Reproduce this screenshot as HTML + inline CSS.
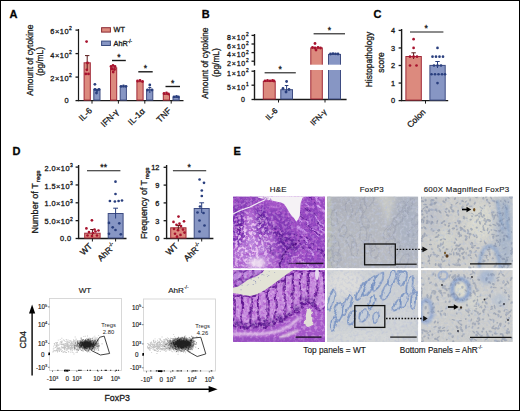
<!DOCTYPE html>
<html><head><meta charset="utf-8"><style>
html,body{margin:0;padding:0;background:#fff;overflow:hidden}
svg{display:block;font-family:"Liberation Sans", sans-serif;}
text{stroke:#1a1a1a;stroke-width:0.3px;}
text.ns{stroke:none;}
text.lt{stroke-width:0.15px;}
</style></head><body>
<svg width="520" height="411" viewBox="0 0 520 411">
<defs><filter id="b03" x="-5%" y="-5%" width="110%" height="110%"><feGaussianBlur stdDeviation="0.35"/></filter>
<filter id="b05" x="-20%" y="-20%" width="140%" height="140%"><feGaussianBlur stdDeviation="0.5"/></filter>
<filter id="b07" x="-5%" y="-5%" width="110%" height="110%"><feGaussianBlur stdDeviation="0.7"/></filter>
<filter id="b1" x="-30%" y="-30%" width="160%" height="160%"><feGaussianBlur stdDeviation="1"/></filter>
<filter id="b2" x="-50%" y="-50%" width="200%" height="200%"><feGaussianBlur stdDeviation="2"/></filter>
<filter id="b4" x="-50%" y="-50%" width="200%" height="200%"><feGaussianBlur stdDeviation="4"/></filter>
<filter id="b7" x="-50%" y="-50%" width="200%" height="200%"><feGaussianBlur stdDeviation="7"/></filter>
<filter id="warp" x="-10%" y="-10%" width="120%" height="120%"><feTurbulence type="fractalNoise" baseFrequency="0.09" numOctaves="2" seed="4" result="t"/><feDisplacementMap in="SourceGraphic" in2="t" scale="6" xChannelSelector="R" yChannelSelector="G"/><feGaussianBlur stdDeviation="0.6"/></filter>
<filter id="warp2" x="-10%" y="-10%" width="120%" height="120%"><feTurbulence type="fractalNoise" baseFrequency="0.12" numOctaves="2" seed="9" result="t"/><feDisplacementMap in="SourceGraphic" in2="t" scale="6" xChannelSelector="R" yChannelSelector="G"/><feGaussianBlur stdDeviation="0.45"/></filter>
<filter id="nHEd" x="0" y="0" width="100%" height="100%"><feTurbulence type="fractalNoise" baseFrequency="0.34" numOctaves="2" seed="3"/><feGaussianBlur stdDeviation="0.4"/><feColorMatrix type="matrix" values="0 0 0 0 0.42  0 0 0 0 0.10  0 0 0 0 0.60  4.2 0 0 0 -1.95"/></filter>
<filter id="nHEl" x="0" y="0" width="100%" height="100%"><feTurbulence type="fractalNoise" baseFrequency="0.34" numOctaves="2" seed="8"/><feGaussianBlur stdDeviation="0.4"/><feColorMatrix type="matrix" values="0 0 0 0 0.88  0 0 0 0 0.62  0 0 0 0 0.92  4.2 0 0 0 -1.95"/></filter>
<filter id="nFd" x="0" y="0" width="100%" height="100%"><feTurbulence type="fractalNoise" baseFrequency="0.32" numOctaves="2" seed="5"/><feGaussianBlur stdDeviation="0.45"/><feColorMatrix type="matrix" values="0 0 0 0 0.50  0 0 0 0 0.54  0 0 0 0 0.68  2.6 0 0 0 -1.25"/></filter>
<filter id="nFl" x="0" y="0" width="100%" height="100%"><feTurbulence type="fractalNoise" baseFrequency="0.32" numOctaves="2" seed="13"/><feGaussianBlur stdDeviation="0.45"/><feColorMatrix type="matrix" values="0 0 0 0 0.86  0 0 0 0 0.87  0 0 0 0 0.86  2.4 0 0 0 -1.15"/></filter>
<filter id="nMd" x="0" y="0" width="100%" height="100%"><feTurbulence type="fractalNoise" baseFrequency="0.35" numOctaves="2" seed="21"/><feGaussianBlur stdDeviation="0.4"/><feColorMatrix type="matrix" values="0 0 0 0 0.45  0 0 0 0 0.52  0 0 0 0 0.68  3.0 0 0 0 -1.5"/></filter>

<clipPath id="c00"><rect x="233" y="196.5" width="92.0" height="71.8"/></clipPath>
<clipPath id="c01"><rect x="327" y="196.5" width="91.2" height="71.8"/></clipPath>
<clipPath id="c02"><rect x="421" y="196.5" width="91.8" height="71.8"/></clipPath>
<clipPath id="c10"><rect x="233" y="270.1" width="92.0" height="71.9"/></clipPath>
<clipPath id="c11"><rect x="327" y="270.1" width="91.2" height="71.9"/></clipPath>
<clipPath id="c12"><rect x="421" y="270.1" width="91.8" height="71.9"/></clipPath>
<mask id="mL0" maskUnits="userSpaceOnUse" x="233" y="196" width="92" height="72"><ellipse cx="250" cy="244" rx="20" ry="30" fill="#fff" filter="url(#b7)"/><ellipse cx="300" cy="258" rx="10" ry="8" fill="#888" filter="url(#b4)"/></mask></defs>
<rect x="0.50" y="0.50" width="519.00" height="410.00" fill="#fff" stroke="#000" stroke-width="1"/>
<text x="9.50" y="17.80" font-size="11" text-anchor="start" font-weight="bold" fill="#000">A</text>
<text x="201.70" y="17.60" font-size="11" text-anchor="start" font-weight="bold" fill="#000">B</text>
<text x="373.40" y="17.80" font-size="11" text-anchor="start" font-weight="bold" fill="#000">C</text>
<text x="12.40" y="154.80" font-size="11" text-anchor="start" font-weight="bold" fill="#000">D</text>
<text x="233.60" y="154.60" font-size="11" text-anchor="start" font-weight="bold" fill="#000">E</text>
<line x1="78.50" y1="29.00" x2="78.50" y2="101.10" stroke="#1a1a1a" stroke-width="1.2"/>
<line x1="78.00" y1="100.60" x2="183.50" y2="100.60" stroke="#1a1a1a" stroke-width="1.2"/>
<line x1="75.50" y1="30.10" x2="78.50" y2="30.10" stroke="#1a1a1a" stroke-width="1.3"/>
<text x="71.90" y="34.10" font-size="7.4" text-anchor="end" fill="#1a1a1a" letter-spacing="0.55">6×10<tspan dy="-3.70" font-size="5.03" letter-spacing="0">2</tspan></text>
<line x1="75.50" y1="53.60" x2="78.50" y2="53.60" stroke="#1a1a1a" stroke-width="1.3"/>
<text x="71.90" y="57.60" font-size="7.4" text-anchor="end" fill="#1a1a1a" letter-spacing="0.55">4×10<tspan dy="-3.70" font-size="5.03" letter-spacing="0">2</tspan></text>
<line x1="75.50" y1="77.10" x2="78.50" y2="77.10" stroke="#1a1a1a" stroke-width="1.3"/>
<text x="71.90" y="81.10" font-size="7.4" text-anchor="end" fill="#1a1a1a" letter-spacing="0.55">2×10<tspan dy="-3.70" font-size="5.03" letter-spacing="0">2</tspan></text>
<line x1="75.50" y1="100.60" x2="78.50" y2="100.60" stroke="#1a1a1a" stroke-width="1.3"/>
<text x="68.50" y="103.30" font-size="7.4" text-anchor="end" fill="#1a1a1a">0</text>
<text x="32.60" y="60.20" font-size="8.4" text-anchor="middle" fill="#1a1a1a" transform="rotate(-90 32.6 60.2)">Amount of cytokine</text>
<text x="43.00" y="61.40" font-size="8.4" text-anchor="middle" fill="#1a1a1a" transform="rotate(-90 43.0 61.4)">(pg/mL)</text>
<rect x="101.60" y="27.70" width="8.80" height="4.40" fill="#dc8a7e" stroke="#8c2a32" stroke-width="1"/>
<text x="113.60" y="32.30" font-size="7.3" text-anchor="start" fill="#1a1a1a">WT</text>
<rect x="101.60" y="41.10" width="8.80" height="4.40" fill="#8796c4" stroke="#3a4c80" stroke-width="1"/>
<text x="113.60" y="46.20" font-size="7.3" text-anchor="start" fill="#1a1a1a">AhR<tspan dy="-3.07" font-size="4.53">-/-</tspan></text>
<rect x="84.10" y="62.80" width="6.20" height="37.30" fill="#dc8a7e" stroke="#a02838" stroke-width="1"/>
<rect x="93.80" y="89.30" width="6.20" height="10.80" fill="#8796c4" stroke="#3e4c82" stroke-width="1"/>
<line x1="92.00" y1="100.60" x2="92.00" y2="103.60" stroke="#1a1a1a" stroke-width="1"/>
<rect x="110.50" y="67.80" width="6.20" height="32.30" fill="#dc8a7e" stroke="#a02838" stroke-width="1"/>
<rect x="120.20" y="86.80" width="6.20" height="13.30" fill="#8796c4" stroke="#3e4c82" stroke-width="1"/>
<line x1="118.40" y1="100.60" x2="118.40" y2="103.60" stroke="#1a1a1a" stroke-width="1"/>
<rect x="136.90" y="81.70" width="6.20" height="18.40" fill="#dc8a7e" stroke="#a02838" stroke-width="1"/>
<rect x="146.60" y="89.80" width="6.20" height="10.30" fill="#8796c4" stroke="#3e4c82" stroke-width="1"/>
<line x1="144.80" y1="100.60" x2="144.80" y2="103.60" stroke="#1a1a1a" stroke-width="1"/>
<rect x="163.30" y="94.40" width="6.20" height="5.70" fill="#dc8a7e" stroke="#a02838" stroke-width="1"/>
<rect x="173.00" y="97.40" width="6.20" height="2.70" fill="#8796c4" stroke="#3e4c82" stroke-width="1"/>
<line x1="171.20" y1="100.60" x2="171.20" y2="103.60" stroke="#1a1a1a" stroke-width="1"/>
<line x1="87.20" y1="55.60" x2="87.20" y2="70.50" stroke="#5a1a1a" stroke-width="1"/>
<line x1="85.00" y1="55.60" x2="89.40" y2="55.60" stroke="#5a1a1a" stroke-width="1"/>
<circle cx="86.60" cy="41.60" r="1.4" fill="#a8132e"/>
<circle cx="85.80" cy="73.90" r="1.4" fill="#a8132e"/>
<circle cx="88.50" cy="73.90" r="1.4" fill="#a8132e"/>
<circle cx="86.80" cy="69.80" r="1.4" fill="#a8132e"/>
<circle cx="87.50" cy="63.00" r="1.4" fill="#a8132e"/>
<circle cx="94.90" cy="84.30" r="1.4" fill="#2a3f7e"/>
<circle cx="95.00" cy="89.50" r="1.4" fill="#2a3f7e"/>
<circle cx="97.00" cy="90.50" r="1.4" fill="#2a3f7e"/>
<circle cx="99.00" cy="89.50" r="1.4" fill="#2a3f7e"/>
<circle cx="96.50" cy="93.00" r="1.4" fill="#2a3f7e"/>
<circle cx="111.00" cy="66.50" r="1.4" fill="#a8132e"/>
<circle cx="113.00" cy="65.50" r="1.4" fill="#a8132e"/>
<circle cx="115.00" cy="66.50" r="1.4" fill="#a8132e"/>
<circle cx="112.00" cy="69.00" r="1.4" fill="#a8132e"/>
<circle cx="114.50" cy="69.50" r="1.4" fill="#a8132e"/>
<circle cx="113.20" cy="72.00" r="1.4" fill="#a8132e"/>
<circle cx="121.00" cy="86.30" r="1.4" fill="#2a3f7e"/>
<circle cx="123.50" cy="86.00" r="1.4" fill="#2a3f7e"/>
<circle cx="126.00" cy="86.30" r="1.4" fill="#2a3f7e"/>
<circle cx="137.50" cy="81.00" r="1.4" fill="#a8132e"/>
<circle cx="140.00" cy="80.50" r="1.4" fill="#a8132e"/>
<circle cx="142.50" cy="81.50" r="1.4" fill="#a8132e"/>
<circle cx="149.80" cy="85.00" r="1.4" fill="#2a3f7e"/>
<circle cx="147.50" cy="90.00" r="1.4" fill="#2a3f7e"/>
<circle cx="152.00" cy="90.00" r="1.4" fill="#2a3f7e"/>
<line x1="149.80" y1="87.50" x2="149.80" y2="93.00" stroke="#2a3f7e" stroke-width="1"/>
<line x1="148.30" y1="87.50" x2="151.30" y2="87.50" stroke="#2a3f7e" stroke-width="1"/>
<circle cx="164.00" cy="93.50" r="1.4" fill="#a8132e"/>
<circle cx="166.50" cy="93.00" r="1.4" fill="#a8132e"/>
<circle cx="168.50" cy="94.00" r="1.4" fill="#a8132e"/>
<circle cx="174.00" cy="96.80" r="1.4" fill="#2a3f7e"/>
<circle cx="176.50" cy="96.50" r="1.4" fill="#2a3f7e"/>
<circle cx="178.50" cy="97.00" r="1.4" fill="#2a3f7e"/>
<line x1="112.00" y1="60.50" x2="125.80" y2="60.50" stroke="#1a1a1a" stroke-width="1.4"/>
<text x="118.90" y="59.60" font-size="8.6" text-anchor="middle" fill="#1a1a1a">*</text>
<line x1="138.30" y1="71.80" x2="152.70" y2="71.80" stroke="#1a1a1a" stroke-width="1.4"/>
<text x="145.50" y="70.90" font-size="8.6" text-anchor="middle" fill="#1a1a1a">*</text>
<line x1="165.50" y1="86.50" x2="180.00" y2="86.50" stroke="#1a1a1a" stroke-width="1.4"/>
<text x="172.75" y="85.60" font-size="8.6" text-anchor="middle" fill="#1a1a1a">*</text>
<text x="92.60" y="111.20" font-size="8.5" text-anchor="end" fill="#1a1a1a" transform="rotate(-45 92.6 111.19999999999999)">IL-6</text>
<text x="119.00" y="112.80" font-size="8.5" text-anchor="end" fill="#1a1a1a" transform="rotate(-45 119.0 112.79999999999998)">IFN-γ</text>
<text x="145.40" y="111.80" font-size="8.5" text-anchor="end" fill="#1a1a1a" transform="rotate(-45 145.4 111.79999999999998)">IL-1α</text>
<text x="171.80" y="111.20" font-size="8.5" text-anchor="end" fill="#1a1a1a" transform="rotate(-45 171.79999999999998 111.19999999999999)">TNF</text>
<line x1="254.50" y1="34.00" x2="254.50" y2="65.60" stroke="#1a1a1a" stroke-width="1.4"/>
<line x1="254.50" y1="70.00" x2="254.50" y2="100.00" stroke="#1a1a1a" stroke-width="1.4"/>
<line x1="254.00" y1="99.50" x2="346.60" y2="99.50" stroke="#1a1a1a" stroke-width="1.4"/>
<line x1="251.50" y1="35.40" x2="254.50" y2="35.40" stroke="#1a1a1a" stroke-width="1.3"/>
<text x="248.70" y="39.90" font-size="7.0" text-anchor="end" fill="#1a1a1a" letter-spacing="0.8">8×10<tspan dy="-3.50" font-size="4.76" letter-spacing="0">2</tspan></text>
<line x1="251.50" y1="44.00" x2="254.50" y2="44.00" stroke="#1a1a1a" stroke-width="1.3"/>
<text x="248.70" y="48.50" font-size="7.0" text-anchor="end" fill="#1a1a1a" letter-spacing="0.8">6×10<tspan dy="-3.50" font-size="4.76" letter-spacing="0">2</tspan></text>
<line x1="251.50" y1="52.60" x2="254.50" y2="52.60" stroke="#1a1a1a" stroke-width="1.3"/>
<text x="248.70" y="57.10" font-size="7.0" text-anchor="end" fill="#1a1a1a" letter-spacing="0.8">4×10<tspan dy="-3.50" font-size="4.76" letter-spacing="0">2</tspan></text>
<line x1="251.50" y1="61.20" x2="254.50" y2="61.20" stroke="#1a1a1a" stroke-width="1.3"/>
<text x="248.70" y="65.70" font-size="7.0" text-anchor="end" fill="#1a1a1a" letter-spacing="0.8">2×10<tspan dy="-3.50" font-size="4.76" letter-spacing="0">2</tspan></text>
<line x1="251.50" y1="71.20" x2="254.50" y2="71.20" stroke="#1a1a1a" stroke-width="1.3"/>
<text x="248.70" y="75.70" font-size="7.0" text-anchor="end" fill="#1a1a1a" letter-spacing="0.8">1×10<tspan dy="-3.50" font-size="4.76" letter-spacing="0">2</tspan></text>
<line x1="251.50" y1="85.20" x2="254.50" y2="85.20" stroke="#1a1a1a" stroke-width="1.3"/>
<text x="248.70" y="89.70" font-size="7.0" text-anchor="end" fill="#1a1a1a" letter-spacing="0.8">5×10<tspan dy="-3.50" font-size="4.76" letter-spacing="0">1</tspan></text>
<line x1="251.50" y1="99.50" x2="254.50" y2="99.50" stroke="#1a1a1a" stroke-width="1.3"/>
<text x="245.00" y="102.10" font-size="7.0" text-anchor="end" fill="#1a1a1a">0</text>
<text x="208.00" y="63.10" font-size="8.4" text-anchor="middle" fill="#1a1a1a" transform="rotate(-90 208.0 63.1)">Amount of cytokine</text>
<text x="218.80" y="62.60" font-size="8.4" text-anchor="middle" fill="#1a1a1a" transform="rotate(-90 218.8 62.6)">(pg/mL)</text>
<rect x="263.30" y="81.40" width="11.90" height="17.60" fill="#dc8a7e" stroke="#a02838" stroke-width="1"/>
<rect x="280.80" y="89.70" width="11.70" height="9.30" fill="#8796c4" stroke="#3e4c82" stroke-width="1"/>
<rect x="310.80" y="47.90" width="11.50" height="51.10" fill="#dc8a7e" stroke="#a02838" stroke-width="1"/>
<rect x="328.50" y="54.40" width="12.00" height="44.60" fill="#8796c4" stroke="#3e4c82" stroke-width="1"/>
<rect x="309.00" y="64.70" width="34.00" height="5.30" fill="#fff"/>
<line x1="278.50" y1="99.50" x2="278.50" y2="102.50" stroke="#1a1a1a" stroke-width="1"/>
<line x1="325.00" y1="99.50" x2="325.00" y2="102.50" stroke="#1a1a1a" stroke-width="1"/>
<circle cx="265.00" cy="80.80" r="1.4" fill="#a8132e"/>
<circle cx="267.50" cy="80.40" r="1.4" fill="#a8132e"/>
<circle cx="270.00" cy="80.80" r="1.4" fill="#a8132e"/>
<circle cx="272.50" cy="80.50" r="1.4" fill="#a8132e"/>
<circle cx="274.00" cy="81.00" r="1.4" fill="#a8132e"/>
<line x1="286.60" y1="85.50" x2="286.60" y2="93.00" stroke="#2a3f7e" stroke-width="1"/>
<line x1="284.80" y1="85.50" x2="288.40" y2="85.50" stroke="#2a3f7e" stroke-width="1"/>
<circle cx="286.60" cy="81.50" r="1.4" fill="#2a3f7e"/>
<circle cx="283.00" cy="88.50" r="1.4" fill="#2a3f7e"/>
<circle cx="289.00" cy="89.50" r="1.4" fill="#2a3f7e"/>
<circle cx="286.00" cy="92.00" r="1.4" fill="#2a3f7e"/>
<circle cx="315.00" cy="43.50" r="1.4" fill="#a8132e"/>
<circle cx="312.50" cy="47.50" r="1.4" fill="#a8132e"/>
<circle cx="315.00" cy="48.00" r="1.4" fill="#a8132e"/>
<circle cx="318.00" cy="47.50" r="1.4" fill="#a8132e"/>
<circle cx="320.50" cy="48.00" r="1.4" fill="#a8132e"/>
<circle cx="316.00" cy="50.00" r="1.4" fill="#a8132e"/>
<circle cx="330.50" cy="54.00" r="1.4" fill="#2a3f7e"/>
<circle cx="333.00" cy="53.60" r="1.4" fill="#2a3f7e"/>
<circle cx="335.50" cy="53.80" r="1.4" fill="#2a3f7e"/>
<circle cx="338.00" cy="54.00" r="1.4" fill="#2a3f7e"/>
<line x1="264.60" y1="72.80" x2="295.80" y2="72.80" stroke="#1a1a1a" stroke-width="1.1"/>
<text x="280.20" y="71.60" font-size="8.6" text-anchor="middle" fill="#1a1a1a">*</text>
<line x1="313.60" y1="33.80" x2="345.00" y2="33.80" stroke="#1a1a1a" stroke-width="1.1"/>
<text x="329.50" y="32.60" font-size="8.6" text-anchor="middle" fill="#1a1a1a">*</text>
<text x="278.20" y="111.30" font-size="7.8" text-anchor="end" fill="#1a1a1a" transform="rotate(-45 278.2 111.3)">IL-6</text>
<text x="327.00" y="112.60" font-size="7.8" text-anchor="end" fill="#1a1a1a" transform="rotate(-45 327.0 112.6)">IFN-γ</text>
<line x1="401.60" y1="29.00" x2="401.60" y2="101.10" stroke="#1a1a1a" stroke-width="1.4"/>
<line x1="401.10" y1="100.60" x2="448.20" y2="100.60" stroke="#1a1a1a" stroke-width="1.4"/>
<line x1="398.60" y1="100.60" x2="401.60" y2="100.60" stroke="#1a1a1a" stroke-width="1.3"/>
<text x="395.00" y="103.40" font-size="7.4" text-anchor="end" fill="#1a1a1a">0</text>
<line x1="398.60" y1="83.05" x2="401.60" y2="83.05" stroke="#1a1a1a" stroke-width="1.3"/>
<text x="395.00" y="85.85" font-size="7.4" text-anchor="end" fill="#1a1a1a">1</text>
<line x1="398.60" y1="65.50" x2="401.60" y2="65.50" stroke="#1a1a1a" stroke-width="1.3"/>
<text x="395.00" y="68.30" font-size="7.4" text-anchor="end" fill="#1a1a1a">2</text>
<line x1="398.60" y1="47.95" x2="401.60" y2="47.95" stroke="#1a1a1a" stroke-width="1.3"/>
<text x="395.00" y="50.75" font-size="7.4" text-anchor="end" fill="#1a1a1a">3</text>
<line x1="398.60" y1="30.40" x2="401.60" y2="30.40" stroke="#1a1a1a" stroke-width="1.3"/>
<text x="395.00" y="33.20" font-size="7.4" text-anchor="end" fill="#1a1a1a">4</text>
<text x="372.30" y="59.50" font-size="8.4" text-anchor="middle" fill="#1a1a1a" transform="rotate(-90 372.3 59.5)">Histopathology</text>
<text x="384.00" y="62.50" font-size="8.4" text-anchor="middle" fill="#1a1a1a" transform="rotate(-90 384.0 62.5)">score</text>
<rect x="405.90" y="56.50" width="15.40" height="43.60" fill="#dc8a7e" stroke="#a02838" stroke-width="1"/>
<rect x="429.90" y="65.40" width="15.30" height="34.70" fill="#8796c4" stroke="#3e4c82" stroke-width="1"/>
<line x1="425.50" y1="100.60" x2="425.50" y2="103.60" stroke="#1a1a1a" stroke-width="1"/>
<line x1="413.60" y1="52.80" x2="413.60" y2="59.00" stroke="#5a1a1a" stroke-width="1"/>
<line x1="411.40" y1="52.80" x2="415.80" y2="52.80" stroke="#5a1a1a" stroke-width="1"/>
<line x1="437.50" y1="61.50" x2="437.50" y2="68.00" stroke="#2a3f7e" stroke-width="1"/>
<line x1="435.30" y1="61.50" x2="439.70" y2="61.50" stroke="#2a3f7e" stroke-width="1"/>
<circle cx="413.60" cy="39.17" r="1.35" fill="#a8132e"/>
<circle cx="413.60" cy="47.95" r="1.35" fill="#a8132e"/>
<circle cx="410.00" cy="56.72" r="1.35" fill="#a8132e"/>
<circle cx="413.60" cy="56.72" r="1.35" fill="#a8132e"/>
<circle cx="417.00" cy="56.72" r="1.35" fill="#a8132e"/>
<circle cx="410.00" cy="65.50" r="1.35" fill="#a8132e"/>
<circle cx="416.50" cy="65.50" r="1.35" fill="#a8132e"/>
<circle cx="437.50" cy="47.95" r="1.35" fill="#2a3f7e"/>
<circle cx="432.50" cy="56.72" r="1.35" fill="#2a3f7e"/>
<circle cx="436.00" cy="56.72" r="1.35" fill="#2a3f7e"/>
<circle cx="439.50" cy="56.72" r="1.35" fill="#2a3f7e"/>
<circle cx="443.00" cy="56.72" r="1.35" fill="#2a3f7e"/>
<circle cx="434.00" cy="65.50" r="1.35" fill="#2a3f7e"/>
<circle cx="437.50" cy="65.50" r="1.35" fill="#2a3f7e"/>
<circle cx="441.00" cy="65.50" r="1.35" fill="#2a3f7e"/>
<circle cx="431.50" cy="74.27" r="1.35" fill="#2a3f7e"/>
<circle cx="435.00" cy="74.27" r="1.35" fill="#2a3f7e"/>
<circle cx="438.50" cy="74.27" r="1.35" fill="#2a3f7e"/>
<circle cx="442.00" cy="74.27" r="1.35" fill="#2a3f7e"/>
<circle cx="445.00" cy="74.27" r="1.35" fill="#2a3f7e"/>
<circle cx="437.50" cy="83.05" r="1.35" fill="#2a3f7e"/>
<line x1="410.00" y1="32.00" x2="443.40" y2="32.00" stroke="#1a1a1a" stroke-width="1.1"/>
<text x="426.30" y="31.00" font-size="8.6" text-anchor="middle" fill="#1a1a1a">*</text>
<text x="426.20" y="112.60" font-size="8.5" text-anchor="end" fill="#1a1a1a" transform="rotate(-45 426.2 112.6)">Colon</text>
<line x1="78.60" y1="165.00" x2="78.60" y2="239.00" stroke="#1a1a1a" stroke-width="1.4"/>
<line x1="78.10" y1="238.50" x2="126.50" y2="238.50" stroke="#1a1a1a" stroke-width="1.4"/>
<line x1="75.60" y1="167.10" x2="78.60" y2="167.10" stroke="#1a1a1a" stroke-width="1.3"/>
<text x="72.80" y="170.70" font-size="7.4" text-anchor="end" fill="#1a1a1a" letter-spacing="0.45">2.0×10<tspan dy="-3.70" font-size="5.03" letter-spacing="0">3</tspan></text>
<line x1="75.60" y1="184.95" x2="78.60" y2="184.95" stroke="#1a1a1a" stroke-width="1.3"/>
<text x="72.80" y="188.55" font-size="7.4" text-anchor="end" fill="#1a1a1a" letter-spacing="0.45">1.5×10<tspan dy="-3.70" font-size="5.03" letter-spacing="0">3</tspan></text>
<line x1="75.60" y1="202.80" x2="78.60" y2="202.80" stroke="#1a1a1a" stroke-width="1.3"/>
<text x="72.80" y="206.40" font-size="7.4" text-anchor="end" fill="#1a1a1a" letter-spacing="0.45">1.0×10<tspan dy="-3.70" font-size="5.03" letter-spacing="0">3</tspan></text>
<line x1="75.60" y1="220.65" x2="78.60" y2="220.65" stroke="#1a1a1a" stroke-width="1.3"/>
<text x="72.80" y="224.25" font-size="7.4" text-anchor="end" fill="#1a1a1a" letter-spacing="0.45">5.0×10<tspan dy="-3.70" font-size="5.03" letter-spacing="0">2</tspan></text>
<line x1="75.60" y1="238.50" x2="78.60" y2="238.50" stroke="#1a1a1a" stroke-width="1.3"/>
<text x="71.50" y="241.30" font-size="7.4" text-anchor="end" fill="#1a1a1a" letter-spacing="0.45">0.0</text>
<text x="37.90" y="233.60" font-size="9.1" text-anchor="start" fill="#1a1a1a" transform="rotate(-90 37.9 233.6)">Number of T<tspan font-size="6.2" dy="2.3" dx="0.9">regs</tspan></text>
<rect x="84.70" y="233.20" width="15.40" height="4.80" fill="#dc8a7e" stroke="#a02838" stroke-width="1"/>
<rect x="108.20" y="213.50" width="14.90" height="24.50" fill="#8796c4" stroke="#3e4c82" stroke-width="1"/>
<line x1="92.40" y1="229.50" x2="92.40" y2="235.50" stroke="#5a1a1a" stroke-width="1"/>
<line x1="90.20" y1="229.50" x2="94.60" y2="229.50" stroke="#5a1a1a" stroke-width="1"/>
<line x1="115.60" y1="208.20" x2="115.60" y2="218.50" stroke="#2a3f7e" stroke-width="1"/>
<line x1="113.20" y1="208.20" x2="118.00" y2="208.20" stroke="#2a3f7e" stroke-width="1"/>
<circle cx="91.90" cy="220.30" r="1.35" fill="#a8132e"/>
<circle cx="86.40" cy="228.40" r="1.35" fill="#a8132e"/>
<circle cx="98.50" cy="230.50" r="1.35" fill="#a8132e"/>
<circle cx="89.00" cy="232.00" r="1.35" fill="#a8132e"/>
<circle cx="93.00" cy="233.00" r="1.35" fill="#a8132e"/>
<circle cx="95.50" cy="231.50" r="1.35" fill="#a8132e"/>
<circle cx="87.50" cy="235.50" r="1.35" fill="#a8132e"/>
<circle cx="92.00" cy="236.00" r="1.35" fill="#a8132e"/>
<circle cx="97.00" cy="235.50" r="1.35" fill="#a8132e"/>
<circle cx="94.50" cy="229.50" r="1.35" fill="#a8132e"/>
<circle cx="115.50" cy="181.70" r="1.35" fill="#2a3f7e"/>
<circle cx="115.50" cy="194.00" r="1.35" fill="#2a3f7e"/>
<circle cx="109.90" cy="201.00" r="1.35" fill="#2a3f7e"/>
<circle cx="114.90" cy="201.50" r="1.35" fill="#2a3f7e"/>
<circle cx="118.60" cy="201.00" r="1.35" fill="#2a3f7e"/>
<circle cx="122.00" cy="200.50" r="1.35" fill="#2a3f7e"/>
<circle cx="109.00" cy="222.90" r="1.35" fill="#2a3f7e"/>
<circle cx="119.30" cy="223.30" r="1.35" fill="#2a3f7e"/>
<circle cx="112.70" cy="227.30" r="1.35" fill="#2a3f7e"/>
<circle cx="109.00" cy="233.80" r="1.35" fill="#2a3f7e"/>
<circle cx="120.80" cy="234.30" r="1.35" fill="#2a3f7e"/>
<circle cx="115.50" cy="230.00" r="1.35" fill="#2a3f7e"/>
<line x1="87.00" y1="170.80" x2="120.40" y2="170.80" stroke="#1a1a1a" stroke-width="1.1"/>
<text x="103.70" y="169.80" font-size="8.6" text-anchor="middle" fill="#1a1a1a">**</text>
<line x1="92.40" y1="238.50" x2="92.40" y2="241.50" stroke="#1a1a1a" stroke-width="1"/>
<line x1="115.60" y1="238.50" x2="115.60" y2="241.50" stroke="#1a1a1a" stroke-width="1"/>
<text x="92.80" y="246.50" font-size="8.5" text-anchor="end" fill="#1a1a1a" transform="rotate(-45 92.8 246.5)">WT</text>
<text x="116.30" y="246.50" font-size="8.5" text-anchor="end" fill="#1a1a1a" transform="rotate(-45 116.3 246.5)">AhR<tspan dy="-3.57" font-size="5.27">-/-</tspan></text>
<line x1="166.60" y1="165.00" x2="166.60" y2="239.00" stroke="#1a1a1a" stroke-width="1.4"/>
<line x1="166.10" y1="238.50" x2="213.40" y2="238.50" stroke="#1a1a1a" stroke-width="1.4"/>
<line x1="163.60" y1="167.30" x2="166.60" y2="167.30" stroke="#1a1a1a" stroke-width="1.3"/>
<text x="159.40" y="170.10" font-size="7.4" text-anchor="end" fill="#1a1a1a">12</text>
<line x1="163.60" y1="185.10" x2="166.60" y2="185.10" stroke="#1a1a1a" stroke-width="1.3"/>
<text x="159.40" y="187.90" font-size="7.4" text-anchor="end" fill="#1a1a1a">9</text>
<line x1="163.60" y1="202.90" x2="166.60" y2="202.90" stroke="#1a1a1a" stroke-width="1.3"/>
<text x="159.40" y="205.70" font-size="7.4" text-anchor="end" fill="#1a1a1a">6</text>
<line x1="163.60" y1="220.70" x2="166.60" y2="220.70" stroke="#1a1a1a" stroke-width="1.3"/>
<text x="159.40" y="223.50" font-size="7.4" text-anchor="end" fill="#1a1a1a">3</text>
<line x1="163.60" y1="238.50" x2="166.60" y2="238.50" stroke="#1a1a1a" stroke-width="1.3"/>
<text x="159.40" y="241.30" font-size="7.4" text-anchor="end" fill="#1a1a1a">0</text>
<text x="146.60" y="239.00" font-size="8.8" text-anchor="start" fill="#1a1a1a" transform="rotate(-90 146.6 239.0)">Frequency of T<tspan font-size="6.0" dy="2.3" dx="0.8">regs</tspan></text>
<rect x="170.70" y="227.80" width="15.30" height="10.20" fill="#dc8a7e" stroke="#a02838" stroke-width="1"/>
<rect x="194.20" y="208.50" width="15.00" height="29.50" fill="#8796c4" stroke="#3e4c82" stroke-width="1"/>
<line x1="178.30" y1="225.50" x2="178.30" y2="229.50" stroke="#5a1a1a" stroke-width="1"/>
<line x1="176.10" y1="225.50" x2="180.50" y2="225.50" stroke="#5a1a1a" stroke-width="1"/>
<line x1="201.70" y1="202.80" x2="201.70" y2="213.00" stroke="#2a3f7e" stroke-width="1"/>
<line x1="199.30" y1="202.80" x2="204.10" y2="202.80" stroke="#2a3f7e" stroke-width="1"/>
<circle cx="178.50" cy="216.55" r="1.35" fill="#a8132e"/>
<circle cx="173.50" cy="221.89" r="1.35" fill="#a8132e"/>
<circle cx="184.00" cy="221.29" r="1.35" fill="#a8132e"/>
<circle cx="176.50" cy="224.85" r="1.35" fill="#a8132e"/>
<circle cx="179.50" cy="223.67" r="1.35" fill="#a8132e"/>
<circle cx="181.00" cy="226.04" r="1.35" fill="#a8132e"/>
<circle cx="174.00" cy="229.01" r="1.35" fill="#a8132e"/>
<circle cx="178.00" cy="230.19" r="1.35" fill="#a8132e"/>
<circle cx="183.00" cy="229.60" r="1.35" fill="#a8132e"/>
<circle cx="175.00" cy="233.75" r="1.35" fill="#a8132e"/>
<circle cx="180.50" cy="234.94" r="1.35" fill="#a8132e"/>
<circle cx="184.50" cy="232.57" r="1.35" fill="#a8132e"/>
<circle cx="177.00" cy="236.72" r="1.35" fill="#a8132e"/>
<circle cx="199.60" cy="179.50" r="1.35" fill="#2a3f7e"/>
<circle cx="204.00" cy="182.80" r="1.35" fill="#2a3f7e"/>
<circle cx="201.80" cy="190.50" r="1.35" fill="#2a3f7e"/>
<circle cx="201.80" cy="196.00" r="1.35" fill="#2a3f7e"/>
<circle cx="200.00" cy="206.50" r="1.35" fill="#2a3f7e"/>
<circle cx="197.50" cy="212.50" r="1.35" fill="#2a3f7e"/>
<circle cx="203.50" cy="213.00" r="1.35" fill="#2a3f7e"/>
<circle cx="199.50" cy="220.50" r="1.35" fill="#2a3f7e"/>
<circle cx="204.50" cy="225.50" r="1.35" fill="#2a3f7e"/>
<circle cx="199.50" cy="231.50" r="1.35" fill="#2a3f7e"/>
<line x1="172.90" y1="170.80" x2="206.20" y2="170.80" stroke="#1a1a1a" stroke-width="1.1"/>
<text x="189.30" y="169.80" font-size="8.6" text-anchor="middle" fill="#1a1a1a">*</text>
<line x1="178.30" y1="238.50" x2="178.30" y2="241.50" stroke="#1a1a1a" stroke-width="1"/>
<line x1="201.70" y1="238.50" x2="201.70" y2="241.50" stroke="#1a1a1a" stroke-width="1"/>
<text x="178.70" y="246.50" font-size="8.5" text-anchor="end" fill="#1a1a1a" transform="rotate(-45 178.7 246.5)">WT</text>
<text x="202.40" y="246.50" font-size="8.5" text-anchor="end" fill="#1a1a1a" transform="rotate(-45 202.4 246.5)">AhR<tspan dy="-3.57" font-size="5.27">-/-</tspan></text>
<rect x="49.50" y="298.50" width="72.00" height="72.00" fill="#fff" stroke="#d4d4d4" stroke-width="0.9"/>
<text x="47.40" y="309.20" font-size="6.3" text-anchor="end" fill="#1a1a1a" class="lt">10<tspan font-size="4.09" dy="-2.4">5</tspan></text>
<line x1="48.00" y1="306.90" x2="49.60" y2="306.90" stroke="#666" stroke-width="0.8"/>
<text x="47.40" y="326.50" font-size="6.3" text-anchor="end" fill="#1a1a1a" class="lt">10<tspan font-size="4.09" dy="-2.4">4</tspan></text>
<line x1="48.00" y1="324.20" x2="49.60" y2="324.20" stroke="#666" stroke-width="0.8"/>
<text x="47.40" y="345.70" font-size="6.3" text-anchor="end" fill="#1a1a1a" class="lt">10<tspan font-size="4.09" dy="-2.4">3</tspan></text>
<line x1="48.00" y1="343.40" x2="49.60" y2="343.40" stroke="#666" stroke-width="0.8"/>
<text x="44.60" y="356.90" font-size="6.3" text-anchor="end" fill="#1a1a1a" class="lt">0</text>
<line x1="48.00" y1="354.60" x2="49.60" y2="354.60" stroke="#666" stroke-width="0.8"/>
<text x="47.40" y="369.60" font-size="6.3" text-anchor="end" fill="#1a1a1a" class="lt">-10<tspan font-size="4.09" dy="-2.4">3</tspan></text>
<line x1="48.00" y1="367.30" x2="49.60" y2="367.30" stroke="#666" stroke-width="0.8"/>
<text x="52.50" y="381.20" font-size="6.3" text-anchor="middle" fill="#1a1a1a" class="lt">-10<tspan font-size="4.09" dy="-2.4">3</tspan></text>
<line x1="52.50" y1="370.40" x2="52.50" y2="372.00" stroke="#666" stroke-width="0.8"/>
<text x="67.20" y="381.20" font-size="6.3" text-anchor="middle" fill="#1a1a1a" class="lt">0</text>
<line x1="67.20" y1="370.40" x2="67.20" y2="372.00" stroke="#666" stroke-width="0.8"/>
<text x="76.80" y="381.20" font-size="6.3" text-anchor="middle" fill="#1a1a1a" class="lt">10<tspan font-size="4.09" dy="-2.4">3</tspan></text>
<line x1="76.80" y1="370.40" x2="76.80" y2="372.00" stroke="#666" stroke-width="0.8"/>
<text x="98.00" y="381.20" font-size="6.3" text-anchor="middle" fill="#1a1a1a" class="lt">10<tspan font-size="4.09" dy="-2.4">4</tspan></text>
<line x1="98.00" y1="370.40" x2="98.00" y2="372.00" stroke="#666" stroke-width="0.8"/>
<text x="115.30" y="381.20" font-size="6.3" text-anchor="middle" fill="#1a1a1a" class="lt">10<tspan font-size="4.09" dy="-2.4">5</tspan></text>
<line x1="115.30" y1="370.40" x2="115.30" y2="372.00" stroke="#666" stroke-width="0.8"/>
<g filter="url(#b03)">
<path fill="#000" fill-opacity="0.24" d="M77.0 344.5h.9v.9h-.9zM59.9 340.9h.9v.9h-.9zM92.6 342.5h.9v.9h-.9zM90.6 345.3h.9v.9h-.9zM72.1 344.8h.9v.9h-.9zM73.1 341.0h.9v.9h-.9zM89.5 343.2h.9v.9h-.9zM82.6 344.5h.9v.9h-.9zM65.7 347.7h.9v.9h-.9zM66.3 340.5h.9v.9h-.9zM63.6 347.6h.9v.9h-.9zM82.0 343.2h.9v.9h-.9zM96.2 344.5h.9v.9h-.9zM90.0 346.3h.9v.9h-.9zM56.2 343.3h.9v.9h-.9zM66.7 343.0h.9v.9h-.9zM84.2 344.2h.9v.9h-.9zM93.7 346.2h.9v.9h-.9zM63.0 343.9h.9v.9h-.9zM85.0 340.2h.9v.9h-.9zM90.4 342.1h.9v.9h-.9zM81.0 345.8h.9v.9h-.9zM64.2 349.0h.9v.9h-.9zM97.4 342.3h.9v.9h-.9zM83.9 343.5h.9v.9h-.9zM69.7 344.7h.9v.9h-.9zM75.2 344.5h.9v.9h-.9zM81.7 341.8h.9v.9h-.9zM75.8 343.6h.9v.9h-.9zM74.0 345.6h.9v.9h-.9zM56.2 346.2h.9v.9h-.9zM81.7 344.7h.9v.9h-.9zM90.7 341.1h.9v.9h-.9zM63.9 343.8h.9v.9h-.9zM71.9 342.9h.9v.9h-.9zM78.7 347.9h.9v.9h-.9zM84.1 348.8h.9v.9h-.9zM95.4 344.9h.9v.9h-.9zM56.6 350.6h.9v.9h-.9zM90.6 343.3h.9v.9h-.9zM86.1 343.5h.9v.9h-.9zM92.5 340.2h.9v.9h-.9zM86.2 345.1h.9v.9h-.9zM62.1 344.2h.9v.9h-.9zM69.2 345.5h.9v.9h-.9zM89.4 345.7h.9v.9h-.9zM95.6 343.2h.9v.9h-.9zM61.0 342.3h.9v.9h-.9zM64.7 345.3h.9v.9h-.9zM55.5 345.7h.9v.9h-.9zM78.2 344.9h.9v.9h-.9zM64.3 347.5h.9v.9h-.9zM96.0 343.3h.9v.9h-.9zM81.6 343.8h.9v.9h-.9zM88.6 349.4h.9v.9h-.9zM63.8 348.7h.9v.9h-.9zM71.8 344.8h.9v.9h-.9zM85.5 341.7h.9v.9h-.9zM85.1 343.1h.9v.9h-.9zM61.7 346.8h.9v.9h-.9zM66.3 347.9h.9v.9h-.9zM87.2 351.5h.9v.9h-.9zM67.3 344.6h.9v.9h-.9zM78.3 345.3h.9v.9h-.9zM66.3 344.4h.9v.9h-.9zM89.3 344.5h.9v.9h-.9zM65.4 344.3h.9v.9h-.9zM66.6 342.2h.9v.9h-.9zM83.6 347.6h.9v.9h-.9zM92.4 344.5h.9v.9h-.9zM83.8 348.4h.9v.9h-.9zM75.9 343.5h.9v.9h-.9zM81.4 345.5h.9v.9h-.9zM77.0 346.9h.9v.9h-.9zM63.8 340.0h.9v.9h-.9zM67.5 341.5h.9v.9h-.9zM68.1 347.6h.9v.9h-.9zM76.5 345.3h.9v.9h-.9zM97.3 338.5h.9v.9h-.9zM54.3 343.9h.9v.9h-.9zM91.9 341.1h.9v.9h-.9zM66.8 344.0h.9v.9h-.9zM54.9 350.6h.9v.9h-.9zM78.1 343.2h.9v.9h-.9zM93.9 350.1h.9v.9h-.9zM88.2 343.7h.9v.9h-.9zM71.3 343.1h.9v.9h-.9zM91.9 348.9h.9v.9h-.9zM90.7 347.1h.9v.9h-.9zM66.8 349.6h.9v.9h-.9zM83.1 350.5h.9v.9h-.9zM56.2 349.2h.9v.9h-.9zM64.5 349.3h.9v.9h-.9zM97.0 338.9h.9v.9h-.9zM75.3 342.7h.9v.9h-.9zM78.7 346.2h.9v.9h-.9zM66.2 346.2h.9v.9h-.9zM94.2 346.3h.9v.9h-.9zM80.0 343.5h.9v.9h-.9zM76.9 348.3h.9v.9h-.9zM68.3 351.5h.9v.9h-.9zM63.7 347.5h.9v.9h-.9zM83.1 347.2h.9v.9h-.9zM96.5 345.6h.9v.9h-.9zM94.7 346.9h.9v.9h-.9zM81.0 345.5h.9v.9h-.9zM67.1 344.1h.9v.9h-.9zM98.4 344.6h.9v.9h-.9zM76.0 345.5h.9v.9h-.9zM66.6 341.1h.9v.9h-.9zM57.4 346.8h.9v.9h-.9zM89.7 344.5h.9v.9h-.9zM78.1 345.7h.9v.9h-.9zM89.2 342.9h.9v.9h-.9zM72.0 346.8h.9v.9h-.9zM61.8 347.7h.9v.9h-.9zM85.6 342.6h.9v.9h-.9zM97.9 345.0h.9v.9h-.9zM52.8 348.6h.9v.9h-.9zM84.6 346.9h.9v.9h-.9zM97.9 341.3h.9v.9h-.9zM91.8 341.3h.9v.9h-.9zM88.0 344.6h.9v.9h-.9zM97.3 340.9h.9v.9h-.9zM89.6 351.8h.9v.9h-.9zM67.0 343.1h.9v.9h-.9zM64.7 343.3h.9v.9h-.9zM86.4 346.5h.9v.9h-.9zM87.3 343.1h.9v.9h-.9zM89.3 337.4h.9v.9h-.9zM53.0 345.7h.9v.9h-.9zM93.4 341.2h.9v.9h-.9zM96.0 342.5h.9v.9h-.9zM89.0 339.6h.9v.9h-.9zM72.3 342.5h.9v.9h-.9zM84.2 344.1h.9v.9h-.9zM65.3 345.3h.9v.9h-.9zM90.5 340.9h.9v.9h-.9zM72.5 343.0h.9v.9h-.9zM77.6 342.3h.9v.9h-.9zM64.2 345.9h.9v.9h-.9zM78.6 344.3h.9v.9h-.9zM56.0 342.2h.9v.9h-.9zM77.8 346.7h.9v.9h-.9zM59.5 343.6h.9v.9h-.9zM68.1 346.4h.9v.9h-.9zM84.0 341.7h.9v.9h-.9zM63.1 346.4h.9v.9h-.9zM74.3 344.6h.9v.9h-.9zM92.1 344.2h.9v.9h-.9zM94.5 345.4h.9v.9h-.9zM82.2 345.8h.9v.9h-.9zM67.1 345.8h.9v.9h-.9zM87.4 344.7h.9v.9h-.9zM55.4 342.1h.9v.9h-.9zM89.0 344.0h.9v.9h-.9zM59.8 339.2h.9v.9h-.9zM96.6 337.2h.9v.9h-.9zM56.0 344.9h.9v.9h-.9zM55.7 345.2h.9v.9h-.9zM53.8 350.4h.9v.9h-.9zM94.7 345.9h.9v.9h-.9zM66.8 348.6h.9v.9h-.9zM77.5 343.8h.9v.9h-.9zM67.2 346.6h.9v.9h-.9zM85.1 347.8h.9v.9h-.9zM65.2 347.0h.9v.9h-.9zM64.2 346.5h.9v.9h-.9zM88.8 344.5h.9v.9h-.9zM90.9 341.4h.9v.9h-.9zM91.2 341.5h.9v.9h-.9zM60.9 341.4h.9v.9h-.9zM91.4 345.3h.9v.9h-.9zM87.9 343.5h.9v.9h-.9zM56.7 343.9h.9v.9h-.9zM81.5 345.7h.9v.9h-.9zM86.6 342.7h.9v.9h-.9zM92.7 347.2h.9v.9h-.9zM95.5 349.6h.9v.9h-.9zM58.7 347.1h.9v.9h-.9zM64.3 343.5h.9v.9h-.9zM76.9 340.4h.9v.9h-.9zM86.7 350.3h.9v.9h-.9zM81.0 346.0h.9v.9h-.9zM91.8 340.7h.9v.9h-.9zM87.6 347.5h.9v.9h-.9zM80.6 339.8h.9v.9h-.9zM67.5 344.1h.9v.9h-.9zM66.5 344.7h.9v.9h-.9zM97.3 342.8h.9v.9h-.9zM95.3 340.6h.9v.9h-.9zM72.6 352.2h.9v.9h-.9zM96.0 342.8h.9v.9h-.9zM82.1 345.8h.9v.9h-.9zM79.7 344.9h.9v.9h-.9zM89.8 339.5h.9v.9h-.9zM88.8 342.7h.9v.9h-.9zM77.5 345.5h.9v.9h-.9zM96.1 346.7h.9v.9h-.9zM76.6 343.9h.9v.9h-.9zM90.7 345.3h.9v.9h-.9zM94.8 343.0h.9v.9h-.9zM95.7 345.7h.9v.9h-.9zM93.3 336.7h.9v.9h-.9zM62.2 347.4h.9v.9h-.9zM97.5 342.0h.9v.9h-.9zM74.8 343.3h.9v.9h-.9zM74.7 336.6h.9v.9h-.9zM61.5 342.5h.9v.9h-.9zM90.5 346.1h.9v.9h-.9zM77.1 351.8h.9v.9h-.9zM94.6 341.9h.9v.9h-.9zM83.0 342.6h.9v.9h-.9zM73.6 346.5h.9v.9h-.9zM79.1 345.7h.9v.9h-.9zM72.7 343.4h.9v.9h-.9zM90.0 343.8h.9v.9h-.9zM96.9 342.8h.9v.9h-.9zM94.8 345.9h.9v.9h-.9zM98.1 346.2h.9v.9h-.9zM59.0 351.1h.9v.9h-.9zM93.1 346.9h.9v.9h-.9zM56.7 347.9h.9v.9h-.9zM95.0 344.5h.9v.9h-.9zM78.6 347.6h.9v.9h-.9zM92.0 341.2h.9v.9h-.9zM70.1 351.7h.9v.9h-.9zM90.8 345.1h.9v.9h-.9zM75.9 349.2h.9v.9h-.9zM74.5 342.7h.9v.9h-.9zM93.9 347.2h.9v.9h-.9zM95.5 345.2h.9v.9h-.9zM97.5 343.4h.9v.9h-.9zM83.1 342.6h.9v.9h-.9zM65.1 342.9h.9v.9h-.9zM61.3 351.1h.9v.9h-.9zM70.2 348.9h.9v.9h-.9zM75.7 345.4h.9v.9h-.9zM93.1 344.7h.9v.9h-.9zM77.0 342.8h.9v.9h-.9zM68.8 339.9h.9v.9h-.9zM92.8 338.8h.9v.9h-.9zM85.4 342.7h.9v.9h-.9zM71.3 344.8h.9v.9h-.9zM71.1 341.7h.9v.9h-.9zM84.3 347.0h.9v.9h-.9zM69.8 346.9h.9v.9h-.9zM93.0 344.6h.9v.9h-.9zM82.6 339.4h.9v.9h-.9zM82.3 344.0h.9v.9h-.9zM92.9 344.1h.9v.9h-.9zM86.2 340.7h.9v.9h-.9zM75.6 338.5h.9v.9h-.9zM88.0 350.1h.9v.9h-.9zM59.3 347.7h.9v.9h-.9zM90.2 343.1h.9v.9h-.9zM85.0 349.3h.9v.9h-.9zM89.5 347.6h.9v.9h-.9zM62.9 347.0h.9v.9h-.9zM79.0 345.5h.9v.9h-.9zM91.9 346.5h.9v.9h-.9zM82.5 349.1h.9v.9h-.9zM73.5 345.3h.9v.9h-.9zM73.9 344.4h.9v.9h-.9zM98.3 345.6h.9v.9h-.9zM83.3 336.2h.9v.9h-.9zM82.3 344.9h.9v.9h-.9zM67.4 344.2h.9v.9h-.9zM90.4 344.2h.9v.9h-.9zM79.1 344.3h.9v.9h-.9zM62.5 346.7h.9v.9h-.9zM95.9 344.3h.9v.9h-.9zM77.2 345.1h.9v.9h-.9zM98.5 343.5h.9v.9h-.9zM94.0 345.5h.9v.9h-.9zM89.6 342.8h.9v.9h-.9zM84.0 347.5h.9v.9h-.9zM80.8 339.7h.9v.9h-.9zM71.0 345.9h.9v.9h-.9zM79.6 346.2h.9v.9h-.9zM80.3 341.0h.9v.9h-.9zM63.1 344.4h.9v.9h-.9zM54.4 350.0h.9v.9h-.9zM56.7 345.6h.9v.9h-.9zM82.8 342.0h.9v.9h-.9zM98.2 334.9h.9v.9h-.9zM96.7 345.0h.9v.9h-.9zM75.9 345.3h.9v.9h-.9zM98.4 345.7h.9v.9h-.9zM97.7 350.1h.9v.9h-.9zM81.0 344.7h.9v.9h-.9zM94.9 344.5h.9v.9h-.9zM62.9 343.6h.9v.9h-.9zM92.4 344.0h.9v.9h-.9zM85.6 344.4h.9v.9h-.9zM92.0 346.5h.9v.9h-.9zM93.0 345.8h.9v.9h-.9zM97.2 341.6h.9v.9h-.9zM88.1 343.0h.9v.9h-.9zM95.1 348.2h.9v.9h-.9zM95.0 341.2h.9v.9h-.9zM58.2 348.1h.9v.9h-.9zM88.1 349.3h.9v.9h-.9zM80.7 346.7h.9v.9h-.9zM81.0 345.5h.9v.9h-.9zM58.6 350.0h.9v.9h-.9zM71.0 346.3h.9v.9h-.9zM87.1 344.4h.9v.9h-.9zM72.3 344.6h.9v.9h-.9zM89.2 347.8h.9v.9h-.9zM72.1 347.3h.9v.9h-.9zM93.8 348.7h.9v.9h-.9zM58.0 344.9h.9v.9h-.9zM82.3 343.7h.9v.9h-.9zM88.7 343.1h.9v.9h-.9zM82.6 345.5h.9v.9h-.9zM69.9 343.2h.9v.9h-.9zM90.1 347.1h.9v.9h-.9zM80.8 345.8h.9v.9h-.9zM66.1 342.6h.9v.9h-.9zM87.1 335.5h.9v.9h-.9zM75.7 339.5h.9v.9h-.9zM61.7 350.0h.9v.9h-.9zM80.1 344.6h.9v.9h-.9zM77.0 345.4h.9v.9h-.9zM73.1 343.9h.9v.9h-.9zM82.9 345.8h.9v.9h-.9zM81.0 339.0h.9v.9h-.9zM67.6 339.4h.9v.9h-.9zM66.5 340.6h.9v.9h-.9zM78.9 345.0h.9v.9h-.9zM72.9 347.3h.9v.9h-.9zM96.9 345.4h.9v.9h-.9zM56.3 345.6h.9v.9h-.9zM92.7 340.3h.9v.9h-.9zM74.0 347.5h.9v.9h-.9zM80.5 343.9h.9v.9h-.9zM90.9 344.2h.9v.9h-.9zM90.4 344.0h.9v.9h-.9zM95.0 342.6h.9v.9h-.9zM70.8 343.1h.9v.9h-.9zM87.5 342.6h.9v.9h-.9zM57.1 342.1h.9v.9h-.9zM94.6 344.8h.9v.9h-.9zM72.3 344.6h.9v.9h-.9zM71.8 348.3h.9v.9h-.9zM95.9 338.6h.9v.9h-.9zM84.4 348.1h.9v.9h-.9zM75.7 344.8h.9v.9h-.9zM93.4 343.6h.9v.9h-.9zM84.7 342.1h.9v.9h-.9zM86.8 342.0h.9v.9h-.9zM92.0 339.7h.9v.9h-.9zM87.6 347.1h.9v.9h-.9zM78.5 344.2h.9v.9h-.9zM80.6 346.9h.9v.9h-.9zM88.9 346.8h.9v.9h-.9zM97.0 342.4h.9v.9h-.9zM89.7 343.6h.9v.9h-.9zM70.7 344.2h.9v.9h-.9zM80.1 347.9h.9v.9h-.9zM73.3 345.5h.9v.9h-.9zM73.3 345.6h.9v.9h-.9zM95.6 346.2h.9v.9h-.9zM64.8 345.3h.9v.9h-.9zM63.3 351.8h.9v.9h-.9zM73.2 342.3h.9v.9h-.9zM92.0 348.0h.9v.9h-.9zM80.7 349.0h.9v.9h-.9zM84.4 341.1h.9v.9h-.9zM80.0 347.4h.9v.9h-.9zM74.3 345.9h.9v.9h-.9zM68.5 348.0h.9v.9h-.9zM85.7 340.9h.9v.9h-.9zM82.9 345.4h.9v.9h-.9zM95.4 341.1h.9v.9h-.9zM81.3 343.7h.9v.9h-.9zM97.3 348.2h.9v.9h-.9zM66.5 345.1h.9v.9h-.9zM87.5 337.7h.9v.9h-.9zM98.4 339.7h.9v.9h-.9zM96.7 340.5h.9v.9h-.9zM83.3 347.7h.9v.9h-.9zM88.0 342.3h.9v.9h-.9zM70.4 340.6h.9v.9h-.9zM87.4 347.8h.9v.9h-.9zM67.1 346.2h.9v.9h-.9zM96.9 345.0h.9v.9h-.9zM72.6 342.8h.9v.9h-.9zM95.2 348.3h.9v.9h-.9zM97.0 343.6h.9v.9h-.9zM73.2 339.2h.9v.9h-.9zM76.0 341.6h.9v.9h-.9zM82.0 342.2h.9v.9h-.9zM83.3 344.2h.9v.9h-.9zM72.3 347.5h.9v.9h-.9zM81.7 342.5h.9v.9h-.9zM70.6 343.5h.9v.9h-.9zM65.1 352.2h.9v.9h-.9zM68.4 345.6h.9v.9h-.9zM77.0 343.4h.9v.9h-.9zM94.7 344.2h.9v.9h-.9zM66.8 341.7h.9v.9h-.9zM68.3 347.0h.9v.9h-.9zM74.9 348.0h.9v.9h-.9zM61.3 344.0h.9v.9h-.9zM88.5 347.4h.9v.9h-.9zM94.1 343.2h.9v.9h-.9zM78.0 345.8h.9v.9h-.9zM87.3 342.2h.9v.9h-.9zM89.7 341.9h.9v.9h-.9zM74.6 340.6h.9v.9h-.9zM87.2 345.1h.9v.9h-.9zM91.7 343.4h.9v.9h-.9zM94.4 343.3h.9v.9h-.9zM93.9 340.7h.9v.9h-.9zM83.1 341.1h.9v.9h-.9zM95.4 342.1h.9v.9h-.9zM71.2 346.6h.9v.9h-.9zM73.4 346.0h.9v.9h-.9zM94.4 342.0h.9v.9h-.9zM97.5 344.8h.9v.9h-.9zM64.6 350.8h.9v.9h-.9zM88.2 344.7h.9v.9h-.9zM62.3 351.7h.9v.9h-.9zM93.4 345.4h.9v.9h-.9zM59.7 349.8h.9v.9h-.9zM95.7 342.4h.9v.9h-.9zM77.3 348.5h.9v.9h-.9zM68.7 341.8h.9v.9h-.9zM88.3 345.1h.9v.9h-.9zM75.4 344.0h.9v.9h-.9zM88.0 338.4h.9v.9h-.9zM73.2 341.0h.9v.9h-.9zM90.8 347.7h.9v.9h-.9zM68.3 346.9h.9v.9h-.9zM66.5 349.4h.9v.9h-.9zM79.6 345.4h.9v.9h-.9zM84.8 335.8h.9v.9h-.9zM81.0 345.5h.9v.9h-.9zM72.5 343.5h.9v.9h-.9zM58.2 344.4h.9v.9h-.9zM86.8 343.1h.9v.9h-.9zM83.4 342.3h.9v.9h-.9zM78.4 342.0h.9v.9h-.9zM97.6 347.6h.9v.9h-.9zM80.1 346.1h.9v.9h-.9zM61.0 343.8h.9v.9h-.9zM92.0 342.9h.9v.9h-.9zM70.4 348.2h.9v.9h-.9zM76.6 346.1h.9v.9h-.9zM77.7 345.5h.9v.9h-.9zM85.4 340.8h.9v.9h-.9zM90.3 343.0h.9v.9h-.9zM90.2 340.9h.9v.9h-.9zM94.5 338.3h.9v.9h-.9zM90.0 347.0h.9v.9h-.9zM67.8 344.4h.9v.9h-.9zM58.3 344.6h.9v.9h-.9zM83.3 341.7h.9v.9h-.9zM92.8 346.4h.9v.9h-.9zM98.3 350.1h.9v.9h-.9zM78.8 346.6h.9v.9h-.9zM85.1 347.3h.9v.9h-.9zM69.3 341.6h.9v.9h-.9zM73.5 345.6h.9v.9h-.9zM79.0 345.5h.9v.9h-.9zM57.5 350.4h.9v.9h-.9zM69.3 345.3h.9v.9h-.9zM82.2 341.8h.9v.9h-.9zM82.3 344.5h.9v.9h-.9zM86.9 343.1h.9v.9h-.9zM86.2 348.8h.9v.9h-.9zM95.1 346.0h.9v.9h-.9zM76.2 346.0h.9v.9h-.9zM77.3 345.4h.9v.9h-.9zM79.2 347.3h.9v.9h-.9zM78.8 343.4h.9v.9h-.9zM72.4 342.4h.9v.9h-.9zM95.8 338.3h.9v.9h-.9zM87.5 348.0h.9v.9h-.9zM76.2 346.5h.9v.9h-.9zM96.3 345.9h.9v.9h-.9zM93.9 344.2h.9v.9h-.9zM58.8 350.8h.9v.9h-.9zM75.1 342.1h.9v.9h-.9zM91.1 347.8h.9v.9h-.9zM85.2 342.0h.9v.9h-.9zM70.6 343.9h.9v.9h-.9zM98.0 340.2h.9v.9h-.9zM88.9 344.6h.9v.9h-.9zM65.6 344.6h.9v.9h-.9zM87.2 345.7h.9v.9h-.9zM81.9 342.9h.9v.9h-.9zM75.4 340.8h.9v.9h-.9zM92.0 345.8h.9v.9h-.9zM88.0 348.2h.9v.9h-.9zM85.5 346.7h.9v.9h-.9zM78.8 344.6h.9v.9h-.9zM78.8 346.0h.9v.9h-.9zM61.5 340.6h.9v.9h-.9zM84.2 343.5h.9v.9h-.9zM68.5 348.8h.9v.9h-.9zM74.8 346.4h.9v.9h-.9zM95.8 341.4h.9v.9h-.9zM77.2 347.4h.9v.9h-.9zM75.6 344.6h.9v.9h-.9zM74.9 347.2h.9v.9h-.9zM61.7 341.4h.9v.9h-.9zM60.6 344.1h.9v.9h-.9zM82.5 345.6h.9v.9h-.9zM75.4 345.9h.9v.9h-.9zM98.0 345.5h.9v.9h-.9zM92.9 344.1h.9v.9h-.9zM92.7 343.5h.9v.9h-.9zM78.0 346.2h.9v.9h-.9zM70.1 347.8h.9v.9h-.9zM95.9 339.4h.9v.9h-.9zM73.5 344.1h.9v.9h-.9zM77.2 344.3h.9v.9h-.9zM77.3 345.3h.9v.9h-.9zM91.5 347.2h.9v.9h-.9zM68.0 341.4h.9v.9h-.9zM79.8 346.3h.9v.9h-.9zM82.8 339.4h.9v.9h-.9zM56.6 343.6h.9v.9h-.9zM88.9 342.7h.9v.9h-.9zM91.6 343.3h.9v.9h-.9zM84.1 342.7h.9v.9h-.9zM77.0 343.3h.9v.9h-.9zM70.3 344.2h.9v.9h-.9zM67.1 344.6h.9v.9h-.9zM94.6 338.5h.9v.9h-.9zM97.4 339.7h.9v.9h-.9zM78.7 343.5h.9v.9h-.9zM88.1 345.9h.9v.9h-.9zM84.0 347.5h.9v.9h-.9zM73.5 353.6h.9v.9h-.9zM71.0 345.5h.9v.9h-.9zM96.3 341.6h.9v.9h-.9zM80.4 345.2h.9v.9h-.9zM80.3 346.8h.9v.9h-.9zM96.6 344.3h.9v.9h-.9zM93.2 340.9h.9v.9h-.9zM55.5 345.7h.9v.9h-.9zM72.5 345.0h.9v.9h-.9zM93.6 339.8h.9v.9h-.9zM90.7 340.6h.9v.9h-.9zM85.1 348.1h.9v.9h-.9zM94.7 337.3h.9v.9h-.9zM68.1 345.8h.9v.9h-.9zM91.0 343.4h.9v.9h-.9zM55.8 350.1h.9v.9h-.9zM70.6 347.0h.9v.9h-.9zM84.6 341.9h.9v.9h-.9zM70.1 349.0h.9v.9h-.9zM74.0 343.4h.9v.9h-.9zM63.2 351.5h.9v.9h-.9zM88.1 349.3h.9v.9h-.9zM64.6 345.3h.9v.9h-.9zM85.9 346.8h.9v.9h-.9zM76.1 345.5h.9v.9h-.9zM95.1 341.3h.9v.9h-.9zM60.3 348.9h.9v.9h-.9zM84.7 345.8h.9v.9h-.9zM90.2 346.8h.9v.9h-.9zM96.9 347.1h.9v.9h-.9zM70.0 349.5h.9v.9h-.9zM70.6 348.3h.9v.9h-.9zM84.4 344.3h.9v.9h-.9zM87.9 344.6h.9v.9h-.9zM83.0 345.8h.9v.9h-.9zM76.5 344.6h.9v.9h-.9zM71.1 344.5h.9v.9h-.9zM57.1 351.5h.9v.9h-.9zM85.6 346.0h.9v.9h-.9zM76.6 350.6h.9v.9h-.9zM84.6 342.3h.9v.9h-.9zM70.5 345.1h.9v.9h-.9zM54.4 344.8h.9v.9h-.9zM84.3 343.4h.9v.9h-.9zM69.7 344.4h.9v.9h-.9zM89.8 343.9h.9v.9h-.9zM96.7 342.7h.9v.9h-.9zM52.5 351.5h.9v.9h-.9zM68.1 347.4h.9v.9h-.9zM89.5 342.1h.9v.9h-.9zM84.5 342.9h.9v.9h-.9zM86.5 346.7h.9v.9h-.9zM89.8 345.9h.9v.9h-.9zM67.8 343.6h.9v.9h-.9zM78.4 347.6h.9v.9h-.9zM94.0 339.8h.9v.9h-.9zM94.7 342.7h.9v.9h-.9zM61.0 350.9h.9v.9h-.9zM80.7 337.0h.9v.9h-.9zM89.8 343.7h.9v.9h-.9zM59.2 348.8h.9v.9h-.9zM81.8 344.3h.9v.9h-.9zM87.3 342.1h.9v.9h-.9zM83.9 342.0h.9v.9h-.9zM57.8 339.7h.9v.9h-.9zM89.8 340.4h.9v.9h-.9zM84.8 344.8h.9v.9h-.9zM80.0 343.1h.9v.9h-.9zM75.7 345.0h.9v.9h-.9zM88.7 343.9h.9v.9h-.9zM84.6 345.4h.9v.9h-.9zM77.7 340.0h.9v.9h-.9zM86.0 343.6h.9v.9h-.9zM75.7 344.0h.9v.9h-.9zM81.6 343.8h.9v.9h-.9zM87.6 341.8h.9v.9h-.9zM85.9 338.0h.9v.9h-.9zM91.0 346.1h.9v.9h-.9zM75.2 347.5h.9v.9h-.9zM75.7 352.0h.9v.9h-.9zM87.5 346.6h.9v.9h-.9zM89.1 349.2h.9v.9h-.9zM84.2 346.4h.9v.9h-.9zM57.3 344.8h.9v.9h-.9zM79.7 346.3h.9v.9h-.9zM86.5 341.0h.9v.9h-.9zM96.7 344.7h.9v.9h-.9zM94.8 343.7h.9v.9h-.9zM53.8 343.0h.9v.9h-.9zM98.3 347.5h.9v.9h-.9zM82.1 348.0h.9v.9h-.9zM96.5 345.3h.9v.9h-.9zM85.0 347.0h.9v.9h-.9zM71.8 350.1h.9v.9h-.9zM94.6 343.7h.9v.9h-.9zM78.5 340.9h.9v.9h-.9zM54.3 343.3h.9v.9h-.9zM57.4 348.0h.9v.9h-.9zM93.1 344.8h.9v.9h-.9zM89.1 339.9h.9v.9h-.9zM66.1 349.4h.9v.9h-.9zM76.1 345.6h.9v.9h-.9zM78.0 349.7h.9v.9h-.9zM74.6 348.4h.9v.9h-.9zM97.0 342.7h.9v.9h-.9zM96.4 344.3h.9v.9h-.9zM78.9 342.7h.9v.9h-.9zM85.5 342.0h.9v.9h-.9zM90.5 343.4h.9v.9h-.9zM89.2 345.9h.9v.9h-.9zM86.7 348.6h.9v.9h-.9zM91.9 341.6h.9v.9h-.9zM91.6 346.3h.9v.9h-.9zM91.1 344.4h.9v.9h-.9zM90.1 343.7h.9v.9h-.9zM97.3 347.3h.9v.9h-.9zM84.9 343.5h.9v.9h-.9zM96.6 348.1h.9v.9h-.9zM67.7 344.5h.9v.9h-.9zM71.0 342.6h.9v.9h-.9zM82.0 347.0h.9v.9h-.9zM94.6 339.8h.9v.9h-.9zM74.0 341.6h.9v.9h-.9zM88.0 343.9h.9v.9h-.9zM67.9 345.5h.9v.9h-.9zM83.2 343.9h.9v.9h-.9zM86.8 338.7h.9v.9h-.9zM59.8 341.9h.9v.9h-.9zM95.3 345.6h.9v.9h-.9zM90.9 345.9h.9v.9h-.9zM91.9 341.3h.9v.9h-.9zM90.6 345.2h.9v.9h-.9zM65.5 346.2h.9v.9h-.9zM86.1 347.6h.9v.9h-.9zM93.9 342.0h.9v.9h-.9zM52.9 350.6h.9v.9h-.9zM79.0 344.0h.9v.9h-.9zM95.1 348.4h.9v.9h-.9zM84.1 347.5h.9v.9h-.9zM68.9 342.4h.9v.9h-.9zM66.6 344.6h.9v.9h-.9zM80.3 345.7h.9v.9h-.9zM94.4 347.2h.9v.9h-.9zM85.5 340.5h.9v.9h-.9zM58.5 344.5h.9v.9h-.9zM84.7 346.5h.9v.9h-.9zM73.5 346.7h.9v.9h-.9zM77.0 341.9h.9v.9h-.9zM59.7 343.2h.9v.9h-.9zM82.7 346.0h.9v.9h-.9zM92.6 341.2h.9v.9h-.9zM78.3 345.7h.9v.9h-.9zM90.0 347.1h.9v.9h-.9zM78.7 345.0h.9v.9h-.9zM61.4 337.8h.9v.9h-.9zM74.8 348.7h.9v.9h-.9zM71.9 348.7h.9v.9h-.9zM77.4 349.3h.9v.9h-.9zM70.8 347.9h.9v.9h-.9zM78.9 339.9h.9v.9h-.9zM66.2 349.8h.9v.9h-.9zM93.2 345.3h.9v.9h-.9zM89.3 347.2h.9v.9h-.9zM96.6 343.6h.9v.9h-.9zM90.9 343.6h.9v.9h-.9zM93.7 343.5h.9v.9h-.9zM92.1 349.1h.9v.9h-.9zM70.9 346.2h.9v.9h-.9zM94.0 343.6h.9v.9h-.9zM70.6 341.5h.9v.9h-.9zM56.4 347.5h.9v.9h-.9zM77.9 345.0h.9v.9h-.9zM90.4 344.9h.9v.9h-.9zM66.7 348.5h.9v.9h-.9zM63.9 347.9h.9v.9h-.9zM69.9 345.4h.9v.9h-.9zM86.6 345.2h.9v.9h-.9zM93.3 344.5h.9v.9h-.9zM94.7 346.3h.9v.9h-.9zM67.4 347.6h.9v.9h-.9zM96.6 344.5h.9v.9h-.9zM93.4 341.7h.9v.9h-.9zM68.6 348.0h.9v.9h-.9zM90.3 347.1h.9v.9h-.9zM87.7 341.3h.9v.9h-.9zM92.3 345.4h.9v.9h-.9zM63.1 344.6h.9v.9h-.9zM65.8 339.1h.9v.9h-.9zM84.9 344.5h.9v.9h-.9zM57.5 348.9h.9v.9h-.9zM77.1 342.9h.9v.9h-.9zM67.0 343.4h.9v.9h-.9zM74.3 348.2h.9v.9h-.9zM96.2 340.8h.9v.9h-.9zM78.8 342.1h.9v.9h-.9zM71.3 344.4h.9v.9h-.9zM63.0 347.6h.9v.9h-.9zM93.7 346.1h.9v.9h-.9zM84.1 343.1h.9v.9h-.9zM92.0 343.3h.9v.9h-.9zM71.7 345.6h.9v.9h-.9zM62.7 344.6h.9v.9h-.9zM79.2 342.3h.9v.9h-.9zM92.2 341.0h.9v.9h-.9zM71.3 347.4h.9v.9h-.9zM70.9 344.7h.9v.9h-.9zM97.3 352.6h.9v.9h-.9zM64.6 347.5h.9v.9h-.9zM83.4 342.5h.9v.9h-.9zM96.4 344.1h.9v.9h-.9zM87.7 345.5h.9v.9h-.9zM93.4 345.4h.9v.9h-.9zM86.6 345.9h.9v.9h-.9zM82.6 346.1h.9v.9h-.9zM76.7 344.6h.9v.9h-.9zM94.1 346.1h.9v.9h-.9zM66.1 352.1h.9v.9h-.9zM85.6 343.3h.9v.9h-.9zM58.4 344.8h.9v.9h-.9zM86.6 346.7h.9v.9h-.9zM74.2 348.9h.9v.9h-.9zM91.4 346.7h.9v.9h-.9zM73.5 348.8h.9v.9h-.9zM80.0 344.7h.9v.9h-.9zM72.7 344.5h.9v.9h-.9zM57.2 348.0h.9v.9h-.9zM74.2 347.2h.9v.9h-.9zM61.3 350.8h.9v.9h-.9zM96.1 348.7h.9v.9h-.9zM70.3 339.9h.9v.9h-.9zM74.8 347.5h.9v.9h-.9zM62.4 343.7h.9v.9h-.9zM63.3 339.4h.9v.9h-.9zM83.8 345.8h.9v.9h-.9zM85.5 344.1h.9v.9h-.9zM91.7 343.2h.9v.9h-.9zM72.0 341.4h.9v.9h-.9zM56.5 343.0h.9v.9h-.9zM91.5 343.6h.9v.9h-.9zM86.8 340.0h.9v.9h-.9zM97.2 343.7h.9v.9h-.9zM83.3 345.0h.9v.9h-.9zM70.9 344.8h.9v.9h-.9zM68.7 346.3h.9v.9h-.9zM98.3 343.7h.9v.9h-.9zM91.7 340.8h.9v.9h-.9zM88.1 341.3h.9v.9h-.9zM91.7 344.6h.9v.9h-.9zM64.4 348.5h.9v.9h-.9zM91.3 344.7h.9v.9h-.9zM75.2 343.6h.9v.9h-.9zM75.2 345.6h.9v.9h-.9zM80.4 339.4h.9v.9h-.9zM80.4 341.8h.9v.9h-.9zM66.7 344.4h.9v.9h-.9zM70.6 345.1h.9v.9h-.9zM96.7 343.0h.9v.9h-.9zM69.3 344.5h.9v.9h-.9zM98.2 340.3h.9v.9h-.9zM75.5 343.3h.9v.9h-.9zM78.4 345.6h.9v.9h-.9zM87.0 338.9h.9v.9h-.9zM77.8 341.3h.9v.9h-.9zM85.6 343.5h.9v.9h-.9zM96.9 348.4h.9v.9h-.9zM86.8 346.5h.9v.9h-.9zM90.0 349.0h.9v.9h-.9zM84.0 348.6h.9v.9h-.9zM83.4 343.3h.9v.9h-.9zM98.2 343.7h.9v.9h-.9zM68.1 341.9h.9v.9h-.9zM95.2 347.6h.9v.9h-.9zM67.9 347.6h.9v.9h-.9zM71.5 347.0h.9v.9h-.9zM92.7 346.1h.9v.9h-.9zM87.6 345.8h.9v.9h-.9zM76.7 345.6h.9v.9h-.9zM97.8 344.7h.9v.9h-.9zM78.3 348.5h.9v.9h-.9zM72.3 342.8h.9v.9h-.9zM75.1 341.9h.9v.9h-.9zM60.9 345.8h.9v.9h-.9zM60.8 349.2h.9v.9h-.9zM66.4 346.2h.9v.9h-.9zM63.8 345.0h.9v.9h-.9zM86.0 347.0h.9v.9h-.9zM87.1 344.8h.9v.9h-.9zM75.6 339.3h.9v.9h-.9zM95.2 341.0h.9v.9h-.9zM62.9 339.4h.9v.9h-.9zM89.4 343.7h.9v.9h-.9zM86.9 343.1h.9v.9h-.9zM73.7 346.4h.9v.9h-.9zM71.6 351.5h.9v.9h-.9zM60.9 344.0h.9v.9h-.9zM86.0 344.5h.9v.9h-.9zM67.8 344.3h.9v.9h-.9zM94.4 335.7h.9v.9h-.9zM84.5 342.3h.9v.9h-.9zM66.3 343.3h.9v.9h-.9zM67.8 346.2h.9v.9h-.9zM55.9 343.5h.9v.9h-.9zM86.5 340.6h.9v.9h-.9zM95.1 345.8h.9v.9h-.9zM96.4 343.8h.9v.9h-.9zM88.2 341.7h.9v.9h-.9zM84.1 342.3h.9v.9h-.9zM75.4 344.1h.9v.9h-.9zM97.5 346.4h.9v.9h-.9zM79.3 349.1h.9v.9h-.9zM71.2 341.4h.9v.9h-.9zM75.8 348.5h.9v.9h-.9zM88.1 344.6h.9v.9h-.9zM95.4 345.1h.9v.9h-.9zM81.0 347.7h.9v.9h-.9zM87.8 341.5h.9v.9h-.9zM69.8 347.9h.9v.9h-.9zM89.9 340.4h.9v.9h-.9zM83.8 343.2h.9v.9h-.9zM81.3 342.2h.9v.9h-.9zM98.0 349.0h.9v.9h-.9zM93.5 349.0h.9v.9h-.9zM71.0 347.5h.9v.9h-.9zM86.3 346.0h.9v.9h-.9zM75.3 343.5h.9v.9h-.9zM76.6 350.2h.9v.9h-.9zM71.3 349.4h.9v.9h-.9zM95.8 346.7h.9v.9h-.9zM82.6 344.4h.9v.9h-.9zM82.0 343.7h.9v.9h-.9zM87.5 344.2h.9v.9h-.9zM92.7 348.2h.9v.9h-.9zM97.0 341.2h.9v.9h-.9zM69.1 345.7h.9v.9h-.9zM98.1 348.8h.9v.9h-.9zM87.9 347.1h.9v.9h-.9zM93.3 349.4h.9v.9h-.9zM67.6 346.7h.9v.9h-.9zM93.4 345.5h.9v.9h-.9zM93.5 348.3h.9v.9h-.9zM96.8 346.0h.9v.9h-.9zM86.9 345.6h.9v.9h-.9zM92.1 342.8h.9v.9h-.9zM85.7 340.2h.9v.9h-.9zM74.3 349.6h.9v.9h-.9zM89.3 343.2h.9v.9h-.9zM86.8 342.3h.9v.9h-.9zM67.5 348.1h.9v.9h-.9zM94.2 341.6h.9v.9h-.9zM85.2 340.6h.9v.9h-.9zM87.7 342.8h.9v.9h-.9zM96.3 343.9h.9v.9h-.9zM63.5 346.6h.9v.9h-.9zM94.8 345.7h.9v.9h-.9zM97.2 347.0h.9v.9h-.9zM77.5 344.7h.9v.9h-.9zM83.1 345.9h.9v.9h-.9zM67.4 345.2h.9v.9h-.9zM97.9 342.1h.9v.9h-.9zM88.3 345.7h.9v.9h-.9zM75.6 346.2h.9v.9h-.9zM63.7 351.3h.9v.9h-.9zM60.4 347.7h.9v.9h-.9zM92.8 342.2h.9v.9h-.9zM78.2 346.8h.9v.9h-.9zM86.7 343.9h.9v.9h-.9zM89.5 349.2h.9v.9h-.9zM82.0 339.8h.9v.9h-.9zM94.5 342.3h.9v.9h-.9zM92.0 342.4h.9v.9h-.9zM67.2 345.9h.9v.9h-.9zM97.2 343.7h.9v.9h-.9zM64.7 341.0h.9v.9h-.9zM85.5 339.1h.9v.9h-.9zM90.9 344.9h.9v.9h-.9zM84.2 349.1h.9v.9h-.9zM96.5 348.4h.9v.9h-.9zM74.0 344.1h.9v.9h-.9zM53.6 347.6h.9v.9h-.9zM94.8 341.6h.9v.9h-.9zM96.8 339.8h.9v.9h-.9zM56.8 349.7h.9v.9h-.9zM83.3 346.8h.9v.9h-.9zM93.7 343.3h.9v.9h-.9zM90.0 343.4h.9v.9h-.9zM68.5 348.3h.9v.9h-.9zM94.7 345.2h.9v.9h-.9zM69.3 344.5h.9v.9h-.9zM76.6 346.0h.9v.9h-.9zM98.1 344.0h.9v.9h-.9zM92.0 343.2h.9v.9h-.9zM56.8 344.0h.9v.9h-.9zM88.2 347.3h.9v.9h-.9zM98.0 342.7h.9v.9h-.9zM76.2 341.7h.9v.9h-.9zM67.9 350.9h.9v.9h-.9zM95.0 347.9h.9v.9h-.9zM95.2 345.8h.9v.9h-.9zM81.4 344.7h.9v.9h-.9zM97.7 344.7h.9v.9h-.9zM86.6 340.4h.9v.9h-.9zM93.7 344.2h.9v.9h-.9zM88.8 345.3h.9v.9h-.9zM56.4 345.6h.9v.9h-.9zM97.1 345.4h.9v.9h-.9zM66.5 343.4h.9v.9h-.9zM84.6 345.3h.9v.9h-.9zM94.1 339.6h.9v.9h-.9zM81.8 344.8h.9v.9h-.9zM70.6 343.6h.9v.9h-.9zM86.4 340.7h.9v.9h-.9zM82.7 343.6h.9v.9h-.9zM72.8 345.4h.9v.9h-.9zM79.2 343.2h.9v.9h-.9zM83.4 347.5h.9v.9h-.9zM67.1 343.5h.9v.9h-.9zM86.8 347.3h.9v.9h-.9zM87.5 346.7h.9v.9h-.9zM91.0 342.6h.9v.9h-.9zM79.9 349.1h.9v.9h-.9zM94.6 340.2h.9v.9h-.9zM78.4 346.6h.9v.9h-.9zM93.3 344.4h.9v.9h-.9zM59.2 348.2h.9v.9h-.9zM81.4 340.2h.9v.9h-.9zM96.9 340.5h.9v.9h-.9zM82.2 342.3h.9v.9h-.9zM86.2 344.6h.9v.9h-.9zM87.2 344.8h.9v.9h-.9zM84.6 344.7h.9v.9h-.9zM82.3 344.0h.9v.9h-.9zM94.2 342.1h.9v.9h-.9zM84.7 340.6h.9v.9h-.9zM97.9 342.7h.9v.9h-.9zM61.3 347.3h.9v.9h-.9zM86.8 347.5h.9v.9h-.9zM75.9 343.6h.9v.9h-.9zM98.2 347.1h.9v.9h-.9zM67.4 341.5h.9v.9h-.9zM88.9 346.7h.9v.9h-.9zM94.9 340.9h.9v.9h-.9zM91.5 345.0h.9v.9h-.9zM73.4 342.4h.9v.9h-.9zM80.5 342.0h.9v.9h-.9zM96.8 342.4h.9v.9h-.9zM66.6 349.7h.9v.9h-.9zM94.9 342.1h.9v.9h-.9zM79.5 346.7h.9v.9h-.9zM89.9 344.8h.9v.9h-.9zM79.5 345.7h.9v.9h-.9zM82.7 345.6h.9v.9h-.9zM98.3 345.8h.9v.9h-.9zM80.0 341.3h.9v.9h-.9zM74.5 345.2h.9v.9h-.9zM55.2 347.1h.9v.9h-.9zM87.8 342.7h.9v.9h-.9zM96.0 345.1h.9v.9h-.9zM87.2 341.5h.9v.9h-.9zM69.0 347.5h.9v.9h-.9zM77.2 342.9h.9v.9h-.9zM69.9 344.5h.9v.9h-.9zM69.6 347.7h.9v.9h-.9zM57.8 349.1h.9v.9h-.9z"/>
<path fill="#000" fill-opacity="0.45" d="M84.1 345.3h.9v.9h-.9zM83.8 348.3h.9v.9h-.9zM90.8 342.5h.9v.9h-.9zM74.2 345.2h.9v.9h-.9zM92.3 342.1h.9v.9h-.9zM92.1 342.7h.9v.9h-.9zM82.0 344.3h.9v.9h-.9zM91.7 345.1h.9v.9h-.9zM88.1 344.8h.9v.9h-.9zM88.5 344.5h.9v.9h-.9zM76.6 349.3h.9v.9h-.9zM84.4 341.6h.9v.9h-.9zM85.7 339.9h.9v.9h-.9zM84.8 345.2h.9v.9h-.9zM84.9 344.4h.9v.9h-.9zM85.3 340.8h.9v.9h-.9zM74.2 347.8h.9v.9h-.9zM85.7 342.5h.9v.9h-.9zM83.6 340.9h.9v.9h-.9zM86.2 344.9h.9v.9h-.9zM84.4 345.4h.9v.9h-.9zM86.5 349.2h.9v.9h-.9zM87.8 340.6h.9v.9h-.9zM94.2 341.2h.9v.9h-.9zM83.0 343.4h.9v.9h-.9zM93.8 343.0h.9v.9h-.9zM85.5 343.8h.9v.9h-.9zM82.7 342.4h.9v.9h-.9zM80.3 340.6h.9v.9h-.9zM90.2 343.0h.9v.9h-.9zM80.0 345.6h.9v.9h-.9zM90.4 345.8h.9v.9h-.9zM88.0 342.6h.9v.9h-.9zM84.1 345.2h.9v.9h-.9zM83.6 344.9h.9v.9h-.9zM88.6 342.9h.9v.9h-.9zM87.2 343.2h.9v.9h-.9zM89.7 344.1h.9v.9h-.9zM86.5 350.2h.9v.9h-.9zM84.3 344.4h.9v.9h-.9zM88.8 342.0h.9v.9h-.9zM81.4 343.7h.9v.9h-.9zM90.2 342.8h.9v.9h-.9zM86.7 346.5h.9v.9h-.9zM81.7 339.2h.9v.9h-.9zM82.1 341.6h.9v.9h-.9zM85.1 345.9h.9v.9h-.9zM78.7 344.9h.9v.9h-.9zM92.5 344.1h.9v.9h-.9zM90.7 345.6h.9v.9h-.9zM81.8 341.1h.9v.9h-.9zM86.0 344.8h.9v.9h-.9zM93.8 341.5h.9v.9h-.9zM88.2 341.2h.9v.9h-.9zM82.1 345.1h.9v.9h-.9zM77.2 342.2h.9v.9h-.9zM79.4 343.2h.9v.9h-.9zM91.7 345.4h.9v.9h-.9zM87.9 341.7h.9v.9h-.9zM80.8 345.4h.9v.9h-.9zM89.6 349.0h.9v.9h-.9zM84.9 343.6h.9v.9h-.9zM83.6 346.2h.9v.9h-.9zM84.2 345.7h.9v.9h-.9zM84.5 341.2h.9v.9h-.9zM93.7 341.0h.9v.9h-.9zM82.4 344.0h.9v.9h-.9zM84.8 339.3h.9v.9h-.9zM92.3 344.1h.9v.9h-.9zM93.0 344.6h.9v.9h-.9zM82.2 345.1h.9v.9h-.9zM95.5 345.0h.9v.9h-.9zM91.3 347.0h.9v.9h-.9zM80.0 343.3h.9v.9h-.9zM94.4 347.0h.9v.9h-.9zM80.1 345.2h.9v.9h-.9zM89.5 345.2h.9v.9h-.9zM81.5 343.7h.9v.9h-.9zM78.8 346.2h.9v.9h-.9zM90.2 342.4h.9v.9h-.9zM88.3 345.7h.9v.9h-.9zM86.1 346.5h.9v.9h-.9zM87.3 342.6h.9v.9h-.9zM86.1 341.9h.9v.9h-.9zM85.4 342.4h.9v.9h-.9zM81.8 344.0h.9v.9h-.9zM89.0 344.9h.9v.9h-.9zM86.6 346.0h.9v.9h-.9zM85.4 348.3h.9v.9h-.9zM84.0 347.7h.9v.9h-.9zM85.3 344.7h.9v.9h-.9zM79.9 343.2h.9v.9h-.9zM85.2 341.4h.9v.9h-.9zM82.2 345.9h.9v.9h-.9zM92.1 345.2h.9v.9h-.9zM82.4 343.4h.9v.9h-.9zM84.5 343.7h.9v.9h-.9zM86.6 343.8h.9v.9h-.9zM90.0 338.3h.9v.9h-.9zM88.5 343.9h.9v.9h-.9zM86.6 344.8h.9v.9h-.9zM95.9 343.8h.9v.9h-.9zM86.4 341.7h.9v.9h-.9zM87.9 344.2h.9v.9h-.9zM98.4 345.1h.9v.9h-.9zM82.6 348.1h.9v.9h-.9zM90.7 346.4h.9v.9h-.9zM88.4 345.4h.9v.9h-.9zM80.8 343.9h.9v.9h-.9zM83.8 341.1h.9v.9h-.9zM90.1 343.0h.9v.9h-.9zM80.2 341.0h.9v.9h-.9zM85.7 343.8h.9v.9h-.9zM90.6 346.4h.9v.9h-.9zM85.5 346.4h.9v.9h-.9zM87.7 346.1h.9v.9h-.9zM83.6 344.1h.9v.9h-.9zM83.8 346.3h.9v.9h-.9zM83.8 343.4h.9v.9h-.9zM85.0 339.7h.9v.9h-.9zM89.3 344.4h.9v.9h-.9zM86.8 344.1h.9v.9h-.9zM95.1 340.2h.9v.9h-.9zM88.9 342.9h.9v.9h-.9zM87.7 338.6h.9v.9h-.9zM96.3 343.0h.9v.9h-.9zM86.0 346.7h.9v.9h-.9zM83.0 342.6h.9v.9h-.9zM87.2 347.0h.9v.9h-.9zM81.7 344.6h.9v.9h-.9zM88.8 342.4h.9v.9h-.9zM92.5 340.1h.9v.9h-.9zM89.3 345.7h.9v.9h-.9zM84.7 345.5h.9v.9h-.9zM85.9 340.7h.9v.9h-.9zM88.6 343.1h.9v.9h-.9zM91.7 346.5h.9v.9h-.9zM84.8 342.4h.9v.9h-.9zM84.7 344.9h.9v.9h-.9zM91.2 339.7h.9v.9h-.9zM87.5 342.0h.9v.9h-.9zM88.0 345.7h.9v.9h-.9zM88.6 341.4h.9v.9h-.9zM83.1 340.8h.9v.9h-.9zM85.9 340.9h.9v.9h-.9zM91.1 343.2h.9v.9h-.9zM85.8 340.5h.9v.9h-.9zM85.6 343.8h.9v.9h-.9zM87.8 345.3h.9v.9h-.9zM88.2 347.5h.9v.9h-.9zM97.6 343.2h.9v.9h-.9zM83.0 347.6h.9v.9h-.9zM87.1 345.3h.9v.9h-.9zM95.3 343.6h.9v.9h-.9zM86.7 345.2h.9v.9h-.9zM88.2 347.4h.9v.9h-.9zM80.2 347.4h.9v.9h-.9zM90.8 345.7h.9v.9h-.9zM90.3 343.8h.9v.9h-.9zM90.1 345.9h.9v.9h-.9zM85.7 344.5h.9v.9h-.9zM88.1 344.4h.9v.9h-.9zM86.2 344.6h.9v.9h-.9zM90.2 348.1h.9v.9h-.9zM86.5 341.4h.9v.9h-.9zM90.0 343.9h.9v.9h-.9zM80.7 341.6h.9v.9h-.9zM85.1 346.0h.9v.9h-.9zM74.1 346.5h.9v.9h-.9zM85.9 347.1h.9v.9h-.9zM89.9 343.3h.9v.9h-.9zM85.4 344.2h.9v.9h-.9zM96.8 345.8h.9v.9h-.9zM82.2 344.5h.9v.9h-.9zM85.1 344.7h.9v.9h-.9zM82.5 344.5h.9v.9h-.9zM84.3 344.7h.9v.9h-.9zM84.5 343.8h.9v.9h-.9zM80.1 345.0h.9v.9h-.9zM82.3 340.8h.9v.9h-.9zM95.4 343.1h.9v.9h-.9zM85.4 341.1h.9v.9h-.9zM90.5 343.9h.9v.9h-.9zM81.0 342.4h.9v.9h-.9zM86.0 345.3h.9v.9h-.9zM88.9 346.9h.9v.9h-.9zM85.8 341.3h.9v.9h-.9zM84.3 342.3h.9v.9h-.9zM85.7 344.8h.9v.9h-.9zM86.6 347.3h.9v.9h-.9zM90.2 345.8h.9v.9h-.9zM91.8 345.1h.9v.9h-.9zM80.8 343.9h.9v.9h-.9zM77.5 343.1h.9v.9h-.9zM85.7 344.9h.9v.9h-.9zM86.5 345.2h.9v.9h-.9zM89.6 344.4h.9v.9h-.9zM91.2 342.8h.9v.9h-.9zM83.6 340.5h.9v.9h-.9zM95.5 342.2h.9v.9h-.9zM87.6 343.2h.9v.9h-.9zM78.8 341.5h.9v.9h-.9zM90.7 344.8h.9v.9h-.9zM87.7 340.9h.9v.9h-.9zM87.8 343.4h.9v.9h-.9zM79.6 344.8h.9v.9h-.9zM85.2 345.9h.9v.9h-.9zM87.2 344.6h.9v.9h-.9zM85.8 346.7h.9v.9h-.9zM89.5 342.7h.9v.9h-.9zM92.0 342.3h.9v.9h-.9zM93.2 346.5h.9v.9h-.9zM92.0 342.1h.9v.9h-.9zM85.9 343.7h.9v.9h-.9zM94.0 340.2h.9v.9h-.9zM87.7 346.6h.9v.9h-.9zM90.3 345.7h.9v.9h-.9zM85.5 342.4h.9v.9h-.9zM80.4 340.2h.9v.9h-.9zM76.6 344.6h.9v.9h-.9zM87.3 344.7h.9v.9h-.9zM83.6 346.6h.9v.9h-.9zM86.5 348.2h.9v.9h-.9zM90.4 344.6h.9v.9h-.9zM79.8 343.6h.9v.9h-.9zM78.8 343.5h.9v.9h-.9zM87.7 343.4h.9v.9h-.9zM88.1 341.0h.9v.9h-.9zM85.3 342.1h.9v.9h-.9zM84.2 343.9h.9v.9h-.9zM79.6 340.4h.9v.9h-.9zM86.1 341.1h.9v.9h-.9zM83.3 346.8h.9v.9h-.9zM88.4 342.6h.9v.9h-.9zM90.7 345.8h.9v.9h-.9zM84.1 346.5h.9v.9h-.9zM88.3 344.1h.9v.9h-.9zM87.3 345.9h.9v.9h-.9zM89.6 343.7h.9v.9h-.9zM93.2 342.1h.9v.9h-.9zM89.4 343.8h.9v.9h-.9zM89.6 344.2h.9v.9h-.9zM90.0 344.3h.9v.9h-.9zM84.7 344.2h.9v.9h-.9zM86.5 343.2h.9v.9h-.9zM88.0 346.4h.9v.9h-.9zM91.9 343.6h.9v.9h-.9zM92.2 343.1h.9v.9h-.9zM96.5 346.1h.9v.9h-.9zM81.7 341.8h.9v.9h-.9zM86.3 344.1h.9v.9h-.9zM79.0 347.3h.9v.9h-.9zM84.2 344.2h.9v.9h-.9zM79.3 347.2h.9v.9h-.9zM91.6 343.5h.9v.9h-.9zM89.8 342.9h.9v.9h-.9zM81.8 343.7h.9v.9h-.9zM88.0 342.8h.9v.9h-.9zM89.7 343.3h.9v.9h-.9zM94.1 343.1h.9v.9h-.9zM90.1 345.9h.9v.9h-.9zM87.1 345.0h.9v.9h-.9zM86.1 343.6h.9v.9h-.9zM89.3 342.4h.9v.9h-.9zM87.8 351.2h.9v.9h-.9zM84.4 343.6h.9v.9h-.9zM81.2 347.2h.9v.9h-.9zM91.1 341.5h.9v.9h-.9zM83.4 342.5h.9v.9h-.9zM85.3 346.8h.9v.9h-.9zM90.0 341.7h.9v.9h-.9zM86.3 341.7h.9v.9h-.9zM91.5 344.0h.9v.9h-.9zM81.6 342.5h.9v.9h-.9zM89.8 343.4h.9v.9h-.9zM80.7 344.4h.9v.9h-.9zM79.9 346.0h.9v.9h-.9zM82.0 344.5h.9v.9h-.9zM87.0 344.7h.9v.9h-.9zM83.6 347.0h.9v.9h-.9zM80.5 347.2h.9v.9h-.9zM91.8 343.3h.9v.9h-.9zM82.3 340.0h.9v.9h-.9zM86.0 341.9h.9v.9h-.9zM87.6 346.5h.9v.9h-.9zM84.4 343.0h.9v.9h-.9zM88.1 342.5h.9v.9h-.9zM89.2 343.1h.9v.9h-.9zM86.1 347.6h.9v.9h-.9zM91.1 344.2h.9v.9h-.9zM83.9 343.3h.9v.9h-.9zM81.9 342.5h.9v.9h-.9zM87.4 341.7h.9v.9h-.9zM82.3 350.3h.9v.9h-.9zM88.2 344.0h.9v.9h-.9zM86.1 344.4h.9v.9h-.9zM84.5 343.4h.9v.9h-.9zM89.0 346.5h.9v.9h-.9zM88.9 341.9h.9v.9h-.9zM73.5 339.9h.9v.9h-.9zM85.1 342.8h.9v.9h-.9zM87.1 344.8h.9v.9h-.9zM88.6 349.1h.9v.9h-.9zM84.1 343.9h.9v.9h-.9zM81.5 342.2h.9v.9h-.9zM87.1 343.6h.9v.9h-.9zM89.5 342.4h.9v.9h-.9zM77.5 342.4h.9v.9h-.9zM79.9 344.3h.9v.9h-.9zM83.9 344.8h.9v.9h-.9zM75.2 342.6h.9v.9h-.9zM83.9 346.5h.9v.9h-.9zM90.1 343.9h.9v.9h-.9zM81.8 344.4h.9v.9h-.9zM87.1 343.0h.9v.9h-.9zM82.6 344.9h.9v.9h-.9zM88.4 345.0h.9v.9h-.9zM89.3 345.6h.9v.9h-.9zM92.2 342.3h.9v.9h-.9zM86.8 345.5h.9v.9h-.9zM91.1 342.9h.9v.9h-.9zM88.3 344.3h.9v.9h-.9zM84.4 345.8h.9v.9h-.9zM93.0 347.5h.9v.9h-.9zM83.9 343.1h.9v.9h-.9zM87.2 341.7h.9v.9h-.9zM97.2 344.4h.9v.9h-.9zM90.3 346.8h.9v.9h-.9zM82.9 343.4h.9v.9h-.9zM87.8 349.5h.9v.9h-.9zM84.1 339.9h.9v.9h-.9zM85.9 347.4h.9v.9h-.9zM79.9 346.7h.9v.9h-.9zM87.5 346.6h.9v.9h-.9zM79.7 342.3h.9v.9h-.9zM88.1 347.1h.9v.9h-.9zM88.1 346.7h.9v.9h-.9zM90.2 346.9h.9v.9h-.9zM96.3 343.6h.9v.9h-.9zM79.2 343.6h.9v.9h-.9zM81.3 347.0h.9v.9h-.9zM82.1 344.9h.9v.9h-.9zM84.0 343.3h.9v.9h-.9zM90.4 342.3h.9v.9h-.9zM85.0 344.7h.9v.9h-.9zM83.9 341.1h.9v.9h-.9zM81.5 345.4h.9v.9h-.9zM83.7 344.5h.9v.9h-.9zM84.6 340.7h.9v.9h-.9zM86.0 345.1h.9v.9h-.9zM80.2 346.8h.9v.9h-.9zM86.2 344.7h.9v.9h-.9zM89.0 341.2h.9v.9h-.9zM88.0 342.8h.9v.9h-.9zM81.0 346.0h.9v.9h-.9zM90.1 341.2h.9v.9h-.9zM90.0 343.3h.9v.9h-.9zM87.8 346.7h.9v.9h-.9zM81.1 343.5h.9v.9h-.9zM80.0 342.8h.9v.9h-.9zM86.7 345.9h.9v.9h-.9zM82.0 347.7h.9v.9h-.9zM80.6 345.0h.9v.9h-.9zM90.4 341.2h.9v.9h-.9zM90.5 340.5h.9v.9h-.9zM89.3 343.6h.9v.9h-.9zM92.2 340.1h.9v.9h-.9zM90.5 343.9h.9v.9h-.9zM81.4 346.1h.9v.9h-.9zM91.5 338.2h.9v.9h-.9zM87.0 343.7h.9v.9h-.9zM88.4 344.8h.9v.9h-.9zM93.4 342.9h.9v.9h-.9zM88.4 345.0h.9v.9h-.9zM93.4 345.2h.9v.9h-.9zM86.7 346.4h.9v.9h-.9zM84.8 350.1h.9v.9h-.9zM83.4 344.8h.9v.9h-.9zM85.9 342.1h.9v.9h-.9zM79.1 341.8h.9v.9h-.9zM86.2 341.4h.9v.9h-.9zM86.0 345.7h.9v.9h-.9zM84.1 344.9h.9v.9h-.9zM76.7 345.1h.9v.9h-.9zM77.0 344.5h.9v.9h-.9zM89.6 347.6h.9v.9h-.9zM82.3 346.5h.9v.9h-.9zM92.5 346.4h.9v.9h-.9zM83.4 342.6h.9v.9h-.9zM88.1 343.4h.9v.9h-.9zM80.1 341.2h.9v.9h-.9zM83.7 342.7h.9v.9h-.9zM85.5 344.3h.9v.9h-.9zM89.0 341.4h.9v.9h-.9zM93.9 342.7h.9v.9h-.9zM90.7 348.6h.9v.9h-.9zM80.1 343.7h.9v.9h-.9zM86.5 340.8h.9v.9h-.9zM85.8 341.3h.9v.9h-.9zM83.7 343.9h.9v.9h-.9zM89.1 346.0h.9v.9h-.9zM93.4 343.9h.9v.9h-.9zM84.5 346.0h.9v.9h-.9zM91.4 344.8h.9v.9h-.9zM92.6 341.6h.9v.9h-.9zM81.8 346.4h.9v.9h-.9zM94.3 343.1h.9v.9h-.9zM93.9 348.3h.9v.9h-.9zM87.8 342.8h.9v.9h-.9zM94.0 343.8h.9v.9h-.9zM87.6 342.9h.9v.9h-.9zM91.6 343.5h.9v.9h-.9zM89.4 345.1h.9v.9h-.9zM82.7 343.7h.9v.9h-.9zM87.7 346.7h.9v.9h-.9zM85.8 345.1h.9v.9h-.9zM84.3 347.6h.9v.9h-.9zM81.4 344.3h.9v.9h-.9zM83.1 347.0h.9v.9h-.9zM81.1 346.8h.9v.9h-.9zM91.5 343.8h.9v.9h-.9zM77.9 349.8h.9v.9h-.9zM86.8 347.5h.9v.9h-.9zM83.8 345.3h.9v.9h-.9zM81.0 343.7h.9v.9h-.9zM89.7 344.0h.9v.9h-.9zM83.0 343.8h.9v.9h-.9zM91.8 344.8h.9v.9h-.9zM85.7 341.6h.9v.9h-.9zM88.0 344.3h.9v.9h-.9zM85.9 342.8h.9v.9h-.9zM89.4 347.8h.9v.9h-.9zM90.6 345.8h.9v.9h-.9zM84.5 347.9h.9v.9h-.9zM86.5 349.4h.9v.9h-.9zM94.2 345.2h.9v.9h-.9zM84.0 348.6h.9v.9h-.9zM94.5 345.0h.9v.9h-.9zM84.8 345.6h.9v.9h-.9zM84.0 342.1h.9v.9h-.9zM79.1 344.4h.9v.9h-.9zM82.8 347.3h.9v.9h-.9zM78.8 345.3h.9v.9h-.9zM84.0 343.3h.9v.9h-.9zM89.5 344.2h.9v.9h-.9zM86.2 342.5h.9v.9h-.9zM83.8 342.7h.9v.9h-.9zM82.0 341.0h.9v.9h-.9zM83.5 346.6h.9v.9h-.9zM80.1 346.6h.9v.9h-.9zM80.9 343.9h.9v.9h-.9zM95.1 341.2h.9v.9h-.9zM87.6 343.6h.9v.9h-.9zM82.5 348.6h.9v.9h-.9zM89.5 341.2h.9v.9h-.9zM93.1 343.1h.9v.9h-.9zM83.7 343.1h.9v.9h-.9zM86.0 345.9h.9v.9h-.9zM81.0 341.4h.9v.9h-.9zM79.5 344.8h.9v.9h-.9zM92.6 342.4h.9v.9h-.9zM101.6 343.4h.9v.9h-.9zM83.2 341.5h.9v.9h-.9zM79.3 345.3h.9v.9h-.9zM92.7 343.1h.9v.9h-.9zM91.2 342.9h.9v.9h-.9zM88.6 346.6h.9v.9h-.9zM93.0 344.9h.9v.9h-.9zM85.0 349.4h.9v.9h-.9zM87.7 345.1h.9v.9h-.9zM90.0 344.4h.9v.9h-.9zM85.1 344.5h.9v.9h-.9zM88.6 350.3h.9v.9h-.9zM85.4 346.9h.9v.9h-.9zM88.5 343.6h.9v.9h-.9zM87.2 344.9h.9v.9h-.9zM77.8 343.0h.9v.9h-.9zM86.9 345.7h.9v.9h-.9zM80.2 343.1h.9v.9h-.9zM82.7 343.0h.9v.9h-.9zM79.2 345.2h.9v.9h-.9zM90.1 347.2h.9v.9h-.9zM85.0 346.1h.9v.9h-.9zM84.8 345.8h.9v.9h-.9zM92.0 344.3h.9v.9h-.9zM89.6 338.8h.9v.9h-.9zM85.5 343.8h.9v.9h-.9zM77.3 343.7h.9v.9h-.9zM89.4 345.4h.9v.9h-.9zM85.3 348.1h.9v.9h-.9zM84.9 345.9h.9v.9h-.9zM89.7 340.3h.9v.9h-.9zM83.7 344.2h.9v.9h-.9zM86.1 343.6h.9v.9h-.9zM90.4 345.8h.9v.9h-.9zM89.0 344.0h.9v.9h-.9zM83.8 339.9h.9v.9h-.9zM92.9 342.2h.9v.9h-.9zM91.5 343.4h.9v.9h-.9zM94.8 339.6h.9v.9h-.9zM86.3 343.9h.9v.9h-.9zM87.4 343.5h.9v.9h-.9zM91.1 346.5h.9v.9h-.9zM88.4 343.9h.9v.9h-.9zM87.1 342.8h.9v.9h-.9zM86.1 343.9h.9v.9h-.9zM85.2 344.2h.9v.9h-.9zM83.6 346.3h.9v.9h-.9zM83.7 342.0h.9v.9h-.9zM88.3 339.1h.9v.9h-.9zM85.2 350.2h.9v.9h-.9zM80.3 345.8h.9v.9h-.9zM86.7 344.2h.9v.9h-.9zM93.8 349.5h.9v.9h-.9zM92.5 341.6h.9v.9h-.9zM77.7 342.4h.9v.9h-.9zM82.8 343.1h.9v.9h-.9zM89.9 345.2h.9v.9h-.9zM86.9 343.1h.9v.9h-.9zM86.8 345.9h.9v.9h-.9zM85.9 343.3h.9v.9h-.9zM86.8 347.0h.9v.9h-.9zM82.0 345.1h.9v.9h-.9zM91.7 340.4h.9v.9h-.9zM81.9 344.0h.9v.9h-.9zM85.9 341.6h.9v.9h-.9zM93.3 343.8h.9v.9h-.9zM91.3 344.1h.9v.9h-.9zM86.5 349.1h.9v.9h-.9zM86.5 343.6h.9v.9h-.9zM83.9 340.5h.9v.9h-.9zM84.3 344.3h.9v.9h-.9zM85.5 341.5h.9v.9h-.9zM92.4 348.2h.9v.9h-.9zM84.6 345.7h.9v.9h-.9zM89.0 347.6h.9v.9h-.9zM88.4 343.2h.9v.9h-.9zM88.3 341.7h.9v.9h-.9zM85.3 344.7h.9v.9h-.9zM89.8 341.0h.9v.9h-.9zM87.3 341.9h.9v.9h-.9zM87.0 342.4h.9v.9h-.9zM84.5 343.7h.9v.9h-.9zM77.1 340.7h.9v.9h-.9zM89.8 339.5h.9v.9h-.9zM89.9 347.3h.9v.9h-.9zM84.4 342.9h.9v.9h-.9zM85.8 343.7h.9v.9h-.9zM87.8 345.4h.9v.9h-.9zM82.3 345.1h.9v.9h-.9zM89.7 342.6h.9v.9h-.9zM89.7 343.1h.9v.9h-.9zM90.3 347.7h.9v.9h-.9zM90.6 346.9h.9v.9h-.9zM78.3 345.8h.9v.9h-.9zM88.9 347.8h.9v.9h-.9zM84.7 339.9h.9v.9h-.9zM91.5 344.4h.9v.9h-.9zM91.2 343.5h.9v.9h-.9zM90.2 339.8h.9v.9h-.9zM86.3 344.9h.9v.9h-.9zM98.9 345.6h.9v.9h-.9zM86.4 344.7h.9v.9h-.9zM82.1 340.1h.9v.9h-.9zM90.9 343.6h.9v.9h-.9zM80.3 344.6h.9v.9h-.9zM95.0 343.6h.9v.9h-.9zM91.1 344.7h.9v.9h-.9zM92.5 345.2h.9v.9h-.9zM91.2 347.3h.9v.9h-.9zM88.4 344.6h.9v.9h-.9zM80.9 350.0h.9v.9h-.9zM84.1 344.6h.9v.9h-.9zM89.1 344.8h.9v.9h-.9zM85.8 345.9h.9v.9h-.9zM88.3 344.0h.9v.9h-.9zM83.7 343.4h.9v.9h-.9zM83.3 346.9h.9v.9h-.9zM88.0 339.3h.9v.9h-.9zM89.9 340.2h.9v.9h-.9zM86.7 348.8h.9v.9h-.9zM82.4 345.8h.9v.9h-.9zM79.4 345.4h.9v.9h-.9zM95.5 344.8h.9v.9h-.9zM81.7 344.8h.9v.9h-.9zM82.9 342.0h.9v.9h-.9zM83.5 343.5h.9v.9h-.9zM90.6 341.9h.9v.9h-.9zM83.4 346.7h.9v.9h-.9zM89.0 345.6h.9v.9h-.9zM87.9 344.7h.9v.9h-.9zM81.7 345.0h.9v.9h-.9zM87.3 343.9h.9v.9h-.9zM81.3 341.6h.9v.9h-.9zM85.9 348.0h.9v.9h-.9zM89.8 345.6h.9v.9h-.9zM85.6 343.8h.9v.9h-.9zM82.6 345.5h.9v.9h-.9zM84.8 347.0h.9v.9h-.9zM85.8 346.8h.9v.9h-.9zM88.1 345.7h.9v.9h-.9zM76.6 346.0h.9v.9h-.9zM78.5 343.7h.9v.9h-.9zM88.7 347.2h.9v.9h-.9zM86.0 346.3h.9v.9h-.9zM86.6 346.3h.9v.9h-.9zM87.5 341.3h.9v.9h-.9zM85.8 345.6h.9v.9h-.9zM84.5 345.7h.9v.9h-.9zM87.0 346.0h.9v.9h-.9zM89.4 338.3h.9v.9h-.9zM88.0 340.0h.9v.9h-.9zM86.6 344.8h.9v.9h-.9zM81.9 342.0h.9v.9h-.9zM87.5 345.0h.9v.9h-.9zM81.4 343.9h.9v.9h-.9zM83.6 346.1h.9v.9h-.9zM87.1 342.9h.9v.9h-.9zM87.0 341.7h.9v.9h-.9zM91.2 345.3h.9v.9h-.9zM90.3 343.5h.9v.9h-.9zM88.6 341.5h.9v.9h-.9zM85.1 339.7h.9v.9h-.9zM86.4 351.2h.9v.9h-.9zM85.4 343.3h.9v.9h-.9zM94.0 343.6h.9v.9h-.9zM88.5 339.7h.9v.9h-.9zM83.7 341.8h.9v.9h-.9zM82.8 343.7h.9v.9h-.9zM91.9 344.8h.9v.9h-.9zM82.7 345.9h.9v.9h-.9zM88.1 342.4h.9v.9h-.9zM87.3 345.2h.9v.9h-.9zM91.1 346.7h.9v.9h-.9zM82.7 342.9h.9v.9h-.9zM88.5 343.9h.9v.9h-.9zM87.4 340.0h.9v.9h-.9zM90.0 342.2h.9v.9h-.9zM92.4 341.0h.9v.9h-.9zM86.9 345.6h.9v.9h-.9zM85.5 343.7h.9v.9h-.9zM90.3 347.7h.9v.9h-.9zM80.4 344.5h.9v.9h-.9zM87.3 345.9h.9v.9h-.9zM82.2 345.3h.9v.9h-.9zM81.3 344.6h.9v.9h-.9zM79.6 341.7h.9v.9h-.9zM79.3 347.8h.9v.9h-.9zM90.1 343.9h.9v.9h-.9zM90.3 339.9h.9v.9h-.9zM87.0 342.8h.9v.9h-.9zM91.0 341.6h.9v.9h-.9zM86.7 346.8h.9v.9h-.9zM84.4 346.5h.9v.9h-.9zM81.8 347.6h.9v.9h-.9zM89.9 349.1h.9v.9h-.9zM90.1 342.6h.9v.9h-.9zM92.0 339.8h.9v.9h-.9zM83.1 342.0h.9v.9h-.9zM85.3 345.0h.9v.9h-.9zM80.7 338.0h.9v.9h-.9zM91.5 342.7h.9v.9h-.9zM89.6 346.0h.9v.9h-.9zM88.8 342.2h.9v.9h-.9zM86.5 343.8h.9v.9h-.9zM85.9 342.0h.9v.9h-.9zM85.0 348.1h.9v.9h-.9zM91.3 348.5h.9v.9h-.9zM83.8 341.8h.9v.9h-.9zM90.4 342.2h.9v.9h-.9zM87.8 344.4h.9v.9h-.9zM82.2 345.7h.9v.9h-.9zM80.3 345.1h.9v.9h-.9zM83.2 345.6h.9v.9h-.9zM86.4 346.4h.9v.9h-.9zM81.0 347.0h.9v.9h-.9zM89.3 348.5h.9v.9h-.9zM91.5 344.7h.9v.9h-.9zM88.9 343.2h.9v.9h-.9zM79.2 344.1h.9v.9h-.9zM76.4 349.4h.9v.9h-.9zM90.4 346.2h.9v.9h-.9zM93.1 346.0h.9v.9h-.9zM84.8 347.4h.9v.9h-.9zM88.9 347.2h.9v.9h-.9zM85.4 349.8h.9v.9h-.9zM83.8 342.5h.9v.9h-.9zM90.9 344.8h.9v.9h-.9zM84.2 346.1h.9v.9h-.9zM90.3 346.2h.9v.9h-.9zM94.1 343.5h.9v.9h-.9zM86.1 340.6h.9v.9h-.9zM94.7 343.7h.9v.9h-.9zM80.9 342.8h.9v.9h-.9zM90.6 344.1h.9v.9h-.9zM86.6 346.9h.9v.9h-.9zM97.8 345.9h.9v.9h-.9zM86.8 341.7h.9v.9h-.9zM83.1 342.6h.9v.9h-.9zM93.7 344.8h.9v.9h-.9zM79.9 346.9h.9v.9h-.9zM88.5 344.2h.9v.9h-.9zM83.3 344.8h.9v.9h-.9zM92.6 340.8h.9v.9h-.9zM86.1 343.2h.9v.9h-.9zM90.3 342.5h.9v.9h-.9zM86.4 344.7h.9v.9h-.9zM81.8 343.6h.9v.9h-.9zM77.2 342.2h.9v.9h-.9zM94.4 341.7h.9v.9h-.9zM87.6 344.7h.9v.9h-.9zM81.5 342.7h.9v.9h-.9zM85.2 346.8h.9v.9h-.9zM90.9 344.5h.9v.9h-.9zM80.1 343.6h.9v.9h-.9zM96.5 346.2h.9v.9h-.9zM85.5 341.4h.9v.9h-.9zM85.0 346.2h.9v.9h-.9zM92.2 342.5h.9v.9h-.9zM87.5 345.8h.9v.9h-.9zM82.2 342.6h.9v.9h-.9zM90.6 342.0h.9v.9h-.9zM88.5 339.9h.9v.9h-.9zM91.5 344.2h.9v.9h-.9zM82.5 345.2h.9v.9h-.9zM81.6 340.9h.9v.9h-.9zM89.3 348.2h.9v.9h-.9zM84.6 344.1h.9v.9h-.9zM77.1 341.5h.9v.9h-.9zM84.0 348.6h.9v.9h-.9zM89.3 343.2h.9v.9h-.9zM83.4 347.4h.9v.9h-.9zM92.1 337.7h.9v.9h-.9zM84.3 349.0h.9v.9h-.9zM86.1 344.5h.9v.9h-.9zM79.4 344.1h.9v.9h-.9zM83.0 344.8h.9v.9h-.9zM85.7 341.4h.9v.9h-.9zM89.0 346.2h.9v.9h-.9zM87.3 345.1h.9v.9h-.9zM91.2 344.8h.9v.9h-.9zM77.0 342.8h.9v.9h-.9zM86.6 341.4h.9v.9h-.9zM85.9 344.9h.9v.9h-.9zM81.9 345.9h.9v.9h-.9zM86.3 344.4h.9v.9h-.9zM83.2 343.6h.9v.9h-.9zM88.4 342.9h.9v.9h-.9zM85.0 345.7h.9v.9h-.9zM88.7 347.4h.9v.9h-.9zM82.5 343.7h.9v.9h-.9zM92.1 342.1h.9v.9h-.9zM88.2 349.7h.9v.9h-.9zM94.3 340.5h.9v.9h-.9zM85.9 344.7h.9v.9h-.9zM84.3 343.8h.9v.9h-.9zM87.1 347.0h.9v.9h-.9zM84.4 343.7h.9v.9h-.9zM81.9 340.3h.9v.9h-.9zM86.6 341.5h.9v.9h-.9zM86.2 344.3h.9v.9h-.9zM83.6 344.0h.9v.9h-.9zM84.8 342.6h.9v.9h-.9zM82.2 342.8h.9v.9h-.9zM87.1 340.5h.9v.9h-.9zM80.6 340.7h.9v.9h-.9zM94.0 342.6h.9v.9h-.9zM86.6 342.5h.9v.9h-.9zM90.7 343.7h.9v.9h-.9zM81.2 341.4h.9v.9h-.9zM88.0 347.6h.9v.9h-.9zM85.9 340.1h.9v.9h-.9zM90.8 346.0h.9v.9h-.9zM90.3 345.3h.9v.9h-.9zM79.3 347.7h.9v.9h-.9zM91.6 347.2h.9v.9h-.9zM79.9 341.1h.9v.9h-.9zM92.4 344.9h.9v.9h-.9zM86.3 345.8h.9v.9h-.9zM81.2 346.2h.9v.9h-.9zM89.6 345.3h.9v.9h-.9zM86.7 342.8h.9v.9h-.9zM82.1 347.0h.9v.9h-.9zM83.2 343.9h.9v.9h-.9zM88.6 343.0h.9v.9h-.9zM80.5 344.6h.9v.9h-.9zM82.7 343.1h.9v.9h-.9zM94.7 342.6h.9v.9h-.9zM83.1 344.4h.9v.9h-.9zM88.1 350.1h.9v.9h-.9zM88.5 344.9h.9v.9h-.9zM90.7 344.3h.9v.9h-.9zM90.4 343.1h.9v.9h-.9zM75.4 344.9h.9v.9h-.9zM84.4 341.5h.9v.9h-.9zM91.7 345.3h.9v.9h-.9zM83.0 344.8h.9v.9h-.9zM94.6 344.4h.9v.9h-.9zM87.6 345.2h.9v.9h-.9zM81.1 343.7h.9v.9h-.9z"/>
<path fill="#000" fill-opacity="0.7" d="M88.6 343.2h.9v.9h-.9zM88.2 343.0h.9v.9h-.9zM88.3 342.5h.9v.9h-.9zM86.7 343.6h.9v.9h-.9zM89.2 344.9h.9v.9h-.9zM86.2 343.1h.9v.9h-.9zM90.4 343.0h.9v.9h-.9zM86.4 342.4h.9v.9h-.9zM90.4 344.8h.9v.9h-.9zM87.4 343.6h.9v.9h-.9zM86.6 341.5h.9v.9h-.9zM83.8 345.7h.9v.9h-.9zM88.5 345.6h.9v.9h-.9zM87.7 344.0h.9v.9h-.9zM86.8 343.5h.9v.9h-.9zM87.9 343.9h.9v.9h-.9zM87.1 342.6h.9v.9h-.9zM84.1 345.5h.9v.9h-.9zM83.3 346.1h.9v.9h-.9zM88.5 345.5h.9v.9h-.9zM87.2 344.3h.9v.9h-.9zM91.1 344.3h.9v.9h-.9zM92.5 344.8h.9v.9h-.9zM89.1 346.6h.9v.9h-.9zM88.6 342.8h.9v.9h-.9zM88.3 344.0h.9v.9h-.9zM87.0 343.0h.9v.9h-.9zM84.9 342.2h.9v.9h-.9zM79.2 344.5h.9v.9h-.9zM88.9 345.7h.9v.9h-.9zM88.4 342.4h.9v.9h-.9zM86.8 345.5h.9v.9h-.9zM87.1 345.0h.9v.9h-.9zM89.5 344.7h.9v.9h-.9zM89.4 346.0h.9v.9h-.9zM87.3 343.0h.9v.9h-.9zM86.0 346.4h.9v.9h-.9zM88.4 343.4h.9v.9h-.9zM89.0 344.8h.9v.9h-.9zM93.1 341.7h.9v.9h-.9zM84.1 345.4h.9v.9h-.9zM88.2 344.0h.9v.9h-.9zM84.2 343.1h.9v.9h-.9zM85.4 342.4h.9v.9h-.9zM93.5 344.3h.9v.9h-.9zM85.5 346.0h.9v.9h-.9zM86.4 344.8h.9v.9h-.9zM85.1 343.5h.9v.9h-.9zM89.2 342.8h.9v.9h-.9zM85.5 342.4h.9v.9h-.9zM81.9 343.5h.9v.9h-.9zM87.1 341.6h.9v.9h-.9zM89.1 343.4h.9v.9h-.9zM86.6 345.6h.9v.9h-.9zM87.2 343.9h.9v.9h-.9zM84.7 343.7h.9v.9h-.9zM84.0 343.1h.9v.9h-.9zM86.7 345.0h.9v.9h-.9zM83.4 344.9h.9v.9h-.9zM85.4 346.1h.9v.9h-.9zM83.8 342.9h.9v.9h-.9zM86.0 342.3h.9v.9h-.9zM89.0 343.0h.9v.9h-.9zM86.6 342.1h.9v.9h-.9zM89.9 343.9h.9v.9h-.9zM87.7 343.3h.9v.9h-.9zM86.3 342.7h.9v.9h-.9zM84.1 343.9h.9v.9h-.9zM86.9 345.5h.9v.9h-.9zM83.3 345.0h.9v.9h-.9zM88.8 343.0h.9v.9h-.9zM82.8 344.0h.9v.9h-.9zM82.6 344.4h.9v.9h-.9zM84.2 344.9h.9v.9h-.9zM81.8 343.4h.9v.9h-.9zM86.9 342.0h.9v.9h-.9zM84.4 344.5h.9v.9h-.9zM85.3 342.5h.9v.9h-.9zM88.4 343.4h.9v.9h-.9zM80.3 343.5h.9v.9h-.9zM85.9 345.3h.9v.9h-.9zM87.6 343.2h.9v.9h-.9zM89.6 344.2h.9v.9h-.9zM87.0 343.6h.9v.9h-.9zM84.7 343.1h.9v.9h-.9zM89.3 345.3h.9v.9h-.9zM89.3 343.2h.9v.9h-.9zM93.0 344.7h.9v.9h-.9zM92.8 344.4h.9v.9h-.9zM86.0 341.2h.9v.9h-.9zM90.6 341.5h.9v.9h-.9zM87.2 339.2h.9v.9h-.9zM83.7 344.4h.9v.9h-.9zM88.7 344.3h.9v.9h-.9zM90.4 343.2h.9v.9h-.9zM79.9 343.2h.9v.9h-.9zM90.5 343.5h.9v.9h-.9zM84.2 343.0h.9v.9h-.9zM91.3 343.9h.9v.9h-.9zM87.3 343.9h.9v.9h-.9zM87.1 342.6h.9v.9h-.9zM90.6 346.1h.9v.9h-.9zM85.7 345.5h.9v.9h-.9zM92.6 343.3h.9v.9h-.9zM83.9 347.2h.9v.9h-.9zM84.9 347.6h.9v.9h-.9zM83.5 345.8h.9v.9h-.9zM88.2 345.7h.9v.9h-.9zM86.4 343.1h.9v.9h-.9zM88.9 343.5h.9v.9h-.9zM89.8 341.6h.9v.9h-.9zM88.9 343.3h.9v.9h-.9zM89.7 345.4h.9v.9h-.9zM89.7 343.3h.9v.9h-.9zM86.3 341.4h.9v.9h-.9zM84.5 346.4h.9v.9h-.9zM83.8 346.9h.9v.9h-.9zM88.7 346.2h.9v.9h-.9zM85.0 341.7h.9v.9h-.9zM83.8 345.2h.9v.9h-.9zM84.1 342.7h.9v.9h-.9zM85.9 343.8h.9v.9h-.9zM87.2 345.0h.9v.9h-.9zM85.8 346.3h.9v.9h-.9zM83.6 343.0h.9v.9h-.9zM88.1 343.4h.9v.9h-.9zM80.1 342.1h.9v.9h-.9zM85.6 344.0h.9v.9h-.9zM89.5 342.5h.9v.9h-.9zM87.2 343.2h.9v.9h-.9zM89.9 345.1h.9v.9h-.9zM86.8 343.9h.9v.9h-.9zM88.1 344.1h.9v.9h-.9zM86.6 344.4h.9v.9h-.9zM85.2 345.2h.9v.9h-.9zM87.5 346.0h.9v.9h-.9zM89.2 342.2h.9v.9h-.9zM80.8 341.5h.9v.9h-.9zM84.1 344.7h.9v.9h-.9zM80.4 345.0h.9v.9h-.9zM83.7 346.1h.9v.9h-.9zM82.7 345.1h.9v.9h-.9zM85.0 346.6h.9v.9h-.9zM85.5 344.7h.9v.9h-.9zM89.1 343.0h.9v.9h-.9zM89.9 345.5h.9v.9h-.9zM84.0 342.6h.9v.9h-.9zM84.9 342.9h.9v.9h-.9zM88.1 344.6h.9v.9h-.9zM84.5 343.6h.9v.9h-.9zM85.2 345.4h.9v.9h-.9zM81.0 343.4h.9v.9h-.9zM88.4 346.7h.9v.9h-.9zM87.1 342.4h.9v.9h-.9zM83.6 345.0h.9v.9h-.9zM82.5 343.3h.9v.9h-.9zM83.3 346.1h.9v.9h-.9zM87.6 343.1h.9v.9h-.9zM84.9 345.1h.9v.9h-.9zM82.8 339.2h.9v.9h-.9zM85.4 342.9h.9v.9h-.9zM88.8 346.5h.9v.9h-.9zM89.9 344.3h.9v.9h-.9zM90.2 344.1h.9v.9h-.9zM86.7 345.3h.9v.9h-.9zM87.1 347.6h.9v.9h-.9zM87.2 342.3h.9v.9h-.9zM88.3 343.9h.9v.9h-.9zM88.1 343.3h.9v.9h-.9zM83.6 345.0h.9v.9h-.9zM84.3 342.9h.9v.9h-.9zM85.3 341.6h.9v.9h-.9zM88.4 341.7h.9v.9h-.9zM84.9 345.0h.9v.9h-.9zM84.2 344.3h.9v.9h-.9zM89.3 345.3h.9v.9h-.9zM90.6 341.6h.9v.9h-.9zM83.8 342.6h.9v.9h-.9zM86.0 343.2h.9v.9h-.9zM89.7 345.3h.9v.9h-.9zM85.3 344.7h.9v.9h-.9zM89.0 343.7h.9v.9h-.9zM82.4 342.5h.9v.9h-.9zM85.8 344.3h.9v.9h-.9zM88.3 343.3h.9v.9h-.9zM90.8 345.3h.9v.9h-.9zM89.1 346.6h.9v.9h-.9zM81.8 344.2h.9v.9h-.9zM82.0 342.3h.9v.9h-.9zM83.9 347.6h.9v.9h-.9zM88.8 345.0h.9v.9h-.9zM88.5 344.8h.9v.9h-.9zM89.5 344.2h.9v.9h-.9zM88.4 344.3h.9v.9h-.9zM84.8 344.1h.9v.9h-.9zM85.3 344.4h.9v.9h-.9zM83.9 341.7h.9v.9h-.9zM88.8 342.9h.9v.9h-.9zM82.8 343.9h.9v.9h-.9zM86.6 344.2h.9v.9h-.9zM87.1 344.3h.9v.9h-.9zM89.9 344.7h.9v.9h-.9zM84.2 341.3h.9v.9h-.9zM87.5 342.6h.9v.9h-.9zM83.5 343.0h.9v.9h-.9zM89.3 344.2h.9v.9h-.9zM85.4 343.7h.9v.9h-.9zM85.5 347.0h.9v.9h-.9zM83.7 343.4h.9v.9h-.9zM84.7 343.6h.9v.9h-.9zM84.5 341.7h.9v.9h-.9zM84.7 346.8h.9v.9h-.9zM89.7 344.1h.9v.9h-.9zM83.6 343.8h.9v.9h-.9zM87.1 343.0h.9v.9h-.9zM88.8 344.1h.9v.9h-.9zM83.2 343.5h.9v.9h-.9zM80.3 345.8h.9v.9h-.9zM87.7 342.8h.9v.9h-.9zM81.7 343.4h.9v.9h-.9zM84.2 343.2h.9v.9h-.9zM86.1 344.9h.9v.9h-.9zM87.2 344.5h.9v.9h-.9zM85.6 345.5h.9v.9h-.9zM84.4 344.8h.9v.9h-.9zM89.2 344.9h.9v.9h-.9zM87.0 344.1h.9v.9h-.9zM91.9 345.4h.9v.9h-.9zM83.8 344.7h.9v.9h-.9zM86.1 344.5h.9v.9h-.9zM86.3 341.6h.9v.9h-.9zM87.9 343.3h.9v.9h-.9zM87.1 343.0h.9v.9h-.9zM86.5 341.3h.9v.9h-.9zM92.0 346.0h.9v.9h-.9zM86.0 346.2h.9v.9h-.9zM87.7 345.7h.9v.9h-.9zM86.9 344.9h.9v.9h-.9zM84.7 346.3h.9v.9h-.9zM88.5 341.5h.9v.9h-.9zM81.1 345.9h.9v.9h-.9zM89.7 341.0h.9v.9h-.9zM82.0 344.3h.9v.9h-.9zM85.5 344.2h.9v.9h-.9zM86.7 344.8h.9v.9h-.9zM85.0 345.0h.9v.9h-.9zM84.9 345.1h.9v.9h-.9zM89.8 343.0h.9v.9h-.9zM93.2 343.0h.9v.9h-.9zM89.4 342.7h.9v.9h-.9zM86.9 344.2h.9v.9h-.9zM84.6 343.5h.9v.9h-.9zM84.2 341.6h.9v.9h-.9zM89.9 345.4h.9v.9h-.9zM89.0 342.3h.9v.9h-.9zM90.2 343.3h.9v.9h-.9zM89.3 342.9h.9v.9h-.9zM90.2 342.9h.9v.9h-.9zM84.7 344.9h.9v.9h-.9zM84.2 343.0h.9v.9h-.9zM83.5 341.8h.9v.9h-.9zM86.3 343.0h.9v.9h-.9zM85.9 342.4h.9v.9h-.9zM86.7 341.7h.9v.9h-.9zM83.0 345.4h.9v.9h-.9zM86.9 345.7h.9v.9h-.9zM88.7 341.8h.9v.9h-.9zM86.6 346.3h.9v.9h-.9zM78.8 346.7h.9v.9h-.9zM86.3 341.9h.9v.9h-.9zM85.4 344.6h.9v.9h-.9zM89.0 343.6h.9v.9h-.9zM86.0 345.2h.9v.9h-.9zM88.2 339.6h.9v.9h-.9zM85.3 344.9h.9v.9h-.9zM87.3 343.4h.9v.9h-.9zM89.2 344.7h.9v.9h-.9zM85.6 345.3h.9v.9h-.9zM87.3 340.4h.9v.9h-.9zM86.9 343.9h.9v.9h-.9zM88.1 344.0h.9v.9h-.9zM86.1 344.9h.9v.9h-.9zM87.8 345.7h.9v.9h-.9zM81.2 345.1h.9v.9h-.9zM85.7 342.8h.9v.9h-.9zM88.7 345.1h.9v.9h-.9zM88.3 342.9h.9v.9h-.9zM83.7 345.1h.9v.9h-.9zM84.1 343.7h.9v.9h-.9zM87.5 343.7h.9v.9h-.9zM87.4 344.2h.9v.9h-.9zM87.7 341.6h.9v.9h-.9zM86.6 343.5h.9v.9h-.9zM86.7 342.2h.9v.9h-.9zM89.3 345.4h.9v.9h-.9zM83.8 345.9h.9v.9h-.9zM82.5 341.8h.9v.9h-.9zM89.2 340.6h.9v.9h-.9zM84.2 344.4h.9v.9h-.9zM88.3 343.1h.9v.9h-.9zM84.5 342.6h.9v.9h-.9zM83.3 347.4h.9v.9h-.9zM90.7 343.4h.9v.9h-.9zM86.2 342.4h.9v.9h-.9zM82.4 343.6h.9v.9h-.9zM85.8 344.4h.9v.9h-.9zM85.9 346.4h.9v.9h-.9zM85.8 344.5h.9v.9h-.9zM86.8 342.1h.9v.9h-.9zM83.1 343.3h.9v.9h-.9zM85.6 346.8h.9v.9h-.9zM87.6 341.4h.9v.9h-.9zM88.1 343.9h.9v.9h-.9zM86.6 345.8h.9v.9h-.9zM84.1 344.4h.9v.9h-.9zM80.8 343.7h.9v.9h-.9zM90.5 342.7h.9v.9h-.9zM83.2 344.2h.9v.9h-.9zM85.1 344.8h.9v.9h-.9zM86.4 344.3h.9v.9h-.9zM87.6 345.5h.9v.9h-.9zM86.3 344.3h.9v.9h-.9zM84.1 345.9h.9v.9h-.9zM86.3 344.2h.9v.9h-.9zM92.2 345.4h.9v.9h-.9zM93.4 343.5h.9v.9h-.9zM85.8 346.6h.9v.9h-.9zM88.2 345.9h.9v.9h-.9zM81.5 345.0h.9v.9h-.9zM87.0 342.5h.9v.9h-.9zM88.4 344.3h.9v.9h-.9zM85.5 339.6h.9v.9h-.9zM91.5 343.5h.9v.9h-.9zM88.8 344.3h.9v.9h-.9zM88.1 342.7h.9v.9h-.9zM79.0 344.3h.9v.9h-.9zM84.7 345.0h.9v.9h-.9zM88.4 346.7h.9v.9h-.9zM85.0 344.0h.9v.9h-.9zM81.5 341.7h.9v.9h-.9zM84.8 340.5h.9v.9h-.9zM90.7 343.8h.9v.9h-.9zM88.3 345.4h.9v.9h-.9zM88.8 345.7h.9v.9h-.9zM86.9 344.2h.9v.9h-.9zM90.9 343.0h.9v.9h-.9zM78.5 343.0h.9v.9h-.9zM83.0 343.8h.9v.9h-.9zM91.8 344.2h.9v.9h-.9zM89.4 344.9h.9v.9h-.9zM87.1 344.2h.9v.9h-.9zM85.5 347.0h.9v.9h-.9zM81.3 344.3h.9v.9h-.9zM85.2 344.8h.9v.9h-.9zM86.0 345.6h.9v.9h-.9zM83.8 345.5h.9v.9h-.9zM90.3 343.1h.9v.9h-.9zM89.3 341.6h.9v.9h-.9zM85.6 342.1h.9v.9h-.9zM89.0 344.6h.9v.9h-.9zM86.3 344.9h.9v.9h-.9zM87.2 344.5h.9v.9h-.9zM85.1 345.2h.9v.9h-.9zM93.4 346.0h.9v.9h-.9zM82.2 342.9h.9v.9h-.9zM86.0 347.9h.9v.9h-.9zM89.3 348.0h.9v.9h-.9zM89.3 345.2h.9v.9h-.9zM81.9 343.8h.9v.9h-.9zM83.8 344.4h.9v.9h-.9zM86.2 341.9h.9v.9h-.9zM84.2 344.1h.9v.9h-.9zM84.5 342.8h.9v.9h-.9zM85.7 343.9h.9v.9h-.9zM86.0 343.6h.9v.9h-.9zM89.5 347.2h.9v.9h-.9zM81.6 342.8h.9v.9h-.9zM89.4 344.5h.9v.9h-.9zM85.8 343.4h.9v.9h-.9zM88.1 346.4h.9v.9h-.9zM85.5 345.6h.9v.9h-.9zM93.0 341.8h.9v.9h-.9zM81.4 342.6h.9v.9h-.9zM89.8 344.5h.9v.9h-.9zM85.2 343.1h.9v.9h-.9zM85.8 344.7h.9v.9h-.9zM90.4 344.2h.9v.9h-.9zM85.9 342.4h.9v.9h-.9zM89.0 343.6h.9v.9h-.9zM90.5 344.8h.9v.9h-.9zM84.8 343.9h.9v.9h-.9zM92.1 344.3h.9v.9h-.9zM90.0 344.6h.9v.9h-.9zM85.8 343.9h.9v.9h-.9zM87.1 346.1h.9v.9h-.9zM84.5 342.1h.9v.9h-.9zM87.3 344.8h.9v.9h-.9zM88.9 343.3h.9v.9h-.9zM89.3 344.7h.9v.9h-.9zM87.1 345.3h.9v.9h-.9z"/>
</g>
<rect x="48.40" y="352.50" width="1.60" height="2.60" fill="#000"/>
<rect x="64.00" y="369.70" width="4.50" height="1.80" fill="#000"/>
<path fill="#333" d="M110.2 369.8h1v1.2h-1zM89.9 369.8h1v1.2h-1zM104.6 369.8h1v1.2h-1zM105.0 369.8h1v1.2h-1zM78.1 369.8h1v1.2h-1zM89.6 369.8h1v1.2h-1zM105.7 369.8h1v1.2h-1zM115.6 369.8h1v1.2h-1zM105.9 369.8h1v1.2h-1zM79.3 369.8h1v1.2h-1zM57.4 369.8h1v1.2h-1zM67.8 369.8h1v1.2h-1zM87.0 369.8h1v1.2h-1zM65.2 369.8h1v1.2h-1zM101.1 369.8h1v1.2h-1zM69.0 369.8h1v1.2h-1zM80.6 369.8h1v1.2h-1zM78.2 369.8h1v1.2h-1zM117.9 369.8h1v1.2h-1zM79.4 369.8h1v1.2h-1zM96.9 369.8h1v1.2h-1zM116.0 369.8h1v1.2h-1z"/>
<polygon points="99.6,337.3 104.2,336.1 109.6,353.5 100.4,355.0 91.2,350.4" fill="none" stroke="#222" stroke-width="0.85"/>
<text x="108.50" y="327.00" font-size="5.8" text-anchor="middle" fill="#1a1a1a" class="ns">Tregs</text>
<text x="108.50" y="334.00" font-size="5.8" text-anchor="middle" fill="#1a1a1a" class="ns">2.80</text>
<rect x="143.50" y="299.00" width="72.00" height="72.00" fill="#fff" stroke="#d4d4d4" stroke-width="0.9"/>
<text x="141.40" y="309.70" font-size="6.3" text-anchor="end" fill="#1a1a1a" class="lt">10<tspan font-size="4.09" dy="-2.4">5</tspan></text>
<line x1="142.00" y1="307.40" x2="143.60" y2="307.40" stroke="#666" stroke-width="0.8"/>
<text x="141.40" y="327.00" font-size="6.3" text-anchor="end" fill="#1a1a1a" class="lt">10<tspan font-size="4.09" dy="-2.4">4</tspan></text>
<line x1="142.00" y1="324.70" x2="143.60" y2="324.70" stroke="#666" stroke-width="0.8"/>
<text x="141.40" y="346.20" font-size="6.3" text-anchor="end" fill="#1a1a1a" class="lt">10<tspan font-size="4.09" dy="-2.4">3</tspan></text>
<line x1="142.00" y1="343.90" x2="143.60" y2="343.90" stroke="#666" stroke-width="0.8"/>
<text x="138.60" y="357.40" font-size="6.3" text-anchor="end" fill="#1a1a1a" class="lt">0</text>
<line x1="142.00" y1="355.10" x2="143.60" y2="355.10" stroke="#666" stroke-width="0.8"/>
<text x="141.40" y="370.10" font-size="6.3" text-anchor="end" fill="#1a1a1a" class="lt">-10<tspan font-size="4.09" dy="-2.4">3</tspan></text>
<line x1="142.00" y1="367.80" x2="143.60" y2="367.80" stroke="#666" stroke-width="0.8"/>
<text x="146.50" y="381.70" font-size="6.3" text-anchor="middle" fill="#1a1a1a" class="lt">-10<tspan font-size="4.09" dy="-2.4">3</tspan></text>
<line x1="146.50" y1="370.90" x2="146.50" y2="372.50" stroke="#666" stroke-width="0.8"/>
<text x="161.20" y="381.70" font-size="6.3" text-anchor="middle" fill="#1a1a1a" class="lt">0</text>
<line x1="161.20" y1="370.90" x2="161.20" y2="372.50" stroke="#666" stroke-width="0.8"/>
<text x="170.80" y="381.70" font-size="6.3" text-anchor="middle" fill="#1a1a1a" class="lt">10<tspan font-size="4.09" dy="-2.4">3</tspan></text>
<line x1="170.80" y1="370.90" x2="170.80" y2="372.50" stroke="#666" stroke-width="0.8"/>
<text x="192.00" y="381.70" font-size="6.3" text-anchor="middle" fill="#1a1a1a" class="lt">10<tspan font-size="4.09" dy="-2.4">4</tspan></text>
<line x1="192.00" y1="370.90" x2="192.00" y2="372.50" stroke="#666" stroke-width="0.8"/>
<text x="209.30" y="381.70" font-size="6.3" text-anchor="middle" fill="#1a1a1a" class="lt">10<tspan font-size="4.09" dy="-2.4">5</tspan></text>
<line x1="209.30" y1="370.90" x2="209.30" y2="372.50" stroke="#666" stroke-width="0.8"/>
<g filter="url(#b03)">
<path fill="#000" fill-opacity="0.24" d="M157.7 346.1h.9v.9h-.9zM186.9 343.1h.9v.9h-.9zM182.5 347.6h.9v.9h-.9zM183.0 341.7h.9v.9h-.9zM176.1 341.8h.9v.9h-.9zM152.6 346.4h.9v.9h-.9zM153.1 341.1h.9v.9h-.9zM178.2 343.2h.9v.9h-.9zM180.8 339.5h.9v.9h-.9zM177.9 341.6h.9v.9h-.9zM192.8 353.8h.9v.9h-.9zM164.0 339.9h.9v.9h-.9zM191.9 346.4h.9v.9h-.9zM190.7 341.7h.9v.9h-.9zM190.2 340.1h.9v.9h-.9zM183.0 339.4h.9v.9h-.9zM170.2 346.3h.9v.9h-.9zM148.0 344.5h.9v.9h-.9zM177.4 344.2h.9v.9h-.9zM164.1 349.7h.9v.9h-.9zM191.5 339.4h.9v.9h-.9zM160.0 338.6h.9v.9h-.9zM173.7 344.7h.9v.9h-.9zM180.0 348.1h.9v.9h-.9zM191.8 343.9h.9v.9h-.9zM190.7 347.6h.9v.9h-.9zM163.5 348.2h.9v.9h-.9zM169.8 345.6h.9v.9h-.9zM171.1 342.2h.9v.9h-.9zM187.2 344.1h.9v.9h-.9zM189.4 347.0h.9v.9h-.9zM158.3 346.6h.9v.9h-.9zM179.1 344.1h.9v.9h-.9zM173.5 345.5h.9v.9h-.9zM178.0 344.1h.9v.9h-.9zM185.2 346.3h.9v.9h-.9zM181.2 343.3h.9v.9h-.9zM187.5 348.6h.9v.9h-.9zM190.9 344.7h.9v.9h-.9zM185.8 344.4h.9v.9h-.9zM152.9 340.1h.9v.9h-.9zM192.6 337.0h.9v.9h-.9zM173.0 343.9h.9v.9h-.9zM164.7 343.5h.9v.9h-.9zM191.7 349.2h.9v.9h-.9zM180.7 341.8h.9v.9h-.9zM178.2 341.3h.9v.9h-.9zM184.9 346.2h.9v.9h-.9zM186.7 337.7h.9v.9h-.9zM170.0 344.8h.9v.9h-.9zM191.0 339.6h.9v.9h-.9zM185.2 335.5h.9v.9h-.9zM164.2 339.4h.9v.9h-.9zM171.1 344.0h.9v.9h-.9zM176.6 344.1h.9v.9h-.9zM185.7 342.9h.9v.9h-.9zM167.9 341.8h.9v.9h-.9zM177.5 344.2h.9v.9h-.9zM153.1 346.1h.9v.9h-.9zM167.6 344.7h.9v.9h-.9zM154.4 350.1h.9v.9h-.9zM169.1 347.3h.9v.9h-.9zM177.9 341.3h.9v.9h-.9zM188.4 341.5h.9v.9h-.9zM192.1 340.5h.9v.9h-.9zM176.7 344.5h.9v.9h-.9zM162.0 347.9h.9v.9h-.9zM192.5 348.0h.9v.9h-.9zM185.0 344.2h.9v.9h-.9zM175.8 342.3h.9v.9h-.9zM177.8 340.8h.9v.9h-.9zM189.9 338.5h.9v.9h-.9zM170.0 349.6h.9v.9h-.9zM150.1 344.4h.9v.9h-.9zM153.5 343.7h.9v.9h-.9zM188.4 349.0h.9v.9h-.9zM147.9 343.6h.9v.9h-.9zM188.7 343.2h.9v.9h-.9zM171.4 345.6h.9v.9h-.9zM166.2 339.1h.9v.9h-.9zM189.5 339.4h.9v.9h-.9zM177.6 353.8h.9v.9h-.9zM163.2 345.9h.9v.9h-.9zM180.0 338.1h.9v.9h-.9zM175.7 342.5h.9v.9h-.9zM158.4 344.8h.9v.9h-.9zM172.6 346.2h.9v.9h-.9zM166.7 344.4h.9v.9h-.9zM157.5 341.6h.9v.9h-.9zM189.4 343.5h.9v.9h-.9zM165.0 348.1h.9v.9h-.9zM182.2 342.1h.9v.9h-.9zM153.2 341.9h.9v.9h-.9zM182.0 340.6h.9v.9h-.9zM154.6 338.4h.9v.9h-.9zM152.7 349.1h.9v.9h-.9zM163.3 345.8h.9v.9h-.9zM156.9 344.9h.9v.9h-.9zM179.9 344.5h.9v.9h-.9zM159.2 348.8h.9v.9h-.9zM175.7 343.1h.9v.9h-.9zM186.7 339.7h.9v.9h-.9zM192.8 346.6h.9v.9h-.9zM181.1 337.1h.9v.9h-.9zM175.2 343.2h.9v.9h-.9zM171.4 347.9h.9v.9h-.9zM171.7 349.0h.9v.9h-.9zM188.5 343.4h.9v.9h-.9zM178.3 343.8h.9v.9h-.9zM166.4 344.3h.9v.9h-.9zM176.1 343.4h.9v.9h-.9zM185.9 343.4h.9v.9h-.9zM161.3 349.1h.9v.9h-.9zM148.9 347.0h.9v.9h-.9zM188.8 348.7h.9v.9h-.9zM190.9 345.2h.9v.9h-.9zM186.5 342.6h.9v.9h-.9zM178.8 343.3h.9v.9h-.9zM188.4 350.1h.9v.9h-.9zM167.9 342.8h.9v.9h-.9zM167.3 347.7h.9v.9h-.9zM158.3 342.2h.9v.9h-.9zM178.1 345.8h.9v.9h-.9zM168.6 343.5h.9v.9h-.9zM151.3 344.2h.9v.9h-.9zM181.5 341.4h.9v.9h-.9zM159.9 342.8h.9v.9h-.9zM191.0 343.9h.9v.9h-.9zM154.1 349.4h.9v.9h-.9zM179.1 345.2h.9v.9h-.9zM178.6 341.4h.9v.9h-.9zM183.9 345.1h.9v.9h-.9zM192.5 335.9h.9v.9h-.9zM193.3 343.1h.9v.9h-.9zM151.2 352.2h.9v.9h-.9zM158.7 337.9h.9v.9h-.9zM187.0 342.7h.9v.9h-.9zM160.0 348.0h.9v.9h-.9zM173.5 350.0h.9v.9h-.9zM190.0 347.3h.9v.9h-.9zM178.0 342.8h.9v.9h-.9zM157.8 350.1h.9v.9h-.9zM161.7 349.7h.9v.9h-.9zM183.0 342.9h.9v.9h-.9zM185.1 344.0h.9v.9h-.9zM147.3 343.0h.9v.9h-.9zM177.0 343.3h.9v.9h-.9zM186.6 347.9h.9v.9h-.9zM158.6 341.6h.9v.9h-.9zM162.8 348.5h.9v.9h-.9zM189.1 344.6h.9v.9h-.9zM159.3 346.2h.9v.9h-.9zM185.6 342.0h.9v.9h-.9zM185.4 346.1h.9v.9h-.9zM161.8 344.6h.9v.9h-.9zM180.3 343.5h.9v.9h-.9zM175.5 339.5h.9v.9h-.9zM173.2 344.5h.9v.9h-.9zM189.7 342.4h.9v.9h-.9zM150.4 348.1h.9v.9h-.9zM186.7 344.1h.9v.9h-.9zM192.8 343.2h.9v.9h-.9zM174.6 342.7h.9v.9h-.9zM188.9 341.8h.9v.9h-.9zM187.1 341.5h.9v.9h-.9zM193.4 345.4h.9v.9h-.9zM178.8 339.7h.9v.9h-.9zM185.1 339.3h.9v.9h-.9zM188.8 344.3h.9v.9h-.9zM179.9 348.3h.9v.9h-.9zM178.9 345.0h.9v.9h-.9zM169.1 344.0h.9v.9h-.9zM176.6 350.5h.9v.9h-.9zM168.7 345.5h.9v.9h-.9zM151.8 343.7h.9v.9h-.9zM172.0 344.9h.9v.9h-.9zM174.4 347.3h.9v.9h-.9zM156.4 344.0h.9v.9h-.9zM158.0 347.5h.9v.9h-.9zM181.4 342.8h.9v.9h-.9zM188.8 343.9h.9v.9h-.9zM173.9 345.2h.9v.9h-.9zM178.0 336.6h.9v.9h-.9zM165.7 348.3h.9v.9h-.9zM185.9 345.4h.9v.9h-.9zM178.2 345.3h.9v.9h-.9zM162.8 345.3h.9v.9h-.9zM152.5 344.5h.9v.9h-.9zM191.3 347.3h.9v.9h-.9zM154.1 345.1h.9v.9h-.9zM175.3 346.7h.9v.9h-.9zM174.3 339.0h.9v.9h-.9zM190.9 349.2h.9v.9h-.9zM171.5 344.9h.9v.9h-.9zM156.7 345.8h.9v.9h-.9zM163.6 341.5h.9v.9h-.9zM185.5 340.8h.9v.9h-.9zM171.8 345.4h.9v.9h-.9zM173.2 334.2h.9v.9h-.9zM184.7 347.3h.9v.9h-.9zM157.5 342.6h.9v.9h-.9zM179.4 341.3h.9v.9h-.9zM174.0 344.1h.9v.9h-.9zM155.9 350.6h.9v.9h-.9zM170.4 344.8h.9v.9h-.9zM175.8 347.2h.9v.9h-.9zM188.8 339.4h.9v.9h-.9zM150.3 343.3h.9v.9h-.9zM157.9 347.4h.9v.9h-.9zM186.3 339.9h.9v.9h-.9zM161.6 336.6h.9v.9h-.9zM190.1 341.0h.9v.9h-.9zM181.2 342.4h.9v.9h-.9zM177.7 343.1h.9v.9h-.9zM178.1 345.9h.9v.9h-.9zM166.5 346.2h.9v.9h-.9zM175.3 342.5h.9v.9h-.9zM177.2 345.4h.9v.9h-.9zM181.2 343.2h.9v.9h-.9zM187.4 343.6h.9v.9h-.9zM181.2 340.7h.9v.9h-.9zM170.5 346.1h.9v.9h-.9zM156.4 343.8h.9v.9h-.9zM191.6 346.8h.9v.9h-.9zM188.1 339.0h.9v.9h-.9zM163.8 347.9h.9v.9h-.9zM182.8 340.0h.9v.9h-.9zM172.3 345.4h.9v.9h-.9zM154.7 341.6h.9v.9h-.9zM168.3 341.5h.9v.9h-.9zM147.3 347.5h.9v.9h-.9zM175.3 339.0h.9v.9h-.9zM180.0 346.5h.9v.9h-.9zM184.4 349.8h.9v.9h-.9zM180.1 345.8h.9v.9h-.9zM178.6 339.1h.9v.9h-.9zM154.7 346.9h.9v.9h-.9zM181.2 343.4h.9v.9h-.9zM163.3 345.1h.9v.9h-.9zM190.5 343.2h.9v.9h-.9zM189.0 346.5h.9v.9h-.9zM185.8 348.6h.9v.9h-.9zM172.7 345.1h.9v.9h-.9zM177.3 348.2h.9v.9h-.9zM181.0 342.3h.9v.9h-.9zM181.0 350.9h.9v.9h-.9zM186.3 340.6h.9v.9h-.9zM191.0 340.0h.9v.9h-.9zM172.9 343.1h.9v.9h-.9zM183.5 346.1h.9v.9h-.9zM176.5 347.0h.9v.9h-.9zM166.4 339.8h.9v.9h-.9zM189.8 344.1h.9v.9h-.9zM189.0 344.6h.9v.9h-.9zM185.3 351.3h.9v.9h-.9zM178.5 343.1h.9v.9h-.9zM192.1 339.1h.9v.9h-.9zM188.0 338.5h.9v.9h-.9zM191.5 342.7h.9v.9h-.9zM188.8 345.0h.9v.9h-.9zM159.8 345.6h.9v.9h-.9zM165.1 344.4h.9v.9h-.9zM193.1 340.9h.9v.9h-.9zM165.8 344.5h.9v.9h-.9zM185.7 343.7h.9v.9h-.9zM183.3 351.4h.9v.9h-.9zM173.9 344.0h.9v.9h-.9zM193.3 340.0h.9v.9h-.9zM172.7 342.9h.9v.9h-.9zM167.5 343.8h.9v.9h-.9zM179.1 337.5h.9v.9h-.9zM149.9 345.3h.9v.9h-.9zM154.2 345.7h.9v.9h-.9zM158.4 345.4h.9v.9h-.9zM154.6 342.1h.9v.9h-.9zM174.8 343.3h.9v.9h-.9zM185.0 344.5h.9v.9h-.9zM176.5 346.5h.9v.9h-.9zM193.0 344.1h.9v.9h-.9zM175.2 340.1h.9v.9h-.9zM167.6 346.6h.9v.9h-.9zM149.5 350.1h.9v.9h-.9zM177.4 343.3h.9v.9h-.9zM184.4 335.8h.9v.9h-.9zM187.4 346.1h.9v.9h-.9zM161.8 348.0h.9v.9h-.9zM184.8 343.8h.9v.9h-.9zM189.8 342.2h.9v.9h-.9zM171.7 347.9h.9v.9h-.9zM193.2 345.8h.9v.9h-.9zM168.8 344.6h.9v.9h-.9zM168.0 344.1h.9v.9h-.9zM186.8 344.3h.9v.9h-.9zM179.4 347.2h.9v.9h-.9zM161.9 345.4h.9v.9h-.9zM189.1 340.1h.9v.9h-.9zM181.7 342.1h.9v.9h-.9zM178.3 344.6h.9v.9h-.9zM152.8 346.6h.9v.9h-.9zM157.4 343.5h.9v.9h-.9zM158.5 347.4h.9v.9h-.9zM154.5 343.4h.9v.9h-.9zM178.8 347.0h.9v.9h-.9zM184.0 348.9h.9v.9h-.9zM171.5 347.0h.9v.9h-.9zM168.6 344.9h.9v.9h-.9zM184.1 345.5h.9v.9h-.9zM183.7 337.4h.9v.9h-.9zM171.8 348.8h.9v.9h-.9zM178.3 341.4h.9v.9h-.9zM156.9 342.0h.9v.9h-.9zM189.4 342.1h.9v.9h-.9zM154.4 342.1h.9v.9h-.9zM157.0 344.8h.9v.9h-.9zM152.7 344.2h.9v.9h-.9zM188.2 343.0h.9v.9h-.9zM175.2 347.4h.9v.9h-.9zM189.0 344.4h.9v.9h-.9zM172.0 342.2h.9v.9h-.9zM185.3 342.7h.9v.9h-.9zM190.7 340.5h.9v.9h-.9zM157.6 347.7h.9v.9h-.9zM182.3 340.1h.9v.9h-.9zM191.1 341.7h.9v.9h-.9zM190.4 348.0h.9v.9h-.9zM180.8 342.6h.9v.9h-.9zM192.6 343.4h.9v.9h-.9zM185.6 344.8h.9v.9h-.9zM157.2 339.8h.9v.9h-.9zM188.8 343.7h.9v.9h-.9zM185.3 346.2h.9v.9h-.9zM163.7 344.9h.9v.9h-.9zM149.6 346.9h.9v.9h-.9zM177.4 341.0h.9v.9h-.9zM173.0 344.1h.9v.9h-.9zM181.9 342.5h.9v.9h-.9zM184.8 343.3h.9v.9h-.9zM178.2 339.7h.9v.9h-.9zM165.2 342.4h.9v.9h-.9zM183.7 344.8h.9v.9h-.9zM187.0 341.3h.9v.9h-.9zM153.6 346.5h.9v.9h-.9zM181.2 348.1h.9v.9h-.9zM187.4 344.0h.9v.9h-.9zM171.0 344.3h.9v.9h-.9zM186.0 345.1h.9v.9h-.9zM159.6 341.9h.9v.9h-.9zM168.8 342.6h.9v.9h-.9zM173.4 340.7h.9v.9h-.9zM192.8 340.4h.9v.9h-.9zM167.3 349.3h.9v.9h-.9zM179.9 341.3h.9v.9h-.9zM167.0 344.3h.9v.9h-.9zM159.8 343.6h.9v.9h-.9zM180.4 342.3h.9v.9h-.9zM156.1 344.0h.9v.9h-.9zM157.4 344.1h.9v.9h-.9zM167.0 345.3h.9v.9h-.9zM181.7 342.7h.9v.9h-.9zM155.5 346.1h.9v.9h-.9zM192.5 342.6h.9v.9h-.9zM186.1 342.5h.9v.9h-.9zM158.7 344.1h.9v.9h-.9zM182.2 348.6h.9v.9h-.9zM189.3 339.7h.9v.9h-.9zM178.6 343.3h.9v.9h-.9zM179.9 345.7h.9v.9h-.9zM168.0 345.9h.9v.9h-.9zM171.9 341.2h.9v.9h-.9zM190.3 339.9h.9v.9h-.9zM159.3 344.5h.9v.9h-.9zM159.7 348.1h.9v.9h-.9zM189.3 345.4h.9v.9h-.9zM184.7 343.3h.9v.9h-.9zM176.5 342.8h.9v.9h-.9zM164.0 343.8h.9v.9h-.9zM186.2 342.9h.9v.9h-.9zM182.5 339.5h.9v.9h-.9zM185.5 339.3h.9v.9h-.9zM152.7 344.8h.9v.9h-.9zM175.5 349.5h.9v.9h-.9zM157.7 345.5h.9v.9h-.9zM193.4 337.9h.9v.9h-.9zM162.3 341.4h.9v.9h-.9zM184.2 343.3h.9v.9h-.9zM154.2 342.1h.9v.9h-.9zM188.5 343.9h.9v.9h-.9zM179.4 341.6h.9v.9h-.9zM178.2 341.5h.9v.9h-.9zM176.5 340.0h.9v.9h-.9zM191.9 344.3h.9v.9h-.9zM179.2 344.7h.9v.9h-.9zM164.6 345.6h.9v.9h-.9zM159.1 346.7h.9v.9h-.9zM159.9 344.3h.9v.9h-.9zM180.3 347.2h.9v.9h-.9zM175.6 340.9h.9v.9h-.9zM183.6 345.7h.9v.9h-.9zM148.9 344.1h.9v.9h-.9zM171.1 342.8h.9v.9h-.9zM178.0 341.9h.9v.9h-.9zM173.7 345.7h.9v.9h-.9zM189.7 343.9h.9v.9h-.9zM183.0 346.8h.9v.9h-.9zM190.5 340.6h.9v.9h-.9zM182.2 344.3h.9v.9h-.9zM169.8 341.5h.9v.9h-.9zM187.3 345.0h.9v.9h-.9zM169.4 348.5h.9v.9h-.9zM175.0 341.3h.9v.9h-.9zM148.9 348.6h.9v.9h-.9zM179.8 340.9h.9v.9h-.9zM192.4 347.6h.9v.9h-.9zM161.9 345.2h.9v.9h-.9zM154.5 346.8h.9v.9h-.9zM170.9 341.2h.9v.9h-.9zM177.7 348.7h.9v.9h-.9zM178.0 343.7h.9v.9h-.9zM154.7 343.8h.9v.9h-.9zM191.6 346.2h.9v.9h-.9zM178.7 341.7h.9v.9h-.9zM174.5 343.4h.9v.9h-.9zM179.2 342.9h.9v.9h-.9zM159.3 342.7h.9v.9h-.9zM181.6 347.0h.9v.9h-.9zM169.9 349.3h.9v.9h-.9zM187.6 340.8h.9v.9h-.9zM154.7 349.8h.9v.9h-.9zM161.1 348.1h.9v.9h-.9zM161.2 343.9h.9v.9h-.9zM189.4 345.4h.9v.9h-.9zM186.0 349.5h.9v.9h-.9zM173.1 342.5h.9v.9h-.9zM189.4 341.9h.9v.9h-.9zM187.6 340.7h.9v.9h-.9zM181.4 350.0h.9v.9h-.9zM172.7 347.3h.9v.9h-.9zM191.8 341.1h.9v.9h-.9zM170.2 344.1h.9v.9h-.9zM190.2 345.4h.9v.9h-.9zM173.5 343.6h.9v.9h-.9zM180.9 347.4h.9v.9h-.9zM190.6 343.7h.9v.9h-.9zM168.6 348.3h.9v.9h-.9zM188.2 344.6h.9v.9h-.9zM186.0 344.4h.9v.9h-.9zM166.2 343.0h.9v.9h-.9zM175.3 345.3h.9v.9h-.9zM187.2 346.1h.9v.9h-.9zM168.5 340.1h.9v.9h-.9zM171.9 346.2h.9v.9h-.9zM182.9 347.7h.9v.9h-.9zM185.2 346.6h.9v.9h-.9zM182.7 345.2h.9v.9h-.9zM174.4 343.9h.9v.9h-.9zM169.3 341.6h.9v.9h-.9zM189.9 341.1h.9v.9h-.9zM169.9 343.7h.9v.9h-.9zM184.8 340.9h.9v.9h-.9zM154.6 345.8h.9v.9h-.9zM189.3 342.3h.9v.9h-.9zM189.9 342.9h.9v.9h-.9zM156.9 348.9h.9v.9h-.9zM188.9 344.4h.9v.9h-.9zM190.2 345.8h.9v.9h-.9zM188.0 338.9h.9v.9h-.9zM162.4 346.8h.9v.9h-.9zM190.1 341.4h.9v.9h-.9zM170.9 349.4h.9v.9h-.9zM158.8 341.0h.9v.9h-.9zM189.9 341.6h.9v.9h-.9zM187.4 346.3h.9v.9h-.9zM174.4 350.5h.9v.9h-.9zM173.7 340.4h.9v.9h-.9zM190.2 343.1h.9v.9h-.9zM186.9 341.8h.9v.9h-.9zM191.6 348.3h.9v.9h-.9zM171.1 350.7h.9v.9h-.9zM183.8 345.0h.9v.9h-.9zM178.4 347.1h.9v.9h-.9zM185.7 342.3h.9v.9h-.9zM182.9 341.0h.9v.9h-.9zM191.6 345.4h.9v.9h-.9zM172.6 343.5h.9v.9h-.9zM175.1 346.9h.9v.9h-.9zM191.9 343.1h.9v.9h-.9zM192.4 347.6h.9v.9h-.9zM187.6 343.6h.9v.9h-.9zM174.0 344.7h.9v.9h-.9zM189.6 346.7h.9v.9h-.9zM169.9 345.4h.9v.9h-.9zM174.9 348.6h.9v.9h-.9zM179.6 342.7h.9v.9h-.9zM187.5 341.4h.9v.9h-.9zM190.1 346.5h.9v.9h-.9zM189.8 345.3h.9v.9h-.9zM165.9 343.4h.9v.9h-.9zM183.6 341.0h.9v.9h-.9zM179.9 342.4h.9v.9h-.9zM154.2 345.5h.9v.9h-.9zM188.1 343.2h.9v.9h-.9zM169.8 341.7h.9v.9h-.9zM179.2 341.8h.9v.9h-.9zM191.7 345.2h.9v.9h-.9zM170.9 347.9h.9v.9h-.9zM168.4 349.1h.9v.9h-.9zM177.3 342.1h.9v.9h-.9zM169.5 341.6h.9v.9h-.9zM174.7 346.1h.9v.9h-.9zM172.9 343.6h.9v.9h-.9zM193.1 345.7h.9v.9h-.9zM165.5 347.5h.9v.9h-.9zM153.0 344.4h.9v.9h-.9zM190.2 343.2h.9v.9h-.9zM191.0 339.0h.9v.9h-.9zM174.6 339.9h.9v.9h-.9zM169.9 346.6h.9v.9h-.9zM157.1 351.1h.9v.9h-.9zM168.6 339.8h.9v.9h-.9zM161.2 340.9h.9v.9h-.9zM190.9 342.1h.9v.9h-.9zM147.8 347.7h.9v.9h-.9zM192.1 338.1h.9v.9h-.9zM159.9 345.0h.9v.9h-.9zM172.4 348.2h.9v.9h-.9zM179.5 337.5h.9v.9h-.9zM164.7 341.4h.9v.9h-.9zM190.5 345.4h.9v.9h-.9zM163.0 348.0h.9v.9h-.9zM173.5 341.9h.9v.9h-.9zM157.3 347.6h.9v.9h-.9zM148.5 348.2h.9v.9h-.9zM173.0 340.3h.9v.9h-.9zM179.4 343.7h.9v.9h-.9zM173.3 342.6h.9v.9h-.9zM171.2 343.5h.9v.9h-.9zM163.5 345.4h.9v.9h-.9zM175.2 341.0h.9v.9h-.9zM179.8 338.6h.9v.9h-.9zM171.3 340.4h.9v.9h-.9zM172.1 340.5h.9v.9h-.9zM191.0 342.8h.9v.9h-.9zM191.0 346.0h.9v.9h-.9zM166.2 343.1h.9v.9h-.9zM166.2 342.5h.9v.9h-.9zM174.4 342.7h.9v.9h-.9zM186.6 345.7h.9v.9h-.9zM192.6 342.9h.9v.9h-.9zM163.1 344.8h.9v.9h-.9zM182.0 341.9h.9v.9h-.9zM191.4 343.2h.9v.9h-.9zM178.3 342.9h.9v.9h-.9zM171.6 347.6h.9v.9h-.9zM155.7 345.2h.9v.9h-.9zM185.1 347.1h.9v.9h-.9zM156.9 346.3h.9v.9h-.9zM149.7 346.1h.9v.9h-.9zM186.6 338.6h.9v.9h-.9zM186.8 342.9h.9v.9h-.9zM187.7 340.8h.9v.9h-.9zM178.1 346.8h.9v.9h-.9zM181.5 344.8h.9v.9h-.9zM164.4 345.8h.9v.9h-.9zM169.4 343.9h.9v.9h-.9zM179.7 347.7h.9v.9h-.9zM182.1 338.0h.9v.9h-.9zM171.4 346.3h.9v.9h-.9zM176.0 342.9h.9v.9h-.9zM190.0 340.4h.9v.9h-.9zM156.0 343.0h.9v.9h-.9zM175.9 343.9h.9v.9h-.9zM187.7 344.3h.9v.9h-.9zM149.4 348.5h.9v.9h-.9zM157.1 343.0h.9v.9h-.9zM181.7 341.6h.9v.9h-.9zM166.5 347.4h.9v.9h-.9zM187.0 346.7h.9v.9h-.9zM151.3 342.3h.9v.9h-.9zM170.6 342.3h.9v.9h-.9zM186.8 344.4h.9v.9h-.9zM180.5 342.9h.9v.9h-.9zM164.9 346.5h.9v.9h-.9zM172.3 342.0h.9v.9h-.9zM174.0 342.2h.9v.9h-.9zM184.9 352.4h.9v.9h-.9zM179.3 347.1h.9v.9h-.9zM176.7 348.6h.9v.9h-.9zM190.1 344.5h.9v.9h-.9zM186.1 341.7h.9v.9h-.9zM179.4 347.3h.9v.9h-.9zM162.7 349.2h.9v.9h-.9zM179.5 343.4h.9v.9h-.9zM170.0 343.6h.9v.9h-.9zM180.7 345.5h.9v.9h-.9zM188.9 343.2h.9v.9h-.9zM191.0 339.0h.9v.9h-.9zM153.9 347.2h.9v.9h-.9zM159.6 347.3h.9v.9h-.9zM188.0 338.3h.9v.9h-.9zM184.8 348.8h.9v.9h-.9zM180.1 340.6h.9v.9h-.9zM192.3 339.6h.9v.9h-.9zM168.1 341.8h.9v.9h-.9zM187.2 343.4h.9v.9h-.9zM172.6 343.9h.9v.9h-.9zM167.3 339.5h.9v.9h-.9zM147.3 345.7h.9v.9h-.9zM191.1 344.5h.9v.9h-.9zM184.3 341.5h.9v.9h-.9zM192.3 336.3h.9v.9h-.9zM167.6 341.0h.9v.9h-.9zM193.2 341.0h.9v.9h-.9zM170.0 346.4h.9v.9h-.9zM172.1 342.7h.9v.9h-.9zM180.7 345.0h.9v.9h-.9zM183.1 351.9h.9v.9h-.9zM173.3 344.1h.9v.9h-.9zM183.0 343.0h.9v.9h-.9zM169.6 346.9h.9v.9h-.9zM167.6 348.0h.9v.9h-.9zM185.2 347.4h.9v.9h-.9zM165.9 344.6h.9v.9h-.9zM174.6 340.3h.9v.9h-.9zM165.9 338.8h.9v.9h-.9zM190.6 340.6h.9v.9h-.9zM184.5 342.5h.9v.9h-.9zM164.4 340.9h.9v.9h-.9zM177.1 339.5h.9v.9h-.9zM164.0 343.4h.9v.9h-.9zM176.1 342.5h.9v.9h-.9zM187.2 341.6h.9v.9h-.9zM188.3 348.6h.9v.9h-.9zM167.8 347.0h.9v.9h-.9zM192.1 339.2h.9v.9h-.9zM168.6 346.9h.9v.9h-.9zM174.6 343.5h.9v.9h-.9zM157.8 342.3h.9v.9h-.9zM176.4 342.1h.9v.9h-.9zM175.6 351.7h.9v.9h-.9zM165.0 344.0h.9v.9h-.9zM167.9 341.5h.9v.9h-.9zM191.4 342.5h.9v.9h-.9zM169.5 346.3h.9v.9h-.9zM160.0 345.0h.9v.9h-.9zM188.0 342.5h.9v.9h-.9zM180.3 340.8h.9v.9h-.9zM188.4 341.1h.9v.9h-.9zM174.1 339.8h.9v.9h-.9zM181.7 343.5h.9v.9h-.9zM161.4 346.0h.9v.9h-.9zM185.7 344.6h.9v.9h-.9zM168.3 344.0h.9v.9h-.9zM152.6 348.9h.9v.9h-.9zM188.4 344.4h.9v.9h-.9zM176.8 345.5h.9v.9h-.9zM177.4 340.6h.9v.9h-.9zM181.7 342.4h.9v.9h-.9zM165.7 343.0h.9v.9h-.9zM178.4 346.9h.9v.9h-.9zM173.3 343.6h.9v.9h-.9zM192.0 342.6h.9v.9h-.9zM173.1 343.3h.9v.9h-.9zM170.0 348.7h.9v.9h-.9zM151.9 343.5h.9v.9h-.9zM186.3 341.1h.9v.9h-.9zM182.7 344.3h.9v.9h-.9zM177.9 343.6h.9v.9h-.9zM189.9 347.4h.9v.9h-.9zM185.3 346.9h.9v.9h-.9zM162.0 345.6h.9v.9h-.9zM189.2 342.9h.9v.9h-.9zM163.1 344.8h.9v.9h-.9zM165.5 348.6h.9v.9h-.9zM180.1 345.1h.9v.9h-.9zM180.8 345.7h.9v.9h-.9zM167.0 337.4h.9v.9h-.9zM173.1 340.8h.9v.9h-.9zM170.7 343.8h.9v.9h-.9zM153.9 347.0h.9v.9h-.9zM148.4 347.3h.9v.9h-.9zM173.9 344.4h.9v.9h-.9zM166.8 339.2h.9v.9h-.9zM152.6 345.5h.9v.9h-.9zM192.0 340.8h.9v.9h-.9zM181.0 337.3h.9v.9h-.9zM185.9 340.7h.9v.9h-.9zM171.6 342.9h.9v.9h-.9zM172.6 344.6h.9v.9h-.9zM172.0 346.4h.9v.9h-.9zM174.5 344.5h.9v.9h-.9zM183.6 343.5h.9v.9h-.9zM170.9 342.7h.9v.9h-.9zM168.4 344.3h.9v.9h-.9zM175.0 340.7h.9v.9h-.9zM185.3 345.6h.9v.9h-.9zM189.9 343.3h.9v.9h-.9zM157.5 348.0h.9v.9h-.9zM190.5 344.9h.9v.9h-.9zM186.9 342.3h.9v.9h-.9zM187.2 343.2h.9v.9h-.9zM152.3 345.1h.9v.9h-.9zM184.6 343.7h.9v.9h-.9zM184.1 336.0h.9v.9h-.9zM185.6 340.7h.9v.9h-.9zM188.6 349.2h.9v.9h-.9zM162.2 345.0h.9v.9h-.9zM187.7 347.7h.9v.9h-.9zM187.6 341.9h.9v.9h-.9zM190.8 338.7h.9v.9h-.9zM173.4 343.3h.9v.9h-.9zM152.4 344.2h.9v.9h-.9zM186.3 341.2h.9v.9h-.9zM181.9 347.3h.9v.9h-.9zM164.3 349.0h.9v.9h-.9zM165.0 342.6h.9v.9h-.9zM165.9 350.4h.9v.9h-.9zM166.8 347.3h.9v.9h-.9zM172.9 340.8h.9v.9h-.9zM165.0 347.8h.9v.9h-.9zM176.3 345.2h.9v.9h-.9zM170.0 344.5h.9v.9h-.9zM154.6 340.4h.9v.9h-.9zM179.4 345.3h.9v.9h-.9zM181.1 341.6h.9v.9h-.9zM182.0 349.2h.9v.9h-.9zM161.6 341.7h.9v.9h-.9zM177.0 339.6h.9v.9h-.9zM155.0 346.5h.9v.9h-.9zM185.5 340.1h.9v.9h-.9zM191.6 347.8h.9v.9h-.9zM174.9 341.5h.9v.9h-.9zM151.1 347.5h.9v.9h-.9zM187.5 340.6h.9v.9h-.9zM169.9 342.9h.9v.9h-.9zM186.1 344.1h.9v.9h-.9zM188.6 341.4h.9v.9h-.9zM192.7 345.4h.9v.9h-.9zM176.7 342.0h.9v.9h-.9zM192.1 347.6h.9v.9h-.9zM181.5 346.5h.9v.9h-.9zM192.8 338.5h.9v.9h-.9zM159.8 351.0h.9v.9h-.9zM176.2 345.1h.9v.9h-.9zM192.4 340.9h.9v.9h-.9zM167.8 345.4h.9v.9h-.9zM162.9 345.2h.9v.9h-.9zM188.0 346.0h.9v.9h-.9zM177.2 346.7h.9v.9h-.9zM190.3 347.0h.9v.9h-.9zM163.4 341.1h.9v.9h-.9zM172.7 345.2h.9v.9h-.9zM168.4 342.7h.9v.9h-.9zM169.5 339.8h.9v.9h-.9zM183.9 341.4h.9v.9h-.9zM159.1 341.9h.9v.9h-.9zM159.6 346.1h.9v.9h-.9zM180.1 343.1h.9v.9h-.9zM159.4 346.1h.9v.9h-.9zM171.2 344.2h.9v.9h-.9zM164.7 345.1h.9v.9h-.9zM183.3 345.2h.9v.9h-.9zM180.2 341.6h.9v.9h-.9zM175.0 343.8h.9v.9h-.9zM178.8 343.5h.9v.9h-.9zM189.6 341.9h.9v.9h-.9zM167.8 341.6h.9v.9h-.9zM180.5 344.8h.9v.9h-.9zM183.9 345.7h.9v.9h-.9zM168.9 350.1h.9v.9h-.9zM158.2 345.7h.9v.9h-.9zM168.5 345.3h.9v.9h-.9zM184.9 340.5h.9v.9h-.9zM190.4 343.3h.9v.9h-.9zM185.1 347.5h.9v.9h-.9zM157.5 351.1h.9v.9h-.9zM184.0 345.3h.9v.9h-.9zM165.3 349.7h.9v.9h-.9zM186.0 348.8h.9v.9h-.9zM165.4 351.1h.9v.9h-.9zM190.6 345.8h.9v.9h-.9zM171.6 342.7h.9v.9h-.9zM151.3 346.1h.9v.9h-.9zM179.0 347.8h.9v.9h-.9zM163.3 343.3h.9v.9h-.9zM179.4 344.0h.9v.9h-.9zM187.8 341.2h.9v.9h-.9zM163.9 343.2h.9v.9h-.9zM184.8 339.5h.9v.9h-.9zM191.9 347.0h.9v.9h-.9zM171.8 342.5h.9v.9h-.9zM190.5 343.9h.9v.9h-.9zM156.4 346.8h.9v.9h-.9zM192.0 342.6h.9v.9h-.9zM149.8 342.3h.9v.9h-.9zM153.5 343.5h.9v.9h-.9zM192.0 340.2h.9v.9h-.9zM191.5 343.8h.9v.9h-.9zM177.1 342.3h.9v.9h-.9zM166.6 348.0h.9v.9h-.9zM172.8 343.3h.9v.9h-.9zM175.1 345.8h.9v.9h-.9zM190.1 340.7h.9v.9h-.9zM177.1 338.8h.9v.9h-.9zM185.1 342.7h.9v.9h-.9zM156.0 348.0h.9v.9h-.9zM193.4 346.2h.9v.9h-.9zM167.0 348.2h.9v.9h-.9zM173.7 343.0h.9v.9h-.9zM177.1 343.0h.9v.9h-.9zM187.9 343.9h.9v.9h-.9zM191.6 342.3h.9v.9h-.9zM189.9 345.1h.9v.9h-.9zM152.6 347.8h.9v.9h-.9zM187.7 346.4h.9v.9h-.9zM163.3 342.4h.9v.9h-.9zM168.7 348.9h.9v.9h-.9zM182.9 338.1h.9v.9h-.9zM190.8 342.4h.9v.9h-.9zM172.2 342.7h.9v.9h-.9zM170.8 344.2h.9v.9h-.9zM148.0 344.6h.9v.9h-.9zM189.8 346.7h.9v.9h-.9zM168.9 342.1h.9v.9h-.9zM157.9 347.2h.9v.9h-.9zM163.9 341.3h.9v.9h-.9zM177.3 343.9h.9v.9h-.9zM155.5 346.2h.9v.9h-.9zM148.0 348.4h.9v.9h-.9zM176.3 340.5h.9v.9h-.9zM170.0 337.8h.9v.9h-.9zM155.3 350.2h.9v.9h-.9zM189.2 340.6h.9v.9h-.9zM192.2 342.4h.9v.9h-.9zM182.3 343.2h.9v.9h-.9zM191.9 347.5h.9v.9h-.9zM172.4 346.4h.9v.9h-.9zM185.6 347.2h.9v.9h-.9zM174.8 348.1h.9v.9h-.9zM171.3 345.8h.9v.9h-.9zM184.1 343.0h.9v.9h-.9zM188.6 347.5h.9v.9h-.9zM189.6 346.4h.9v.9h-.9zM147.1 346.5h.9v.9h-.9zM173.9 338.7h.9v.9h-.9zM184.5 341.9h.9v.9h-.9zM183.4 345.1h.9v.9h-.9zM167.9 343.1h.9v.9h-.9zM182.5 346.6h.9v.9h-.9zM156.5 353.0h.9v.9h-.9zM168.0 344.9h.9v.9h-.9zM191.6 344.5h.9v.9h-.9zM181.8 346.5h.9v.9h-.9zM179.4 349.3h.9v.9h-.9zM171.1 338.0h.9v.9h-.9zM176.8 342.6h.9v.9h-.9zM165.3 349.0h.9v.9h-.9zM190.7 343.3h.9v.9h-.9zM165.0 339.5h.9v.9h-.9zM159.1 346.6h.9v.9h-.9zM191.5 339.4h.9v.9h-.9zM164.9 347.5h.9v.9h-.9zM178.2 347.0h.9v.9h-.9zM171.2 343.3h.9v.9h-.9zM181.3 340.4h.9v.9h-.9zM179.6 345.5h.9v.9h-.9zM176.8 343.1h.9v.9h-.9zM179.8 343.1h.9v.9h-.9zM191.4 341.6h.9v.9h-.9zM183.5 342.3h.9v.9h-.9zM192.3 340.4h.9v.9h-.9zM179.9 346.5h.9v.9h-.9zM178.4 347.5h.9v.9h-.9zM187.0 341.1h.9v.9h-.9zM193.1 339.5h.9v.9h-.9zM188.8 345.8h.9v.9h-.9zM190.8 347.3h.9v.9h-.9zM191.8 345.0h.9v.9h-.9zM191.2 346.9h.9v.9h-.9zM147.9 348.0h.9v.9h-.9zM180.5 344.2h.9v.9h-.9zM160.2 344.2h.9v.9h-.9zM172.0 342.1h.9v.9h-.9zM185.4 343.5h.9v.9h-.9zM188.6 338.3h.9v.9h-.9zM178.8 348.5h.9v.9h-.9zM179.3 340.7h.9v.9h-.9zM177.3 344.9h.9v.9h-.9zM175.1 345.3h.9v.9h-.9zM149.0 345.3h.9v.9h-.9zM167.3 344.5h.9v.9h-.9zM190.3 341.1h.9v.9h-.9zM172.3 343.1h.9v.9h-.9zM177.8 346.4h.9v.9h-.9zM157.1 347.2h.9v.9h-.9zM190.9 339.4h.9v.9h-.9zM174.0 344.1h.9v.9h-.9zM192.4 338.1h.9v.9h-.9zM190.9 343.2h.9v.9h-.9zM188.7 343.7h.9v.9h-.9zM176.2 340.1h.9v.9h-.9zM179.1 348.3h.9v.9h-.9zM185.0 339.6h.9v.9h-.9zM174.1 347.9h.9v.9h-.9zM191.9 338.4h.9v.9h-.9zM174.5 346.4h.9v.9h-.9zM159.8 339.2h.9v.9h-.9zM193.3 341.7h.9v.9h-.9zM161.6 340.9h.9v.9h-.9zM173.1 345.2h.9v.9h-.9zM162.9 342.3h.9v.9h-.9zM156.0 344.4h.9v.9h-.9zM190.9 344.0h.9v.9h-.9zM177.6 341.0h.9v.9h-.9zM189.5 341.6h.9v.9h-.9zM173.9 344.9h.9v.9h-.9zM180.1 341.0h.9v.9h-.9zM187.0 344.7h.9v.9h-.9zM176.1 338.7h.9v.9h-.9zM179.5 350.0h.9v.9h-.9zM186.1 346.8h.9v.9h-.9zM177.3 339.6h.9v.9h-.9zM176.0 341.6h.9v.9h-.9zM192.3 342.1h.9v.9h-.9zM192.6 344.9h.9v.9h-.9zM157.5 347.2h.9v.9h-.9zM182.6 346.9h.9v.9h-.9zM158.3 348.4h.9v.9h-.9zM159.2 341.5h.9v.9h-.9zM190.2 343.8h.9v.9h-.9zM175.6 343.5h.9v.9h-.9zM166.8 346.3h.9v.9h-.9zM192.5 342.7h.9v.9h-.9zM153.2 339.8h.9v.9h-.9zM184.0 342.2h.9v.9h-.9zM179.8 351.3h.9v.9h-.9zM168.5 344.4h.9v.9h-.9zM173.1 347.8h.9v.9h-.9zM163.8 344.4h.9v.9h-.9zM169.3 343.5h.9v.9h-.9zM183.5 343.7h.9v.9h-.9zM152.2 344.5h.9v.9h-.9zM178.0 346.5h.9v.9h-.9zM167.7 343.1h.9v.9h-.9zM172.4 338.6h.9v.9h-.9zM187.5 346.1h.9v.9h-.9zM171.2 345.9h.9v.9h-.9zM176.7 342.7h.9v.9h-.9zM165.0 344.1h.9v.9h-.9zM182.2 346.0h.9v.9h-.9zM161.0 345.9h.9v.9h-.9zM167.1 341.5h.9v.9h-.9zM190.0 347.4h.9v.9h-.9zM177.8 351.6h.9v.9h-.9zM180.4 343.9h.9v.9h-.9zM186.1 340.5h.9v.9h-.9zM179.8 347.0h.9v.9h-.9zM161.8 348.9h.9v.9h-.9zM172.1 341.6h.9v.9h-.9zM186.3 339.0h.9v.9h-.9zM188.3 339.4h.9v.9h-.9zM179.6 342.4h.9v.9h-.9zM169.3 341.1h.9v.9h-.9zM153.4 343.7h.9v.9h-.9zM172.8 342.8h.9v.9h-.9zM160.2 339.8h.9v.9h-.9zM181.2 344.6h.9v.9h-.9zM173.2 348.2h.9v.9h-.9zM179.4 337.6h.9v.9h-.9zM154.2 344.2h.9v.9h-.9zM160.0 343.2h.9v.9h-.9zM181.9 341.2h.9v.9h-.9zM161.2 344.7h.9v.9h-.9zM174.9 340.6h.9v.9h-.9zM191.6 345.4h.9v.9h-.9zM176.6 342.6h.9v.9h-.9zM173.1 340.7h.9v.9h-.9zM172.1 345.1h.9v.9h-.9zM186.8 343.4h.9v.9h-.9zM171.0 348.2h.9v.9h-.9zM189.1 343.5h.9v.9h-.9zM157.3 343.4h.9v.9h-.9zM175.6 349.4h.9v.9h-.9zM190.4 343.6h.9v.9h-.9zM171.6 344.9h.9v.9h-.9zM175.7 348.0h.9v.9h-.9zM181.8 341.7h.9v.9h-.9zM154.5 344.4h.9v.9h-.9zM168.2 341.7h.9v.9h-.9zM190.4 348.7h.9v.9h-.9zM164.1 341.6h.9v.9h-.9zM192.2 339.5h.9v.9h-.9zM171.8 340.4h.9v.9h-.9zM175.7 349.0h.9v.9h-.9zM182.8 346.5h.9v.9h-.9zM161.1 342.2h.9v.9h-.9zM183.6 341.0h.9v.9h-.9zM186.7 350.0h.9v.9h-.9zM170.4 342.0h.9v.9h-.9zM192.1 342.9h.9v.9h-.9zM173.9 341.6h.9v.9h-.9zM172.3 351.3h.9v.9h-.9zM189.6 340.8h.9v.9h-.9zM167.2 339.8h.9v.9h-.9zM193.3 343.3h.9v.9h-.9zM159.8 345.3h.9v.9h-.9zM168.3 343.1h.9v.9h-.9zM189.1 340.8h.9v.9h-.9zM180.6 337.9h.9v.9h-.9zM187.4 340.4h.9v.9h-.9zM190.2 348.6h.9v.9h-.9zM178.9 338.6h.9v.9h-.9zM160.2 348.3h.9v.9h-.9zM178.3 350.5h.9v.9h-.9zM171.4 348.0h.9v.9h-.9zM192.3 344.1h.9v.9h-.9zM155.7 348.7h.9v.9h-.9zM149.5 349.0h.9v.9h-.9zM170.1 340.1h.9v.9h-.9zM180.4 345.4h.9v.9h-.9zM163.3 341.5h.9v.9h-.9zM168.2 338.0h.9v.9h-.9zM159.8 347.7h.9v.9h-.9zM188.7 340.9h.9v.9h-.9zM177.4 344.6h.9v.9h-.9zM186.4 339.5h.9v.9h-.9zM156.7 347.9h.9v.9h-.9zM172.9 345.9h.9v.9h-.9zM173.9 343.0h.9v.9h-.9zM189.6 340.5h.9v.9h-.9zM189.0 341.1h.9v.9h-.9zM158.3 345.2h.9v.9h-.9zM175.3 341.9h.9v.9h-.9zM178.1 340.7h.9v.9h-.9zM193.3 344.7h.9v.9h-.9zM151.1 346.2h.9v.9h-.9zM164.7 347.5h.9v.9h-.9zM185.1 346.0h.9v.9h-.9zM155.4 341.3h.9v.9h-.9zM170.1 344.5h.9v.9h-.9zM150.2 342.5h.9v.9h-.9zM182.1 339.4h.9v.9h-.9zM191.4 343.5h.9v.9h-.9zM192.3 342.2h.9v.9h-.9zM187.1 344.6h.9v.9h-.9zM167.4 343.0h.9v.9h-.9zM172.6 346.1h.9v.9h-.9zM161.4 344.1h.9v.9h-.9zM180.8 344.4h.9v.9h-.9zM190.0 346.3h.9v.9h-.9zM182.0 348.8h.9v.9h-.9zM170.1 343.1h.9v.9h-.9zM188.4 337.2h.9v.9h-.9zM161.3 339.9h.9v.9h-.9zM154.4 348.7h.9v.9h-.9zM178.7 349.1h.9v.9h-.9zM193.3 345.7h.9v.9h-.9zM188.1 347.9h.9v.9h-.9zM158.8 343.8h.9v.9h-.9zM150.6 343.6h.9v.9h-.9zM169.2 348.2h.9v.9h-.9zM153.2 347.5h.9v.9h-.9zM187.1 345.1h.9v.9h-.9zM191.8 345.1h.9v.9h-.9zM154.0 345.1h.9v.9h-.9zM162.9 339.7h.9v.9h-.9zM171.5 347.7h.9v.9h-.9zM190.9 344.1h.9v.9h-.9zM177.3 341.8h.9v.9h-.9zM185.8 342.1h.9v.9h-.9zM193.4 345.8h.9v.9h-.9zM173.7 342.2h.9v.9h-.9zM164.4 341.3h.9v.9h-.9zM164.5 345.8h.9v.9h-.9zM181.0 346.4h.9v.9h-.9zM190.2 346.2h.9v.9h-.9zM182.0 346.3h.9v.9h-.9zM156.3 346.0h.9v.9h-.9zM161.4 344.3h.9v.9h-.9zM163.6 339.0h.9v.9h-.9zM173.0 343.8h.9v.9h-.9zM172.4 342.5h.9v.9h-.9zM168.6 349.4h.9v.9h-.9zM171.9 342.8h.9v.9h-.9zM182.6 344.8h.9v.9h-.9zM152.7 347.7h.9v.9h-.9zM182.3 340.4h.9v.9h-.9zM161.8 341.3h.9v.9h-.9zM178.7 347.8h.9v.9h-.9zM176.6 347.7h.9v.9h-.9zM170.0 339.4h.9v.9h-.9zM165.7 344.9h.9v.9h-.9zM183.8 347.8h.9v.9h-.9zM166.3 342.2h.9v.9h-.9zM174.0 344.3h.9v.9h-.9zM168.0 344.8h.9v.9h-.9zM171.1 343.3h.9v.9h-.9zM174.8 342.6h.9v.9h-.9zM174.2 336.2h.9v.9h-.9zM191.3 339.9h.9v.9h-.9zM183.6 342.6h.9v.9h-.9zM192.1 343.8h.9v.9h-.9zM163.6 350.0h.9v.9h-.9zM190.0 350.7h.9v.9h-.9zM164.2 348.8h.9v.9h-.9zM173.1 344.8h.9v.9h-.9zM176.3 340.7h.9v.9h-.9zM191.6 342.7h.9v.9h-.9zM176.2 347.3h.9v.9h-.9zM185.8 343.1h.9v.9h-.9zM189.8 344.1h.9v.9h-.9zM162.2 348.6h.9v.9h-.9zM167.0 341.8h.9v.9h-.9zM150.4 343.2h.9v.9h-.9zM160.5 349.3h.9v.9h-.9zM152.1 347.0h.9v.9h-.9zM179.4 346.8h.9v.9h-.9zM192.9 344.1h.9v.9h-.9zM159.5 341.9h.9v.9h-.9zM188.3 347.5h.9v.9h-.9zM185.2 342.5h.9v.9h-.9zM163.3 346.3h.9v.9h-.9zM180.8 345.7h.9v.9h-.9zM184.2 345.2h.9v.9h-.9zM188.6 340.1h.9v.9h-.9zM149.4 347.0h.9v.9h-.9zM183.5 339.9h.9v.9h-.9zM177.5 345.1h.9v.9h-.9zM159.7 343.8h.9v.9h-.9zM179.6 348.5h.9v.9h-.9zM173.5 342.5h.9v.9h-.9zM163.4 344.3h.9v.9h-.9zM171.4 343.9h.9v.9h-.9zM180.6 338.1h.9v.9h-.9zM161.0 344.2h.9v.9h-.9zM165.4 344.5h.9v.9h-.9zM164.4 342.4h.9v.9h-.9zM158.9 344.5h.9v.9h-.9zM158.5 345.8h.9v.9h-.9zM191.9 344.4h.9v.9h-.9zM163.9 346.3h.9v.9h-.9zM189.0 346.6h.9v.9h-.9zM189.4 346.8h.9v.9h-.9zM176.1 343.2h.9v.9h-.9zM166.4 345.6h.9v.9h-.9zM162.2 344.7h.9v.9h-.9zM193.4 341.8h.9v.9h-.9zM168.6 343.0h.9v.9h-.9zM189.5 340.2h.9v.9h-.9zM190.2 343.9h.9v.9h-.9zM188.9 346.3h.9v.9h-.9zM166.9 343.3h.9v.9h-.9zM182.3 342.3h.9v.9h-.9zM177.6 341.2h.9v.9h-.9zM150.9 341.4h.9v.9h-.9zM179.7 340.6h.9v.9h-.9zM177.2 344.5h.9v.9h-.9zM176.3 339.1h.9v.9h-.9zM187.3 348.3h.9v.9h-.9zM169.7 346.8h.9v.9h-.9zM158.5 345.0h.9v.9h-.9zM192.8 341.4h.9v.9h-.9zM177.7 346.6h.9v.9h-.9zM191.6 342.3h.9v.9h-.9zM179.9 349.6h.9v.9h-.9zM185.2 343.2h.9v.9h-.9zM171.2 345.6h.9v.9h-.9zM183.7 341.2h.9v.9h-.9zM188.1 346.7h.9v.9h-.9zM148.2 346.9h.9v.9h-.9zM164.2 346.2h.9v.9h-.9zM153.7 350.2h.9v.9h-.9zM185.2 341.0h.9v.9h-.9zM159.2 339.4h.9v.9h-.9zM190.6 337.5h.9v.9h-.9zM173.7 342.1h.9v.9h-.9zM169.5 343.4h.9v.9h-.9zM167.0 343.4h.9v.9h-.9zM171.0 345.8h.9v.9h-.9zM170.4 347.6h.9v.9h-.9zM185.7 341.4h.9v.9h-.9zM182.2 347.4h.9v.9h-.9zM187.4 341.9h.9v.9h-.9zM171.2 341.4h.9v.9h-.9zM190.9 345.6h.9v.9h-.9zM175.6 346.7h.9v.9h-.9zM169.6 346.5h.9v.9h-.9zM181.5 340.9h.9v.9h-.9zM157.2 349.2h.9v.9h-.9zM185.9 344.8h.9v.9h-.9zM170.0 342.1h.9v.9h-.9zM179.7 344.1h.9v.9h-.9zM187.9 344.1h.9v.9h-.9zM150.3 345.3h.9v.9h-.9zM168.6 342.8h.9v.9h-.9zM183.9 348.7h.9v.9h-.9zM162.2 343.4h.9v.9h-.9zM191.9 344.5h.9v.9h-.9zM180.9 343.8h.9v.9h-.9zM171.3 345.2h.9v.9h-.9zM175.2 339.4h.9v.9h-.9z"/>
<path fill="#000" fill-opacity="0.45" d="M191.9 340.0h.9v.9h-.9zM189.3 345.1h.9v.9h-.9zM181.2 344.8h.9v.9h-.9zM187.4 342.3h.9v.9h-.9zM181.9 345.7h.9v.9h-.9zM185.7 338.4h.9v.9h-.9zM180.9 343.2h.9v.9h-.9zM173.4 345.8h.9v.9h-.9zM178.3 347.1h.9v.9h-.9zM178.5 345.0h.9v.9h-.9zM177.8 347.4h.9v.9h-.9zM170.9 344.6h.9v.9h-.9zM180.2 343.1h.9v.9h-.9zM184.4 344.4h.9v.9h-.9zM183.4 349.9h.9v.9h-.9zM177.2 349.3h.9v.9h-.9zM190.1 344.5h.9v.9h-.9zM180.3 344.8h.9v.9h-.9zM183.3 344.9h.9v.9h-.9zM180.3 339.7h.9v.9h-.9zM177.2 342.2h.9v.9h-.9zM182.1 343.9h.9v.9h-.9zM176.5 341.5h.9v.9h-.9zM175.6 343.0h.9v.9h-.9zM171.6 340.3h.9v.9h-.9zM182.3 343.2h.9v.9h-.9zM184.5 346.1h.9v.9h-.9zM181.1 343.6h.9v.9h-.9zM179.4 345.6h.9v.9h-.9zM180.3 343.0h.9v.9h-.9zM185.6 341.4h.9v.9h-.9zM178.7 343.8h.9v.9h-.9zM181.1 338.8h.9v.9h-.9zM183.2 341.5h.9v.9h-.9zM180.7 342.6h.9v.9h-.9zM183.1 342.0h.9v.9h-.9zM184.8 344.4h.9v.9h-.9zM179.9 341.4h.9v.9h-.9zM191.3 345.8h.9v.9h-.9zM177.9 345.6h.9v.9h-.9zM181.4 343.8h.9v.9h-.9zM182.7 341.7h.9v.9h-.9zM181.2 340.5h.9v.9h-.9zM175.6 345.1h.9v.9h-.9zM181.6 342.7h.9v.9h-.9zM176.5 350.5h.9v.9h-.9zM180.6 345.7h.9v.9h-.9zM184.1 347.1h.9v.9h-.9zM185.3 341.0h.9v.9h-.9zM181.3 343.3h.9v.9h-.9zM178.9 342.1h.9v.9h-.9zM192.4 337.1h.9v.9h-.9zM180.8 344.0h.9v.9h-.9zM190.7 342.3h.9v.9h-.9zM177.4 342.6h.9v.9h-.9zM182.6 344.4h.9v.9h-.9zM189.5 346.1h.9v.9h-.9zM176.9 344.9h.9v.9h-.9zM175.3 347.9h.9v.9h-.9zM186.4 341.7h.9v.9h-.9zM189.6 345.6h.9v.9h-.9zM185.6 341.4h.9v.9h-.9zM183.7 342.8h.9v.9h-.9zM178.7 346.3h.9v.9h-.9zM183.3 344.8h.9v.9h-.9zM185.9 344.1h.9v.9h-.9zM179.5 344.0h.9v.9h-.9zM173.1 345.2h.9v.9h-.9zM187.2 346.8h.9v.9h-.9zM175.4 345.1h.9v.9h-.9zM174.5 342.3h.9v.9h-.9zM179.0 345.6h.9v.9h-.9zM187.0 343.4h.9v.9h-.9zM174.8 344.2h.9v.9h-.9zM181.6 343.9h.9v.9h-.9zM191.0 346.0h.9v.9h-.9zM183.5 344.1h.9v.9h-.9zM180.3 342.5h.9v.9h-.9zM177.2 339.8h.9v.9h-.9zM173.4 340.1h.9v.9h-.9zM188.5 344.4h.9v.9h-.9zM174.5 341.8h.9v.9h-.9zM182.1 345.8h.9v.9h-.9zM186.4 343.6h.9v.9h-.9zM178.3 344.2h.9v.9h-.9zM180.3 343.4h.9v.9h-.9zM186.6 350.1h.9v.9h-.9zM182.0 346.0h.9v.9h-.9zM187.6 344.9h.9v.9h-.9zM187.2 345.3h.9v.9h-.9zM189.1 337.3h.9v.9h-.9zM174.1 341.2h.9v.9h-.9zM183.0 346.6h.9v.9h-.9zM181.8 346.8h.9v.9h-.9zM180.4 341.5h.9v.9h-.9zM172.6 338.0h.9v.9h-.9zM180.6 340.1h.9v.9h-.9zM187.9 344.8h.9v.9h-.9zM186.3 342.9h.9v.9h-.9zM177.8 346.3h.9v.9h-.9zM180.8 342.8h.9v.9h-.9zM180.8 344.1h.9v.9h-.9zM185.5 344.8h.9v.9h-.9zM177.9 343.1h.9v.9h-.9zM178.1 342.3h.9v.9h-.9zM174.1 341.8h.9v.9h-.9zM185.4 342.9h.9v.9h-.9zM191.1 343.5h.9v.9h-.9zM183.4 346.0h.9v.9h-.9zM184.5 343.6h.9v.9h-.9zM185.5 342.0h.9v.9h-.9zM175.6 340.6h.9v.9h-.9zM184.6 341.4h.9v.9h-.9zM189.2 344.4h.9v.9h-.9zM186.7 343.7h.9v.9h-.9zM180.4 346.9h.9v.9h-.9zM177.5 343.1h.9v.9h-.9zM178.0 342.3h.9v.9h-.9zM187.5 347.1h.9v.9h-.9zM178.3 346.0h.9v.9h-.9zM182.0 346.6h.9v.9h-.9zM182.6 340.2h.9v.9h-.9zM180.0 343.3h.9v.9h-.9zM176.7 344.0h.9v.9h-.9zM183.7 344.0h.9v.9h-.9zM177.6 337.3h.9v.9h-.9zM179.3 343.6h.9v.9h-.9zM187.3 343.4h.9v.9h-.9zM185.1 346.3h.9v.9h-.9zM170.3 342.8h.9v.9h-.9zM175.7 343.6h.9v.9h-.9zM185.4 343.0h.9v.9h-.9zM176.7 340.6h.9v.9h-.9zM185.6 345.1h.9v.9h-.9zM186.9 348.4h.9v.9h-.9zM186.8 340.9h.9v.9h-.9zM190.5 347.4h.9v.9h-.9zM174.8 347.9h.9v.9h-.9zM176.9 339.8h.9v.9h-.9zM178.9 340.1h.9v.9h-.9zM179.1 341.4h.9v.9h-.9zM186.4 340.9h.9v.9h-.9zM183.9 341.6h.9v.9h-.9zM177.3 340.7h.9v.9h-.9zM179.2 342.5h.9v.9h-.9zM175.3 344.6h.9v.9h-.9zM179.7 345.5h.9v.9h-.9zM174.7 342.9h.9v.9h-.9zM191.3 340.8h.9v.9h-.9zM185.8 344.9h.9v.9h-.9zM179.8 345.0h.9v.9h-.9zM180.8 341.4h.9v.9h-.9zM185.7 344.5h.9v.9h-.9zM181.5 340.5h.9v.9h-.9zM188.1 341.6h.9v.9h-.9zM182.5 343.7h.9v.9h-.9zM193.5 342.8h.9v.9h-.9zM185.1 346.3h.9v.9h-.9zM176.0 343.0h.9v.9h-.9zM176.4 344.0h.9v.9h-.9zM178.9 346.4h.9v.9h-.9zM190.7 339.4h.9v.9h-.9zM180.0 345.1h.9v.9h-.9zM186.4 346.4h.9v.9h-.9zM174.3 342.8h.9v.9h-.9zM184.4 346.3h.9v.9h-.9zM176.1 340.5h.9v.9h-.9zM179.2 341.1h.9v.9h-.9zM181.6 339.8h.9v.9h-.9zM174.5 347.6h.9v.9h-.9zM193.7 341.1h.9v.9h-.9zM175.8 344.8h.9v.9h-.9zM179.1 339.0h.9v.9h-.9zM190.4 345.8h.9v.9h-.9zM186.5 339.8h.9v.9h-.9zM169.1 341.4h.9v.9h-.9zM183.8 336.5h.9v.9h-.9zM187.2 339.9h.9v.9h-.9zM176.4 345.8h.9v.9h-.9zM181.7 339.7h.9v.9h-.9zM177.8 347.5h.9v.9h-.9zM177.8 349.2h.9v.9h-.9zM190.6 342.8h.9v.9h-.9zM186.8 339.7h.9v.9h-.9zM177.4 342.3h.9v.9h-.9zM175.3 344.0h.9v.9h-.9zM185.6 337.9h.9v.9h-.9zM182.9 341.6h.9v.9h-.9zM180.1 343.8h.9v.9h-.9zM183.0 344.5h.9v.9h-.9zM175.0 338.3h.9v.9h-.9zM177.9 343.2h.9v.9h-.9zM177.9 343.6h.9v.9h-.9zM188.2 346.3h.9v.9h-.9zM181.7 344.2h.9v.9h-.9zM176.5 346.2h.9v.9h-.9zM177.9 344.9h.9v.9h-.9zM187.4 341.1h.9v.9h-.9zM183.6 350.8h.9v.9h-.9zM179.0 345.2h.9v.9h-.9zM180.0 344.1h.9v.9h-.9zM185.6 342.4h.9v.9h-.9zM180.2 347.6h.9v.9h-.9zM180.5 343.6h.9v.9h-.9zM178.3 345.0h.9v.9h-.9zM169.2 344.0h.9v.9h-.9zM184.9 343.0h.9v.9h-.9zM180.9 339.2h.9v.9h-.9zM186.1 341.9h.9v.9h-.9zM197.9 348.1h.9v.9h-.9zM180.0 344.1h.9v.9h-.9zM184.8 341.6h.9v.9h-.9zM179.9 341.0h.9v.9h-.9zM177.9 341.1h.9v.9h-.9zM177.6 342.3h.9v.9h-.9zM179.9 343.0h.9v.9h-.9zM182.0 347.3h.9v.9h-.9zM190.8 344.4h.9v.9h-.9zM183.7 348.0h.9v.9h-.9zM178.8 338.9h.9v.9h-.9zM186.9 342.9h.9v.9h-.9zM177.1 338.2h.9v.9h-.9zM185.4 337.5h.9v.9h-.9zM183.0 344.0h.9v.9h-.9zM179.0 338.5h.9v.9h-.9zM184.1 343.5h.9v.9h-.9zM187.6 341.0h.9v.9h-.9zM185.1 346.5h.9v.9h-.9zM172.0 346.6h.9v.9h-.9zM172.6 339.1h.9v.9h-.9zM181.1 345.4h.9v.9h-.9zM180.1 343.3h.9v.9h-.9zM174.2 344.8h.9v.9h-.9zM185.6 341.9h.9v.9h-.9zM184.2 346.7h.9v.9h-.9zM187.9 346.0h.9v.9h-.9zM183.1 343.2h.9v.9h-.9zM190.6 339.0h.9v.9h-.9zM178.3 336.9h.9v.9h-.9zM179.6 346.0h.9v.9h-.9zM185.0 343.8h.9v.9h-.9zM183.6 339.4h.9v.9h-.9zM173.7 340.7h.9v.9h-.9zM177.5 350.4h.9v.9h-.9zM184.7 340.3h.9v.9h-.9zM182.3 344.3h.9v.9h-.9zM177.9 346.9h.9v.9h-.9zM180.1 349.7h.9v.9h-.9zM180.8 344.2h.9v.9h-.9zM180.5 344.7h.9v.9h-.9zM184.0 340.1h.9v.9h-.9zM185.0 344.6h.9v.9h-.9zM177.6 343.3h.9v.9h-.9zM193.6 340.4h.9v.9h-.9zM183.2 340.2h.9v.9h-.9zM181.0 346.8h.9v.9h-.9zM191.4 346.3h.9v.9h-.9zM181.7 350.6h.9v.9h-.9zM175.6 342.4h.9v.9h-.9zM174.8 337.8h.9v.9h-.9zM178.6 348.9h.9v.9h-.9zM178.4 345.1h.9v.9h-.9zM172.5 348.1h.9v.9h-.9zM179.6 341.5h.9v.9h-.9zM177.1 342.3h.9v.9h-.9zM188.2 347.5h.9v.9h-.9zM183.9 341.2h.9v.9h-.9zM177.2 343.2h.9v.9h-.9zM186.9 343.4h.9v.9h-.9zM180.6 345.9h.9v.9h-.9zM171.3 346.3h.9v.9h-.9zM181.5 341.3h.9v.9h-.9zM189.0 346.0h.9v.9h-.9zM182.0 342.9h.9v.9h-.9zM178.4 343.2h.9v.9h-.9zM182.0 343.9h.9v.9h-.9zM178.6 346.1h.9v.9h-.9zM184.6 343.2h.9v.9h-.9zM183.1 344.8h.9v.9h-.9zM179.9 341.4h.9v.9h-.9zM185.9 339.6h.9v.9h-.9zM190.4 340.5h.9v.9h-.9zM183.4 344.2h.9v.9h-.9zM188.3 343.8h.9v.9h-.9zM186.0 344.0h.9v.9h-.9zM180.7 339.9h.9v.9h-.9zM182.0 341.4h.9v.9h-.9zM189.4 343.6h.9v.9h-.9zM183.8 345.5h.9v.9h-.9zM186.8 344.9h.9v.9h-.9zM173.6 342.7h.9v.9h-.9zM185.7 341.6h.9v.9h-.9zM172.8 339.4h.9v.9h-.9zM192.0 342.1h.9v.9h-.9zM183.4 346.7h.9v.9h-.9zM186.4 342.9h.9v.9h-.9zM178.3 342.0h.9v.9h-.9zM181.5 344.3h.9v.9h-.9zM176.1 351.0h.9v.9h-.9zM176.8 342.2h.9v.9h-.9zM182.9 340.9h.9v.9h-.9zM180.0 338.9h.9v.9h-.9zM180.2 338.0h.9v.9h-.9zM180.9 344.6h.9v.9h-.9zM188.9 344.4h.9v.9h-.9zM187.0 341.8h.9v.9h-.9zM191.6 344.6h.9v.9h-.9zM180.6 345.1h.9v.9h-.9zM178.8 341.4h.9v.9h-.9zM183.1 344.2h.9v.9h-.9zM185.8 345.8h.9v.9h-.9zM174.6 339.4h.9v.9h-.9zM185.2 343.1h.9v.9h-.9zM180.3 343.7h.9v.9h-.9zM184.4 338.6h.9v.9h-.9zM183.5 350.1h.9v.9h-.9zM180.5 346.4h.9v.9h-.9zM177.8 348.7h.9v.9h-.9zM180.5 339.5h.9v.9h-.9zM187.6 343.3h.9v.9h-.9zM172.9 346.7h.9v.9h-.9zM182.7 342.2h.9v.9h-.9zM181.1 349.2h.9v.9h-.9zM180.8 340.5h.9v.9h-.9zM182.9 343.4h.9v.9h-.9zM184.1 342.5h.9v.9h-.9zM181.8 339.0h.9v.9h-.9zM188.7 342.8h.9v.9h-.9zM180.3 343.5h.9v.9h-.9zM193.2 340.6h.9v.9h-.9zM172.0 342.2h.9v.9h-.9zM190.2 346.1h.9v.9h-.9zM180.0 345.9h.9v.9h-.9zM175.5 344.8h.9v.9h-.9zM177.1 345.5h.9v.9h-.9zM179.2 347.1h.9v.9h-.9zM182.6 343.1h.9v.9h-.9zM181.3 341.6h.9v.9h-.9zM188.6 343.8h.9v.9h-.9zM181.0 344.0h.9v.9h-.9zM180.2 341.7h.9v.9h-.9zM179.9 344.2h.9v.9h-.9zM184.6 344.4h.9v.9h-.9zM182.0 346.4h.9v.9h-.9zM189.7 341.0h.9v.9h-.9zM178.8 346.9h.9v.9h-.9zM179.8 343.0h.9v.9h-.9zM179.2 339.7h.9v.9h-.9zM177.6 346.5h.9v.9h-.9zM179.5 345.0h.9v.9h-.9zM176.9 343.9h.9v.9h-.9zM170.0 340.4h.9v.9h-.9zM172.4 345.9h.9v.9h-.9zM175.4 340.7h.9v.9h-.9zM167.7 340.6h.9v.9h-.9zM176.8 343.3h.9v.9h-.9zM184.3 346.1h.9v.9h-.9zM182.5 343.6h.9v.9h-.9zM172.5 343.8h.9v.9h-.9zM172.9 341.0h.9v.9h-.9zM178.0 346.0h.9v.9h-.9zM176.6 342.5h.9v.9h-.9zM183.8 345.2h.9v.9h-.9zM181.4 351.2h.9v.9h-.9zM182.1 344.1h.9v.9h-.9zM179.4 340.7h.9v.9h-.9zM185.6 339.6h.9v.9h-.9zM181.8 340.8h.9v.9h-.9zM194.6 340.8h.9v.9h-.9zM185.0 344.2h.9v.9h-.9zM182.1 347.1h.9v.9h-.9zM180.1 343.6h.9v.9h-.9zM178.2 342.7h.9v.9h-.9zM175.9 345.2h.9v.9h-.9zM182.2 341.2h.9v.9h-.9zM184.0 342.9h.9v.9h-.9zM189.4 346.0h.9v.9h-.9zM183.0 346.8h.9v.9h-.9zM186.2 342.5h.9v.9h-.9zM183.1 342.5h.9v.9h-.9zM180.4 342.2h.9v.9h-.9zM184.3 344.3h.9v.9h-.9zM184.6 347.7h.9v.9h-.9zM180.3 343.7h.9v.9h-.9zM180.2 340.4h.9v.9h-.9zM180.9 346.4h.9v.9h-.9zM170.8 346.5h.9v.9h-.9zM183.1 346.7h.9v.9h-.9zM174.1 345.8h.9v.9h-.9zM193.6 342.5h.9v.9h-.9zM180.8 340.7h.9v.9h-.9zM183.1 345.0h.9v.9h-.9zM183.5 342.7h.9v.9h-.9zM172.6 343.8h.9v.9h-.9zM189.7 347.1h.9v.9h-.9zM178.5 338.6h.9v.9h-.9zM187.5 338.9h.9v.9h-.9zM188.9 339.5h.9v.9h-.9zM186.7 341.6h.9v.9h-.9zM166.7 343.2h.9v.9h-.9zM175.8 344.3h.9v.9h-.9zM179.4 341.3h.9v.9h-.9zM175.1 346.6h.9v.9h-.9zM181.5 342.7h.9v.9h-.9zM190.1 345.5h.9v.9h-.9zM188.4 347.9h.9v.9h-.9zM179.6 346.5h.9v.9h-.9zM176.0 342.7h.9v.9h-.9zM185.9 343.3h.9v.9h-.9zM185.7 344.9h.9v.9h-.9zM180.4 345.7h.9v.9h-.9zM177.2 340.3h.9v.9h-.9zM190.1 340.5h.9v.9h-.9zM190.9 341.9h.9v.9h-.9zM188.6 346.4h.9v.9h-.9zM186.2 344.1h.9v.9h-.9zM179.7 343.2h.9v.9h-.9zM183.3 339.6h.9v.9h-.9zM176.0 339.7h.9v.9h-.9zM190.2 344.5h.9v.9h-.9zM176.0 340.6h.9v.9h-.9zM177.7 346.1h.9v.9h-.9zM180.3 341.1h.9v.9h-.9zM180.9 344.0h.9v.9h-.9zM189.6 345.5h.9v.9h-.9zM186.2 345.0h.9v.9h-.9zM177.6 343.4h.9v.9h-.9zM183.5 349.4h.9v.9h-.9zM183.3 343.3h.9v.9h-.9zM189.8 344.7h.9v.9h-.9zM173.1 342.6h.9v.9h-.9zM178.8 346.3h.9v.9h-.9zM176.2 346.8h.9v.9h-.9zM182.8 346.8h.9v.9h-.9zM186.6 344.3h.9v.9h-.9zM180.7 346.1h.9v.9h-.9zM193.5 340.8h.9v.9h-.9zM176.7 342.5h.9v.9h-.9zM182.6 345.3h.9v.9h-.9zM178.2 337.5h.9v.9h-.9zM174.3 339.2h.9v.9h-.9zM179.5 345.4h.9v.9h-.9zM182.0 344.0h.9v.9h-.9zM178.1 342.8h.9v.9h-.9zM178.2 342.9h.9v.9h-.9zM181.4 347.6h.9v.9h-.9zM178.1 344.8h.9v.9h-.9zM186.8 342.5h.9v.9h-.9zM185.0 339.5h.9v.9h-.9zM182.1 343.8h.9v.9h-.9zM187.3 340.4h.9v.9h-.9zM169.8 343.0h.9v.9h-.9zM176.6 341.4h.9v.9h-.9zM188.6 347.0h.9v.9h-.9zM177.0 341.6h.9v.9h-.9zM186.9 343.4h.9v.9h-.9zM184.1 347.4h.9v.9h-.9zM182.4 337.4h.9v.9h-.9zM180.7 342.1h.9v.9h-.9zM175.4 339.2h.9v.9h-.9zM173.7 347.8h.9v.9h-.9zM172.5 344.7h.9v.9h-.9zM184.1 343.3h.9v.9h-.9zM181.5 344.0h.9v.9h-.9zM183.4 345.6h.9v.9h-.9zM175.6 345.1h.9v.9h-.9zM181.9 343.9h.9v.9h-.9zM187.5 346.2h.9v.9h-.9zM177.6 344.6h.9v.9h-.9zM179.0 348.9h.9v.9h-.9zM179.7 340.6h.9v.9h-.9zM192.7 342.7h.9v.9h-.9zM187.7 345.7h.9v.9h-.9zM192.1 345.8h.9v.9h-.9zM195.9 342.2h.9v.9h-.9zM180.4 347.2h.9v.9h-.9zM183.4 346.2h.9v.9h-.9zM168.9 348.3h.9v.9h-.9zM182.2 342.9h.9v.9h-.9zM178.9 346.9h.9v.9h-.9zM181.9 343.4h.9v.9h-.9zM182.3 344.6h.9v.9h-.9zM170.0 345.7h.9v.9h-.9zM183.3 342.5h.9v.9h-.9zM179.1 342.8h.9v.9h-.9zM174.6 348.4h.9v.9h-.9zM178.2 341.0h.9v.9h-.9zM185.7 345.1h.9v.9h-.9zM177.8 347.3h.9v.9h-.9zM188.9 347.8h.9v.9h-.9zM184.1 343.2h.9v.9h-.9zM181.2 340.9h.9v.9h-.9zM176.1 346.6h.9v.9h-.9zM176.5 342.1h.9v.9h-.9zM187.2 343.6h.9v.9h-.9zM181.1 341.6h.9v.9h-.9zM182.4 339.8h.9v.9h-.9zM182.5 341.9h.9v.9h-.9zM185.6 342.8h.9v.9h-.9zM185.1 338.7h.9v.9h-.9zM179.2 347.4h.9v.9h-.9zM182.7 342.8h.9v.9h-.9zM180.1 348.0h.9v.9h-.9zM183.9 346.7h.9v.9h-.9zM172.9 342.0h.9v.9h-.9zM179.9 343.5h.9v.9h-.9zM188.1 342.3h.9v.9h-.9zM174.2 343.5h.9v.9h-.9zM177.4 343.8h.9v.9h-.9zM182.2 344.6h.9v.9h-.9zM174.4 344.7h.9v.9h-.9zM181.3 344.0h.9v.9h-.9zM182.6 341.9h.9v.9h-.9zM185.1 339.3h.9v.9h-.9zM181.9 344.1h.9v.9h-.9zM182.5 343.0h.9v.9h-.9zM178.6 345.3h.9v.9h-.9zM182.3 341.9h.9v.9h-.9zM182.4 344.2h.9v.9h-.9zM183.5 340.9h.9v.9h-.9zM185.0 344.6h.9v.9h-.9zM185.0 342.8h.9v.9h-.9zM184.7 344.7h.9v.9h-.9zM182.5 350.6h.9v.9h-.9zM181.5 345.7h.9v.9h-.9zM178.4 343.2h.9v.9h-.9zM184.6 344.3h.9v.9h-.9zM187.7 343.6h.9v.9h-.9zM178.5 343.5h.9v.9h-.9zM184.5 343.7h.9v.9h-.9zM180.4 343.6h.9v.9h-.9zM180.2 343.5h.9v.9h-.9zM175.7 346.3h.9v.9h-.9zM179.7 346.2h.9v.9h-.9zM184.5 348.3h.9v.9h-.9zM183.7 344.9h.9v.9h-.9zM185.6 344.8h.9v.9h-.9zM177.5 350.0h.9v.9h-.9zM169.2 339.7h.9v.9h-.9zM184.9 344.1h.9v.9h-.9zM180.8 344.9h.9v.9h-.9zM184.7 345.3h.9v.9h-.9zM191.0 341.9h.9v.9h-.9zM186.8 342.5h.9v.9h-.9zM169.7 339.7h.9v.9h-.9zM178.4 342.1h.9v.9h-.9zM179.3 338.4h.9v.9h-.9zM189.7 345.7h.9v.9h-.9zM176.9 343.0h.9v.9h-.9zM179.2 340.8h.9v.9h-.9zM186.9 347.3h.9v.9h-.9zM171.3 343.5h.9v.9h-.9zM177.9 340.9h.9v.9h-.9zM173.5 344.8h.9v.9h-.9zM175.1 342.2h.9v.9h-.9zM183.4 338.3h.9v.9h-.9zM181.1 343.7h.9v.9h-.9zM180.2 347.6h.9v.9h-.9zM180.6 338.9h.9v.9h-.9zM178.6 342.3h.9v.9h-.9zM180.6 345.4h.9v.9h-.9zM183.7 344.3h.9v.9h-.9zM176.7 345.9h.9v.9h-.9zM181.7 342.9h.9v.9h-.9zM178.5 347.0h.9v.9h-.9zM186.1 343.6h.9v.9h-.9zM187.7 343.3h.9v.9h-.9zM184.7 344.6h.9v.9h-.9zM186.7 342.8h.9v.9h-.9zM178.6 342.7h.9v.9h-.9zM179.4 342.3h.9v.9h-.9zM182.3 341.3h.9v.9h-.9zM179.7 341.6h.9v.9h-.9zM184.5 339.9h.9v.9h-.9zM180.4 345.0h.9v.9h-.9zM174.4 344.3h.9v.9h-.9zM175.8 338.3h.9v.9h-.9zM182.7 342.3h.9v.9h-.9zM194.1 343.6h.9v.9h-.9zM182.0 340.8h.9v.9h-.9zM173.0 344.6h.9v.9h-.9zM182.6 341.9h.9v.9h-.9zM177.6 343.5h.9v.9h-.9zM174.1 341.0h.9v.9h-.9zM195.5 344.0h.9v.9h-.9zM194.3 343.9h.9v.9h-.9zM181.1 349.6h.9v.9h-.9zM181.1 347.7h.9v.9h-.9zM179.8 343.9h.9v.9h-.9zM185.8 343.6h.9v.9h-.9zM185.9 343.7h.9v.9h-.9zM187.2 344.2h.9v.9h-.9zM175.5 337.7h.9v.9h-.9zM179.9 343.4h.9v.9h-.9zM185.7 345.1h.9v.9h-.9zM182.2 343.6h.9v.9h-.9zM173.4 340.3h.9v.9h-.9zM181.4 339.4h.9v.9h-.9zM186.8 338.6h.9v.9h-.9zM169.8 347.8h.9v.9h-.9zM189.8 345.4h.9v.9h-.9zM180.5 347.0h.9v.9h-.9zM189.4 342.7h.9v.9h-.9zM186.6 341.5h.9v.9h-.9zM183.5 339.3h.9v.9h-.9zM181.0 344.4h.9v.9h-.9zM180.5 339.7h.9v.9h-.9zM177.7 341.3h.9v.9h-.9zM182.2 346.6h.9v.9h-.9zM183.2 347.4h.9v.9h-.9zM173.2 342.8h.9v.9h-.9zM178.1 345.8h.9v.9h-.9zM168.5 343.9h.9v.9h-.9zM172.8 344.8h.9v.9h-.9zM177.0 340.0h.9v.9h-.9zM183.9 344.2h.9v.9h-.9zM181.3 344.1h.9v.9h-.9zM181.8 344.5h.9v.9h-.9zM178.7 344.5h.9v.9h-.9zM175.1 343.8h.9v.9h-.9zM185.7 344.9h.9v.9h-.9zM185.0 341.5h.9v.9h-.9zM174.9 344.4h.9v.9h-.9zM179.5 341.1h.9v.9h-.9zM183.2 343.8h.9v.9h-.9zM175.3 342.3h.9v.9h-.9zM176.8 341.6h.9v.9h-.9zM183.5 342.0h.9v.9h-.9zM181.9 342.0h.9v.9h-.9zM186.4 345.6h.9v.9h-.9zM179.7 341.6h.9v.9h-.9zM184.7 344.5h.9v.9h-.9zM184.1 344.9h.9v.9h-.9zM191.6 349.3h.9v.9h-.9zM177.2 346.1h.9v.9h-.9zM181.1 341.0h.9v.9h-.9zM176.1 340.4h.9v.9h-.9zM184.8 343.7h.9v.9h-.9zM185.3 344.8h.9v.9h-.9zM190.5 341.8h.9v.9h-.9zM180.5 346.1h.9v.9h-.9zM186.1 338.5h.9v.9h-.9zM182.8 338.1h.9v.9h-.9zM190.8 341.6h.9v.9h-.9zM181.9 345.2h.9v.9h-.9zM180.7 346.0h.9v.9h-.9zM186.3 343.8h.9v.9h-.9zM181.3 347.4h.9v.9h-.9zM178.0 344.8h.9v.9h-.9zM172.1 343.2h.9v.9h-.9zM184.3 347.6h.9v.9h-.9zM188.5 344.5h.9v.9h-.9zM182.5 341.4h.9v.9h-.9zM187.2 344.4h.9v.9h-.9zM179.7 340.7h.9v.9h-.9zM185.8 346.5h.9v.9h-.9zM186.4 342.9h.9v.9h-.9zM179.6 338.8h.9v.9h-.9zM174.3 347.0h.9v.9h-.9zM180.4 344.6h.9v.9h-.9zM181.9 342.2h.9v.9h-.9zM185.6 344.0h.9v.9h-.9zM171.3 345.4h.9v.9h-.9zM189.7 343.5h.9v.9h-.9zM184.9 344.2h.9v.9h-.9zM180.3 346.4h.9v.9h-.9zM176.0 342.5h.9v.9h-.9zM178.3 343.6h.9v.9h-.9zM183.9 348.4h.9v.9h-.9zM183.9 342.8h.9v.9h-.9zM183.6 341.8h.9v.9h-.9zM173.1 343.8h.9v.9h-.9zM179.1 346.2h.9v.9h-.9zM181.4 341.5h.9v.9h-.9zM180.4 343.0h.9v.9h-.9zM178.2 342.0h.9v.9h-.9zM182.4 348.2h.9v.9h-.9zM188.1 346.9h.9v.9h-.9zM174.7 344.5h.9v.9h-.9zM188.2 346.6h.9v.9h-.9zM176.4 339.9h.9v.9h-.9zM176.5 341.6h.9v.9h-.9zM176.2 344.3h.9v.9h-.9zM185.8 347.1h.9v.9h-.9zM184.1 339.6h.9v.9h-.9zM187.4 344.5h.9v.9h-.9zM177.4 342.8h.9v.9h-.9zM175.3 342.8h.9v.9h-.9zM193.0 343.9h.9v.9h-.9zM184.6 340.7h.9v.9h-.9zM168.3 347.4h.9v.9h-.9zM176.0 342.1h.9v.9h-.9zM181.9 344.5h.9v.9h-.9zM189.4 340.6h.9v.9h-.9zM191.7 341.7h.9v.9h-.9zM175.9 338.9h.9v.9h-.9zM185.3 347.5h.9v.9h-.9zM180.5 350.6h.9v.9h-.9zM180.0 343.8h.9v.9h-.9zM179.4 344.6h.9v.9h-.9zM175.0 349.0h.9v.9h-.9zM176.7 341.9h.9v.9h-.9zM179.7 344.3h.9v.9h-.9zM184.0 341.7h.9v.9h-.9zM174.1 345.8h.9v.9h-.9zM189.3 344.8h.9v.9h-.9zM179.6 346.5h.9v.9h-.9zM185.9 346.4h.9v.9h-.9zM176.4 340.8h.9v.9h-.9zM175.2 342.0h.9v.9h-.9zM187.6 344.2h.9v.9h-.9zM184.6 345.2h.9v.9h-.9zM171.1 343.4h.9v.9h-.9zM184.2 345.3h.9v.9h-.9zM172.9 345.8h.9v.9h-.9zM184.0 342.5h.9v.9h-.9zM185.7 343.7h.9v.9h-.9zM181.6 342.5h.9v.9h-.9zM179.8 340.5h.9v.9h-.9zM180.6 346.4h.9v.9h-.9zM181.2 348.6h.9v.9h-.9zM177.1 343.2h.9v.9h-.9zM183.8 348.3h.9v.9h-.9zM178.3 348.0h.9v.9h-.9zM172.2 342.1h.9v.9h-.9zM183.2 342.8h.9v.9h-.9zM191.1 342.3h.9v.9h-.9zM187.2 346.3h.9v.9h-.9zM180.6 347.2h.9v.9h-.9zM177.5 342.4h.9v.9h-.9zM178.8 339.7h.9v.9h-.9zM188.8 343.9h.9v.9h-.9zM185.6 347.1h.9v.9h-.9zM176.9 344.8h.9v.9h-.9zM182.8 343.7h.9v.9h-.9zM189.6 339.3h.9v.9h-.9zM182.0 345.3h.9v.9h-.9zM182.3 342.8h.9v.9h-.9zM178.6 343.8h.9v.9h-.9zM172.6 344.0h.9v.9h-.9zM186.4 342.5h.9v.9h-.9zM185.1 341.2h.9v.9h-.9zM185.5 344.0h.9v.9h-.9zM188.5 345.2h.9v.9h-.9zM181.2 348.2h.9v.9h-.9zM179.5 343.0h.9v.9h-.9zM184.0 340.9h.9v.9h-.9zM175.1 348.6h.9v.9h-.9zM171.2 346.5h.9v.9h-.9zM179.7 341.7h.9v.9h-.9zM178.2 343.0h.9v.9h-.9zM176.9 343.9h.9v.9h-.9zM182.2 347.5h.9v.9h-.9zM185.5 343.7h.9v.9h-.9zM178.2 347.5h.9v.9h-.9zM170.8 344.3h.9v.9h-.9zM172.5 341.8h.9v.9h-.9zM176.7 344.3h.9v.9h-.9zM180.4 339.2h.9v.9h-.9zM181.5 342.0h.9v.9h-.9zM184.3 345.3h.9v.9h-.9zM192.6 341.5h.9v.9h-.9zM176.3 342.8h.9v.9h-.9zM187.1 340.3h.9v.9h-.9zM180.7 343.7h.9v.9h-.9zM182.6 339.2h.9v.9h-.9zM179.9 342.7h.9v.9h-.9zM187.5 345.7h.9v.9h-.9zM186.3 342.3h.9v.9h-.9zM189.7 346.1h.9v.9h-.9zM193.0 344.8h.9v.9h-.9zM174.7 345.4h.9v.9h-.9zM181.3 341.8h.9v.9h-.9zM186.7 343.5h.9v.9h-.9zM187.4 341.0h.9v.9h-.9zM184.9 341.7h.9v.9h-.9zM178.3 342.4h.9v.9h-.9zM193.0 345.1h.9v.9h-.9zM177.2 347.8h.9v.9h-.9zM187.2 340.1h.9v.9h-.9zM179.8 347.6h.9v.9h-.9zM180.6 337.6h.9v.9h-.9zM186.8 338.2h.9v.9h-.9zM177.6 348.3h.9v.9h-.9zM186.3 346.9h.9v.9h-.9zM182.6 344.2h.9v.9h-.9zM176.5 344.3h.9v.9h-.9zM181.7 343.8h.9v.9h-.9zM183.3 337.9h.9v.9h-.9zM185.7 345.5h.9v.9h-.9zM187.9 342.4h.9v.9h-.9zM174.6 338.0h.9v.9h-.9zM177.8 345.0h.9v.9h-.9zM178.0 345.6h.9v.9h-.9zM174.3 347.2h.9v.9h-.9zM192.4 346.5h.9v.9h-.9zM179.4 343.0h.9v.9h-.9zM180.3 345.5h.9v.9h-.9zM179.7 343.6h.9v.9h-.9zM177.1 344.1h.9v.9h-.9zM186.7 348.6h.9v.9h-.9zM182.6 342.9h.9v.9h-.9zM178.2 337.1h.9v.9h-.9zM180.1 342.5h.9v.9h-.9zM184.0 339.6h.9v.9h-.9zM183.4 341.0h.9v.9h-.9zM186.4 347.5h.9v.9h-.9zM188.6 344.8h.9v.9h-.9zM179.1 341.6h.9v.9h-.9zM176.5 343.2h.9v.9h-.9zM179.2 346.3h.9v.9h-.9zM182.5 344.2h.9v.9h-.9zM178.5 348.2h.9v.9h-.9zM183.4 341.0h.9v.9h-.9zM175.2 344.4h.9v.9h-.9zM181.5 344.0h.9v.9h-.9zM183.5 341.3h.9v.9h-.9zM177.2 344.6h.9v.9h-.9zM185.7 345.5h.9v.9h-.9zM190.5 346.8h.9v.9h-.9zM165.4 338.4h.9v.9h-.9zM177.5 344.1h.9v.9h-.9zM180.7 345.3h.9v.9h-.9zM185.7 346.8h.9v.9h-.9zM176.3 344.7h.9v.9h-.9zM182.5 343.8h.9v.9h-.9zM189.2 341.9h.9v.9h-.9zM183.2 347.5h.9v.9h-.9zM178.7 343.4h.9v.9h-.9zM178.5 347.7h.9v.9h-.9zM182.9 344.0h.9v.9h-.9zM184.0 344.5h.9v.9h-.9zM183.7 341.5h.9v.9h-.9zM181.7 340.2h.9v.9h-.9zM170.1 344.4h.9v.9h-.9zM177.2 343.2h.9v.9h-.9zM179.9 347.2h.9v.9h-.9zM182.5 340.0h.9v.9h-.9zM184.5 340.2h.9v.9h-.9zM178.2 346.4h.9v.9h-.9zM185.3 341.3h.9v.9h-.9zM189.9 340.7h.9v.9h-.9zM184.3 338.0h.9v.9h-.9zM185.8 341.1h.9v.9h-.9zM179.3 345.1h.9v.9h-.9zM176.3 346.0h.9v.9h-.9zM184.1 338.5h.9v.9h-.9zM183.6 344.4h.9v.9h-.9zM187.2 340.9h.9v.9h-.9zM179.7 341.6h.9v.9h-.9zM176.0 345.0h.9v.9h-.9zM176.1 343.0h.9v.9h-.9zM182.7 344.2h.9v.9h-.9zM170.9 345.1h.9v.9h-.9zM188.3 345.0h.9v.9h-.9zM179.1 344.3h.9v.9h-.9zM181.3 345.7h.9v.9h-.9zM179.8 342.1h.9v.9h-.9zM189.6 341.0h.9v.9h-.9zM174.2 341.2h.9v.9h-.9zM185.1 343.5h.9v.9h-.9zM183.5 341.3h.9v.9h-.9zM187.6 344.0h.9v.9h-.9zM185.9 343.0h.9v.9h-.9zM175.7 347.5h.9v.9h-.9zM172.6 340.9h.9v.9h-.9zM169.7 346.7h.9v.9h-.9zM179.5 345.4h.9v.9h-.9zM183.7 349.6h.9v.9h-.9zM182.0 341.9h.9v.9h-.9zM179.0 345.0h.9v.9h-.9zM183.8 342.1h.9v.9h-.9zM173.5 342.5h.9v.9h-.9zM187.9 344.3h.9v.9h-.9zM189.0 346.0h.9v.9h-.9zM187.6 347.4h.9v.9h-.9zM185.0 342.6h.9v.9h-.9zM190.5 341.7h.9v.9h-.9zM173.5 343.9h.9v.9h-.9zM175.6 346.5h.9v.9h-.9zM181.3 345.2h.9v.9h-.9zM181.2 345.4h.9v.9h-.9zM179.4 346.1h.9v.9h-.9zM183.9 343.7h.9v.9h-.9zM179.5 345.2h.9v.9h-.9zM189.9 349.0h.9v.9h-.9zM181.5 345.1h.9v.9h-.9zM168.5 342.0h.9v.9h-.9zM178.9 342.7h.9v.9h-.9zM177.3 343.0h.9v.9h-.9zM173.3 344.4h.9v.9h-.9zM186.3 345.3h.9v.9h-.9zM175.8 339.6h.9v.9h-.9zM171.1 341.7h.9v.9h-.9zM178.9 342.6h.9v.9h-.9zM190.9 340.9h.9v.9h-.9zM181.4 338.3h.9v.9h-.9zM191.3 340.3h.9v.9h-.9zM184.8 346.3h.9v.9h-.9zM191.1 340.1h.9v.9h-.9zM184.9 347.8h.9v.9h-.9zM184.5 343.7h.9v.9h-.9zM165.2 343.9h.9v.9h-.9zM173.7 348.5h.9v.9h-.9zM173.6 348.7h.9v.9h-.9zM179.4 340.4h.9v.9h-.9zM186.2 346.3h.9v.9h-.9zM185.0 345.2h.9v.9h-.9zM184.3 341.7h.9v.9h-.9zM170.6 342.7h.9v.9h-.9zM175.5 341.1h.9v.9h-.9zM179.9 348.0h.9v.9h-.9zM183.7 350.5h.9v.9h-.9zM181.7 339.7h.9v.9h-.9zM176.0 341.5h.9v.9h-.9zM172.9 343.1h.9v.9h-.9zM186.2 341.1h.9v.9h-.9zM175.5 346.4h.9v.9h-.9zM180.0 344.2h.9v.9h-.9zM180.9 342.9h.9v.9h-.9zM183.4 339.1h.9v.9h-.9zM176.8 339.3h.9v.9h-.9zM174.4 343.6h.9v.9h-.9zM179.8 338.4h.9v.9h-.9zM176.2 345.7h.9v.9h-.9zM181.7 342.3h.9v.9h-.9zM172.7 346.3h.9v.9h-.9zM178.7 344.4h.9v.9h-.9zM174.1 345.1h.9v.9h-.9zM192.6 344.6h.9v.9h-.9zM171.2 341.8h.9v.9h-.9zM178.1 341.9h.9v.9h-.9zM179.2 342.6h.9v.9h-.9zM177.9 343.9h.9v.9h-.9zM174.0 345.7h.9v.9h-.9zM175.7 343.0h.9v.9h-.9zM179.9 347.1h.9v.9h-.9zM189.0 342.4h.9v.9h-.9zM188.1 340.5h.9v.9h-.9zM190.9 341.6h.9v.9h-.9zM178.5 341.9h.9v.9h-.9zM182.4 347.3h.9v.9h-.9zM188.6 345.8h.9v.9h-.9zM184.5 344.7h.9v.9h-.9zM182.9 343.4h.9v.9h-.9zM182.2 344.3h.9v.9h-.9zM186.3 340.4h.9v.9h-.9zM178.8 350.1h.9v.9h-.9zM183.4 345.1h.9v.9h-.9zM177.3 346.4h.9v.9h-.9zM185.8 346.8h.9v.9h-.9zM184.7 343.5h.9v.9h-.9zM181.6 343.2h.9v.9h-.9zM174.4 341.1h.9v.9h-.9zM181.0 343.4h.9v.9h-.9zM190.3 343.1h.9v.9h-.9zM178.6 338.7h.9v.9h-.9zM183.3 344.2h.9v.9h-.9zM172.0 340.4h.9v.9h-.9zM175.7 343.0h.9v.9h-.9zM181.2 349.6h.9v.9h-.9zM186.3 348.1h.9v.9h-.9zM185.8 339.7h.9v.9h-.9zM178.1 344.1h.9v.9h-.9zM191.6 344.5h.9v.9h-.9zM166.3 347.7h.9v.9h-.9zM173.2 348.9h.9v.9h-.9zM187.1 343.7h.9v.9h-.9zM188.3 342.2h.9v.9h-.9zM190.7 344.6h.9v.9h-.9zM176.6 344.9h.9v.9h-.9zM173.7 338.8h.9v.9h-.9zM173.3 344.4h.9v.9h-.9zM176.1 342.5h.9v.9h-.9zM183.6 348.0h.9v.9h-.9zM179.1 345.2h.9v.9h-.9zM179.1 344.3h.9v.9h-.9zM184.6 345.8h.9v.9h-.9zM180.1 343.2h.9v.9h-.9zM182.2 344.0h.9v.9h-.9zM189.3 344.5h.9v.9h-.9zM177.4 338.8h.9v.9h-.9zM181.8 345.9h.9v.9h-.9zM177.1 346.3h.9v.9h-.9zM185.2 345.5h.9v.9h-.9zM174.9 346.5h.9v.9h-.9zM176.2 340.5h.9v.9h-.9zM184.8 344.1h.9v.9h-.9zM170.2 343.1h.9v.9h-.9zM191.2 343.0h.9v.9h-.9zM184.6 340.4h.9v.9h-.9zM180.3 341.1h.9v.9h-.9zM179.3 343.2h.9v.9h-.9zM184.0 340.7h.9v.9h-.9zM183.5 342.6h.9v.9h-.9zM175.9 340.4h.9v.9h-.9zM182.0 344.8h.9v.9h-.9zM176.6 348.9h.9v.9h-.9zM178.5 344.6h.9v.9h-.9zM181.2 343.3h.9v.9h-.9zM181.7 339.8h.9v.9h-.9zM179.6 341.6h.9v.9h-.9zM180.8 345.2h.9v.9h-.9zM179.1 343.9h.9v.9h-.9zM179.6 342.9h.9v.9h-.9zM189.8 338.5h.9v.9h-.9zM189.1 340.5h.9v.9h-.9zM176.5 344.5h.9v.9h-.9zM169.5 340.8h.9v.9h-.9zM185.7 345.6h.9v.9h-.9zM191.4 343.7h.9v.9h-.9zM180.2 340.8h.9v.9h-.9zM183.5 348.3h.9v.9h-.9zM181.6 336.7h.9v.9h-.9zM183.3 342.3h.9v.9h-.9zM178.7 339.5h.9v.9h-.9zM181.4 342.5h.9v.9h-.9zM180.2 344.9h.9v.9h-.9zM180.0 347.0h.9v.9h-.9zM182.4 344.5h.9v.9h-.9zM174.0 342.9h.9v.9h-.9zM187.5 344.1h.9v.9h-.9zM182.0 340.2h.9v.9h-.9zM182.6 343.1h.9v.9h-.9zM177.7 345.5h.9v.9h-.9zM170.6 344.2h.9v.9h-.9zM180.9 345.3h.9v.9h-.9zM178.9 342.3h.9v.9h-.9zM168.4 345.0h.9v.9h-.9zM187.7 343.1h.9v.9h-.9zM189.6 341.0h.9v.9h-.9zM179.9 339.3h.9v.9h-.9zM184.0 337.2h.9v.9h-.9zM189.5 341.0h.9v.9h-.9zM184.8 342.1h.9v.9h-.9zM166.0 343.9h.9v.9h-.9zM188.1 341.3h.9v.9h-.9zM171.4 340.3h.9v.9h-.9zM178.9 344.4h.9v.9h-.9zM189.9 344.7h.9v.9h-.9zM176.9 344.8h.9v.9h-.9zM173.2 344.5h.9v.9h-.9zM180.7 341.9h.9v.9h-.9zM179.7 344.6h.9v.9h-.9zM169.7 344.8h.9v.9h-.9zM189.2 346.0h.9v.9h-.9zM181.0 342.8h.9v.9h-.9zM180.3 340.7h.9v.9h-.9zM181.5 346.3h.9v.9h-.9zM181.7 346.0h.9v.9h-.9zM188.4 343.0h.9v.9h-.9zM180.0 337.6h.9v.9h-.9zM177.8 341.2h.9v.9h-.9zM183.6 346.1h.9v.9h-.9zM182.7 341.6h.9v.9h-.9zM184.8 342.0h.9v.9h-.9zM176.5 346.3h.9v.9h-.9zM183.7 343.8h.9v.9h-.9zM184.3 343.5h.9v.9h-.9zM175.6 341.6h.9v.9h-.9zM184.0 344.3h.9v.9h-.9zM181.0 343.9h.9v.9h-.9zM188.8 345.2h.9v.9h-.9zM190.2 338.7h.9v.9h-.9zM182.9 346.7h.9v.9h-.9zM175.1 348.4h.9v.9h-.9zM181.0 344.9h.9v.9h-.9zM176.4 342.5h.9v.9h-.9zM176.8 346.7h.9v.9h-.9zM187.9 346.9h.9v.9h-.9zM184.1 341.6h.9v.9h-.9zM179.5 343.4h.9v.9h-.9zM175.4 344.1h.9v.9h-.9zM182.2 341.1h.9v.9h-.9zM188.3 343.2h.9v.9h-.9zM184.3 346.0h.9v.9h-.9zM182.4 349.0h.9v.9h-.9zM182.5 338.7h.9v.9h-.9zM188.5 345.2h.9v.9h-.9zM185.8 339.7h.9v.9h-.9zM182.2 341.9h.9v.9h-.9zM170.1 345.2h.9v.9h-.9zM185.0 340.8h.9v.9h-.9zM182.3 344.5h.9v.9h-.9zM181.1 342.3h.9v.9h-.9zM187.4 345.4h.9v.9h-.9zM177.1 339.9h.9v.9h-.9zM183.0 348.8h.9v.9h-.9zM182.0 341.0h.9v.9h-.9zM173.6 341.8h.9v.9h-.9zM180.2 340.3h.9v.9h-.9zM182.0 347.0h.9v.9h-.9zM187.2 344.6h.9v.9h-.9zM184.2 343.7h.9v.9h-.9zM181.3 347.5h.9v.9h-.9zM185.4 340.4h.9v.9h-.9zM170.1 341.2h.9v.9h-.9zM179.1 344.3h.9v.9h-.9zM177.2 341.4h.9v.9h-.9zM184.1 342.7h.9v.9h-.9zM190.7 343.0h.9v.9h-.9zM185.2 342.8h.9v.9h-.9zM186.6 344.3h.9v.9h-.9zM185.8 340.6h.9v.9h-.9zM190.0 346.3h.9v.9h-.9zM175.4 343.6h.9v.9h-.9zM184.0 341.6h.9v.9h-.9zM176.9 342.1h.9v.9h-.9zM178.8 344.3h.9v.9h-.9zM185.2 343.2h.9v.9h-.9zM185.9 344.9h.9v.9h-.9zM180.8 347.3h.9v.9h-.9zM187.3 343.5h.9v.9h-.9zM181.4 339.3h.9v.9h-.9zM180.8 344.4h.9v.9h-.9zM181.6 343.9h.9v.9h-.9zM181.8 343.9h.9v.9h-.9zM187.6 343.1h.9v.9h-.9zM187.1 339.3h.9v.9h-.9zM179.3 342.8h.9v.9h-.9zM180.5 344.0h.9v.9h-.9zM178.9 343.1h.9v.9h-.9zM184.3 347.7h.9v.9h-.9zM183.3 348.0h.9v.9h-.9zM184.0 338.4h.9v.9h-.9zM175.6 348.7h.9v.9h-.9zM183.0 340.4h.9v.9h-.9zM178.3 342.3h.9v.9h-.9zM176.0 350.9h.9v.9h-.9zM181.7 347.8h.9v.9h-.9zM179.7 346.0h.9v.9h-.9zM184.1 340.8h.9v.9h-.9zM184.0 343.8h.9v.9h-.9zM181.3 344.9h.9v.9h-.9zM184.3 341.1h.9v.9h-.9zM183.0 344.6h.9v.9h-.9zM181.1 340.0h.9v.9h-.9zM177.2 347.3h.9v.9h-.9zM186.7 343.4h.9v.9h-.9zM186.3 341.3h.9v.9h-.9zM187.0 347.3h.9v.9h-.9zM176.3 345.8h.9v.9h-.9zM176.3 347.5h.9v.9h-.9zM182.6 339.9h.9v.9h-.9zM186.0 341.9h.9v.9h-.9zM181.7 343.3h.9v.9h-.9zM187.4 339.2h.9v.9h-.9zM176.2 343.8h.9v.9h-.9zM184.5 343.7h.9v.9h-.9zM171.4 342.9h.9v.9h-.9zM177.3 343.3h.9v.9h-.9zM175.9 339.5h.9v.9h-.9zM184.7 345.1h.9v.9h-.9zM178.4 347.2h.9v.9h-.9zM181.5 340.0h.9v.9h-.9zM186.1 340.4h.9v.9h-.9zM178.3 343.5h.9v.9h-.9zM186.3 340.4h.9v.9h-.9zM176.5 341.2h.9v.9h-.9zM188.4 342.5h.9v.9h-.9zM176.4 339.9h.9v.9h-.9zM175.3 339.1h.9v.9h-.9zM183.7 346.0h.9v.9h-.9zM188.8 340.7h.9v.9h-.9zM172.1 345.8h.9v.9h-.9zM186.7 341.3h.9v.9h-.9zM187.7 345.3h.9v.9h-.9zM183.4 342.2h.9v.9h-.9zM174.2 339.5h.9v.9h-.9zM176.1 344.7h.9v.9h-.9zM184.0 343.1h.9v.9h-.9zM169.8 341.6h.9v.9h-.9zM187.3 349.2h.9v.9h-.9zM190.8 348.1h.9v.9h-.9zM174.6 340.4h.9v.9h-.9zM175.4 343.2h.9v.9h-.9zM185.2 342.4h.9v.9h-.9zM177.8 341.2h.9v.9h-.9zM185.0 344.8h.9v.9h-.9zM179.1 345.5h.9v.9h-.9zM178.8 346.3h.9v.9h-.9zM180.8 340.3h.9v.9h-.9zM185.0 344.9h.9v.9h-.9zM184.7 346.8h.9v.9h-.9zM181.2 338.0h.9v.9h-.9zM188.9 342.5h.9v.9h-.9zM189.6 341.3h.9v.9h-.9zM185.7 345.3h.9v.9h-.9zM174.1 339.6h.9v.9h-.9zM178.0 343.2h.9v.9h-.9zM180.4 342.9h.9v.9h-.9zM184.2 341.4h.9v.9h-.9zM188.5 343.4h.9v.9h-.9zM178.3 339.2h.9v.9h-.9zM188.1 340.3h.9v.9h-.9zM175.2 340.9h.9v.9h-.9zM183.2 345.5h.9v.9h-.9zM179.2 347.1h.9v.9h-.9zM180.1 342.8h.9v.9h-.9zM188.1 342.3h.9v.9h-.9zM179.5 339.2h.9v.9h-.9zM182.0 339.6h.9v.9h-.9zM190.7 343.8h.9v.9h-.9zM182.9 346.3h.9v.9h-.9zM174.2 342.3h.9v.9h-.9zM175.8 341.5h.9v.9h-.9zM178.9 341.8h.9v.9h-.9zM182.8 345.0h.9v.9h-.9zM183.0 346.7h.9v.9h-.9zM172.5 343.4h.9v.9h-.9zM175.5 342.4h.9v.9h-.9zM174.7 344.1h.9v.9h-.9zM181.4 341.9h.9v.9h-.9zM183.5 343.3h.9v.9h-.9zM180.4 346.4h.9v.9h-.9zM184.1 344.7h.9v.9h-.9zM180.5 339.4h.9v.9h-.9zM181.9 348.7h.9v.9h-.9zM189.2 351.1h.9v.9h-.9zM185.7 339.6h.9v.9h-.9zM178.7 342.3h.9v.9h-.9zM179.7 345.1h.9v.9h-.9zM187.6 346.8h.9v.9h-.9zM181.3 338.6h.9v.9h-.9zM177.9 347.9h.9v.9h-.9zM183.9 346.7h.9v.9h-.9zM174.8 345.3h.9v.9h-.9zM182.7 343.3h.9v.9h-.9zM178.9 338.5h.9v.9h-.9zM183.4 343.9h.9v.9h-.9zM193.3 341.4h.9v.9h-.9zM182.9 344.5h.9v.9h-.9zM176.0 342.3h.9v.9h-.9zM172.5 340.2h.9v.9h-.9zM182.3 349.0h.9v.9h-.9zM180.1 350.4h.9v.9h-.9zM174.4 339.5h.9v.9h-.9zM178.6 344.2h.9v.9h-.9zM181.5 340.7h.9v.9h-.9zM175.5 345.5h.9v.9h-.9zM180.6 341.1h.9v.9h-.9zM184.0 344.8h.9v.9h-.9zM177.7 342.0h.9v.9h-.9zM188.6 345.3h.9v.9h-.9zM176.8 338.7h.9v.9h-.9zM175.5 344.7h.9v.9h-.9zM187.2 344.1h.9v.9h-.9zM179.2 344.6h.9v.9h-.9zM177.7 344.0h.9v.9h-.9zM176.5 347.2h.9v.9h-.9zM183.8 346.9h.9v.9h-.9zM178.0 341.9h.9v.9h-.9zM178.9 343.6h.9v.9h-.9zM171.8 341.3h.9v.9h-.9zM174.1 342.1h.9v.9h-.9zM179.3 348.2h.9v.9h-.9zM173.9 340.9h.9v.9h-.9zM178.8 345.8h.9v.9h-.9zM187.1 347.8h.9v.9h-.9zM182.0 345.4h.9v.9h-.9zM187.1 346.5h.9v.9h-.9zM176.2 340.7h.9v.9h-.9zM184.6 342.5h.9v.9h-.9zM179.0 341.3h.9v.9h-.9zM185.4 347.3h.9v.9h-.9zM175.4 343.2h.9v.9h-.9zM182.0 341.5h.9v.9h-.9zM186.5 343.3h.9v.9h-.9zM182.4 346.5h.9v.9h-.9zM182.9 340.1h.9v.9h-.9zM179.8 345.6h.9v.9h-.9zM168.7 343.9h.9v.9h-.9zM176.8 343.1h.9v.9h-.9zM177.4 344.5h.9v.9h-.9zM186.3 341.7h.9v.9h-.9zM182.1 340.8h.9v.9h-.9zM176.0 339.7h.9v.9h-.9zM186.3 344.4h.9v.9h-.9zM183.6 339.6h.9v.9h-.9zM172.8 341.9h.9v.9h-.9zM188.4 341.3h.9v.9h-.9zM183.5 345.9h.9v.9h-.9zM196.4 336.5h.9v.9h-.9zM187.1 342.5h.9v.9h-.9zM173.1 343.5h.9v.9h-.9zM187.6 344.1h.9v.9h-.9zM182.6 343.3h.9v.9h-.9zM179.3 345.8h.9v.9h-.9zM183.1 343.1h.9v.9h-.9zM184.9 342.3h.9v.9h-.9zM179.5 344.1h.9v.9h-.9zM176.5 344.3h.9v.9h-.9zM184.8 344.1h.9v.9h-.9zM183.4 344.5h.9v.9h-.9zM175.1 346.5h.9v.9h-.9zM188.4 347.2h.9v.9h-.9zM180.0 340.6h.9v.9h-.9zM191.5 341.4h.9v.9h-.9zM189.3 349.0h.9v.9h-.9zM180.6 342.5h.9v.9h-.9zM185.7 337.9h.9v.9h-.9zM175.9 343.1h.9v.9h-.9zM182.4 344.5h.9v.9h-.9zM171.3 346.6h.9v.9h-.9zM175.4 344.6h.9v.9h-.9zM181.1 345.1h.9v.9h-.9zM184.7 344.1h.9v.9h-.9zM186.0 346.4h.9v.9h-.9zM187.6 339.3h.9v.9h-.9zM186.9 343.7h.9v.9h-.9zM178.9 344.3h.9v.9h-.9zM180.9 344.1h.9v.9h-.9zM178.0 346.6h.9v.9h-.9zM181.6 340.3h.9v.9h-.9zM171.8 346.9h.9v.9h-.9zM177.0 345.7h.9v.9h-.9zM189.0 340.5h.9v.9h-.9zM182.3 343.1h.9v.9h-.9zM177.7 343.3h.9v.9h-.9zM185.0 337.8h.9v.9h-.9zM182.9 343.5h.9v.9h-.9zM181.1 341.9h.9v.9h-.9zM179.4 341.9h.9v.9h-.9zM175.9 338.4h.9v.9h-.9zM181.2 344.3h.9v.9h-.9zM182.0 347.1h.9v.9h-.9zM181.5 347.0h.9v.9h-.9zM189.4 346.7h.9v.9h-.9zM181.5 344.6h.9v.9h-.9zM183.1 345.9h.9v.9h-.9zM188.3 339.9h.9v.9h-.9zM186.0 342.2h.9v.9h-.9zM170.5 343.0h.9v.9h-.9zM181.0 343.6h.9v.9h-.9zM175.9 342.1h.9v.9h-.9zM177.2 343.2h.9v.9h-.9zM186.5 345.8h.9v.9h-.9zM190.0 340.1h.9v.9h-.9zM183.7 345.0h.9v.9h-.9zM168.9 343.3h.9v.9h-.9zM178.8 344.6h.9v.9h-.9zM179.7 344.0h.9v.9h-.9zM178.8 344.3h.9v.9h-.9zM190.0 342.6h.9v.9h-.9zM183.9 346.1h.9v.9h-.9zM185.1 346.3h.9v.9h-.9zM181.8 345.3h.9v.9h-.9zM186.2 341.4h.9v.9h-.9zM180.5 342.9h.9v.9h-.9zM174.3 344.1h.9v.9h-.9zM181.3 348.6h.9v.9h-.9zM177.6 345.5h.9v.9h-.9zM173.1 344.9h.9v.9h-.9zM170.8 346.6h.9v.9h-.9zM178.2 340.1h.9v.9h-.9zM179.9 345.1h.9v.9h-.9zM191.1 335.8h.9v.9h-.9zM178.0 342.2h.9v.9h-.9zM177.5 343.9h.9v.9h-.9zM180.9 339.6h.9v.9h-.9zM185.7 337.3h.9v.9h-.9zM174.5 339.7h.9v.9h-.9zM179.9 344.5h.9v.9h-.9zM188.1 344.4h.9v.9h-.9zM190.1 344.3h.9v.9h-.9zM177.2 343.0h.9v.9h-.9zM172.1 346.1h.9v.9h-.9zM180.5 344.8h.9v.9h-.9zM180.1 341.9h.9v.9h-.9zM187.1 343.4h.9v.9h-.9zM186.1 348.5h.9v.9h-.9zM181.6 342.1h.9v.9h-.9zM176.7 340.3h.9v.9h-.9zM183.1 339.9h.9v.9h-.9zM176.7 338.2h.9v.9h-.9zM176.2 339.9h.9v.9h-.9zM181.0 346.8h.9v.9h-.9zM191.9 345.1h.9v.9h-.9zM190.9 344.8h.9v.9h-.9zM189.2 345.5h.9v.9h-.9zM172.6 341.7h.9v.9h-.9zM184.6 342.4h.9v.9h-.9zM177.2 343.7h.9v.9h-.9zM183.9 347.2h.9v.9h-.9zM186.1 342.2h.9v.9h-.9zM185.1 339.8h.9v.9h-.9zM177.8 341.1h.9v.9h-.9zM175.9 347.3h.9v.9h-.9zM185.2 343.2h.9v.9h-.9zM188.1 340.1h.9v.9h-.9zM177.3 344.2h.9v.9h-.9zM176.7 345.4h.9v.9h-.9zM180.7 341.3h.9v.9h-.9zM178.3 341.7h.9v.9h-.9zM186.6 340.8h.9v.9h-.9zM187.0 339.1h.9v.9h-.9zM185.8 342.3h.9v.9h-.9zM178.1 345.3h.9v.9h-.9zM176.6 345.0h.9v.9h-.9zM179.6 343.2h.9v.9h-.9zM182.1 339.7h.9v.9h-.9zM186.0 343.7h.9v.9h-.9zM183.7 346.0h.9v.9h-.9zM179.6 346.2h.9v.9h-.9zM184.5 341.9h.9v.9h-.9zM185.7 341.0h.9v.9h-.9zM180.8 345.9h.9v.9h-.9zM176.3 343.7h.9v.9h-.9zM184.1 347.2h.9v.9h-.9zM186.7 345.8h.9v.9h-.9zM185.2 346.4h.9v.9h-.9zM176.0 343.6h.9v.9h-.9zM183.9 340.3h.9v.9h-.9zM182.1 344.6h.9v.9h-.9zM180.3 342.8h.9v.9h-.9zM180.8 345.1h.9v.9h-.9zM178.7 343.0h.9v.9h-.9zM178.0 345.1h.9v.9h-.9zM183.2 341.9h.9v.9h-.9zM181.6 343.7h.9v.9h-.9zM182.2 346.1h.9v.9h-.9zM175.4 347.2h.9v.9h-.9zM182.8 340.2h.9v.9h-.9zM190.1 344.3h.9v.9h-.9zM175.9 344.2h.9v.9h-.9zM182.1 344.1h.9v.9h-.9zM181.5 343.5h.9v.9h-.9zM183.1 344.0h.9v.9h-.9zM185.5 342.4h.9v.9h-.9zM178.4 344.9h.9v.9h-.9zM186.3 347.3h.9v.9h-.9zM185.2 339.3h.9v.9h-.9zM180.1 347.3h.9v.9h-.9zM185.1 340.1h.9v.9h-.9zM188.2 342.5h.9v.9h-.9zM189.3 341.1h.9v.9h-.9zM180.7 345.2h.9v.9h-.9zM186.3 342.9h.9v.9h-.9zM181.8 345.0h.9v.9h-.9zM177.7 338.4h.9v.9h-.9zM194.7 343.4h.9v.9h-.9zM187.6 345.7h.9v.9h-.9zM186.2 343.5h.9v.9h-.9zM180.6 340.8h.9v.9h-.9zM183.2 343.7h.9v.9h-.9zM179.7 347.7h.9v.9h-.9zM192.3 346.0h.9v.9h-.9zM179.2 346.7h.9v.9h-.9zM182.4 341.2h.9v.9h-.9zM186.8 343.5h.9v.9h-.9zM181.4 342.0h.9v.9h-.9zM187.0 343.1h.9v.9h-.9zM183.5 341.0h.9v.9h-.9zM181.7 341.7h.9v.9h-.9zM182.1 347.0h.9v.9h-.9zM171.4 340.3h.9v.9h-.9zM187.0 345.3h.9v.9h-.9zM185.2 343.1h.9v.9h-.9zM184.0 342.0h.9v.9h-.9zM182.9 345.4h.9v.9h-.9zM176.5 344.0h.9v.9h-.9zM182.3 347.0h.9v.9h-.9zM177.0 349.0h.9v.9h-.9zM178.8 345.3h.9v.9h-.9zM175.5 342.6h.9v.9h-.9zM179.8 341.9h.9v.9h-.9zM187.2 339.2h.9v.9h-.9zM184.1 343.7h.9v.9h-.9zM176.8 341.9h.9v.9h-.9zM177.1 349.2h.9v.9h-.9zM187.5 342.1h.9v.9h-.9zM180.4 341.8h.9v.9h-.9zM186.3 341.0h.9v.9h-.9zM190.5 343.2h.9v.9h-.9zM187.1 342.0h.9v.9h-.9zM176.0 338.9h.9v.9h-.9zM169.6 346.4h.9v.9h-.9zM190.2 344.7h.9v.9h-.9zM174.4 347.9h.9v.9h-.9zM174.1 345.3h.9v.9h-.9zM178.7 343.6h.9v.9h-.9zM179.8 346.0h.9v.9h-.9zM184.8 343.4h.9v.9h-.9zM178.0 346.5h.9v.9h-.9zM176.9 343.5h.9v.9h-.9zM186.1 344.2h.9v.9h-.9zM176.5 338.8h.9v.9h-.9zM196.1 342.5h.9v.9h-.9zM174.2 344.4h.9v.9h-.9zM182.0 343.9h.9v.9h-.9zM187.9 343.3h.9v.9h-.9zM181.8 346.6h.9v.9h-.9zM173.0 346.7h.9v.9h-.9zM181.5 340.2h.9v.9h-.9zM187.4 343.7h.9v.9h-.9zM177.8 344.8h.9v.9h-.9zM173.1 349.1h.9v.9h-.9zM181.4 344.3h.9v.9h-.9zM170.3 342.4h.9v.9h-.9zM184.2 343.3h.9v.9h-.9zM185.6 346.8h.9v.9h-.9zM182.5 337.2h.9v.9h-.9zM175.6 346.1h.9v.9h-.9zM187.5 346.6h.9v.9h-.9zM189.0 343.1h.9v.9h-.9zM188.0 346.5h.9v.9h-.9zM179.6 341.6h.9v.9h-.9zM184.5 340.7h.9v.9h-.9zM178.0 339.3h.9v.9h-.9zM188.3 343.0h.9v.9h-.9zM179.4 344.6h.9v.9h-.9zM175.3 343.9h.9v.9h-.9zM180.6 339.9h.9v.9h-.9zM184.7 343.6h.9v.9h-.9zM181.2 345.0h.9v.9h-.9zM180.8 344.7h.9v.9h-.9zM176.6 347.3h.9v.9h-.9zM182.1 340.7h.9v.9h-.9zM181.2 344.5h.9v.9h-.9zM182.1 343.1h.9v.9h-.9zM180.8 343.7h.9v.9h-.9zM181.2 342.0h.9v.9h-.9zM177.2 343.6h.9v.9h-.9zM191.3 339.9h.9v.9h-.9zM173.0 341.9h.9v.9h-.9zM182.9 346.0h.9v.9h-.9zM187.8 342.0h.9v.9h-.9zM172.4 342.7h.9v.9h-.9zM172.6 344.5h.9v.9h-.9zM185.5 344.9h.9v.9h-.9zM195.3 346.7h.9v.9h-.9zM187.3 341.4h.9v.9h-.9zM179.5 342.9h.9v.9h-.9zM178.7 340.1h.9v.9h-.9zM178.5 344.7h.9v.9h-.9zM174.7 343.7h.9v.9h-.9zM178.1 344.0h.9v.9h-.9zM186.3 340.7h.9v.9h-.9zM179.8 345.3h.9v.9h-.9zM183.5 340.4h.9v.9h-.9zM185.8 340.2h.9v.9h-.9zM178.0 342.1h.9v.9h-.9zM179.5 341.1h.9v.9h-.9zM182.5 344.9h.9v.9h-.9zM177.2 343.8h.9v.9h-.9zM182.0 341.5h.9v.9h-.9zM184.9 346.1h.9v.9h-.9zM181.7 345.2h.9v.9h-.9zM172.7 342.8h.9v.9h-.9zM183.0 341.4h.9v.9h-.9zM180.5 340.7h.9v.9h-.9zM181.4 344.1h.9v.9h-.9zM175.3 343.3h.9v.9h-.9zM181.8 344.2h.9v.9h-.9zM180.9 344.4h.9v.9h-.9zM178.4 344.1h.9v.9h-.9zM177.4 341.6h.9v.9h-.9zM180.6 344.3h.9v.9h-.9zM171.4 343.3h.9v.9h-.9zM182.8 337.7h.9v.9h-.9zM178.8 342.1h.9v.9h-.9zM186.9 346.3h.9v.9h-.9zM171.7 344.4h.9v.9h-.9zM178.9 342.2h.9v.9h-.9zM183.0 342.0h.9v.9h-.9zM182.8 344.4h.9v.9h-.9zM179.1 342.4h.9v.9h-.9zM186.5 339.4h.9v.9h-.9zM178.9 339.9h.9v.9h-.9zM184.1 349.5h.9v.9h-.9zM181.2 342.6h.9v.9h-.9zM180.1 343.5h.9v.9h-.9zM177.3 343.9h.9v.9h-.9zM177.8 344.3h.9v.9h-.9zM178.5 345.2h.9v.9h-.9zM183.1 343.6h.9v.9h-.9zM178.3 342.4h.9v.9h-.9zM175.9 342.9h.9v.9h-.9zM184.5 343.2h.9v.9h-.9zM182.1 347.7h.9v.9h-.9zM184.3 347.9h.9v.9h-.9zM181.8 345.3h.9v.9h-.9zM190.2 347.9h.9v.9h-.9zM185.3 342.1h.9v.9h-.9zM183.0 341.4h.9v.9h-.9zM184.0 337.6h.9v.9h-.9zM186.6 345.6h.9v.9h-.9zM182.2 344.5h.9v.9h-.9zM185.2 340.2h.9v.9h-.9zM180.4 344.8h.9v.9h-.9zM189.6 342.6h.9v.9h-.9zM180.6 344.0h.9v.9h-.9zM164.4 346.0h.9v.9h-.9zM184.9 345.1h.9v.9h-.9zM179.7 343.3h.9v.9h-.9zM180.6 342.3h.9v.9h-.9zM185.1 346.0h.9v.9h-.9zM166.9 340.5h.9v.9h-.9zM172.0 344.3h.9v.9h-.9zM180.6 345.8h.9v.9h-.9z"/>
<path fill="#000" fill-opacity="0.7" d="M186.0 345.0h.9v.9h-.9zM176.4 344.6h.9v.9h-.9zM183.2 343.3h.9v.9h-.9zM180.6 342.5h.9v.9h-.9zM180.7 344.3h.9v.9h-.9zM184.4 341.4h.9v.9h-.9zM182.2 344.0h.9v.9h-.9zM172.7 341.8h.9v.9h-.9zM183.8 345.6h.9v.9h-.9zM177.9 343.7h.9v.9h-.9zM183.2 345.3h.9v.9h-.9zM179.5 341.6h.9v.9h-.9zM179.0 343.5h.9v.9h-.9zM181.4 342.3h.9v.9h-.9zM183.2 343.2h.9v.9h-.9zM178.2 341.4h.9v.9h-.9zM185.5 345.2h.9v.9h-.9zM179.5 342.0h.9v.9h-.9zM182.8 344.3h.9v.9h-.9zM187.2 344.5h.9v.9h-.9zM180.2 346.0h.9v.9h-.9zM182.3 344.6h.9v.9h-.9zM183.7 340.5h.9v.9h-.9zM184.3 342.1h.9v.9h-.9zM184.7 341.3h.9v.9h-.9zM181.9 341.2h.9v.9h-.9zM181.7 341.6h.9v.9h-.9zM182.2 344.8h.9v.9h-.9zM179.9 344.7h.9v.9h-.9zM175.6 344.0h.9v.9h-.9zM182.5 341.5h.9v.9h-.9zM181.6 342.5h.9v.9h-.9zM190.2 344.6h.9v.9h-.9zM180.0 344.0h.9v.9h-.9zM177.5 341.4h.9v.9h-.9zM179.4 343.7h.9v.9h-.9zM179.7 343.6h.9v.9h-.9zM183.1 346.3h.9v.9h-.9zM179.9 343.0h.9v.9h-.9zM183.3 338.7h.9v.9h-.9zM179.6 344.1h.9v.9h-.9zM179.8 345.5h.9v.9h-.9zM182.0 340.6h.9v.9h-.9zM181.8 345.1h.9v.9h-.9zM176.8 345.6h.9v.9h-.9zM182.9 343.9h.9v.9h-.9zM180.7 342.5h.9v.9h-.9zM187.8 343.6h.9v.9h-.9zM180.8 343.0h.9v.9h-.9zM182.5 344.0h.9v.9h-.9zM178.3 345.8h.9v.9h-.9zM183.2 343.9h.9v.9h-.9zM179.6 342.7h.9v.9h-.9zM182.0 344.9h.9v.9h-.9zM184.3 343.0h.9v.9h-.9zM177.0 340.7h.9v.9h-.9zM174.6 344.1h.9v.9h-.9zM180.5 347.0h.9v.9h-.9zM181.8 342.8h.9v.9h-.9zM183.2 343.9h.9v.9h-.9zM185.6 341.0h.9v.9h-.9zM180.0 343.3h.9v.9h-.9zM180.3 343.0h.9v.9h-.9zM178.1 344.0h.9v.9h-.9zM182.9 343.6h.9v.9h-.9zM185.1 343.2h.9v.9h-.9zM181.2 345.0h.9v.9h-.9zM184.4 342.4h.9v.9h-.9zM179.7 341.7h.9v.9h-.9zM179.9 345.5h.9v.9h-.9zM185.7 344.6h.9v.9h-.9zM185.5 341.9h.9v.9h-.9zM181.8 341.4h.9v.9h-.9zM178.1 341.5h.9v.9h-.9zM182.2 347.6h.9v.9h-.9zM177.5 344.9h.9v.9h-.9zM183.1 344.1h.9v.9h-.9zM180.1 344.9h.9v.9h-.9zM178.3 344.6h.9v.9h-.9zM181.1 348.0h.9v.9h-.9zM189.5 344.7h.9v.9h-.9zM183.1 344.5h.9v.9h-.9zM183.2 343.1h.9v.9h-.9zM177.5 345.3h.9v.9h-.9zM183.5 344.3h.9v.9h-.9zM176.2 343.9h.9v.9h-.9zM179.4 338.7h.9v.9h-.9zM182.2 343.2h.9v.9h-.9zM188.4 342.0h.9v.9h-.9zM179.0 344.9h.9v.9h-.9zM183.1 339.9h.9v.9h-.9zM180.5 342.5h.9v.9h-.9zM175.2 341.5h.9v.9h-.9zM183.4 343.6h.9v.9h-.9zM189.3 343.9h.9v.9h-.9zM184.0 344.3h.9v.9h-.9zM178.8 342.5h.9v.9h-.9zM181.1 343.0h.9v.9h-.9zM183.1 341.3h.9v.9h-.9zM178.1 343.9h.9v.9h-.9zM182.0 342.4h.9v.9h-.9zM179.4 345.7h.9v.9h-.9zM181.4 347.4h.9v.9h-.9zM180.0 340.7h.9v.9h-.9zM181.6 343.4h.9v.9h-.9zM182.6 341.3h.9v.9h-.9zM179.0 341.4h.9v.9h-.9zM186.5 343.8h.9v.9h-.9zM177.9 344.4h.9v.9h-.9zM183.1 343.0h.9v.9h-.9zM187.9 345.1h.9v.9h-.9zM186.3 343.6h.9v.9h-.9zM180.9 342.5h.9v.9h-.9zM183.2 346.6h.9v.9h-.9zM178.5 344.6h.9v.9h-.9zM182.8 343.6h.9v.9h-.9zM178.3 345.0h.9v.9h-.9zM185.4 345.1h.9v.9h-.9zM182.7 343.3h.9v.9h-.9zM179.4 345.5h.9v.9h-.9zM184.1 340.7h.9v.9h-.9zM179.6 341.3h.9v.9h-.9zM182.3 343.8h.9v.9h-.9zM178.8 341.2h.9v.9h-.9zM179.6 346.4h.9v.9h-.9zM184.4 343.5h.9v.9h-.9zM187.8 345.3h.9v.9h-.9zM187.1 343.7h.9v.9h-.9zM185.1 342.7h.9v.9h-.9zM182.1 343.1h.9v.9h-.9zM184.4 345.1h.9v.9h-.9zM181.2 343.0h.9v.9h-.9zM181.3 340.0h.9v.9h-.9zM180.8 346.1h.9v.9h-.9zM184.6 342.9h.9v.9h-.9zM182.6 343.0h.9v.9h-.9zM177.0 343.2h.9v.9h-.9zM182.5 341.8h.9v.9h-.9zM185.7 338.8h.9v.9h-.9zM183.3 342.5h.9v.9h-.9zM179.5 342.3h.9v.9h-.9zM181.6 343.8h.9v.9h-.9zM181.6 343.8h.9v.9h-.9zM184.5 342.7h.9v.9h-.9zM183.5 342.1h.9v.9h-.9zM180.6 346.5h.9v.9h-.9zM184.5 344.3h.9v.9h-.9zM175.5 343.5h.9v.9h-.9zM175.4 340.9h.9v.9h-.9zM184.0 342.4h.9v.9h-.9zM175.2 343.5h.9v.9h-.9zM186.5 341.5h.9v.9h-.9zM182.4 342.1h.9v.9h-.9zM182.0 341.6h.9v.9h-.9zM185.6 343.0h.9v.9h-.9zM188.1 344.0h.9v.9h-.9zM181.8 343.1h.9v.9h-.9zM183.0 343.0h.9v.9h-.9zM178.4 344.1h.9v.9h-.9zM177.4 345.0h.9v.9h-.9zM177.3 338.2h.9v.9h-.9zM186.0 341.6h.9v.9h-.9zM180.2 342.9h.9v.9h-.9zM186.7 344.0h.9v.9h-.9zM177.8 339.4h.9v.9h-.9zM178.6 342.7h.9v.9h-.9zM182.1 345.7h.9v.9h-.9zM184.9 343.4h.9v.9h-.9zM178.5 343.7h.9v.9h-.9zM179.8 345.1h.9v.9h-.9zM179.1 344.6h.9v.9h-.9zM187.5 342.1h.9v.9h-.9zM182.8 343.8h.9v.9h-.9zM183.0 342.1h.9v.9h-.9zM179.1 344.3h.9v.9h-.9zM180.9 344.7h.9v.9h-.9zM178.9 345.2h.9v.9h-.9zM189.0 344.2h.9v.9h-.9zM180.9 338.8h.9v.9h-.9zM174.5 343.3h.9v.9h-.9zM177.3 342.0h.9v.9h-.9zM173.8 344.8h.9v.9h-.9zM176.9 345.5h.9v.9h-.9zM175.3 344.0h.9v.9h-.9zM185.1 342.6h.9v.9h-.9zM180.3 344.3h.9v.9h-.9zM177.1 345.0h.9v.9h-.9zM188.0 345.6h.9v.9h-.9zM179.7 345.4h.9v.9h-.9zM187.1 343.1h.9v.9h-.9zM180.5 343.8h.9v.9h-.9zM181.5 343.6h.9v.9h-.9zM183.4 345.7h.9v.9h-.9zM186.7 340.8h.9v.9h-.9zM181.4 340.7h.9v.9h-.9zM186.7 345.5h.9v.9h-.9zM178.6 345.5h.9v.9h-.9zM188.8 344.7h.9v.9h-.9zM182.7 343.3h.9v.9h-.9zM181.9 345.2h.9v.9h-.9zM180.8 343.4h.9v.9h-.9zM182.4 342.3h.9v.9h-.9zM183.5 344.7h.9v.9h-.9zM182.2 341.5h.9v.9h-.9zM176.8 344.1h.9v.9h-.9zM188.0 343.0h.9v.9h-.9zM179.4 343.7h.9v.9h-.9zM178.5 346.7h.9v.9h-.9zM178.1 341.0h.9v.9h-.9zM183.8 344.1h.9v.9h-.9zM178.8 345.6h.9v.9h-.9zM180.5 345.1h.9v.9h-.9zM186.7 344.2h.9v.9h-.9zM184.4 341.9h.9v.9h-.9zM181.4 345.9h.9v.9h-.9zM178.0 342.8h.9v.9h-.9zM181.2 347.0h.9v.9h-.9zM183.1 343.5h.9v.9h-.9zM178.1 345.3h.9v.9h-.9zM179.0 345.1h.9v.9h-.9zM183.4 342.6h.9v.9h-.9zM180.5 343.4h.9v.9h-.9zM186.3 345.6h.9v.9h-.9zM177.0 342.8h.9v.9h-.9zM179.6 345.0h.9v.9h-.9zM178.7 343.1h.9v.9h-.9zM182.4 344.7h.9v.9h-.9zM179.1 343.8h.9v.9h-.9zM184.6 344.0h.9v.9h-.9zM187.7 345.9h.9v.9h-.9zM181.3 342.0h.9v.9h-.9zM182.9 341.8h.9v.9h-.9zM179.6 340.2h.9v.9h-.9zM185.2 349.0h.9v.9h-.9zM178.7 342.7h.9v.9h-.9zM181.0 345.6h.9v.9h-.9zM183.0 342.9h.9v.9h-.9zM178.1 342.6h.9v.9h-.9zM183.8 342.1h.9v.9h-.9zM180.8 347.2h.9v.9h-.9zM182.6 342.1h.9v.9h-.9zM180.3 341.7h.9v.9h-.9zM177.4 344.2h.9v.9h-.9zM183.7 344.6h.9v.9h-.9zM182.1 344.2h.9v.9h-.9zM182.0 341.7h.9v.9h-.9zM180.3 343.7h.9v.9h-.9zM183.3 345.0h.9v.9h-.9zM180.1 342.2h.9v.9h-.9zM182.1 346.4h.9v.9h-.9zM186.9 342.6h.9v.9h-.9zM180.3 344.4h.9v.9h-.9zM183.0 343.9h.9v.9h-.9zM180.1 342.9h.9v.9h-.9zM182.5 345.4h.9v.9h-.9zM180.8 341.0h.9v.9h-.9zM184.1 343.4h.9v.9h-.9zM179.5 341.3h.9v.9h-.9zM180.3 344.3h.9v.9h-.9zM186.8 340.2h.9v.9h-.9zM182.1 344.7h.9v.9h-.9zM187.4 342.4h.9v.9h-.9zM180.9 345.2h.9v.9h-.9zM177.9 342.8h.9v.9h-.9zM181.3 346.4h.9v.9h-.9zM182.8 343.1h.9v.9h-.9zM180.8 342.9h.9v.9h-.9zM176.9 342.4h.9v.9h-.9zM175.9 342.7h.9v.9h-.9zM187.4 340.9h.9v.9h-.9zM178.8 343.8h.9v.9h-.9zM183.0 340.3h.9v.9h-.9zM184.6 343.3h.9v.9h-.9zM184.4 342.5h.9v.9h-.9zM170.9 342.8h.9v.9h-.9zM176.1 341.9h.9v.9h-.9zM176.9 342.9h.9v.9h-.9zM183.3 343.2h.9v.9h-.9zM179.7 343.8h.9v.9h-.9zM177.0 346.1h.9v.9h-.9zM183.3 342.9h.9v.9h-.9zM183.8 344.8h.9v.9h-.9zM181.5 345.0h.9v.9h-.9zM176.8 344.9h.9v.9h-.9zM182.4 343.1h.9v.9h-.9zM178.3 347.1h.9v.9h-.9zM180.8 340.9h.9v.9h-.9zM182.2 342.4h.9v.9h-.9zM182.0 344.0h.9v.9h-.9zM180.6 342.3h.9v.9h-.9zM181.0 343.7h.9v.9h-.9zM183.5 344.6h.9v.9h-.9zM181.7 343.4h.9v.9h-.9zM173.0 342.9h.9v.9h-.9zM178.7 344.3h.9v.9h-.9zM181.4 342.8h.9v.9h-.9zM184.8 342.5h.9v.9h-.9zM179.6 340.4h.9v.9h-.9zM179.3 344.6h.9v.9h-.9zM182.8 346.5h.9v.9h-.9zM177.8 341.7h.9v.9h-.9zM183.5 342.3h.9v.9h-.9zM179.2 345.8h.9v.9h-.9zM182.0 341.2h.9v.9h-.9zM182.5 341.7h.9v.9h-.9zM182.7 344.3h.9v.9h-.9zM185.1 343.5h.9v.9h-.9zM180.6 344.6h.9v.9h-.9zM178.8 340.9h.9v.9h-.9zM181.4 344.8h.9v.9h-.9zM188.5 342.2h.9v.9h-.9zM185.0 345.5h.9v.9h-.9zM178.2 344.9h.9v.9h-.9zM177.3 342.5h.9v.9h-.9zM180.8 345.5h.9v.9h-.9zM176.6 343.1h.9v.9h-.9zM177.1 341.7h.9v.9h-.9zM185.1 342.7h.9v.9h-.9zM184.9 341.0h.9v.9h-.9zM184.6 343.0h.9v.9h-.9zM186.9 341.7h.9v.9h-.9zM174.7 345.6h.9v.9h-.9zM182.0 341.6h.9v.9h-.9zM179.3 345.7h.9v.9h-.9zM184.9 344.8h.9v.9h-.9zM178.1 340.5h.9v.9h-.9zM182.9 343.2h.9v.9h-.9zM184.3 343.0h.9v.9h-.9zM184.8 342.4h.9v.9h-.9zM186.8 343.1h.9v.9h-.9zM186.5 347.1h.9v.9h-.9zM181.9 343.2h.9v.9h-.9zM176.4 341.3h.9v.9h-.9zM182.9 341.8h.9v.9h-.9zM186.5 342.5h.9v.9h-.9zM185.4 347.5h.9v.9h-.9zM174.8 342.6h.9v.9h-.9zM178.4 346.1h.9v.9h-.9zM183.6 340.9h.9v.9h-.9zM183.4 342.6h.9v.9h-.9zM181.9 342.7h.9v.9h-.9zM181.9 342.7h.9v.9h-.9zM178.9 343.9h.9v.9h-.9zM183.2 344.2h.9v.9h-.9zM187.4 343.2h.9v.9h-.9zM181.8 341.0h.9v.9h-.9zM175.9 343.8h.9v.9h-.9zM179.2 343.4h.9v.9h-.9zM183.3 344.6h.9v.9h-.9zM183.4 341.8h.9v.9h-.9zM179.0 345.7h.9v.9h-.9zM178.7 344.0h.9v.9h-.9zM182.1 341.2h.9v.9h-.9zM182.5 344.9h.9v.9h-.9zM182.1 341.7h.9v.9h-.9zM181.5 342.2h.9v.9h-.9zM181.4 342.9h.9v.9h-.9zM179.2 344.0h.9v.9h-.9zM175.2 347.6h.9v.9h-.9zM177.3 343.0h.9v.9h-.9zM180.2 344.4h.9v.9h-.9zM184.1 344.3h.9v.9h-.9zM178.5 343.0h.9v.9h-.9zM188.4 340.7h.9v.9h-.9zM181.0 343.5h.9v.9h-.9zM178.8 339.8h.9v.9h-.9zM184.0 344.1h.9v.9h-.9zM185.6 340.9h.9v.9h-.9zM186.5 344.0h.9v.9h-.9zM184.4 345.3h.9v.9h-.9zM183.4 342.1h.9v.9h-.9zM180.4 344.5h.9v.9h-.9zM182.2 345.5h.9v.9h-.9zM182.6 341.5h.9v.9h-.9zM179.2 339.7h.9v.9h-.9zM183.0 342.3h.9v.9h-.9zM175.4 344.0h.9v.9h-.9zM179.3 341.6h.9v.9h-.9zM180.0 343.4h.9v.9h-.9zM181.7 343.9h.9v.9h-.9zM183.0 344.7h.9v.9h-.9zM182.8 345.6h.9v.9h-.9zM182.5 344.2h.9v.9h-.9zM176.7 342.0h.9v.9h-.9zM188.8 342.9h.9v.9h-.9zM179.9 340.6h.9v.9h-.9zM185.6 344.7h.9v.9h-.9zM182.4 347.2h.9v.9h-.9zM182.0 341.0h.9v.9h-.9zM180.7 344.4h.9v.9h-.9zM181.3 344.8h.9v.9h-.9zM176.1 348.9h.9v.9h-.9zM180.3 347.2h.9v.9h-.9zM188.9 342.8h.9v.9h-.9zM183.8 345.3h.9v.9h-.9zM179.5 344.9h.9v.9h-.9zM180.1 340.3h.9v.9h-.9zM179.9 343.8h.9v.9h-.9zM180.9 343.0h.9v.9h-.9zM185.9 346.5h.9v.9h-.9zM183.1 343.1h.9v.9h-.9zM179.7 344.4h.9v.9h-.9zM174.2 346.2h.9v.9h-.9zM187.1 345.3h.9v.9h-.9zM185.2 341.3h.9v.9h-.9zM181.4 343.5h.9v.9h-.9zM182.7 344.2h.9v.9h-.9zM180.2 344.5h.9v.9h-.9zM179.2 343.1h.9v.9h-.9zM189.7 345.3h.9v.9h-.9zM173.6 342.2h.9v.9h-.9zM180.5 342.7h.9v.9h-.9zM182.9 346.1h.9v.9h-.9zM183.3 343.0h.9v.9h-.9zM181.6 341.0h.9v.9h-.9zM180.7 346.1h.9v.9h-.9zM182.6 341.2h.9v.9h-.9zM177.8 342.3h.9v.9h-.9zM177.8 344.0h.9v.9h-.9zM183.5 345.0h.9v.9h-.9zM178.9 344.9h.9v.9h-.9zM183.9 345.3h.9v.9h-.9zM185.3 344.9h.9v.9h-.9zM186.3 344.6h.9v.9h-.9zM185.4 343.6h.9v.9h-.9zM178.1 343.0h.9v.9h-.9zM181.7 342.5h.9v.9h-.9zM181.5 347.6h.9v.9h-.9zM185.1 345.2h.9v.9h-.9zM180.5 344.0h.9v.9h-.9zM186.0 345.7h.9v.9h-.9zM182.1 344.5h.9v.9h-.9zM186.0 344.6h.9v.9h-.9zM182.0 344.0h.9v.9h-.9zM181.9 344.6h.9v.9h-.9zM178.0 343.9h.9v.9h-.9zM180.3 341.2h.9v.9h-.9zM186.8 344.0h.9v.9h-.9zM186.6 344.7h.9v.9h-.9zM173.7 343.6h.9v.9h-.9zM189.4 343.1h.9v.9h-.9zM187.3 344.0h.9v.9h-.9zM179.1 343.5h.9v.9h-.9zM184.0 341.6h.9v.9h-.9zM184.7 343.5h.9v.9h-.9zM173.1 342.2h.9v.9h-.9zM181.0 341.3h.9v.9h-.9zM182.0 344.3h.9v.9h-.9zM180.9 344.0h.9v.9h-.9zM176.9 345.1h.9v.9h-.9zM181.1 343.1h.9v.9h-.9zM183.3 344.4h.9v.9h-.9zM182.9 343.8h.9v.9h-.9zM177.8 344.6h.9v.9h-.9zM189.3 342.1h.9v.9h-.9zM177.9 345.2h.9v.9h-.9zM179.4 342.3h.9v.9h-.9zM183.3 340.0h.9v.9h-.9zM179.8 343.4h.9v.9h-.9zM179.6 340.9h.9v.9h-.9zM179.7 345.3h.9v.9h-.9zM181.1 341.3h.9v.9h-.9zM189.5 343.7h.9v.9h-.9zM180.5 340.6h.9v.9h-.9zM179.6 344.2h.9v.9h-.9zM177.6 346.1h.9v.9h-.9zM182.2 342.9h.9v.9h-.9zM183.4 345.7h.9v.9h-.9zM178.6 343.2h.9v.9h-.9zM179.9 341.5h.9v.9h-.9zM182.7 343.0h.9v.9h-.9zM179.5 342.1h.9v.9h-.9zM178.7 344.6h.9v.9h-.9zM183.9 344.5h.9v.9h-.9zM185.8 346.6h.9v.9h-.9zM180.3 342.1h.9v.9h-.9zM174.7 343.3h.9v.9h-.9zM182.9 342.5h.9v.9h-.9zM176.3 342.1h.9v.9h-.9zM187.7 342.9h.9v.9h-.9zM182.4 344.5h.9v.9h-.9zM183.6 344.7h.9v.9h-.9zM182.4 345.4h.9v.9h-.9zM184.8 342.9h.9v.9h-.9zM183.8 343.3h.9v.9h-.9zM182.9 342.8h.9v.9h-.9zM182.2 337.4h.9v.9h-.9zM176.3 343.6h.9v.9h-.9zM183.7 343.6h.9v.9h-.9zM180.5 342.5h.9v.9h-.9zM182.3 343.8h.9v.9h-.9zM184.7 345.5h.9v.9h-.9zM178.6 341.3h.9v.9h-.9zM178.8 344.2h.9v.9h-.9zM184.2 342.3h.9v.9h-.9zM179.0 343.2h.9v.9h-.9zM179.8 343.2h.9v.9h-.9zM180.0 343.0h.9v.9h-.9zM183.5 346.2h.9v.9h-.9zM180.5 343.3h.9v.9h-.9zM182.1 343.1h.9v.9h-.9zM186.0 341.6h.9v.9h-.9zM183.3 346.4h.9v.9h-.9zM183.1 344.3h.9v.9h-.9zM181.3 343.6h.9v.9h-.9zM180.1 342.0h.9v.9h-.9zM176.4 342.9h.9v.9h-.9zM180.7 346.5h.9v.9h-.9zM185.1 342.0h.9v.9h-.9zM187.6 341.7h.9v.9h-.9zM179.5 346.0h.9v.9h-.9zM181.5 341.7h.9v.9h-.9zM183.1 344.8h.9v.9h-.9zM182.5 347.0h.9v.9h-.9zM180.1 341.3h.9v.9h-.9zM173.5 341.7h.9v.9h-.9zM179.9 345.8h.9v.9h-.9zM179.1 345.9h.9v.9h-.9zM180.3 347.2h.9v.9h-.9zM180.9 344.0h.9v.9h-.9zM179.0 343.9h.9v.9h-.9zM182.1 341.5h.9v.9h-.9zM179.2 343.1h.9v.9h-.9zM176.6 343.5h.9v.9h-.9zM182.6 344.1h.9v.9h-.9zM181.1 342.0h.9v.9h-.9zM182.7 343.1h.9v.9h-.9zM184.8 345.3h.9v.9h-.9zM176.3 346.4h.9v.9h-.9zM180.5 344.6h.9v.9h-.9zM177.1 345.0h.9v.9h-.9zM182.1 346.3h.9v.9h-.9zM176.9 340.0h.9v.9h-.9zM172.5 347.0h.9v.9h-.9zM185.7 343.5h.9v.9h-.9zM177.7 340.5h.9v.9h-.9zM179.5 344.1h.9v.9h-.9zM182.6 344.8h.9v.9h-.9zM184.3 342.5h.9v.9h-.9zM181.8 345.7h.9v.9h-.9zM180.1 345.2h.9v.9h-.9zM187.8 347.7h.9v.9h-.9zM180.4 343.5h.9v.9h-.9zM178.4 343.6h.9v.9h-.9zM182.2 342.7h.9v.9h-.9zM179.2 341.7h.9v.9h-.9zM182.4 344.2h.9v.9h-.9zM178.3 347.5h.9v.9h-.9zM182.8 342.4h.9v.9h-.9zM175.8 342.1h.9v.9h-.9zM181.9 343.8h.9v.9h-.9zM183.7 342.3h.9v.9h-.9zM182.0 344.5h.9v.9h-.9zM181.3 343.1h.9v.9h-.9zM188.9 342.6h.9v.9h-.9zM181.6 342.6h.9v.9h-.9zM178.8 343.6h.9v.9h-.9zM181.5 346.1h.9v.9h-.9zM185.9 340.0h.9v.9h-.9zM179.8 346.9h.9v.9h-.9zM175.7 344.2h.9v.9h-.9zM180.3 346.1h.9v.9h-.9zM177.2 345.2h.9v.9h-.9zM180.4 344.6h.9v.9h-.9zM176.0 342.0h.9v.9h-.9zM186.4 342.0h.9v.9h-.9zM181.1 345.0h.9v.9h-.9zM183.4 344.5h.9v.9h-.9zM181.4 347.3h.9v.9h-.9zM184.0 337.7h.9v.9h-.9zM180.4 342.4h.9v.9h-.9zM179.9 338.8h.9v.9h-.9zM178.2 347.1h.9v.9h-.9zM179.3 342.2h.9v.9h-.9zM184.1 340.8h.9v.9h-.9zM184.6 344.7h.9v.9h-.9zM179.5 344.8h.9v.9h-.9zM176.1 341.2h.9v.9h-.9zM184.3 342.2h.9v.9h-.9zM178.3 343.1h.9v.9h-.9zM178.9 346.3h.9v.9h-.9zM180.4 342.1h.9v.9h-.9zM184.5 343.4h.9v.9h-.9zM182.5 345.3h.9v.9h-.9zM180.4 343.7h.9v.9h-.9zM176.3 342.8h.9v.9h-.9zM181.4 343.7h.9v.9h-.9zM185.2 345.9h.9v.9h-.9zM181.9 343.5h.9v.9h-.9zM183.7 345.3h.9v.9h-.9zM181.7 341.7h.9v.9h-.9zM180.6 342.9h.9v.9h-.9zM181.9 342.3h.9v.9h-.9zM181.4 345.3h.9v.9h-.9zM189.5 341.5h.9v.9h-.9zM182.2 340.4h.9v.9h-.9zM181.2 344.3h.9v.9h-.9zM181.5 345.5h.9v.9h-.9zM182.3 347.3h.9v.9h-.9zM182.4 340.5h.9v.9h-.9zM184.3 341.2h.9v.9h-.9zM184.2 345.8h.9v.9h-.9zM182.4 344.6h.9v.9h-.9zM174.8 342.6h.9v.9h-.9zM184.3 344.0h.9v.9h-.9zM182.4 345.5h.9v.9h-.9zM186.3 344.6h.9v.9h-.9zM173.6 340.2h.9v.9h-.9zM184.2 343.4h.9v.9h-.9zM173.9 343.8h.9v.9h-.9zM181.7 345.5h.9v.9h-.9zM180.4 345.7h.9v.9h-.9zM184.4 343.7h.9v.9h-.9zM174.6 344.5h.9v.9h-.9zM184.0 342.8h.9v.9h-.9zM175.9 341.9h.9v.9h-.9zM179.9 343.9h.9v.9h-.9zM179.3 340.9h.9v.9h-.9zM183.3 339.7h.9v.9h-.9zM179.9 341.0h.9v.9h-.9zM181.8 344.6h.9v.9h-.9zM179.0 343.6h.9v.9h-.9zM179.8 343.3h.9v.9h-.9zM178.7 346.3h.9v.9h-.9zM182.7 344.1h.9v.9h-.9zM179.2 342.9h.9v.9h-.9zM178.0 345.7h.9v.9h-.9zM183.6 343.5h.9v.9h-.9zM182.8 340.5h.9v.9h-.9zM186.7 342.3h.9v.9h-.9zM181.2 342.5h.9v.9h-.9zM184.0 344.0h.9v.9h-.9zM179.3 343.3h.9v.9h-.9zM184.7 344.4h.9v.9h-.9zM186.4 343.5h.9v.9h-.9zM186.3 343.0h.9v.9h-.9zM175.5 342.9h.9v.9h-.9zM177.5 343.1h.9v.9h-.9zM174.8 342.7h.9v.9h-.9zM184.9 340.8h.9v.9h-.9zM185.6 342.0h.9v.9h-.9zM180.2 344.4h.9v.9h-.9zM178.5 341.4h.9v.9h-.9zM179.3 345.9h.9v.9h-.9zM178.3 344.1h.9v.9h-.9zM179.4 343.1h.9v.9h-.9zM178.7 340.6h.9v.9h-.9zM183.9 343.1h.9v.9h-.9zM188.3 342.9h.9v.9h-.9zM181.0 344.4h.9v.9h-.9zM184.2 345.6h.9v.9h-.9zM186.6 345.3h.9v.9h-.9zM186.2 344.8h.9v.9h-.9zM180.8 345.1h.9v.9h-.9zM183.2 346.7h.9v.9h-.9zM186.0 344.8h.9v.9h-.9zM185.3 344.6h.9v.9h-.9zM186.2 342.5h.9v.9h-.9zM179.3 343.7h.9v.9h-.9zM181.5 344.6h.9v.9h-.9zM184.5 340.4h.9v.9h-.9zM180.9 347.0h.9v.9h-.9zM188.4 343.2h.9v.9h-.9zM189.9 344.7h.9v.9h-.9zM178.7 339.5h.9v.9h-.9zM179.4 343.7h.9v.9h-.9zM181.2 341.4h.9v.9h-.9zM182.6 343.3h.9v.9h-.9zM185.3 341.4h.9v.9h-.9zM187.8 341.5h.9v.9h-.9zM179.0 340.4h.9v.9h-.9zM181.2 345.8h.9v.9h-.9zM184.3 342.1h.9v.9h-.9zM179.7 341.5h.9v.9h-.9zM183.3 340.7h.9v.9h-.9zM176.8 343.2h.9v.9h-.9zM182.7 346.3h.9v.9h-.9zM181.1 343.3h.9v.9h-.9zM183.0 341.8h.9v.9h-.9zM177.8 343.2h.9v.9h-.9zM178.8 342.2h.9v.9h-.9zM179.6 343.0h.9v.9h-.9zM176.8 342.1h.9v.9h-.9zM175.1 346.0h.9v.9h-.9zM177.6 347.4h.9v.9h-.9zM183.3 342.8h.9v.9h-.9zM180.7 341.8h.9v.9h-.9zM182.3 343.9h.9v.9h-.9zM181.2 343.7h.9v.9h-.9zM187.3 345.3h.9v.9h-.9zM179.9 342.5h.9v.9h-.9zM181.0 343.2h.9v.9h-.9zM184.2 343.5h.9v.9h-.9zM181.8 343.2h.9v.9h-.9zM182.4 344.2h.9v.9h-.9zM183.2 344.4h.9v.9h-.9zM178.2 344.3h.9v.9h-.9zM177.4 340.2h.9v.9h-.9zM179.3 344.5h.9v.9h-.9zM184.5 343.8h.9v.9h-.9zM190.0 340.0h.9v.9h-.9zM177.8 343.6h.9v.9h-.9zM182.7 342.2h.9v.9h-.9zM174.4 343.3h.9v.9h-.9zM180.9 341.4h.9v.9h-.9zM182.6 344.9h.9v.9h-.9zM181.8 344.7h.9v.9h-.9zM177.1 345.3h.9v.9h-.9zM180.2 344.4h.9v.9h-.9zM186.9 344.4h.9v.9h-.9zM181.9 344.5h.9v.9h-.9zM179.2 345.7h.9v.9h-.9zM182.1 343.6h.9v.9h-.9zM178.7 345.1h.9v.9h-.9zM179.9 341.4h.9v.9h-.9zM180.4 344.9h.9v.9h-.9zM181.3 343.2h.9v.9h-.9zM180.3 346.4h.9v.9h-.9zM183.3 344.4h.9v.9h-.9zM176.7 341.9h.9v.9h-.9zM177.6 344.3h.9v.9h-.9zM184.5 342.7h.9v.9h-.9zM179.9 345.6h.9v.9h-.9zM180.9 343.6h.9v.9h-.9zM179.8 343.3h.9v.9h-.9zM179.8 343.5h.9v.9h-.9zM177.6 341.5h.9v.9h-.9zM181.7 343.7h.9v.9h-.9zM181.2 343.1h.9v.9h-.9zM178.3 343.7h.9v.9h-.9zM181.6 345.5h.9v.9h-.9zM185.0 341.4h.9v.9h-.9zM174.9 343.3h.9v.9h-.9zM184.6 346.2h.9v.9h-.9zM179.4 343.2h.9v.9h-.9zM180.1 342.8h.9v.9h-.9zM182.3 343.9h.9v.9h-.9zM184.0 345.7h.9v.9h-.9zM181.9 343.7h.9v.9h-.9zM183.3 345.6h.9v.9h-.9zM177.0 341.7h.9v.9h-.9zM177.1 346.0h.9v.9h-.9zM177.9 343.0h.9v.9h-.9zM180.2 344.7h.9v.9h-.9zM178.0 345.4h.9v.9h-.9zM177.7 342.3h.9v.9h-.9zM183.8 347.1h.9v.9h-.9zM180.8 343.9h.9v.9h-.9zM176.9 342.8h.9v.9h-.9zM185.6 346.5h.9v.9h-.9zM185.6 344.9h.9v.9h-.9zM185.3 347.6h.9v.9h-.9zM173.6 343.6h.9v.9h-.9zM177.1 341.2h.9v.9h-.9zM177.6 344.3h.9v.9h-.9zM181.9 340.3h.9v.9h-.9zM183.2 345.0h.9v.9h-.9zM183.1 343.7h.9v.9h-.9zM179.1 339.3h.9v.9h-.9zM185.0 343.3h.9v.9h-.9zM188.4 341.8h.9v.9h-.9zM181.8 340.2h.9v.9h-.9zM185.2 341.8h.9v.9h-.9zM181.8 342.0h.9v.9h-.9zM172.7 343.7h.9v.9h-.9zM179.3 341.8h.9v.9h-.9zM180.2 345.7h.9v.9h-.9zM183.3 347.5h.9v.9h-.9zM184.2 344.5h.9v.9h-.9zM179.4 342.0h.9v.9h-.9zM177.9 343.5h.9v.9h-.9zM178.3 343.5h.9v.9h-.9zM180.9 341.9h.9v.9h-.9zM180.4 343.0h.9v.9h-.9zM181.7 345.8h.9v.9h-.9zM184.8 342.0h.9v.9h-.9zM177.6 345.1h.9v.9h-.9zM187.8 343.1h.9v.9h-.9zM180.1 341.7h.9v.9h-.9zM185.7 343.0h.9v.9h-.9zM181.5 345.1h.9v.9h-.9zM183.4 343.3h.9v.9h-.9zM179.0 342.4h.9v.9h-.9zM184.4 343.1h.9v.9h-.9zM181.3 341.6h.9v.9h-.9zM176.6 343.8h.9v.9h-.9zM180.4 345.2h.9v.9h-.9zM178.4 345.3h.9v.9h-.9zM183.5 346.8h.9v.9h-.9zM179.5 344.7h.9v.9h-.9zM184.2 339.4h.9v.9h-.9zM183.9 344.2h.9v.9h-.9zM183.4 341.0h.9v.9h-.9zM179.5 342.7h.9v.9h-.9zM185.2 342.2h.9v.9h-.9zM181.1 344.4h.9v.9h-.9zM180.8 343.4h.9v.9h-.9zM185.0 342.6h.9v.9h-.9zM179.9 343.6h.9v.9h-.9zM185.5 340.6h.9v.9h-.9z"/>
</g>
<rect x="142.40" y="353.00" width="1.60" height="2.60" fill="#000"/>
<rect x="158.00" y="370.20" width="4.50" height="1.80" fill="#000"/>
<path fill="#333" d="M191.7 370.3h1v1.2h-1zM155.8 370.3h1v1.2h-1zM187.0 370.3h1v1.2h-1zM193.7 370.3h1v1.2h-1zM211.3 370.3h1v1.2h-1zM181.0 370.3h1v1.2h-1zM210.7 370.3h1v1.2h-1zM195.0 370.3h1v1.2h-1zM172.1 370.3h1v1.2h-1zM176.6 370.3h1v1.2h-1zM177.7 370.3h1v1.2h-1zM196.4 370.3h1v1.2h-1zM192.9 370.3h1v1.2h-1zM163.6 370.3h1v1.2h-1zM156.6 370.3h1v1.2h-1zM163.9 370.3h1v1.2h-1zM200.1 370.3h1v1.2h-1zM179.6 370.3h1v1.2h-1zM193.3 370.3h1v1.2h-1zM172.4 370.3h1v1.2h-1zM150.3 370.3h1v1.2h-1zM163.7 370.3h1v1.2h-1z"/>
<polygon points="192.3,338.1 200.8,337.3 205.8,353.9 197.2,356.5 187.7,351.2" fill="none" stroke="#222" stroke-width="0.85"/>
<text x="202.50" y="327.50" font-size="5.8" text-anchor="middle" fill="#1a1a1a" class="ns">Tregs</text>
<text x="202.50" y="334.50" font-size="5.8" text-anchor="middle" fill="#1a1a1a" class="ns">4.26</text>
<text x="85.00" y="292.70" font-size="8.1" text-anchor="middle" fill="#1a1a1a" class="lt">WT</text>
<text x="168.20" y="292.80" font-size="8.1" text-anchor="start" fill="#1a1a1a" class="lt">AhR<tspan dy="-3.40" font-size="5.02">-/-</tspan></text>
<line x1="32.10" y1="312.00" x2="32.10" y2="375.50" stroke="#000" stroke-width="1.4"/>
<polygon points="32.1,304.5 29.0,313.5 35.2,313.5" fill="#000"/>
<text x="25.90" y="339.80" font-size="8.8" text-anchor="middle" fill="#1a1a1a" transform="rotate(-90 25.9 339.8)">CD4</text>
<line x1="49.40" y1="389.20" x2="210.00" y2="389.20" stroke="#000" stroke-width="1.4"/>
<polygon points="217.6,389.2 208.6,385.9 208.6,392.5" fill="#000"/>
<text x="117.20" y="401.20" font-size="8.8" text-anchor="middle" fill="#1a1a1a">FoxP3</text>
<g clip-path="url(#c00)">
<rect x="233.00" y="196.50" width="92.00" height="71.80" fill="#a052c6"/>
<ellipse cx="254.0" cy="250.0" rx="22.0" ry="22.0" fill="#b883da" filter="url(#b7)" fill-opacity="0.9"/>
<ellipse cx="313.0" cy="232.0" rx="14.0" ry="40.0" fill="#7a30b6" filter="url(#b7)" fill-opacity="0.6"/>
<g filter="url(#warp2)">
<polygon points="231.0,210.0 244.0,208.0 246.0,236.0 240.0,246.0 231.0,246.0" fill="#6a24a8" filter="url(#b2)" fill-opacity="0.85"/>
<polygon points="254.0,209.0 267.0,205.0 271.0,230.0 263.0,241.0 256.0,236.0" fill="#6a24a8" filter="url(#b2)" fill-opacity="0.85"/>
<polygon points="270.0,212.0 283.0,208.0 292.0,222.0 299.0,244.0 292.0,262.0 279.0,266.0 274.0,244.0" fill="#7430ae" filter="url(#b2)" fill-opacity="0.7"/>
<polygon points="231.0,196.0 262.0,196.0 262.0,202.0 240.0,210.0 231.0,212.0" fill="#7430ae" filter="url(#b2)" fill-opacity="0.6"/>
<ellipse cx="239.5" cy="226" rx="3" ry="7" transform="rotate(0 239.5 226)" fill="#5a1a96" filter="url(#b1)" opacity="0.8"/>
<ellipse cx="261" cy="219" rx="3" ry="6" transform="rotate(0 261 219)" fill="#5a1a96" filter="url(#b1)" opacity="0.8"/>
<ellipse cx="276" cy="232" rx="3" ry="7" transform="rotate(-25 276 232)" fill="#5a1a96" filter="url(#b1)" opacity="0.8"/>
<ellipse cx="283" cy="240" rx="3.5" ry="12" transform="rotate(-20 283 240)" fill="#5a1a96" filter="url(#b1)" opacity="0.8"/>
<ellipse cx="292" cy="243" rx="3" ry="10" transform="rotate(-20 292 243)" fill="#5a1a96" filter="url(#b1)" opacity="0.8"/>
<ellipse cx="270" cy="249" rx="2.5" ry="7" transform="rotate(-25 270 249)" fill="#5a1a96" filter="url(#b1)" opacity="0.8"/>
<path d="M317.8 205.5 L325.6 212.4" fill="none" stroke="#d4a4f2" stroke-width="1.1719535708494146" stroke-linecap="round" stroke-linejoin="round" filter="url(#b05)" stroke-opacity="0.75"/>
<path d="M305.2 223.0 L312.4 231.2" fill="none" stroke="#56168f" stroke-width="1.0122317252773692" stroke-linecap="round" stroke-linejoin="round" filter="url(#b05)" stroke-opacity="0.75"/>
<path d="M303.2 236.4 L307.1 241.8" fill="none" stroke="#d4a4f2" stroke-width="1.6658768996005633" stroke-linecap="round" stroke-linejoin="round" filter="url(#b05)" stroke-opacity="0.75"/>
<path d="M294.5 233.5 L303.5 239.7" fill="none" stroke="#56168f" stroke-width="1.1432670991305875" stroke-linecap="round" stroke-linejoin="round" filter="url(#b05)" stroke-opacity="0.75"/>
<path d="M298.8 225.8 L306.4 233.0" fill="none" stroke="#d4a4f2" stroke-width="1.7358205440866104" stroke-linecap="round" stroke-linejoin="round" filter="url(#b05)" stroke-opacity="0.75"/>
<path d="M318.0 222.7 L323.7 227.8" fill="none" stroke="#56168f" stroke-width="1.6896280289898937" stroke-linecap="round" stroke-linejoin="round" filter="url(#b05)" stroke-opacity="0.75"/>
<path d="M303.7 262.1 L311.8 268.7" fill="none" stroke="#d4a4f2" stroke-width="1.5269578440409446" stroke-linecap="round" stroke-linejoin="round" filter="url(#b05)" stroke-opacity="0.75"/>
<path d="M313.7 230.0 L319.3 236.0" fill="none" stroke="#56168f" stroke-width="1.3833526589384837" stroke-linecap="round" stroke-linejoin="round" filter="url(#b05)" stroke-opacity="0.75"/>
<path d="M314.2 232.1 L318.4 237.6" fill="none" stroke="#d4a4f2" stroke-width="1.0137706083100457" stroke-linecap="round" stroke-linejoin="round" filter="url(#b05)" stroke-opacity="0.75"/>
<path d="M303.7 206.5 L309.7 212.8" fill="none" stroke="#56168f" stroke-width="1.4406698608854682" stroke-linecap="round" stroke-linejoin="round" filter="url(#b05)" stroke-opacity="0.75"/>
<path d="M313.3 227.1 L322.8 235.5" fill="none" stroke="#d4a4f2" stroke-width="1.438436018006969" stroke-linecap="round" stroke-linejoin="round" filter="url(#b05)" stroke-opacity="0.75"/>
<path d="M309.0 197.2 L315.3 201.8" fill="none" stroke="#56168f" stroke-width="1.1990558326897232" stroke-linecap="round" stroke-linejoin="round" filter="url(#b05)" stroke-opacity="0.75"/>
<path d="M295.1 214.6 L301.2 221.2" fill="none" stroke="#d4a4f2" stroke-width="1.6749764776171676" stroke-linecap="round" stroke-linejoin="round" filter="url(#b05)" stroke-opacity="0.75"/>
<path d="M305.7 237.8 L313.6 244.2" fill="none" stroke="#56168f" stroke-width="1.159140041947344" stroke-linecap="round" stroke-linejoin="round" filter="url(#b05)" stroke-opacity="0.75"/>
<path d="M307.1 248.0 L314.2 256.0" fill="none" stroke="#d4a4f2" stroke-width="1.5841794003164031" stroke-linecap="round" stroke-linejoin="round" filter="url(#b05)" stroke-opacity="0.75"/>
<path d="M312.0 211.3 L318.8 218.0" fill="none" stroke="#56168f" stroke-width="1.0088898437480687" stroke-linecap="round" stroke-linejoin="round" filter="url(#b05)" stroke-opacity="0.75"/>
<path d="M304.1 220.3 L308.4 224.6" fill="none" stroke="#d4a4f2" stroke-width="1.4391220682608523" stroke-linecap="round" stroke-linejoin="round" filter="url(#b05)" stroke-opacity="0.75"/>
<path d="M295.7 210.4 L305.3 219.5" fill="none" stroke="#56168f" stroke-width="1.2083632221811635" stroke-linecap="round" stroke-linejoin="round" filter="url(#b05)" stroke-opacity="0.75"/>
<path d="M318.8 224.6 L325.5 233.4" fill="none" stroke="#d4a4f2" stroke-width="1.4359820400427161" stroke-linecap="round" stroke-linejoin="round" filter="url(#b05)" stroke-opacity="0.75"/>
<path d="M297.5 242.0 L307.4 251.1" fill="none" stroke="#56168f" stroke-width="1.529394294490072" stroke-linecap="round" stroke-linejoin="round" filter="url(#b05)" stroke-opacity="0.75"/>
<path d="M318.1 204.4 L326.9 212.9" fill="none" stroke="#d4a4f2" stroke-width="1.4420707742466023" stroke-linecap="round" stroke-linejoin="round" filter="url(#b05)" stroke-opacity="0.75"/>
<path d="M321.3 250.9 L326.5 255.7" fill="none" stroke="#56168f" stroke-width="1.540623197227655" stroke-linecap="round" stroke-linejoin="round" filter="url(#b05)" stroke-opacity="0.75"/>
<path d="M316.6 204.8 L324.8 213.0" fill="none" stroke="#d4a4f2" stroke-width="1.0622064414212185" stroke-linecap="round" stroke-linejoin="round" filter="url(#b05)" stroke-opacity="0.75"/>
<path d="M308.9 225.5 L316.2 231.6" fill="none" stroke="#56168f" stroke-width="1.2921689550358009" stroke-linecap="round" stroke-linejoin="round" filter="url(#b05)" stroke-opacity="0.75"/>
<path d="M315.1 216.5 L323.6 226.1" fill="none" stroke="#d4a4f2" stroke-width="1.6019055957459782" stroke-linecap="round" stroke-linejoin="round" filter="url(#b05)" stroke-opacity="0.75"/>
<path d="M307.0 207.7 L311.5 211.8" fill="none" stroke="#56168f" stroke-width="1.3725451158251798" stroke-linecap="round" stroke-linejoin="round" filter="url(#b05)" stroke-opacity="0.75"/>
<path d="M306.8 202.5 L310.7 207.5" fill="none" stroke="#d4a4f2" stroke-width="1.312685273034398" stroke-linecap="round" stroke-linejoin="round" filter="url(#b05)" stroke-opacity="0.75"/>
<path d="M319.0 250.5 L325.6 258.8" fill="none" stroke="#56168f" stroke-width="1.7614728222089069" stroke-linecap="round" stroke-linejoin="round" filter="url(#b05)" stroke-opacity="0.75"/>
<path d="M311.9 194.3 L319.8 202.1" fill="none" stroke="#d4a4f2" stroke-width="1.6325736679529927" stroke-linecap="round" stroke-linejoin="round" filter="url(#b05)" stroke-opacity="0.75"/>
<path d="M305.0 241.9 L311.1 248.4" fill="none" stroke="#56168f" stroke-width="1.3613471504337578" stroke-linecap="round" stroke-linejoin="round" filter="url(#b05)" stroke-opacity="0.75"/>
<path d="M279 267 Q283 250 299 241" fill="none" stroke="#4a1280" stroke-width="1.9" stroke-linecap="round" stroke-linejoin="round" filter="url(#b05)" stroke-opacity="0.9"/>
</g>
<polygon points="246.0,212.0 254.0,210.0 257.0,240.0 248.0,247.0" fill="#c08ae0" filter="url(#b2)" fill-opacity="0.6"/>
<rect x="233" y="196.5" width="92.0" height="71.8" filter="url(#nHEd)" opacity="0.85"/>
<rect x="233" y="196.5" width="92.0" height="71.8" filter="url(#nHEl)" opacity="0.3"/>
<g mask="url(#mL0)">
<rect x="233" y="196.5" width="92.0" height="71.8" filter="url(#nHEl)" opacity="0.9"/>
</g>
<path d="M265.5 238.3h1.4v1.4h-1.4zM262.3 220.0h1.5v1.5h-1.5zM265.0 256.7h0.9v0.9h-0.9zM251.9 234.7h1.4v1.4h-1.4zM260.0 258.6h1.1v1.1h-1.1zM242.5 244.4h0.8v0.8h-0.8zM267.8 248.5h1.3v1.3h-1.3zM247.9 266.4h1.4v1.4h-1.4zM265.7 225.3h1.1v1.1h-1.1zM234.8 223.2h1.3v1.3h-1.3zM264.3 266.3h1.0v1.0h-1.0zM248.6 239.9h0.9v0.9h-0.9zM238.5 240.2h1.0v1.0h-1.0zM261.1 238.2h1.4v1.4h-1.4zM262.4 231.6h1.4v1.4h-1.4zM266.8 235.5h1.0v1.0h-1.0zM261.7 222.4h0.9v0.9h-0.9zM233.3 256.7h1.3v1.3h-1.3zM262.6 256.4h1.1v1.1h-1.1zM256.9 222.4h0.9v0.9h-0.9zM261.1 240.0h1.2v1.2h-1.2zM265.1 248.6h1.2v1.2h-1.2zM256.5 231.1h0.8v0.8h-0.8zM251.3 226.4h1.1v1.1h-1.1zM268.8 227.4h0.8v0.8h-0.8zM244.8 230.6h1.3v1.3h-1.3zM256.4 256.5h1.3v1.3h-1.3zM250.1 258.1h0.9v0.9h-0.9zM234.0 219.8h1.3v1.3h-1.3zM252.4 223.5h1.2v1.2h-1.2zM239.4 251.9h1.1v1.1h-1.1zM249.0 231.0h1.2v1.2h-1.2zM248.2 219.6h0.9v0.9h-0.9zM273.4 263.2h1.3v1.3h-1.3zM244.2 266.4h1.3v1.3h-1.3zM263.1 238.8h1.0v1.0h-1.0zM237.0 262.8h1.1v1.1h-1.1zM241.5 231.2h1.2v1.2h-1.2zM240.4 260.4h1.3v1.3h-1.3zM263.2 237.9h1.2v1.2h-1.2zM257.5 249.4h0.9v0.9h-0.9zM250.5 217.2h1.1v1.1h-1.1zM246.9 222.7h0.9v0.9h-0.9zM257.7 224.0h1.4v1.4h-1.4zM257.4 233.4h1.2v1.2h-1.2zM234.0 265.8h1.1v1.1h-1.1zM265.9 219.4h1.1v1.1h-1.1zM253.6 264.7h1.2v1.2h-1.2zM252.9 229.1h1.0v1.0h-1.0zM254.9 238.3h0.8v0.8h-0.8zM267.7 262.5h0.9v0.9h-0.9zM256.3 220.8h1.3v1.3h-1.3zM244.8 249.9h1.3v1.3h-1.3zM265.3 220.7h1.4v1.4h-1.4zM242.7 217.0h1.2v1.2h-1.2zM248.6 259.0h1.4v1.4h-1.4zM246.3 265.5h1.0v1.0h-1.0zM254.6 228.6h1.5v1.5h-1.5zM239.9 217.4h1.1v1.1h-1.1zM274.7 262.3h1.3v1.3h-1.3zM270.4 262.4h1.2v1.2h-1.2zM246.3 255.9h1.3v1.3h-1.3zM248.7 220.0h1.3v1.3h-1.3zM244.0 264.7h1.0v1.0h-1.0zM238.2 259.0h0.9v0.9h-0.9zM240.5 246.8h1.4v1.4h-1.4zM241.3 231.4h1.3v1.3h-1.3zM273.8 241.5h0.9v0.9h-0.9zM233.6 227.2h0.9v0.9h-0.9zM261.5 221.5h1.2v1.2h-1.2zM262.2 245.8h0.9v0.9h-0.9zM266.8 252.9h1.3v1.3h-1.3zM238.5 221.6h1.4v1.4h-1.4zM249.7 231.0h1.1v1.1h-1.1zM260.8 265.6h1.0v1.0h-1.0zM271.8 216.3h1.2v1.2h-1.2zM259.6 220.6h0.9v0.9h-0.9zM250.6 266.2h1.2v1.2h-1.2zM272.2 257.6h1.1v1.1h-1.1zM266.0 215.9h0.9v0.9h-0.9zM267.8 257.2h1.0v1.0h-1.0zM255.3 247.1h1.4v1.4h-1.4zM258.3 236.9h1.1v1.1h-1.1zM250.9 249.6h1.4v1.4h-1.4zM252.1 228.1h1.0v1.0h-1.0zM264.3 258.3h0.9v0.9h-0.9zM235.8 246.5h0.9v0.9h-0.9zM267.6 231.4h0.9v0.9h-0.9zM271.7 223.8h1.0v1.0h-1.0zM239.5 221.1h0.8v0.8h-0.8zM235.3 224.3h0.8v0.8h-0.8zM257.8 251.1h1.1v1.1h-1.1zM246.4 241.7h1.4v1.4h-1.4zM268.7 217.3h0.9v0.9h-0.9zM242.9 228.2h1.2v1.2h-1.2zM250.5 217.6h1.1v1.1h-1.1zM255.0 220.4h1.4v1.4h-1.4zM235.2 264.0h0.9v0.9h-0.9zM268.4 262.8h1.5v1.5h-1.5zM266.7 256.3h1.2v1.2h-1.2zM265.7 222.1h1.2v1.2h-1.2zM254.6 260.5h1.1v1.1h-1.1zM249.2 248.9h1.0v1.0h-1.0zM238.9 240.3h1.1v1.1h-1.1zM242.8 234.5h1.1v1.1h-1.1zM246.8 235.1h1.3v1.3h-1.3zM245.5 265.3h1.4v1.4h-1.4zM253.2 232.4h1.2v1.2h-1.2zM268.6 249.6h1.4v1.4h-1.4zM255.4 248.5h1.0v1.0h-1.0zM263.9 225.7h1.3v1.3h-1.3zM269.2 222.0h1.2v1.2h-1.2zM237.0 253.5h0.9v0.9h-0.9zM272.3 222.3h1.5v1.5h-1.5zM266.6 246.5h1.3v1.3h-1.3zM266.4 265.1h1.0v1.0h-1.0zM257.8 220.0h1.2v1.2h-1.2zM240.2 244.9h1.2v1.2h-1.2zM252.6 242.7h1.3v1.3h-1.3zM266.6 241.1h1.2v1.2h-1.2zM272.1 221.3h0.9v0.9h-0.9zM236.7 249.9h1.1v1.1h-1.1zM265.5 250.6h1.0v1.0h-1.0zM270.7 255.4h1.0v1.0h-1.0zM248.3 231.7h0.9v0.9h-0.9zM239.2 264.6h1.1v1.1h-1.1zM249.1 253.7h1.2v1.2h-1.2zM272.3 256.4h1.1v1.1h-1.1zM248.8 267.3h1.3v1.3h-1.3zM273.0 221.3h1.4v1.4h-1.4zM259.8 221.5h1.2v1.2h-1.2zM261.8 215.7h1.1v1.1h-1.1zM267.7 230.7h1.1v1.1h-1.1zM251.6 231.0h1.4v1.4h-1.4zM265.8 220.9h1.5v1.5h-1.5zM269.9 230.0h1.4v1.4h-1.4zM237.5 268.0h1.3v1.3h-1.3zM260.3 219.8h1.4v1.4h-1.4zM234.2 227.8h0.9v0.9h-0.9zM265.6 225.5h1.4v1.4h-1.4zM260.6 216.9h0.8v0.8h-0.8zM235.2 247.1h1.4v1.4h-1.4zM243.0 260.0h0.8v0.8h-0.8zM266.6 264.2h1.3v1.3h-1.3zM262.3 259.4h0.8v0.8h-0.8zM241.5 221.6h1.2v1.2h-1.2zM264.3 248.4h1.4v1.4h-1.4zM239.5 253.9h0.9v0.9h-0.9zM244.4 252.6h1.5v1.5h-1.5zM258.7 217.9h1.2v1.2h-1.2zM234.8 261.9h1.3v1.3h-1.3zM240.3 219.9h0.9v0.9h-0.9zM274.2 239.3h1.3v1.3h-1.3zM259.7 245.3h0.9v0.9h-0.9zM272.7 231.0h1.2v1.2h-1.2zM262.4 249.4h1.5v1.5h-1.5zM239.2 241.9h1.1v1.1h-1.1zM252.9 221.3h0.9v0.9h-0.9zM244.7 231.1h1.1v1.1h-1.1zM258.7 248.6h1.1v1.1h-1.1z" fill="#f0d8f5" fill-opacity="0.45" filter="url(#b05)"/>
<ellipse cx="257.0" cy="263.0" rx="9.0" ry="5.0" fill="#f2e6f3" filter="url(#b2)" fill-opacity="0.9"/>
<polygon points="258.0,196.3 304.8,196.3 302.6,197.7 300.7,203.0 300.2,209.0 299.8,216.0 298.0,219.5 296.3,221.8 293.9,218.0 291.0,215.0 288.5,211.0 286.5,207.5 284.0,204.0 281.0,202.5 276.0,201.5 271.0,200.2 266.0,199.6 262.0,198.6 258.0,197.6" fill="#f5f2f5" filter="url(#b05)"/>
<path d="M232 214.5 L240 210.5 L250 207 L259 202.5 L265 199.8" fill="none" stroke="#f3ecf5" stroke-width="1.2" stroke-linecap="round" stroke-linejoin="round" filter="url(#b05)"/>
<path d="M264.3 197.2h1.0v1.0h-1.0zM263.1 196.6h0.9v0.9h-0.9zM265.2 197.2h1.0v1.0h-1.0zM266.4 198.6h1.0v1.0h-1.0zM267.5 197.4h1.1v1.1h-1.1zM266.1 197.8h1.0v1.0h-1.0zM263.7 198.0h1.1v1.1h-1.1zM270.5 199.3h1.0v1.0h-1.0zM265.8 198.9h0.9v0.9h-0.9zM269.9 198.0h0.8v0.8h-0.8zM259.9 199.0h0.7v0.7h-0.7zM262.6 197.5h0.8v0.8h-0.8zM263.1 198.7h0.7v0.7h-0.7zM269.8 199.1h0.9v0.9h-0.9z" fill="#9a5ac0" fill-opacity="0.7" filter="url(#b05)"/>
</g>
<line x1="288.60" y1="263.40" x2="295.60" y2="263.40" stroke="#2a1a3a" stroke-width="0.7"/>
<line x1="295.60" y1="263.40" x2="323.40" y2="263.40" stroke="#1e1028" stroke-width="1.5"/>
<g clip-path="url(#c10)">
<rect x="233.00" y="270.10" width="92.00" height="71.90" fill="#a257c7"/>
<rect x="233.0" y="270.0" width="8.0" height="12.0" rx="4.0" transform="rotate(60 237 276)" fill="#c296e2" stroke="#5e1e96" stroke-width="1.8" filter="url(#b05)" opacity="0.8"/>
<rect x="244.0" y="268.0" width="8.0" height="12.0" rx="4.0" transform="rotate(60 248 274)" fill="#c296e2" stroke="#5e1e96" stroke-width="1.8" filter="url(#b05)" opacity="0.8"/>
<rect x="254.5" y="266.0" width="7.0" height="10.0" rx="3.5" transform="rotate(60 258 271)" fill="#c296e2" stroke="#5e1e96" stroke-width="1.8" filter="url(#b05)" opacity="0.8"/>
<rect x="236.0" y="279.0" width="6.0" height="8.0" rx="3.0" transform="rotate(60 239 283)" fill="#c296e2" stroke="#5e1e96" stroke-width="1.8" filter="url(#b05)" opacity="0.8"/>
<g filter="url(#warp)">
<path d="M234.0 296 L233.2 324 Q238.0 331 242.8 324 L242.0 296 Z" fill="#cc96e2" stroke="#5e1890" stroke-width="2.2" filter="url(#b05)" opacity="0.85"/>
<path d="M242.2 297 L241.4 326 Q246.5 333 251.6 326 L250.8 297 Z" fill="#cc96e2" stroke="#5e1890" stroke-width="2.2" filter="url(#b05)" opacity="0.85"/>
<path d="M251.0 296 L250.2 324 Q255.0 331 259.8 324 L259.0 296 Z" fill="#cc96e2" stroke="#5e1890" stroke-width="2.2" filter="url(#b05)" opacity="0.85"/>
<path d="M259.2 292 L258.4 323 Q263.5 330 268.6 323 L267.8 292 Z" fill="#cc96e2" stroke="#5e1890" stroke-width="2.2" filter="url(#b05)" opacity="0.85"/>
<path d="M268.0 287 L267.2 322 Q272.0 329 276.8 322 L276.0 287 Z" fill="#cc96e2" stroke="#5e1890" stroke-width="2.2" filter="url(#b05)" opacity="0.85"/>
<path d="M276.2 281 L275.4 318 Q280.5 325 285.6 318 L284.8 281 Z" fill="#cc96e2" stroke="#5e1890" stroke-width="2.2" filter="url(#b05)" opacity="0.85"/>
<path d="M285.0 275 L284.2 314 Q289.0 321 293.8 314 L293.0 275 Z" fill="#cc96e2" stroke="#5e1890" stroke-width="2.2" filter="url(#b05)" opacity="0.85"/>
<path d="M293.0 272 L292.2 308 Q297.0 315 301.8 308 L301.0 272 Z" fill="#cc96e2" stroke="#5e1890" stroke-width="2.2" filter="url(#b05)" opacity="0.85"/>
<path d="M301.2 272 L300.4 300 Q305.0 307 309.6 300 L308.8 272 Z" fill="#cc96e2" stroke="#5e1890" stroke-width="2.2" filter="url(#b05)" opacity="0.85"/>
<path d="M309.0 272 L308.2 301 Q313.0 308 317.8 301 L317.0 272 Z" fill="#cc96e2" stroke="#5e1890" stroke-width="2.2" filter="url(#b05)" opacity="0.85"/>
<path d="M316.8 272 L315.9 306 Q320.5 313 325.1 306 L324.2 272 Z" fill="#cc96e2" stroke="#5e1890" stroke-width="2.2" filter="url(#b05)" opacity="0.85"/>
<ellipse cx="238.0" cy="323.0" rx="3.8" ry="3.6" fill="#4e1286" filter="url(#b1)" fill-opacity="0.85"/>
<ellipse cx="246.5" cy="326.0" rx="3.4" ry="3.2" fill="#4e1286" filter="url(#b1)" fill-opacity="0.85"/>
<ellipse cx="255.0" cy="324.0" rx="3.2" ry="3.0" fill="#4e1286" filter="url(#b1)" fill-opacity="0.85"/>
<ellipse cx="263.5" cy="323.0" rx="3.4" ry="3.2" fill="#4e1286" filter="url(#b1)" fill-opacity="0.85"/>
<ellipse cx="272.0" cy="322.0" rx="3.2" ry="3.0" fill="#4e1286" filter="url(#b1)" fill-opacity="0.85"/>
<ellipse cx="280.5" cy="318.0" rx="3.2" ry="3.0" fill="#4e1286" filter="url(#b1)" fill-opacity="0.85"/>
<ellipse cx="289.0" cy="314.0" rx="2.9" ry="2.8" fill="#4e1286" filter="url(#b1)" fill-opacity="0.85"/>
<ellipse cx="297.0" cy="308.0" rx="2.7" ry="2.6" fill="#4e1286" filter="url(#b1)" fill-opacity="0.85"/>
<ellipse cx="305.0" cy="300.0" rx="2.7" ry="2.6" fill="#4e1286" filter="url(#b1)" fill-opacity="0.85"/>
<ellipse cx="313.0" cy="301.0" rx="2.9" ry="2.8" fill="#4e1286" filter="url(#b1)" fill-opacity="0.85"/>
</g>
<rect x="233" y="270.1" width="92.0" height="71.9" filter="url(#nHEd)" opacity="0.8"/>
<rect x="233" y="270.1" width="92.0" height="71.9" filter="url(#nHEl)" opacity="0.4"/>
<polygon points="232.0,288.0 238.0,286.5 243.5,283.0 247.5,280.0 252.0,278.0 257.0,276.0 262.3,272.7 265.0,269.0 292.0,269.0 293.0,270.0 290.0,272.0 283.0,277.0 277.0,281.5 270.0,286.5 265.0,290.0 257.0,294.2 250.0,296.0 243.5,295.0 238.0,293.8 232.0,293.0" fill="#e3e3d6" filter="url(#b05)"/>
<path d="M246.9 284.8h0.7v0.7h-0.7zM268.8 271.2h0.7v0.7h-0.7zM263.6 274.8h0.7v0.7h-0.7zM260.2 280.0h0.6v0.6h-0.6zM261.1 274.5h0.7v0.7h-0.7zM250.5 277.7h0.8v0.8h-0.8zM274.3 272.3h0.8v0.8h-0.8zM255.3 282.5h0.9v0.9h-0.9zM244.7 280.2h1.1v1.1h-1.1zM268.4 275.1h0.8v0.8h-0.8zM240.2 282.8h0.9v0.9h-0.9zM257.9 277.3h1.0v1.0h-1.0zM253.3 280.4h0.7v0.7h-0.7zM262.4 274.1h0.8v0.8h-0.8zM250.6 278.5h1.1v1.1h-1.1zM253.5 276.6h0.8v0.8h-0.8zM252.7 283.9h1.0v1.0h-1.0zM248.3 283.9h0.7v0.7h-0.7zM245.0 279.8h0.6v0.6h-0.6zM253.6 280.1h0.8v0.8h-0.8zM255.0 280.9h1.0v1.0h-1.0zM254.5 276.6h0.8v0.8h-0.8zM242.2 281.6h1.0v1.0h-1.0zM267.0 276.0h0.8v0.8h-0.8zM254.3 272.8h0.6v0.6h-0.6zM266.7 273.9h0.7v0.7h-0.7zM242.3 284.7h0.7v0.7h-0.7zM240.8 284.7h0.7v0.7h-0.7zM240.6 289.3h0.9v0.9h-0.9zM258.4 273.2h1.0v1.0h-1.0z" fill="#7a80b0" fill-opacity="0.7" filter="url(#b05)"/>
<g filter="url(#warp2)">
<ellipse cx="308.6" cy="318.4" rx="3.8" ry="9.6" fill="#e2dfd8" filter="url(#b05)"/>
</g>
<path d="M232 334 L262 334 L280 331 L291 325 L299 318" fill="none" stroke="#ecd6ef" stroke-width="2.4" stroke-linecap="round" stroke-linejoin="round" filter="url(#b1)" stroke-opacity="0.9"/>
<path d="M281 337.5 L297 331" fill="none" stroke="#ece6e4" stroke-width="2.6" stroke-linecap="round" stroke-linejoin="round" filter="url(#b1)" stroke-opacity="0.85"/>
<rect x="232.00" y="337.50" width="94.00" height="5.00" fill="#8a44b8" opacity="0.45"/>
<ellipse cx="317.0" cy="274.0" rx="2.0" ry="6.0" fill="#e6d8ee" filter="url(#b05)"/>
</g>
<line x1="295.60" y1="337.10" x2="321.50" y2="337.10" stroke="#1e1028" stroke-width="1.4"/>
<g clip-path="url(#c01)">
<rect x="327.00" y="196.50" width="91.20" height="71.80" fill="#b5b8bf"/>
<ellipse cx="345.0" cy="205.0" rx="22.0" ry="12.0" fill="#aaadb8" filter="url(#b7)" fill-opacity="0.8"/>
<polygon points="376.0,196.0 396.0,196.0 392.0,212.0 388.0,226.0 384.0,212.0" fill="#c8c9c6" filter="url(#b2)"/>
<ellipse cx="408.0" cy="225.0" rx="12.0" ry="35.0" fill="#a8b0c3" filter="url(#b7)" fill-opacity="0.8"/>
<rect x="327.00" y="196.00" width="4.00" height="72.00" fill="#babfb3" filter="url(#b1)"/>
<ellipse cx="372.0" cy="252.0" rx="30.0" ry="14.0" fill="#b9bbc1" filter="url(#b7)" fill-opacity="0.7"/>
<g filter="url(#warp)" opacity="0.4">
<ellipse cx="390.1" cy="241.6" rx="2.7" ry="5.5" transform="rotate(40 390.1 241.6)" fill="none" stroke="#8f95a8" stroke-width="1.3"/>
<ellipse cx="404.1" cy="211.7" rx="2.8" ry="7.9" transform="rotate(34 404.1 211.7)" fill="none" stroke="#8f95a8" stroke-width="1.3"/>
<ellipse cx="365.5" cy="221.7" rx="2.6" ry="6.8" transform="rotate(-6 365.5 221.7)" fill="none" stroke="#8f95a8" stroke-width="1.3"/>
<ellipse cx="363.2" cy="234.7" rx="3.5" ry="7.5" transform="rotate(7 363.2 234.7)" fill="none" stroke="#8f95a8" stroke-width="1.3"/>
<ellipse cx="330.6" cy="242.5" rx="3.3" ry="8.4" transform="rotate(13 330.6 242.5)" fill="none" stroke="#8f95a8" stroke-width="1.3"/>
<ellipse cx="330.1" cy="254.3" rx="2.9" ry="7.5" transform="rotate(8 330.1 254.3)" fill="none" stroke="#8f95a8" stroke-width="1.3"/>
<ellipse cx="403.5" cy="262.0" rx="3.5" ry="8.4" transform="rotate(35 403.5 262.0)" fill="none" stroke="#8f95a8" stroke-width="1.3"/>
<ellipse cx="349.5" cy="208.9" rx="3.2" ry="8.0" transform="rotate(-2 349.5 208.9)" fill="none" stroke="#8f95a8" stroke-width="1.3"/>
<ellipse cx="414.5" cy="230.2" rx="3.7" ry="7.9" transform="rotate(43 414.5 230.2)" fill="none" stroke="#8f95a8" stroke-width="1.3"/>
<ellipse cx="362.7" cy="205.5" rx="3.2" ry="6.3" transform="rotate(-3 362.7 205.5)" fill="none" stroke="#8f95a8" stroke-width="1.3"/>
<ellipse cx="416.3" cy="219.0" rx="3.7" ry="5.7" transform="rotate(38 416.3 219.0)" fill="none" stroke="#8f95a8" stroke-width="1.3"/>
<ellipse cx="359.5" cy="214.5" rx="3.1" ry="8.7" transform="rotate(2 359.5 214.5)" fill="none" stroke="#8f95a8" stroke-width="1.3"/>
<ellipse cx="374.6" cy="252.6" rx="3.3" ry="5.5" transform="rotate(-11 374.6 252.6)" fill="none" stroke="#8f95a8" stroke-width="1.3"/>
<ellipse cx="392.2" cy="229.7" rx="2.8" ry="8.9" transform="rotate(28 392.2 229.7)" fill="none" stroke="#8f95a8" stroke-width="1.3"/>
<ellipse cx="397.9" cy="219.5" rx="3.6" ry="7.1" transform="rotate(21 397.9 219.5)" fill="none" stroke="#8f95a8" stroke-width="1.3"/>
<ellipse cx="367.2" cy="246.5" rx="4.0" ry="6.8" transform="rotate(5 367.2 246.5)" fill="none" stroke="#8f95a8" stroke-width="1.3"/>
<ellipse cx="371.7" cy="243.3" rx="2.7" ry="9.0" transform="rotate(-11 371.7 243.3)" fill="none" stroke="#8f95a8" stroke-width="1.3"/>
<ellipse cx="336.7" cy="257.4" rx="3.6" ry="5.4" transform="rotate(-7 336.7 257.4)" fill="none" stroke="#8f95a8" stroke-width="1.3"/>
<ellipse cx="335.2" cy="261.6" rx="3.8" ry="8.1" transform="rotate(6 335.2 261.6)" fill="none" stroke="#8f95a8" stroke-width="1.3"/>
<ellipse cx="334.0" cy="218.5" rx="3.4" ry="8.3" transform="rotate(-2 334.0 218.5)" fill="none" stroke="#8f95a8" stroke-width="1.3"/>
<ellipse cx="350.9" cy="241.1" rx="3.9" ry="6.9" transform="rotate(2 350.9 241.1)" fill="none" stroke="#8f95a8" stroke-width="1.3"/>
<ellipse cx="354.5" cy="249.2" rx="2.7" ry="7.7" transform="rotate(-8 354.5 249.2)" fill="none" stroke="#8f95a8" stroke-width="1.3"/>
<ellipse cx="388.4" cy="232.1" rx="3.7" ry="7.3" transform="rotate(47 388.4 232.1)" fill="none" stroke="#8f95a8" stroke-width="1.3"/>
<ellipse cx="368.7" cy="199.0" rx="4.0" ry="8.1" transform="rotate(10 368.7 199.0)" fill="none" stroke="#8f95a8" stroke-width="1.3"/>
<ellipse cx="401.9" cy="206.6" rx="3.8" ry="5.3" transform="rotate(29 401.9 206.6)" fill="none" stroke="#8f95a8" stroke-width="1.3"/>
<ellipse cx="343.1" cy="230.8" rx="2.8" ry="5.8" transform="rotate(2 343.1 230.8)" fill="none" stroke="#8f95a8" stroke-width="1.3"/>
<ellipse cx="343.2" cy="230.8" rx="3.5" ry="5.1" transform="rotate(12 343.2 230.8)" fill="none" stroke="#8f95a8" stroke-width="1.3"/>
<ellipse cx="395.4" cy="249.1" rx="3.6" ry="8.8" transform="rotate(24 395.4 249.1)" fill="none" stroke="#8f95a8" stroke-width="1.3"/>
<ellipse cx="336.3" cy="248.3" rx="2.5" ry="7.5" transform="rotate(4 336.3 248.3)" fill="none" stroke="#8f95a8" stroke-width="1.3"/>
<ellipse cx="410.3" cy="204.7" rx="3.0" ry="8.0" transform="rotate(30 410.3 204.7)" fill="none" stroke="#8f95a8" stroke-width="1.3"/>
</g>
<rect x="327" y="196.5" width="91.2" height="71.8" filter="url(#nFd)" opacity="0.9"/>
<rect x="327" y="196.5" width="91.2" height="71.8" filter="url(#nFl)" opacity="0.25"/>
</g>
<g clip-path="url(#c11)">
<rect x="327.00" y="270.10" width="91.20" height="71.90" fill="#cbcfd3"/>
<ellipse cx="345.0" cy="283.0" rx="20.0" ry="14.0" fill="#dcdcda" filter="url(#b4)"/>
<ellipse cx="365.0" cy="337.0" rx="50.0" ry="6.0" fill="#d6d8d8" filter="url(#b4)"/>
<ellipse cx="400.0" cy="318.0" rx="16.0" ry="10.0" fill="#d3d6d8" filter="url(#b4)" fill-opacity="0.8"/>
<g filter="url(#warp)">
<ellipse cx="331" cy="300" rx="3.5" ry="11" transform="rotate(15 331 300)" fill="#c5cedb" stroke="#7490c2" stroke-width="1.9" opacity="0.85"/>
<ellipse cx="338" cy="313" rx="3.5" ry="11" transform="rotate(20 338 313)" fill="#c5cedb" stroke="#7490c2" stroke-width="1.9" opacity="0.85"/>
<ellipse cx="347" cy="305" rx="3" ry="10" transform="rotate(25 347 305)" fill="#c5cedb" stroke="#7490c2" stroke-width="1.9" opacity="0.85"/>
<ellipse cx="333" cy="324" rx="3" ry="7" transform="rotate(10 333 324)" fill="#c5cedb" stroke="#7490c2" stroke-width="1.9" opacity="0.85"/>
<ellipse cx="352" cy="318" rx="3" ry="8" transform="rotate(20 352 318)" fill="#c5cedb" stroke="#7490c2" stroke-width="1.9" opacity="0.85"/>
<ellipse cx="361" cy="292" rx="3" ry="9" transform="rotate(30 361 292)" fill="#c5cedb" stroke="#7490c2" stroke-width="1.9" opacity="0.85"/>
<ellipse cx="369" cy="286" rx="3.5" ry="11" transform="rotate(30 369 286)" fill="#c5cedb" stroke="#7490c2" stroke-width="1.9" opacity="0.85"/>
<ellipse cx="378" cy="281" rx="3.5" ry="10" transform="rotate(25 378 281)" fill="#c5cedb" stroke="#7490c2" stroke-width="1.9" opacity="0.85"/>
<ellipse cx="387" cy="290" rx="3.5" ry="10" transform="rotate(30 387 290)" fill="#c5cedb" stroke="#7490c2" stroke-width="1.9" opacity="0.85"/>
<ellipse cx="372" cy="302" rx="3" ry="7" transform="rotate(20 372 302)" fill="#c5cedb" stroke="#7490c2" stroke-width="1.9" opacity="0.85"/>
<ellipse cx="393" cy="279" rx="3.5" ry="8" transform="rotate(20 393 279)" fill="#c5cedb" stroke="#7490c2" stroke-width="1.9" opacity="0.85"/>
<ellipse cx="402" cy="277" rx="3.5" ry="8" transform="rotate(15 402 277)" fill="#c5cedb" stroke="#7490c2" stroke-width="1.9" opacity="0.85"/>
<ellipse cx="410" cy="286" rx="3.5" ry="10" transform="rotate(10 410 286)" fill="#c5cedb" stroke="#7490c2" stroke-width="1.9" opacity="0.85"/>
<ellipse cx="404" cy="299" rx="3" ry="7" transform="rotate(20 404 299)" fill="#c5cedb" stroke="#7490c2" stroke-width="1.9" opacity="0.85"/>
<ellipse cx="414" cy="301" rx="3" ry="8" transform="rotate(5 414 301)" fill="#c5cedb" stroke="#7490c2" stroke-width="1.9" opacity="0.85"/>
<ellipse cx="364" cy="315" rx="3.5" ry="6" transform="rotate(20 364 315)" fill="#c5cedb" stroke="#7490c2" stroke-width="1.9" opacity="0.85"/>
<ellipse cx="375" cy="317" rx="3" ry="5" transform="rotate(0 375 317)" fill="#c5cedb" stroke="#7490c2" stroke-width="1.9" opacity="0.85"/>
<ellipse cx="397" cy="305" rx="3" ry="6" transform="rotate(25 397 305)" fill="#c5cedb" stroke="#7490c2" stroke-width="1.9" opacity="0.85"/>
</g>
<rect x="327" y="270.1" width="91.2" height="71.9" filter="url(#nFd)" opacity="0.8"/>
<rect x="327" y="270.1" width="91.2" height="71.9" filter="url(#nFl)" opacity="0.2"/>
</g>
<g clip-path="url(#c02)">
<rect x="421.00" y="196.50" width="91.80" height="71.80" fill="#cdcdca"/>
<ellipse cx="480.0" cy="222.0" rx="14.0" ry="18.0" fill="#d9d9cf" filter="url(#b4)"/>
<ellipse cx="445.0" cy="240.0" rx="14.0" ry="10.0" fill="#d3d4cc" filter="url(#b4)" fill-opacity="0.7"/>
<ellipse cx="505.0" cy="232.0" rx="9.0" ry="40.0" fill="#a4b3c8" filter="url(#b4)" fill-opacity="0.9"/>
<ellipse cx="432.0" cy="215.0" rx="10.0" ry="20.0" fill="#b8bdc8" filter="url(#b4)" fill-opacity="0.6"/>
<path d="M479 268 Q481 247 490 246 Q499 247 500 268" fill="none" stroke="#98accb" stroke-width="4" filter="url(#b1)"/>
<path d="M497 200 L503 230 M506 205 L509 240" fill="none" stroke="#8ea6c8" stroke-width="2.5" filter="url(#b1)"/>
<g fill="#74819e" opacity="0.5" filter="url(#b07)"><ellipse cx="495.1" cy="254.4" rx="1.3" ry="0.6" transform="rotate(93 495.1 254.4)"/><ellipse cx="456.3" cy="226.0" rx="1.0" ry="1.2" transform="rotate(8 456.3 226.0)"/><ellipse cx="481.0" cy="213.7" rx="2.2" ry="1.1" transform="rotate(78 481.0 213.7)"/><ellipse cx="498.7" cy="224.9" rx="1.8" ry="0.6" transform="rotate(89 498.7 224.9)"/><ellipse cx="472.1" cy="216.3" rx="1.0" ry="1.0" transform="rotate(158 472.1 216.3)"/><ellipse cx="501.0" cy="213.1" rx="2.0" ry="0.6" transform="rotate(161 501.0 213.1)"/><ellipse cx="486.1" cy="197.1" rx="1.5" ry="0.7" transform="rotate(91 486.1 197.1)"/><ellipse cx="450.9" cy="254.2" rx="1.1" ry="1.0" transform="rotate(57 450.9 254.2)"/><ellipse cx="462.3" cy="253.7" rx="1.3" ry="1.1" transform="rotate(42 462.3 253.7)"/><ellipse cx="467.7" cy="233.0" rx="0.9" ry="1.2" transform="rotate(43 467.7 233.0)"/><ellipse cx="428.9" cy="257.0" rx="2.1" ry="0.8" transform="rotate(66 428.9 257.0)"/><ellipse cx="507.2" cy="236.5" rx="1.9" ry="1.0" transform="rotate(43 507.2 236.5)"/><ellipse cx="483.9" cy="229.9" rx="1.7" ry="0.7" transform="rotate(40 483.9 229.9)"/><ellipse cx="484.7" cy="242.1" rx="1.9" ry="0.7" transform="rotate(68 484.7 242.1)"/><ellipse cx="456.9" cy="253.7" rx="1.8" ry="1.0" transform="rotate(68 456.9 253.7)"/><ellipse cx="507.6" cy="267.4" rx="2.0" ry="0.7" transform="rotate(130 507.6 267.4)"/><ellipse cx="486.6" cy="257.2" rx="1.6" ry="0.9" transform="rotate(72 486.6 257.2)"/><ellipse cx="509.2" cy="219.5" rx="0.9" ry="0.9" transform="rotate(72 509.2 219.5)"/><ellipse cx="479.1" cy="263.4" rx="1.3" ry="1.2" transform="rotate(166 479.1 263.4)"/><ellipse cx="438.3" cy="255.5" rx="1.4" ry="0.6" transform="rotate(28 438.3 255.5)"/><ellipse cx="499.9" cy="255.8" rx="1.6" ry="0.8" transform="rotate(25 499.9 255.8)"/><ellipse cx="466.2" cy="236.3" rx="2.0" ry="0.8" transform="rotate(19 466.2 236.3)"/><ellipse cx="462.1" cy="201.1" rx="1.2" ry="0.8" transform="rotate(0 462.1 201.1)"/><ellipse cx="506.4" cy="260.2" rx="1.5" ry="1.0" transform="rotate(86 506.4 260.2)"/><ellipse cx="500.0" cy="220.9" rx="1.4" ry="1.0" transform="rotate(143 500.0 220.9)"/><ellipse cx="488.8" cy="232.6" rx="1.8" ry="0.6" transform="rotate(124 488.8 232.6)"/><ellipse cx="424.6" cy="207.6" rx="1.2" ry="0.6" transform="rotate(38 424.6 207.6)"/><ellipse cx="441.0" cy="239.7" rx="1.4" ry="0.8" transform="rotate(159 441.0 239.7)"/><ellipse cx="459.3" cy="245.3" rx="2.1" ry="0.8" transform="rotate(141 459.3 245.3)"/><ellipse cx="486.0" cy="221.3" rx="1.2" ry="1.1" transform="rotate(148 486.0 221.3)"/><ellipse cx="467.5" cy="248.5" rx="1.3" ry="0.9" transform="rotate(96 467.5 248.5)"/><ellipse cx="425.6" cy="200.1" rx="1.5" ry="1.1" transform="rotate(95 425.6 200.1)"/><ellipse cx="422.9" cy="236.5" rx="1.7" ry="1.0" transform="rotate(88 422.9 236.5)"/><ellipse cx="469.3" cy="237.0" rx="1.7" ry="0.7" transform="rotate(89 469.3 237.0)"/><ellipse cx="471.8" cy="244.7" rx="2.2" ry="1.0" transform="rotate(34 471.8 244.7)"/><ellipse cx="508.9" cy="217.9" rx="1.2" ry="0.6" transform="rotate(80 508.9 217.9)"/><ellipse cx="422.5" cy="214.5" rx="1.1" ry="1.0" transform="rotate(155 422.5 214.5)"/><ellipse cx="443.9" cy="201.7" rx="1.8" ry="0.9" transform="rotate(35 443.9 201.7)"/><ellipse cx="471.5" cy="229.2" rx="1.5" ry="1.2" transform="rotate(49 471.5 229.2)"/><ellipse cx="439.5" cy="249.0" rx="1.2" ry="0.8" transform="rotate(45 439.5 249.0)"/><ellipse cx="429.5" cy="263.4" rx="1.1" ry="0.6" transform="rotate(66 429.5 263.4)"/><ellipse cx="426.6" cy="212.2" rx="1.7" ry="1.2" transform="rotate(75 426.6 212.2)"/><ellipse cx="502.9" cy="214.2" rx="2.1" ry="0.7" transform="rotate(110 502.9 214.2)"/><ellipse cx="499.6" cy="225.1" rx="1.3" ry="1.0" transform="rotate(141 499.6 225.1)"/><ellipse cx="467.6" cy="204.4" rx="2.0" ry="0.9" transform="rotate(137 467.6 204.4)"/><ellipse cx="456.7" cy="264.3" rx="2.0" ry="0.9" transform="rotate(67 456.7 264.3)"/><ellipse cx="455.4" cy="222.7" rx="1.3" ry="0.7" transform="rotate(11 455.4 222.7)"/><ellipse cx="426.7" cy="235.5" rx="0.9" ry="0.7" transform="rotate(80 426.7 235.5)"/><ellipse cx="505.5" cy="206.5" rx="2.1" ry="0.7" transform="rotate(67 505.5 206.5)"/><ellipse cx="458.7" cy="253.9" rx="1.0" ry="1.2" transform="rotate(3 458.7 253.9)"/><ellipse cx="483.9" cy="215.5" rx="1.2" ry="1.1" transform="rotate(86 483.9 215.5)"/><ellipse cx="508.4" cy="202.0" rx="1.1" ry="0.8" transform="rotate(94 508.4 202.0)"/><ellipse cx="489.2" cy="247.6" rx="1.3" ry="0.9" transform="rotate(34 489.2 247.6)"/><ellipse cx="456.5" cy="245.4" rx="1.3" ry="0.9" transform="rotate(142 456.5 245.4)"/><ellipse cx="427.2" cy="223.0" rx="1.6" ry="0.9" transform="rotate(170 427.2 223.0)"/><ellipse cx="476.8" cy="237.3" rx="1.2" ry="0.8" transform="rotate(145 476.8 237.3)"/><ellipse cx="502.6" cy="232.5" rx="1.1" ry="1.1" transform="rotate(173 502.6 232.5)"/><ellipse cx="464.5" cy="230.6" rx="1.1" ry="0.9" transform="rotate(159 464.5 230.6)"/><ellipse cx="444.0" cy="221.3" rx="1.4" ry="1.1" transform="rotate(147 444.0 221.3)"/><ellipse cx="422.2" cy="268.0" rx="1.8" ry="0.7" transform="rotate(172 422.2 268.0)"/><ellipse cx="481.4" cy="210.5" rx="0.9" ry="0.6" transform="rotate(67 481.4 210.5)"/><ellipse cx="435.5" cy="209.9" rx="1.2" ry="1.1" transform="rotate(151 435.5 209.9)"/><ellipse cx="421.6" cy="201.1" rx="2.1" ry="1.1" transform="rotate(11 421.6 201.1)"/><ellipse cx="422.4" cy="263.1" rx="1.2" ry="1.0" transform="rotate(41 422.4 263.1)"/><ellipse cx="439.8" cy="266.2" rx="1.6" ry="0.9" transform="rotate(66 439.8 266.2)"/><ellipse cx="446.9" cy="249.2" rx="1.7" ry="0.7" transform="rotate(179 446.9 249.2)"/><ellipse cx="495.3" cy="244.3" rx="1.8" ry="0.8" transform="rotate(88 495.3 244.3)"/><ellipse cx="449.0" cy="233.6" rx="1.7" ry="0.7" transform="rotate(12 449.0 233.6)"/><ellipse cx="444.4" cy="260.9" rx="1.2" ry="1.0" transform="rotate(106 444.4 260.9)"/><ellipse cx="512.7" cy="260.7" rx="1.3" ry="0.9" transform="rotate(144 512.7 260.7)"/><ellipse cx="474.8" cy="203.3" rx="1.6" ry="0.9" transform="rotate(125 474.8 203.3)"/><ellipse cx="488.8" cy="202.5" rx="2.2" ry="0.8" transform="rotate(38 488.8 202.5)"/><ellipse cx="444.5" cy="202.1" rx="1.6" ry="0.6" transform="rotate(56 444.5 202.1)"/><ellipse cx="447.6" cy="215.2" rx="1.9" ry="1.2" transform="rotate(28 447.6 215.2)"/><ellipse cx="505.2" cy="228.3" rx="1.4" ry="0.9" transform="rotate(12 505.2 228.3)"/><ellipse cx="456.0" cy="248.9" rx="2.1" ry="0.9" transform="rotate(134 456.0 248.9)"/><ellipse cx="442.9" cy="261.7" rx="1.1" ry="0.7" transform="rotate(159 442.9 261.7)"/><ellipse cx="481.7" cy="255.3" rx="0.9" ry="0.7" transform="rotate(173 481.7 255.3)"/><ellipse cx="459.9" cy="236.1" rx="1.6" ry="0.9" transform="rotate(140 459.9 236.1)"/><ellipse cx="443.0" cy="243.2" rx="2.1" ry="0.7" transform="rotate(105 443.0 243.2)"/><ellipse cx="432.5" cy="222.1" rx="1.5" ry="0.7" transform="rotate(59 432.5 222.1)"/><ellipse cx="486.0" cy="255.4" rx="2.1" ry="0.7" transform="rotate(1 486.0 255.4)"/><ellipse cx="449.2" cy="231.5" rx="1.2" ry="1.0" transform="rotate(76 449.2 231.5)"/><ellipse cx="498.2" cy="213.2" rx="1.6" ry="0.7" transform="rotate(30 498.2 213.2)"/><ellipse cx="507.4" cy="257.4" rx="1.4" ry="1.1" transform="rotate(150 507.4 257.4)"/><ellipse cx="457.0" cy="229.5" rx="0.9" ry="1.0" transform="rotate(19 457.0 229.5)"/><ellipse cx="438.8" cy="264.9" rx="1.6" ry="1.1" transform="rotate(102 438.8 264.9)"/><ellipse cx="448.4" cy="197.8" rx="1.5" ry="0.7" transform="rotate(40 448.4 197.8)"/><ellipse cx="446.8" cy="249.4" rx="1.3" ry="0.7" transform="rotate(68 446.8 249.4)"/><ellipse cx="469.9" cy="267.7" rx="2.0" ry="1.1" transform="rotate(30 469.9 267.7)"/><ellipse cx="476.3" cy="235.5" rx="1.0" ry="0.9" transform="rotate(94 476.3 235.5)"/><ellipse cx="512.0" cy="248.8" rx="1.5" ry="1.1" transform="rotate(84 512.0 248.8)"/><ellipse cx="421.6" cy="211.2" rx="1.7" ry="1.1" transform="rotate(172 421.6 211.2)"/><ellipse cx="470.1" cy="199.9" rx="1.7" ry="0.7" transform="rotate(97 470.1 199.9)"/><ellipse cx="465.2" cy="263.9" rx="1.0" ry="0.7" transform="rotate(11 465.2 263.9)"/><ellipse cx="483.8" cy="260.4" rx="2.0" ry="0.7" transform="rotate(28 483.8 260.4)"/><ellipse cx="470.5" cy="251.2" rx="1.5" ry="1.1" transform="rotate(21 470.5 251.2)"/><ellipse cx="453.7" cy="253.6" rx="2.1" ry="0.8" transform="rotate(82 453.7 253.6)"/><ellipse cx="496.7" cy="202.4" rx="1.1" ry="0.8" transform="rotate(61 496.7 202.4)"/><ellipse cx="458.3" cy="214.1" rx="1.8" ry="0.9" transform="rotate(75 458.3 214.1)"/><ellipse cx="443.4" cy="247.5" rx="1.4" ry="0.9" transform="rotate(128 443.4 247.5)"/><ellipse cx="436.9" cy="256.3" rx="1.3" ry="1.2" transform="rotate(64 436.9 256.3)"/><ellipse cx="449.1" cy="211.1" rx="1.6" ry="1.0" transform="rotate(69 449.1 211.1)"/><ellipse cx="457.7" cy="245.6" rx="2.1" ry="0.9" transform="rotate(4 457.7 245.6)"/><ellipse cx="462.3" cy="228.7" rx="2.0" ry="0.9" transform="rotate(50 462.3 228.7)"/><ellipse cx="429.8" cy="221.9" rx="1.4" ry="0.7" transform="rotate(87 429.8 221.9)"/><ellipse cx="502.8" cy="207.7" rx="1.5" ry="0.9" transform="rotate(131 502.8 207.7)"/><ellipse cx="483.3" cy="198.2" rx="1.5" ry="0.9" transform="rotate(88 483.3 198.2)"/><ellipse cx="421.1" cy="197.8" rx="1.5" ry="0.8" transform="rotate(88 421.1 197.8)"/><ellipse cx="431.7" cy="222.8" rx="2.0" ry="1.1" transform="rotate(121 431.7 222.8)"/><ellipse cx="421.2" cy="221.0" rx="2.0" ry="0.9" transform="rotate(88 421.2 221.0)"/><ellipse cx="494.8" cy="245.9" rx="2.2" ry="0.9" transform="rotate(13 494.8 245.9)"/><ellipse cx="476.5" cy="215.4" rx="2.2" ry="0.8" transform="rotate(163 476.5 215.4)"/><ellipse cx="466.0" cy="201.5" rx="1.7" ry="0.7" transform="rotate(137 466.0 201.5)"/><ellipse cx="497.3" cy="235.8" rx="2.0" ry="0.7" transform="rotate(167 497.3 235.8)"/><ellipse cx="442.8" cy="257.2" rx="1.1" ry="1.2" transform="rotate(6 442.8 257.2)"/><ellipse cx="495.6" cy="215.1" rx="0.9" ry="0.7" transform="rotate(61 495.6 215.1)"/><ellipse cx="422.0" cy="238.7" rx="1.1" ry="1.1" transform="rotate(110 422.0 238.7)"/><ellipse cx="465.8" cy="239.6" rx="1.2" ry="1.1" transform="rotate(119 465.8 239.6)"/><ellipse cx="458.8" cy="232.4" rx="1.2" ry="0.9" transform="rotate(23 458.8 232.4)"/><ellipse cx="487.6" cy="229.5" rx="1.9" ry="0.8" transform="rotate(101 487.6 229.5)"/><ellipse cx="422.5" cy="236.9" rx="0.9" ry="0.9" transform="rotate(170 422.5 236.9)"/><ellipse cx="481.2" cy="231.7" rx="1.6" ry="0.6" transform="rotate(19 481.2 231.7)"/><ellipse cx="427.5" cy="221.0" rx="1.6" ry="1.2" transform="rotate(32 427.5 221.0)"/><ellipse cx="440.8" cy="267.2" rx="2.0" ry="0.9" transform="rotate(63 440.8 267.2)"/><ellipse cx="492.8" cy="258.4" rx="1.1" ry="1.1" transform="rotate(152 492.8 258.4)"/><ellipse cx="432.0" cy="249.1" rx="1.3" ry="0.7" transform="rotate(8 432.0 249.1)"/><ellipse cx="478.2" cy="219.4" rx="1.2" ry="0.8" transform="rotate(102 478.2 219.4)"/><ellipse cx="503.9" cy="239.4" rx="1.8" ry="1.2" transform="rotate(88 503.9 239.4)"/><ellipse cx="451.7" cy="204.8" rx="1.1" ry="0.8" transform="rotate(43 451.7 204.8)"/><ellipse cx="489.3" cy="251.4" rx="1.1" ry="0.8" transform="rotate(19 489.3 251.4)"/><ellipse cx="498.7" cy="231.4" rx="1.3" ry="0.9" transform="rotate(97 498.7 231.4)"/><ellipse cx="476.7" cy="220.9" rx="1.9" ry="0.8" transform="rotate(108 476.7 220.9)"/><ellipse cx="463.0" cy="206.3" rx="1.0" ry="0.6" transform="rotate(47 463.0 206.3)"/><ellipse cx="428.8" cy="260.7" rx="1.7" ry="1.1" transform="rotate(132 428.8 260.7)"/><ellipse cx="437.2" cy="222.0" rx="2.0" ry="0.9" transform="rotate(105 437.2 222.0)"/><ellipse cx="432.6" cy="200.1" rx="1.9" ry="1.1" transform="rotate(6 432.6 200.1)"/><ellipse cx="434.4" cy="254.5" rx="2.0" ry="1.0" transform="rotate(8 434.4 254.5)"/><ellipse cx="464.6" cy="230.9" rx="2.1" ry="0.8" transform="rotate(40 464.6 230.9)"/><ellipse cx="445.4" cy="251.8" rx="1.6" ry="0.9" transform="rotate(104 445.4 251.8)"/><ellipse cx="431.2" cy="204.7" rx="1.8" ry="1.0" transform="rotate(176 431.2 204.7)"/><ellipse cx="472.6" cy="213.7" rx="1.7" ry="0.6" transform="rotate(28 472.6 213.7)"/><ellipse cx="423.5" cy="221.4" rx="2.1" ry="0.9" transform="rotate(105 423.5 221.4)"/><ellipse cx="449.1" cy="264.8" rx="1.5" ry="0.9" transform="rotate(54 449.1 264.8)"/><ellipse cx="425.0" cy="204.5" rx="1.9" ry="0.8" transform="rotate(1 425.0 204.5)"/><ellipse cx="483.6" cy="228.7" rx="2.0" ry="0.8" transform="rotate(89 483.6 228.7)"/><ellipse cx="430.4" cy="244.5" rx="1.6" ry="0.8" transform="rotate(5 430.4 244.5)"/><ellipse cx="460.2" cy="248.7" rx="2.2" ry="1.1" transform="rotate(151 460.2 248.7)"/><ellipse cx="496.4" cy="263.5" rx="1.3" ry="0.6" transform="rotate(69 496.4 263.5)"/><ellipse cx="462.7" cy="201.0" rx="1.4" ry="0.8" transform="rotate(39 462.7 201.0)"/><ellipse cx="491.4" cy="229.9" rx="0.9" ry="1.0" transform="rotate(127 491.4 229.9)"/><ellipse cx="491.1" cy="197.9" rx="1.7" ry="0.7" transform="rotate(63 491.1 197.9)"/><ellipse cx="495.2" cy="266.1" rx="1.7" ry="1.1" transform="rotate(141 495.2 266.1)"/><ellipse cx="507.3" cy="264.8" rx="1.7" ry="0.7" transform="rotate(60 507.3 264.8)"/><ellipse cx="505.2" cy="201.1" rx="1.6" ry="0.7" transform="rotate(52 505.2 201.1)"/><ellipse cx="459.7" cy="221.9" rx="1.6" ry="1.1" transform="rotate(120 459.7 221.9)"/><ellipse cx="478.1" cy="248.2" rx="1.8" ry="1.1" transform="rotate(3 478.1 248.2)"/><ellipse cx="433.5" cy="252.6" rx="1.0" ry="1.0" transform="rotate(141 433.5 252.6)"/><ellipse cx="449.6" cy="223.3" rx="1.6" ry="0.9" transform="rotate(179 449.6 223.3)"/><ellipse cx="494.3" cy="224.8" rx="2.2" ry="0.7" transform="rotate(23 494.3 224.8)"/><ellipse cx="503.9" cy="266.3" rx="1.1" ry="0.9" transform="rotate(84 503.9 266.3)"/><ellipse cx="471.0" cy="252.9" rx="1.2" ry="0.6" transform="rotate(180 471.0 252.9)"/><ellipse cx="511.3" cy="197.2" rx="2.1" ry="1.1" transform="rotate(173 511.3 197.2)"/><ellipse cx="458.0" cy="211.2" rx="1.5" ry="1.0" transform="rotate(108 458.0 211.2)"/><ellipse cx="438.7" cy="230.4" rx="1.7" ry="1.2" transform="rotate(164 438.7 230.4)"/><ellipse cx="490.0" cy="206.5" rx="1.1" ry="0.6" transform="rotate(116 490.0 206.5)"/><ellipse cx="476.5" cy="197.6" rx="1.4" ry="0.7" transform="rotate(9 476.5 197.6)"/><ellipse cx="482.2" cy="216.7" rx="1.6" ry="0.9" transform="rotate(44 482.2 216.7)"/><ellipse cx="498.8" cy="255.3" rx="1.0" ry="0.6" transform="rotate(168 498.8 255.3)"/><ellipse cx="490.1" cy="225.4" rx="1.6" ry="0.8" transform="rotate(10 490.1 225.4)"/><ellipse cx="440.7" cy="244.2" rx="1.2" ry="1.0" transform="rotate(132 440.7 244.2)"/><ellipse cx="441.8" cy="259.9" rx="1.5" ry="0.7" transform="rotate(72 441.8 259.9)"/><ellipse cx="463.7" cy="216.7" rx="1.1" ry="0.9" transform="rotate(141 463.7 216.7)"/><ellipse cx="458.2" cy="261.8" rx="1.6" ry="0.7" transform="rotate(118 458.2 261.8)"/><ellipse cx="430.6" cy="240.0" rx="1.0" ry="0.9" transform="rotate(166 430.6 240.0)"/><ellipse cx="455.0" cy="198.6" rx="1.5" ry="0.9" transform="rotate(112 455.0 198.6)"/><ellipse cx="497.4" cy="241.2" rx="2.1" ry="1.2" transform="rotate(43 497.4 241.2)"/><ellipse cx="484.7" cy="205.7" rx="0.9" ry="0.8" transform="rotate(114 484.7 205.7)"/><ellipse cx="461.0" cy="229.7" rx="1.6" ry="1.0" transform="rotate(142 461.0 229.7)"/><ellipse cx="462.4" cy="248.9" rx="2.1" ry="1.1" transform="rotate(34 462.4 248.9)"/><ellipse cx="505.0" cy="264.5" rx="1.3" ry="1.1" transform="rotate(141 505.0 264.5)"/><ellipse cx="495.6" cy="230.5" rx="2.2" ry="0.7" transform="rotate(18 495.6 230.5)"/><ellipse cx="436.9" cy="236.3" rx="1.3" ry="0.7" transform="rotate(155 436.9 236.3)"/><ellipse cx="493.2" cy="237.2" rx="1.7" ry="1.1" transform="rotate(102 493.2 237.2)"/><ellipse cx="492.8" cy="215.8" rx="2.2" ry="1.1" transform="rotate(65 492.8 215.8)"/><ellipse cx="470.7" cy="219.7" rx="1.3" ry="0.9" transform="rotate(162 470.7 219.7)"/><ellipse cx="475.6" cy="251.5" rx="1.8" ry="0.7" transform="rotate(127 475.6 251.5)"/><ellipse cx="452.1" cy="250.2" rx="2.1" ry="0.6" transform="rotate(104 452.1 250.2)"/><ellipse cx="511.5" cy="232.0" rx="1.0" ry="0.6" transform="rotate(53 511.5 232.0)"/><ellipse cx="512.2" cy="252.9" rx="2.0" ry="0.9" transform="rotate(176 512.2 252.9)"/><ellipse cx="438.7" cy="235.1" rx="1.1" ry="0.9" transform="rotate(43 438.7 235.1)"/><ellipse cx="473.5" cy="266.9" rx="0.9" ry="0.7" transform="rotate(145 473.5 266.9)"/><ellipse cx="472.4" cy="247.2" rx="1.6" ry="0.9" transform="rotate(178 472.4 247.2)"/><ellipse cx="422.0" cy="227.9" rx="1.0" ry="0.9" transform="rotate(155 422.0 227.9)"/><ellipse cx="508.5" cy="265.3" rx="1.3" ry="0.7" transform="rotate(3 508.5 265.3)"/><ellipse cx="511.3" cy="253.7" rx="1.4" ry="1.0" transform="rotate(48 511.3 253.7)"/><ellipse cx="423.3" cy="208.8" rx="1.3" ry="0.7" transform="rotate(142 423.3 208.8)"/><ellipse cx="504.8" cy="248.2" rx="1.9" ry="0.9" transform="rotate(154 504.8 248.2)"/><ellipse cx="438.0" cy="246.4" rx="1.8" ry="1.0" transform="rotate(99 438.0 246.4)"/><ellipse cx="493.6" cy="200.9" rx="2.0" ry="1.0" transform="rotate(30 493.6 200.9)"/><ellipse cx="500.8" cy="201.0" rx="0.9" ry="0.7" transform="rotate(94 500.8 201.0)"/><ellipse cx="425.3" cy="210.5" rx="1.0" ry="1.0" transform="rotate(46 425.3 210.5)"/><ellipse cx="474.8" cy="245.7" rx="1.3" ry="0.7" transform="rotate(176 474.8 245.7)"/><ellipse cx="449.0" cy="254.8" rx="1.9" ry="0.7" transform="rotate(118 449.0 254.8)"/><ellipse cx="433.3" cy="230.6" rx="1.2" ry="1.1" transform="rotate(163 433.3 230.6)"/><ellipse cx="485.6" cy="223.0" rx="2.1" ry="0.7" transform="rotate(126 485.6 223.0)"/><ellipse cx="445.0" cy="224.7" rx="1.4" ry="1.0" transform="rotate(36 445.0 224.7)"/><ellipse cx="499.8" cy="244.2" rx="2.1" ry="0.7" transform="rotate(98 499.8 244.2)"/><ellipse cx="485.1" cy="224.0" rx="1.2" ry="0.8" transform="rotate(169 485.1 224.0)"/><ellipse cx="431.6" cy="229.3" rx="1.3" ry="1.1" transform="rotate(124 431.6 229.3)"/><ellipse cx="494.6" cy="216.2" rx="1.8" ry="0.7" transform="rotate(109 494.6 216.2)"/><ellipse cx="480.7" cy="241.4" rx="1.3" ry="0.7" transform="rotate(157 480.7 241.4)"/><ellipse cx="471.0" cy="257.9" rx="1.2" ry="0.7" transform="rotate(22 471.0 257.9)"/><ellipse cx="511.8" cy="251.0" rx="2.0" ry="0.9" transform="rotate(17 511.8 251.0)"/><ellipse cx="423.2" cy="201.3" rx="1.0" ry="0.7" transform="rotate(45 423.2 201.3)"/><ellipse cx="426.8" cy="207.0" rx="1.5" ry="1.1" transform="rotate(18 426.8 207.0)"/><ellipse cx="493.1" cy="234.6" rx="2.1" ry="0.6" transform="rotate(11 493.1 234.6)"/><ellipse cx="422.2" cy="250.2" rx="1.9" ry="0.8" transform="rotate(113 422.2 250.2)"/><ellipse cx="503.1" cy="258.9" rx="2.1" ry="1.1" transform="rotate(8 503.1 258.9)"/><ellipse cx="499.5" cy="231.0" rx="2.1" ry="1.1" transform="rotate(143 499.5 231.0)"/><ellipse cx="446.5" cy="209.1" rx="1.5" ry="1.1" transform="rotate(117 446.5 209.1)"/><ellipse cx="462.5" cy="208.3" rx="2.2" ry="1.0" transform="rotate(68 462.5 208.3)"/><ellipse cx="436.5" cy="210.3" rx="2.1" ry="0.9" transform="rotate(70 436.5 210.3)"/><ellipse cx="445.8" cy="212.0" rx="1.6" ry="0.7" transform="rotate(45 445.8 212.0)"/><ellipse cx="430.7" cy="255.4" rx="1.7" ry="0.8" transform="rotate(118 430.7 255.4)"/><ellipse cx="459.6" cy="259.4" rx="1.5" ry="0.7" transform="rotate(47 459.6 259.4)"/><ellipse cx="456.8" cy="203.0" rx="2.2" ry="0.6" transform="rotate(139 456.8 203.0)"/><ellipse cx="454.2" cy="264.6" rx="2.0" ry="0.7" transform="rotate(22 454.2 264.6)"/><ellipse cx="463.5" cy="252.6" rx="1.9" ry="0.8" transform="rotate(142 463.5 252.6)"/><ellipse cx="470.6" cy="206.2" rx="1.9" ry="0.8" transform="rotate(179 470.6 206.2)"/><ellipse cx="466.4" cy="238.4" rx="1.3" ry="1.1" transform="rotate(65 466.4 238.4)"/><ellipse cx="435.6" cy="264.5" rx="1.5" ry="0.9" transform="rotate(99 435.6 264.5)"/><ellipse cx="422.3" cy="220.1" rx="1.0" ry="0.6" transform="rotate(83 422.3 220.1)"/><ellipse cx="421.6" cy="240.9" rx="2.1" ry="1.0" transform="rotate(1 421.6 240.9)"/><ellipse cx="487.1" cy="200.0" rx="1.2" ry="1.2" transform="rotate(91 487.1 200.0)"/><ellipse cx="453.7" cy="211.1" rx="1.3" ry="0.7" transform="rotate(77 453.7 211.1)"/><ellipse cx="492.7" cy="212.4" rx="1.9" ry="1.1" transform="rotate(164 492.7 212.4)"/><ellipse cx="488.0" cy="259.8" rx="0.9" ry="0.8" transform="rotate(172 488.0 259.8)"/><ellipse cx="504.3" cy="235.7" rx="1.5" ry="0.8" transform="rotate(166 504.3 235.7)"/><ellipse cx="497.6" cy="215.7" rx="2.0" ry="0.8" transform="rotate(73 497.6 215.7)"/><ellipse cx="481.3" cy="207.8" rx="2.2" ry="0.7" transform="rotate(38 481.3 207.8)"/><ellipse cx="436.1" cy="198.1" rx="1.4" ry="1.0" transform="rotate(14 436.1 198.1)"/><ellipse cx="502.1" cy="267.1" rx="1.5" ry="0.8" transform="rotate(64 502.1 267.1)"/><ellipse cx="463.6" cy="257.7" rx="1.9" ry="1.1" transform="rotate(74 463.6 257.7)"/><ellipse cx="458.6" cy="221.2" rx="1.8" ry="1.1" transform="rotate(16 458.6 221.2)"/><ellipse cx="479.3" cy="216.6" rx="1.2" ry="1.1" transform="rotate(127 479.3 216.6)"/><ellipse cx="507.6" cy="220.1" rx="1.5" ry="0.8" transform="rotate(109 507.6 220.1)"/><ellipse cx="503.0" cy="219.4" rx="1.9" ry="0.7" transform="rotate(143 503.0 219.4)"/><ellipse cx="497.2" cy="223.6" rx="1.5" ry="0.8" transform="rotate(66 497.2 223.6)"/><ellipse cx="459.8" cy="250.6" rx="1.1" ry="1.1" transform="rotate(56 459.8 250.6)"/><ellipse cx="460.5" cy="235.2" rx="1.8" ry="1.0" transform="rotate(31 460.5 235.2)"/><ellipse cx="479.5" cy="263.1" rx="1.6" ry="0.6" transform="rotate(13 479.5 263.1)"/><ellipse cx="454.8" cy="242.7" rx="1.3" ry="1.1" transform="rotate(146 454.8 242.7)"/><ellipse cx="505.7" cy="262.4" rx="1.7" ry="0.9" transform="rotate(79 505.7 262.4)"/><ellipse cx="427.3" cy="216.4" rx="1.1" ry="0.9" transform="rotate(151 427.3 216.4)"/><ellipse cx="483.1" cy="226.3" rx="1.6" ry="0.7" transform="rotate(105 483.1 226.3)"/><ellipse cx="424.6" cy="234.2" rx="1.6" ry="1.2" transform="rotate(114 424.6 234.2)"/><ellipse cx="435.0" cy="203.1" rx="2.1" ry="1.2" transform="rotate(150 435.0 203.1)"/><ellipse cx="503.1" cy="225.2" rx="1.7" ry="0.9" transform="rotate(102 503.1 225.2)"/><ellipse cx="459.7" cy="255.7" rx="0.9" ry="1.1" transform="rotate(139 459.7 255.7)"/><ellipse cx="459.7" cy="248.9" rx="1.7" ry="0.8" transform="rotate(175 459.7 248.9)"/><ellipse cx="476.8" cy="227.6" rx="1.1" ry="1.1" transform="rotate(33 476.8 227.6)"/><ellipse cx="460.6" cy="228.2" rx="1.7" ry="1.0" transform="rotate(64 460.6 228.2)"/><ellipse cx="494.0" cy="218.5" rx="1.6" ry="0.7" transform="rotate(108 494.0 218.5)"/><ellipse cx="500.2" cy="240.3" rx="1.6" ry="0.9" transform="rotate(87 500.2 240.3)"/><ellipse cx="458.8" cy="233.4" rx="1.4" ry="1.1" transform="rotate(148 458.8 233.4)"/><ellipse cx="422.1" cy="219.6" rx="1.8" ry="0.7" transform="rotate(134 422.1 219.6)"/><ellipse cx="453.9" cy="228.4" rx="1.0" ry="0.7" transform="rotate(147 453.9 228.4)"/><ellipse cx="448.8" cy="225.8" rx="1.4" ry="1.0" transform="rotate(127 448.8 225.8)"/><ellipse cx="442.1" cy="222.7" rx="1.5" ry="0.9" transform="rotate(139 442.1 222.7)"/><ellipse cx="460.1" cy="203.7" rx="1.0" ry="0.7" transform="rotate(91 460.1 203.7)"/><ellipse cx="488.6" cy="249.8" rx="1.9" ry="0.8" transform="rotate(175 488.6 249.8)"/><ellipse cx="439.9" cy="211.8" rx="2.1" ry="0.9" transform="rotate(46 439.9 211.8)"/><ellipse cx="469.4" cy="233.7" rx="1.7" ry="0.6" transform="rotate(21 469.4 233.7)"/><ellipse cx="479.6" cy="213.4" rx="1.7" ry="0.9" transform="rotate(173 479.6 213.4)"/><ellipse cx="431.9" cy="216.5" rx="2.1" ry="0.9" transform="rotate(50 431.9 216.5)"/><ellipse cx="468.0" cy="230.6" rx="1.8" ry="0.9" transform="rotate(64 468.0 230.6)"/><ellipse cx="472.7" cy="247.6" rx="1.1" ry="1.1" transform="rotate(116 472.7 247.6)"/><ellipse cx="436.7" cy="237.1" rx="2.2" ry="0.8" transform="rotate(165 436.7 237.1)"/><ellipse cx="472.0" cy="243.1" rx="1.4" ry="1.0" transform="rotate(42 472.0 243.1)"/><ellipse cx="440.2" cy="250.7" rx="0.9" ry="1.2" transform="rotate(179 440.2 250.7)"/><ellipse cx="466.1" cy="253.2" rx="1.5" ry="0.6" transform="rotate(89 466.1 253.2)"/><ellipse cx="445.9" cy="199.8" rx="1.8" ry="0.8" transform="rotate(97 445.9 199.8)"/><ellipse cx="503.6" cy="264.7" rx="1.3" ry="0.7" transform="rotate(44 503.6 264.7)"/><ellipse cx="440.9" cy="245.2" rx="2.2" ry="0.9" transform="rotate(138 440.9 245.2)"/><ellipse cx="458.3" cy="264.3" rx="1.6" ry="0.8" transform="rotate(9 458.3 264.3)"/><ellipse cx="488.3" cy="220.2" rx="2.1" ry="1.2" transform="rotate(23 488.3 220.2)"/><ellipse cx="506.6" cy="208.5" rx="1.4" ry="0.8" transform="rotate(58 506.6 208.5)"/><ellipse cx="469.3" cy="255.3" rx="1.9" ry="1.1" transform="rotate(180 469.3 255.3)"/><ellipse cx="464.2" cy="218.2" rx="1.4" ry="1.2" transform="rotate(175 464.2 218.2)"/><ellipse cx="489.5" cy="220.4" rx="1.8" ry="1.0" transform="rotate(37 489.5 220.4)"/><ellipse cx="474.0" cy="235.5" rx="2.1" ry="0.9" transform="rotate(50 474.0 235.5)"/><ellipse cx="505.3" cy="254.2" rx="1.1" ry="0.7" transform="rotate(134 505.3 254.2)"/><ellipse cx="454.8" cy="264.6" rx="1.0" ry="0.7" transform="rotate(23 454.8 264.6)"/><ellipse cx="444.3" cy="239.0" rx="1.9" ry="0.9" transform="rotate(22 444.3 239.0)"/><ellipse cx="476.1" cy="255.6" rx="2.1" ry="0.9" transform="rotate(61 476.1 255.6)"/><ellipse cx="481.5" cy="253.0" rx="2.0" ry="0.6" transform="rotate(67 481.5 253.0)"/><ellipse cx="470.1" cy="234.2" rx="1.6" ry="1.2" transform="rotate(16 470.1 234.2)"/><ellipse cx="484.6" cy="219.7" rx="1.9" ry="1.1" transform="rotate(109 484.6 219.7)"/><ellipse cx="489.8" cy="254.1" rx="1.9" ry="0.9" transform="rotate(73 489.8 254.1)"/><ellipse cx="453.3" cy="228.5" rx="1.8" ry="0.9" transform="rotate(175 453.3 228.5)"/><ellipse cx="511.6" cy="243.1" rx="1.7" ry="0.9" transform="rotate(102 511.6 243.1)"/><ellipse cx="424.9" cy="227.8" rx="2.1" ry="1.0" transform="rotate(45 424.9 227.8)"/><ellipse cx="431.9" cy="209.8" rx="1.9" ry="1.0" transform="rotate(7 431.9 209.8)"/><ellipse cx="451.5" cy="209.1" rx="1.7" ry="0.7" transform="rotate(47 451.5 209.1)"/><ellipse cx="424.2" cy="217.4" rx="1.1" ry="1.0" transform="rotate(180 424.2 217.4)"/><ellipse cx="507.0" cy="260.0" rx="1.5" ry="1.0" transform="rotate(116 507.0 260.0)"/><ellipse cx="501.4" cy="224.2" rx="1.6" ry="0.6" transform="rotate(100 501.4 224.2)"/><ellipse cx="500.8" cy="257.0" rx="1.1" ry="0.7" transform="rotate(157 500.8 257.0)"/><ellipse cx="466.7" cy="218.2" rx="0.9" ry="0.7" transform="rotate(29 466.7 218.2)"/><ellipse cx="436.6" cy="232.7" rx="1.0" ry="0.6" transform="rotate(161 436.6 232.7)"/><ellipse cx="510.6" cy="197.7" rx="1.9" ry="1.0" transform="rotate(35 510.6 197.7)"/><ellipse cx="459.3" cy="264.9" rx="1.7" ry="1.1" transform="rotate(20 459.3 264.9)"/><ellipse cx="503.4" cy="203.8" rx="1.2" ry="0.8" transform="rotate(103 503.4 203.8)"/><ellipse cx="431.7" cy="203.2" rx="1.4" ry="0.9" transform="rotate(177 431.7 203.2)"/><ellipse cx="483.9" cy="261.2" rx="1.7" ry="1.2" transform="rotate(150 483.9 261.2)"/><ellipse cx="445.6" cy="255.3" rx="1.9" ry="1.1" transform="rotate(15 445.6 255.3)"/><ellipse cx="485.7" cy="243.5" rx="1.1" ry="0.9" transform="rotate(176 485.7 243.5)"/><ellipse cx="449.0" cy="230.5" rx="1.9" ry="0.9" transform="rotate(137 449.0 230.5)"/><ellipse cx="429.2" cy="210.3" rx="1.8" ry="1.1" transform="rotate(114 429.2 210.3)"/><ellipse cx="456.1" cy="239.3" rx="1.9" ry="0.7" transform="rotate(52 456.1 239.3)"/><ellipse cx="458.4" cy="260.0" rx="1.6" ry="0.9" transform="rotate(123 458.4 260.0)"/><ellipse cx="431.4" cy="200.7" rx="1.2" ry="1.0" transform="rotate(159 431.4 200.7)"/><ellipse cx="440.8" cy="264.6" rx="1.3" ry="1.0" transform="rotate(101 440.8 264.6)"/><ellipse cx="452.8" cy="211.3" rx="1.3" ry="1.2" transform="rotate(24 452.8 211.3)"/><ellipse cx="464.4" cy="226.5" rx="1.0" ry="1.1" transform="rotate(80 464.4 226.5)"/><ellipse cx="479.9" cy="222.8" rx="2.0" ry="1.0" transform="rotate(74 479.9 222.8)"/><ellipse cx="451.2" cy="207.2" rx="1.6" ry="1.0" transform="rotate(177 451.2 207.2)"/><ellipse cx="459.0" cy="223.0" rx="1.5" ry="1.1" transform="rotate(41 459.0 223.0)"/><ellipse cx="424.8" cy="236.1" rx="1.1" ry="0.6" transform="rotate(101 424.8 236.1)"/></g>
<rect x="421" y="196.5" width="91.8" height="71.8" filter="url(#nMd)" opacity="0.6"/>
<rect x="421" y="196.5" width="91.8" height="71.8" filter="url(#nFl)" opacity="0.25"/>
<ellipse cx="474.2" cy="209.8" rx="1.2" ry="1.8" fill="#6b4a1e"/>
<ellipse cx="447.0" cy="256.0" rx="1.5" ry="1.7" fill="#5a3a1a"/>
<ellipse cx="445.0" cy="253.0" rx="1.0" ry="1.2" fill="#7a5a2a"/>
</g>
<g clip-path="url(#c12)">
<rect x="421.00" y="270.10" width="91.80" height="71.90" fill="#cccdcc"/>
<ellipse cx="472.0" cy="300.0" rx="12.0" ry="10.0" fill="#d6d7cf" filter="url(#b4)" fill-opacity="0.8"/>
<ellipse cx="460.5" cy="289.5" rx="8.5" ry="10.5" fill="none" stroke="#8ea5cc" stroke-width="4.5" filter="url(#b1)"/>
<ellipse cx="460.5" cy="289.5" rx="5.2" ry="7.2" fill="#dcdccf" filter="url(#b1)"/>
<ellipse cx="426.0" cy="311.0" rx="6.0" ry="11.0" fill="none" stroke="#98acd0" stroke-width="4.5" filter="url(#b1)"/>
<ellipse cx="443.0" cy="275.5" rx="4.5" ry="4.0" fill="none" stroke="#a2b2cf" stroke-width="2.2" filter="url(#b05)"/>
<ellipse cx="487.0" cy="277.0" rx="8.0" ry="7.0" fill="#a3b5d0" filter="url(#b2)" fill-opacity="0.9"/>
<ellipse cx="500.0" cy="300.0" rx="8.0" ry="6.0" fill="#b3c0d3" filter="url(#b2)" fill-opacity="0.7"/>
<g fill="#76839f" opacity="0.48" filter="url(#b07)"><ellipse cx="470.5" cy="295.4" rx="1.4" ry="1.2" transform="rotate(66 470.5 295.4)"/><ellipse cx="479.2" cy="318.9" rx="1.8" ry="0.7" transform="rotate(59 479.2 318.9)"/><ellipse cx="425.8" cy="331.4" rx="2.2" ry="1.1" transform="rotate(2 425.8 331.4)"/><ellipse cx="493.2" cy="274.4" rx="2.0" ry="0.9" transform="rotate(37 493.2 274.4)"/><ellipse cx="478.7" cy="279.7" rx="1.5" ry="1.1" transform="rotate(34 478.7 279.7)"/><ellipse cx="470.7" cy="278.6" rx="1.1" ry="0.9" transform="rotate(156 470.7 278.6)"/><ellipse cx="475.0" cy="293.7" rx="2.1" ry="0.9" transform="rotate(75 475.0 293.7)"/><ellipse cx="470.6" cy="339.9" rx="2.1" ry="0.8" transform="rotate(50 470.6 339.9)"/><ellipse cx="449.7" cy="333.6" rx="2.0" ry="1.1" transform="rotate(12 449.7 333.6)"/><ellipse cx="503.3" cy="275.2" rx="1.9" ry="0.9" transform="rotate(43 503.3 275.2)"/><ellipse cx="421.5" cy="320.2" rx="2.2" ry="0.7" transform="rotate(144 421.5 320.2)"/><ellipse cx="444.2" cy="330.7" rx="1.3" ry="0.9" transform="rotate(17 444.2 330.7)"/><ellipse cx="459.5" cy="309.5" rx="1.7" ry="1.0" transform="rotate(156 459.5 309.5)"/><ellipse cx="475.5" cy="286.0" rx="2.2" ry="1.1" transform="rotate(81 475.5 286.0)"/><ellipse cx="491.6" cy="308.9" rx="1.7" ry="0.8" transform="rotate(156 491.6 308.9)"/><ellipse cx="469.4" cy="285.1" rx="1.3" ry="1.1" transform="rotate(103 469.4 285.1)"/><ellipse cx="497.1" cy="341.6" rx="1.0" ry="1.0" transform="rotate(150 497.1 341.6)"/><ellipse cx="495.4" cy="332.9" rx="1.5" ry="0.9" transform="rotate(89 495.4 332.9)"/><ellipse cx="435.3" cy="338.9" rx="1.2" ry="1.2" transform="rotate(178 435.3 338.9)"/><ellipse cx="440.2" cy="277.0" rx="2.0" ry="0.7" transform="rotate(132 440.2 277.0)"/><ellipse cx="508.7" cy="299.4" rx="1.3" ry="0.7" transform="rotate(33 508.7 299.4)"/><ellipse cx="492.0" cy="291.3" rx="1.5" ry="0.7" transform="rotate(125 492.0 291.3)"/><ellipse cx="475.0" cy="339.7" rx="2.2" ry="0.7" transform="rotate(33 475.0 339.7)"/><ellipse cx="474.0" cy="283.3" rx="1.6" ry="1.1" transform="rotate(179 474.0 283.3)"/><ellipse cx="486.1" cy="302.8" rx="2.0" ry="1.1" transform="rotate(47 486.1 302.8)"/><ellipse cx="493.1" cy="328.3" rx="1.2" ry="0.9" transform="rotate(8 493.1 328.3)"/><ellipse cx="428.2" cy="312.9" rx="1.4" ry="1.0" transform="rotate(171 428.2 312.9)"/><ellipse cx="439.6" cy="327.5" rx="2.0" ry="0.9" transform="rotate(161 439.6 327.5)"/><ellipse cx="453.0" cy="276.9" rx="2.1" ry="0.9" transform="rotate(153 453.0 276.9)"/><ellipse cx="491.3" cy="287.2" rx="1.2" ry="1.0" transform="rotate(136 491.3 287.2)"/><ellipse cx="422.1" cy="298.3" rx="1.0" ry="0.8" transform="rotate(43 422.1 298.3)"/><ellipse cx="505.5" cy="292.5" rx="1.8" ry="1.1" transform="rotate(21 505.5 292.5)"/><ellipse cx="452.7" cy="336.5" rx="1.6" ry="1.1" transform="rotate(125 452.7 336.5)"/><ellipse cx="495.4" cy="313.9" rx="1.6" ry="1.0" transform="rotate(45 495.4 313.9)"/><ellipse cx="503.5" cy="337.7" rx="1.6" ry="1.2" transform="rotate(11 503.5 337.7)"/><ellipse cx="460.7" cy="324.5" rx="2.0" ry="0.7" transform="rotate(41 460.7 324.5)"/><ellipse cx="445.1" cy="288.5" rx="1.8" ry="1.1" transform="rotate(26 445.1 288.5)"/><ellipse cx="435.5" cy="285.1" rx="1.3" ry="1.0" transform="rotate(72 435.5 285.1)"/><ellipse cx="431.8" cy="312.4" rx="1.1" ry="0.9" transform="rotate(91 431.8 312.4)"/><ellipse cx="455.5" cy="275.8" rx="1.7" ry="1.1" transform="rotate(59 455.5 275.8)"/><ellipse cx="508.6" cy="323.3" rx="1.1" ry="1.0" transform="rotate(73 508.6 323.3)"/><ellipse cx="473.7" cy="332.1" rx="1.8" ry="0.7" transform="rotate(46 473.7 332.1)"/><ellipse cx="449.5" cy="301.6" rx="1.4" ry="1.0" transform="rotate(145 449.5 301.6)"/><ellipse cx="511.7" cy="338.2" rx="1.2" ry="1.0" transform="rotate(86 511.7 338.2)"/><ellipse cx="494.0" cy="313.2" rx="1.2" ry="0.8" transform="rotate(135 494.0 313.2)"/><ellipse cx="435.4" cy="275.1" rx="1.9" ry="0.8" transform="rotate(83 435.4 275.1)"/><ellipse cx="508.7" cy="295.9" rx="2.0" ry="1.0" transform="rotate(69 508.7 295.9)"/><ellipse cx="470.2" cy="287.8" rx="1.1" ry="0.7" transform="rotate(16 470.2 287.8)"/><ellipse cx="459.5" cy="294.5" rx="1.2" ry="1.0" transform="rotate(98 459.5 294.5)"/><ellipse cx="508.0" cy="329.1" rx="1.2" ry="1.1" transform="rotate(104 508.0 329.1)"/><ellipse cx="497.9" cy="277.7" rx="2.1" ry="0.7" transform="rotate(152 497.9 277.7)"/><ellipse cx="437.9" cy="322.6" rx="1.0" ry="1.0" transform="rotate(86 437.9 322.6)"/><ellipse cx="497.3" cy="322.8" rx="1.0" ry="0.9" transform="rotate(9 497.3 322.8)"/><ellipse cx="481.5" cy="336.4" rx="1.8" ry="1.1" transform="rotate(128 481.5 336.4)"/><ellipse cx="458.4" cy="283.2" rx="1.4" ry="1.1" transform="rotate(21 458.4 283.2)"/><ellipse cx="471.5" cy="274.1" rx="2.0" ry="0.6" transform="rotate(163 471.5 274.1)"/><ellipse cx="493.3" cy="284.0" rx="1.4" ry="1.0" transform="rotate(9 493.3 284.0)"/><ellipse cx="445.7" cy="301.7" rx="1.1" ry="1.0" transform="rotate(151 445.7 301.7)"/><ellipse cx="450.0" cy="275.4" rx="1.8" ry="0.9" transform="rotate(137 450.0 275.4)"/><ellipse cx="464.0" cy="298.6" rx="0.9" ry="0.7" transform="rotate(122 464.0 298.6)"/><ellipse cx="428.8" cy="278.7" rx="1.4" ry="1.0" transform="rotate(100 428.8 278.7)"/><ellipse cx="469.1" cy="326.6" rx="0.9" ry="0.7" transform="rotate(126 469.1 326.6)"/><ellipse cx="482.2" cy="331.6" rx="1.0" ry="1.0" transform="rotate(149 482.2 331.6)"/><ellipse cx="434.8" cy="292.4" rx="1.7" ry="1.1" transform="rotate(153 434.8 292.4)"/><ellipse cx="476.6" cy="335.1" rx="1.5" ry="1.2" transform="rotate(49 476.6 335.1)"/><ellipse cx="491.3" cy="274.6" rx="1.4" ry="1.0" transform="rotate(38 491.3 274.6)"/><ellipse cx="447.7" cy="330.6" rx="1.4" ry="0.8" transform="rotate(145 447.7 330.6)"/><ellipse cx="442.8" cy="287.1" rx="1.6" ry="1.1" transform="rotate(90 442.8 287.1)"/><ellipse cx="466.8" cy="310.9" rx="2.2" ry="0.9" transform="rotate(41 466.8 310.9)"/><ellipse cx="434.9" cy="291.6" rx="1.3" ry="1.2" transform="rotate(132 434.9 291.6)"/><ellipse cx="472.5" cy="327.2" rx="1.8" ry="0.8" transform="rotate(108 472.5 327.2)"/><ellipse cx="495.5" cy="328.3" rx="1.7" ry="1.1" transform="rotate(145 495.5 328.3)"/><ellipse cx="494.7" cy="287.5" rx="2.1" ry="0.8" transform="rotate(8 494.7 287.5)"/><ellipse cx="428.0" cy="332.8" rx="1.7" ry="0.7" transform="rotate(152 428.0 332.8)"/><ellipse cx="500.9" cy="305.6" rx="1.1" ry="0.7" transform="rotate(16 500.9 305.6)"/><ellipse cx="500.9" cy="334.0" rx="1.3" ry="1.0" transform="rotate(168 500.9 334.0)"/><ellipse cx="477.6" cy="296.6" rx="1.0" ry="0.6" transform="rotate(3 477.6 296.6)"/><ellipse cx="462.5" cy="300.3" rx="1.0" ry="0.8" transform="rotate(5 462.5 300.3)"/><ellipse cx="480.5" cy="306.7" rx="1.6" ry="0.7" transform="rotate(136 480.5 306.7)"/><ellipse cx="430.8" cy="296.4" rx="2.0" ry="1.1" transform="rotate(109 430.8 296.4)"/><ellipse cx="509.4" cy="332.1" rx="1.6" ry="0.6" transform="rotate(73 509.4 332.1)"/><ellipse cx="507.6" cy="312.8" rx="2.1" ry="1.0" transform="rotate(8 507.6 312.8)"/><ellipse cx="511.6" cy="278.0" rx="1.0" ry="1.2" transform="rotate(76 511.6 278.0)"/><ellipse cx="434.9" cy="322.0" rx="1.7" ry="0.9" transform="rotate(122 434.9 322.0)"/><ellipse cx="460.5" cy="327.5" rx="1.3" ry="1.0" transform="rotate(109 460.5 327.5)"/><ellipse cx="482.6" cy="302.2" rx="1.1" ry="0.9" transform="rotate(126 482.6 302.2)"/><ellipse cx="492.9" cy="327.0" rx="2.2" ry="0.8" transform="rotate(135 492.9 327.0)"/><ellipse cx="505.1" cy="326.1" rx="1.3" ry="0.7" transform="rotate(137 505.1 326.1)"/><ellipse cx="491.8" cy="275.4" rx="0.9" ry="0.7" transform="rotate(119 491.8 275.4)"/><ellipse cx="461.8" cy="330.3" rx="2.1" ry="1.2" transform="rotate(54 461.8 330.3)"/><ellipse cx="490.1" cy="295.7" rx="2.2" ry="0.9" transform="rotate(82 490.1 295.7)"/><ellipse cx="475.7" cy="311.1" rx="2.2" ry="1.0" transform="rotate(28 475.7 311.1)"/><ellipse cx="483.4" cy="328.7" rx="1.2" ry="1.2" transform="rotate(89 483.4 328.7)"/><ellipse cx="437.3" cy="297.2" rx="1.5" ry="1.0" transform="rotate(127 437.3 297.2)"/><ellipse cx="441.4" cy="331.1" rx="1.5" ry="1.1" transform="rotate(155 441.4 331.1)"/><ellipse cx="500.9" cy="317.0" rx="0.9" ry="1.2" transform="rotate(41 500.9 317.0)"/><ellipse cx="506.3" cy="314.6" rx="1.9" ry="0.8" transform="rotate(97 506.3 314.6)"/><ellipse cx="450.4" cy="295.7" rx="1.6" ry="0.6" transform="rotate(63 450.4 295.7)"/><ellipse cx="441.7" cy="310.9" rx="1.6" ry="0.8" transform="rotate(159 441.7 310.9)"/><ellipse cx="507.7" cy="331.7" rx="2.2" ry="1.0" transform="rotate(48 507.7 331.7)"/><ellipse cx="444.8" cy="314.3" rx="2.1" ry="1.0" transform="rotate(59 444.8 314.3)"/><ellipse cx="425.7" cy="307.6" rx="2.0" ry="1.2" transform="rotate(98 425.7 307.6)"/><ellipse cx="483.5" cy="312.2" rx="1.1" ry="1.0" transform="rotate(96 483.5 312.2)"/><ellipse cx="467.1" cy="299.2" rx="1.4" ry="1.0" transform="rotate(135 467.1 299.2)"/><ellipse cx="451.0" cy="284.5" rx="2.1" ry="0.7" transform="rotate(101 451.0 284.5)"/><ellipse cx="434.8" cy="293.7" rx="1.5" ry="0.8" transform="rotate(155 434.8 293.7)"/><ellipse cx="454.9" cy="294.3" rx="1.4" ry="0.7" transform="rotate(98 454.9 294.3)"/><ellipse cx="488.7" cy="281.9" rx="1.5" ry="0.6" transform="rotate(98 488.7 281.9)"/><ellipse cx="443.5" cy="327.9" rx="2.0" ry="0.7" transform="rotate(151 443.5 327.9)"/><ellipse cx="489.6" cy="295.9" rx="1.2" ry="1.1" transform="rotate(41 489.6 295.9)"/><ellipse cx="511.2" cy="310.2" rx="1.1" ry="0.6" transform="rotate(170 511.2 310.2)"/><ellipse cx="463.6" cy="334.3" rx="1.2" ry="1.2" transform="rotate(92 463.6 334.3)"/><ellipse cx="480.2" cy="295.6" rx="1.7" ry="0.6" transform="rotate(104 480.2 295.6)"/><ellipse cx="471.7" cy="313.9" rx="1.1" ry="0.6" transform="rotate(15 471.7 313.9)"/><ellipse cx="441.4" cy="273.3" rx="2.0" ry="0.7" transform="rotate(106 441.4 273.3)"/><ellipse cx="501.6" cy="288.1" rx="1.4" ry="0.8" transform="rotate(0 501.6 288.1)"/><ellipse cx="453.7" cy="293.6" rx="1.4" ry="1.1" transform="rotate(140 453.7 293.6)"/><ellipse cx="483.1" cy="319.4" rx="1.1" ry="1.2" transform="rotate(138 483.1 319.4)"/><ellipse cx="473.6" cy="272.3" rx="2.1" ry="1.0" transform="rotate(36 473.6 272.3)"/><ellipse cx="421.3" cy="278.2" rx="1.2" ry="0.9" transform="rotate(173 421.3 278.2)"/><ellipse cx="472.7" cy="271.8" rx="1.7" ry="0.6" transform="rotate(76 472.7 271.8)"/><ellipse cx="466.1" cy="326.0" rx="1.2" ry="0.9" transform="rotate(118 466.1 326.0)"/><ellipse cx="437.9" cy="299.6" rx="1.5" ry="1.0" transform="rotate(63 437.9 299.6)"/><ellipse cx="438.1" cy="337.3" rx="2.1" ry="0.8" transform="rotate(138 438.1 337.3)"/><ellipse cx="478.5" cy="318.5" rx="1.8" ry="0.9" transform="rotate(173 478.5 318.5)"/><ellipse cx="435.0" cy="326.8" rx="1.7" ry="0.9" transform="rotate(165 435.0 326.8)"/><ellipse cx="422.4" cy="341.5" rx="1.7" ry="0.9" transform="rotate(152 422.4 341.5)"/><ellipse cx="486.4" cy="331.9" rx="1.1" ry="0.8" transform="rotate(63 486.4 331.9)"/><ellipse cx="432.8" cy="303.7" rx="1.4" ry="0.9" transform="rotate(135 432.8 303.7)"/><ellipse cx="437.4" cy="339.9" rx="2.1" ry="0.8" transform="rotate(34 437.4 339.9)"/><ellipse cx="503.3" cy="282.0" rx="1.7" ry="0.7" transform="rotate(110 503.3 282.0)"/><ellipse cx="476.3" cy="308.7" rx="1.0" ry="0.9" transform="rotate(160 476.3 308.7)"/><ellipse cx="423.2" cy="330.2" rx="2.0" ry="1.0" transform="rotate(11 423.2 330.2)"/><ellipse cx="506.8" cy="309.7" rx="1.8" ry="0.6" transform="rotate(19 506.8 309.7)"/><ellipse cx="431.8" cy="292.8" rx="1.0" ry="0.9" transform="rotate(97 431.8 292.8)"/><ellipse cx="439.7" cy="290.9" rx="1.6" ry="1.2" transform="rotate(168 439.7 290.9)"/><ellipse cx="486.4" cy="298.7" rx="1.8" ry="0.8" transform="rotate(150 486.4 298.7)"/><ellipse cx="448.5" cy="295.5" rx="2.1" ry="1.1" transform="rotate(70 448.5 295.5)"/><ellipse cx="426.4" cy="301.8" rx="2.0" ry="0.9" transform="rotate(29 426.4 301.8)"/><ellipse cx="461.5" cy="324.5" rx="0.9" ry="0.7" transform="rotate(154 461.5 324.5)"/><ellipse cx="428.3" cy="338.0" rx="1.3" ry="0.8" transform="rotate(64 428.3 338.0)"/><ellipse cx="436.4" cy="284.7" rx="2.1" ry="0.8" transform="rotate(66 436.4 284.7)"/><ellipse cx="427.5" cy="296.2" rx="1.9" ry="1.0" transform="rotate(75 427.5 296.2)"/><ellipse cx="470.7" cy="293.0" rx="1.1" ry="0.8" transform="rotate(20 470.7 293.0)"/><ellipse cx="501.1" cy="272.1" rx="1.8" ry="0.7" transform="rotate(73 501.1 272.1)"/><ellipse cx="466.1" cy="327.6" rx="1.3" ry="1.1" transform="rotate(101 466.1 327.6)"/><ellipse cx="468.1" cy="311.7" rx="1.9" ry="0.8" transform="rotate(61 468.1 311.7)"/><ellipse cx="473.5" cy="301.2" rx="1.2" ry="0.8" transform="rotate(75 473.5 301.2)"/><ellipse cx="469.0" cy="310.0" rx="1.8" ry="1.1" transform="rotate(39 469.0 310.0)"/><ellipse cx="479.6" cy="314.0" rx="1.7" ry="0.8" transform="rotate(149 479.6 314.0)"/><ellipse cx="432.3" cy="291.2" rx="1.3" ry="0.7" transform="rotate(85 432.3 291.2)"/><ellipse cx="507.1" cy="332.9" rx="1.5" ry="1.2" transform="rotate(24 507.1 332.9)"/><ellipse cx="505.1" cy="290.0" rx="1.2" ry="0.6" transform="rotate(35 505.1 290.0)"/><ellipse cx="495.9" cy="333.6" rx="2.1" ry="0.8" transform="rotate(4 495.9 333.6)"/><ellipse cx="453.3" cy="319.8" rx="1.9" ry="0.7" transform="rotate(14 453.3 319.8)"/><ellipse cx="427.7" cy="295.3" rx="1.4" ry="0.6" transform="rotate(38 427.7 295.3)"/><ellipse cx="458.4" cy="322.2" rx="1.5" ry="0.8" transform="rotate(65 458.4 322.2)"/><ellipse cx="438.5" cy="331.4" rx="1.8" ry="0.9" transform="rotate(109 438.5 331.4)"/><ellipse cx="477.5" cy="300.2" rx="1.7" ry="0.8" transform="rotate(89 477.5 300.2)"/><ellipse cx="453.4" cy="276.4" rx="1.1" ry="0.9" transform="rotate(142 453.4 276.4)"/><ellipse cx="452.5" cy="277.3" rx="1.6" ry="1.0" transform="rotate(76 452.5 277.3)"/><ellipse cx="429.9" cy="298.6" rx="1.6" ry="0.9" transform="rotate(173 429.9 298.6)"/><ellipse cx="467.8" cy="278.1" rx="1.2" ry="1.0" transform="rotate(171 467.8 278.1)"/><ellipse cx="438.4" cy="311.4" rx="1.1" ry="1.0" transform="rotate(16 438.4 311.4)"/><ellipse cx="432.3" cy="309.1" rx="1.8" ry="1.1" transform="rotate(110 432.3 309.1)"/><ellipse cx="488.4" cy="315.1" rx="1.8" ry="0.7" transform="rotate(69 488.4 315.1)"/><ellipse cx="446.6" cy="290.1" rx="1.3" ry="1.0" transform="rotate(51 446.6 290.1)"/><ellipse cx="509.7" cy="311.8" rx="1.6" ry="0.9" transform="rotate(165 509.7 311.8)"/><ellipse cx="463.7" cy="279.7" rx="1.2" ry="0.8" transform="rotate(135 463.7 279.7)"/><ellipse cx="421.2" cy="296.1" rx="1.3" ry="0.7" transform="rotate(88 421.2 296.1)"/><ellipse cx="477.9" cy="312.8" rx="1.4" ry="0.8" transform="rotate(101 477.9 312.8)"/><ellipse cx="465.8" cy="290.6" rx="1.7" ry="0.8" transform="rotate(37 465.8 290.6)"/><ellipse cx="428.8" cy="335.0" rx="1.3" ry="0.9" transform="rotate(58 428.8 335.0)"/><ellipse cx="490.6" cy="319.6" rx="1.7" ry="0.8" transform="rotate(32 490.6 319.6)"/><ellipse cx="495.7" cy="340.7" rx="1.8" ry="0.9" transform="rotate(175 495.7 340.7)"/><ellipse cx="492.4" cy="334.9" rx="1.1" ry="0.8" transform="rotate(77 492.4 334.9)"/><ellipse cx="454.4" cy="296.2" rx="1.3" ry="0.9" transform="rotate(83 454.4 296.2)"/><ellipse cx="433.5" cy="311.8" rx="1.6" ry="0.7" transform="rotate(48 433.5 311.8)"/><ellipse cx="474.5" cy="300.5" rx="1.1" ry="0.8" transform="rotate(160 474.5 300.5)"/><ellipse cx="457.8" cy="297.6" rx="1.7" ry="0.6" transform="rotate(64 457.8 297.6)"/><ellipse cx="456.8" cy="299.6" rx="2.1" ry="1.1" transform="rotate(156 456.8 299.6)"/><ellipse cx="498.6" cy="341.2" rx="1.7" ry="0.6" transform="rotate(179 498.6 341.2)"/><ellipse cx="500.4" cy="306.0" rx="1.1" ry="0.9" transform="rotate(5 500.4 306.0)"/><ellipse cx="486.3" cy="339.2" rx="2.1" ry="0.6" transform="rotate(147 486.3 339.2)"/><ellipse cx="461.0" cy="328.1" rx="1.2" ry="0.9" transform="rotate(146 461.0 328.1)"/><ellipse cx="443.4" cy="281.3" rx="1.4" ry="1.1" transform="rotate(149 443.4 281.3)"/><ellipse cx="424.4" cy="336.6" rx="1.5" ry="0.9" transform="rotate(145 424.4 336.6)"/><ellipse cx="446.7" cy="307.7" rx="1.8" ry="0.9" transform="rotate(131 446.7 307.7)"/><ellipse cx="433.4" cy="290.8" rx="1.4" ry="0.8" transform="rotate(175 433.4 290.8)"/><ellipse cx="458.1" cy="331.6" rx="1.6" ry="0.8" transform="rotate(70 458.1 331.6)"/><ellipse cx="440.8" cy="292.6" rx="1.9" ry="1.2" transform="rotate(40 440.8 292.6)"/><ellipse cx="491.8" cy="307.2" rx="1.6" ry="1.1" transform="rotate(108 491.8 307.2)"/><ellipse cx="433.3" cy="274.0" rx="1.5" ry="1.0" transform="rotate(129 433.3 274.0)"/><ellipse cx="505.8" cy="284.5" rx="1.8" ry="1.0" transform="rotate(137 505.8 284.5)"/><ellipse cx="456.7" cy="313.6" rx="1.0" ry="0.9" transform="rotate(95 456.7 313.6)"/><ellipse cx="421.1" cy="293.9" rx="2.1" ry="1.1" transform="rotate(122 421.1 293.9)"/><ellipse cx="451.2" cy="271.2" rx="1.0" ry="1.0" transform="rotate(164 451.2 271.2)"/><ellipse cx="440.4" cy="330.5" rx="2.1" ry="0.7" transform="rotate(17 440.4 330.5)"/><ellipse cx="477.1" cy="331.8" rx="1.4" ry="0.8" transform="rotate(29 477.1 331.8)"/><ellipse cx="507.2" cy="314.0" rx="2.2" ry="0.9" transform="rotate(163 507.2 314.0)"/><ellipse cx="494.7" cy="307.0" rx="2.2" ry="0.8" transform="rotate(76 494.7 307.0)"/><ellipse cx="456.5" cy="295.1" rx="1.3" ry="0.8" transform="rotate(40 456.5 295.1)"/><ellipse cx="500.6" cy="324.4" rx="2.0" ry="1.0" transform="rotate(101 500.6 324.4)"/><ellipse cx="507.8" cy="282.3" rx="2.0" ry="0.8" transform="rotate(54 507.8 282.3)"/><ellipse cx="421.2" cy="288.4" rx="1.7" ry="1.1" transform="rotate(30 421.2 288.4)"/><ellipse cx="460.7" cy="308.6" rx="1.2" ry="0.6" transform="rotate(65 460.7 308.6)"/><ellipse cx="511.7" cy="302.8" rx="1.7" ry="1.2" transform="rotate(130 511.7 302.8)"/><ellipse cx="500.1" cy="324.9" rx="2.2" ry="0.7" transform="rotate(62 500.1 324.9)"/><ellipse cx="475.3" cy="306.2" rx="2.0" ry="0.7" transform="rotate(9 475.3 306.2)"/><ellipse cx="466.9" cy="305.2" rx="1.4" ry="1.1" transform="rotate(61 466.9 305.2)"/><ellipse cx="506.5" cy="318.7" rx="1.1" ry="0.6" transform="rotate(95 506.5 318.7)"/><ellipse cx="478.8" cy="323.7" rx="1.3" ry="1.0" transform="rotate(152 478.8 323.7)"/><ellipse cx="454.5" cy="278.9" rx="2.1" ry="0.9" transform="rotate(136 454.5 278.9)"/><ellipse cx="490.2" cy="331.4" rx="1.7" ry="0.8" transform="rotate(11 490.2 331.4)"/><ellipse cx="457.1" cy="327.2" rx="2.0" ry="1.1" transform="rotate(52 457.1 327.2)"/><ellipse cx="423.1" cy="284.6" rx="1.3" ry="1.2" transform="rotate(176 423.1 284.6)"/><ellipse cx="485.1" cy="306.4" rx="1.6" ry="0.9" transform="rotate(64 485.1 306.4)"/><ellipse cx="439.7" cy="328.0" rx="0.9" ry="1.1" transform="rotate(174 439.7 328.0)"/><ellipse cx="510.5" cy="315.7" rx="1.2" ry="0.7" transform="rotate(76 510.5 315.7)"/><ellipse cx="510.9" cy="279.4" rx="1.7" ry="0.9" transform="rotate(126 510.9 279.4)"/><ellipse cx="472.0" cy="339.1" rx="1.6" ry="1.0" transform="rotate(101 472.0 339.1)"/><ellipse cx="483.7" cy="310.2" rx="2.2" ry="1.0" transform="rotate(140 483.7 310.2)"/><ellipse cx="503.8" cy="282.1" rx="1.5" ry="1.1" transform="rotate(87 503.8 282.1)"/><ellipse cx="451.5" cy="294.7" rx="1.2" ry="0.9" transform="rotate(87 451.5 294.7)"/><ellipse cx="476.7" cy="288.9" rx="1.9" ry="1.1" transform="rotate(36 476.7 288.9)"/><ellipse cx="477.4" cy="321.5" rx="1.7" ry="0.9" transform="rotate(18 477.4 321.5)"/><ellipse cx="421.8" cy="291.1" rx="1.2" ry="0.7" transform="rotate(159 421.8 291.1)"/><ellipse cx="472.8" cy="280.6" rx="1.8" ry="0.7" transform="rotate(74 472.8 280.6)"/><ellipse cx="464.5" cy="276.0" rx="2.1" ry="0.9" transform="rotate(64 464.5 276.0)"/><ellipse cx="498.4" cy="315.4" rx="1.8" ry="1.1" transform="rotate(70 498.4 315.4)"/><ellipse cx="469.0" cy="315.4" rx="1.2" ry="1.0" transform="rotate(164 469.0 315.4)"/><ellipse cx="487.4" cy="334.7" rx="2.0" ry="1.1" transform="rotate(84 487.4 334.7)"/><ellipse cx="469.5" cy="288.9" rx="1.7" ry="0.9" transform="rotate(71 469.5 288.9)"/><ellipse cx="493.6" cy="321.3" rx="2.1" ry="0.8" transform="rotate(95 493.6 321.3)"/><ellipse cx="477.4" cy="291.0" rx="2.0" ry="0.7" transform="rotate(168 477.4 291.0)"/><ellipse cx="508.8" cy="318.3" rx="1.2" ry="0.8" transform="rotate(70 508.8 318.3)"/><ellipse cx="475.0" cy="324.0" rx="1.4" ry="1.1" transform="rotate(113 475.0 324.0)"/><ellipse cx="478.7" cy="318.3" rx="1.5" ry="0.7" transform="rotate(50 478.7 318.3)"/><ellipse cx="462.4" cy="287.2" rx="1.5" ry="1.2" transform="rotate(83 462.4 287.2)"/><ellipse cx="455.3" cy="276.2" rx="1.7" ry="1.0" transform="rotate(80 455.3 276.2)"/><ellipse cx="498.5" cy="326.2" rx="1.4" ry="0.6" transform="rotate(78 498.5 326.2)"/><ellipse cx="488.4" cy="274.9" rx="1.3" ry="1.0" transform="rotate(75 488.4 274.9)"/><ellipse cx="448.8" cy="288.7" rx="1.6" ry="0.8" transform="rotate(173 448.8 288.7)"/><ellipse cx="498.1" cy="280.4" rx="1.3" ry="1.1" transform="rotate(170 498.1 280.4)"/><ellipse cx="462.2" cy="336.1" rx="1.0" ry="1.1" transform="rotate(27 462.2 336.1)"/><ellipse cx="458.4" cy="275.8" rx="2.0" ry="1.1" transform="rotate(126 458.4 275.8)"/><ellipse cx="422.6" cy="332.8" rx="1.6" ry="0.8" transform="rotate(86 422.6 332.8)"/><ellipse cx="459.5" cy="278.8" rx="1.4" ry="1.2" transform="rotate(124 459.5 278.8)"/><ellipse cx="425.8" cy="321.0" rx="1.7" ry="0.7" transform="rotate(54 425.8 321.0)"/><ellipse cx="493.5" cy="284.4" rx="1.3" ry="0.9" transform="rotate(52 493.5 284.4)"/><ellipse cx="499.2" cy="273.9" rx="1.7" ry="0.7" transform="rotate(123 499.2 273.9)"/><ellipse cx="455.2" cy="280.1" rx="2.0" ry="1.1" transform="rotate(166 455.2 280.1)"/><ellipse cx="476.4" cy="303.8" rx="1.9" ry="0.9" transform="rotate(103 476.4 303.8)"/><ellipse cx="504.5" cy="339.0" rx="1.9" ry="0.9" transform="rotate(5 504.5 339.0)"/><ellipse cx="430.5" cy="282.7" rx="1.7" ry="0.8" transform="rotate(142 430.5 282.7)"/><ellipse cx="508.7" cy="318.1" rx="1.5" ry="1.0" transform="rotate(159 508.7 318.1)"/><ellipse cx="444.6" cy="313.9" rx="1.3" ry="0.9" transform="rotate(142 444.6 313.9)"/><ellipse cx="479.8" cy="334.8" rx="1.6" ry="0.7" transform="rotate(27 479.8 334.8)"/><ellipse cx="473.6" cy="291.7" rx="1.7" ry="1.1" transform="rotate(106 473.6 291.7)"/><ellipse cx="481.6" cy="307.5" rx="0.9" ry="0.7" transform="rotate(116 481.6 307.5)"/><ellipse cx="499.9" cy="302.2" rx="1.9" ry="1.1" transform="rotate(131 499.9 302.2)"/><ellipse cx="453.3" cy="341.5" rx="1.2" ry="1.1" transform="rotate(111 453.3 341.5)"/><ellipse cx="440.8" cy="314.2" rx="1.9" ry="0.9" transform="rotate(69 440.8 314.2)"/><ellipse cx="479.1" cy="320.7" rx="1.3" ry="0.7" transform="rotate(160 479.1 320.7)"/><ellipse cx="467.9" cy="285.2" rx="2.1" ry="1.0" transform="rotate(69 467.9 285.2)"/><ellipse cx="444.4" cy="292.9" rx="1.9" ry="0.6" transform="rotate(3 444.4 292.9)"/><ellipse cx="440.7" cy="290.9" rx="1.1" ry="0.7" transform="rotate(149 440.7 290.9)"/><ellipse cx="422.5" cy="338.5" rx="1.6" ry="0.8" transform="rotate(68 422.5 338.5)"/><ellipse cx="433.7" cy="307.4" rx="1.6" ry="1.1" transform="rotate(136 433.7 307.4)"/><ellipse cx="505.7" cy="321.8" rx="1.1" ry="0.7" transform="rotate(110 505.7 321.8)"/><ellipse cx="449.2" cy="276.8" rx="1.6" ry="0.7" transform="rotate(92 449.2 276.8)"/><ellipse cx="492.8" cy="319.6" rx="1.0" ry="0.6" transform="rotate(91 492.8 319.6)"/><ellipse cx="460.3" cy="320.7" rx="1.8" ry="0.6" transform="rotate(179 460.3 320.7)"/><ellipse cx="505.6" cy="340.4" rx="1.9" ry="0.8" transform="rotate(179 505.6 340.4)"/><ellipse cx="446.8" cy="339.6" rx="1.0" ry="0.8" transform="rotate(140 446.8 339.6)"/><ellipse cx="471.3" cy="320.1" rx="1.8" ry="0.7" transform="rotate(110 471.3 320.1)"/><ellipse cx="441.8" cy="294.8" rx="2.0" ry="0.7" transform="rotate(63 441.8 294.8)"/><ellipse cx="504.4" cy="310.6" rx="1.3" ry="0.7" transform="rotate(117 504.4 310.6)"/><ellipse cx="498.3" cy="328.4" rx="1.5" ry="1.2" transform="rotate(142 498.3 328.4)"/><ellipse cx="452.3" cy="293.8" rx="1.3" ry="0.7" transform="rotate(40 452.3 293.8)"/><ellipse cx="502.9" cy="338.3" rx="1.7" ry="1.2" transform="rotate(83 502.9 338.3)"/><ellipse cx="486.5" cy="279.1" rx="2.1" ry="1.1" transform="rotate(103 486.5 279.1)"/><ellipse cx="501.7" cy="341.2" rx="1.8" ry="1.0" transform="rotate(67 501.7 341.2)"/><ellipse cx="477.9" cy="333.0" rx="1.5" ry="0.9" transform="rotate(38 477.9 333.0)"/><ellipse cx="432.0" cy="312.4" rx="1.9" ry="0.6" transform="rotate(37 432.0 312.4)"/><ellipse cx="478.3" cy="328.0" rx="1.1" ry="0.9" transform="rotate(157 478.3 328.0)"/><ellipse cx="444.3" cy="286.0" rx="1.7" ry="1.1" transform="rotate(179 444.3 286.0)"/><ellipse cx="473.0" cy="323.5" rx="1.3" ry="1.1" transform="rotate(153 473.0 323.5)"/><ellipse cx="502.8" cy="335.2" rx="2.1" ry="1.0" transform="rotate(70 502.8 335.2)"/><ellipse cx="465.8" cy="319.0" rx="0.9" ry="0.9" transform="rotate(152 465.8 319.0)"/><ellipse cx="460.5" cy="279.5" rx="1.3" ry="1.0" transform="rotate(87 460.5 279.5)"/><ellipse cx="432.4" cy="334.8" rx="1.3" ry="1.0" transform="rotate(103 432.4 334.8)"/><ellipse cx="488.1" cy="336.5" rx="1.5" ry="1.1" transform="rotate(157 488.1 336.5)"/><ellipse cx="503.4" cy="305.1" rx="1.2" ry="1.0" transform="rotate(22 503.4 305.1)"/><ellipse cx="455.5" cy="284.2" rx="1.8" ry="0.8" transform="rotate(102 455.5 284.2)"/><ellipse cx="499.2" cy="311.5" rx="1.6" ry="1.2" transform="rotate(14 499.2 311.5)"/><ellipse cx="429.9" cy="331.1" rx="1.2" ry="1.1" transform="rotate(30 429.9 331.1)"/><ellipse cx="478.6" cy="304.9" rx="1.5" ry="0.9" transform="rotate(83 478.6 304.9)"/><ellipse cx="489.8" cy="282.6" rx="1.5" ry="0.9" transform="rotate(59 489.8 282.6)"/><ellipse cx="431.1" cy="296.6" rx="1.2" ry="0.8" transform="rotate(73 431.1 296.6)"/></g>
<rect x="421" y="270.1" width="91.8" height="71.9" filter="url(#nMd)" opacity="0.6"/>
<rect x="421" y="270.1" width="91.8" height="71.9" filter="url(#nFl)" opacity="0.25"/>
<ellipse cx="472.0" cy="277.0" rx="0.9" ry="0.9" fill="#2a2a32"/>
<ellipse cx="484.5" cy="299.5" rx="0.9" ry="0.9" fill="#2a2a32"/>
<ellipse cx="504.0" cy="304.0" rx="0.9" ry="0.9" fill="#2a2a32"/>
<ellipse cx="508.0" cy="320.0" rx="0.9" ry="0.9" fill="#2a2a32"/>
<ellipse cx="458.0" cy="331.0" rx="0.9" ry="0.9" fill="#2a2a32"/>
<ellipse cx="442.0" cy="285.0" rx="0.9" ry="0.9" fill="#2a2a32"/>
<ellipse cx="461.0" cy="307.5" rx="1.1" ry="1.3" fill="#3a2a1a"/>
</g>
<rect x="364.60" y="244.00" width="30.70" height="20.80" fill="none" stroke="#111" stroke-width="1.3"/>
<line x1="395.30" y1="264.20" x2="416.70" y2="264.20" stroke="#151515" stroke-width="1.2"/>
<line x1="396.5" y1="249.4" x2="423" y2="249.4" stroke="#111" stroke-width="1.3" stroke-dasharray="1.6 1.5"/>
<polygon points="422.4,246.6 427.7,249.4 422.4,252.2" fill="#111"/>
<rect x="354.80" y="305.60" width="30.00" height="21.80" fill="none" stroke="#111" stroke-width="1.3"/>
<line x1="390.20" y1="337.10" x2="416.70" y2="337.10" stroke="#151515" stroke-width="1.2"/>
<line x1="386" y1="318.5" x2="423.5" y2="318.5" stroke="#111" stroke-width="1.3" stroke-dasharray="1.6 1.5"/>
<polygon points="423.2,315.7 427.7,318.5 423.2,321.3" fill="#111"/>
<line x1="462.00" y1="209.50" x2="467.50" y2="209.50" stroke="#000" stroke-width="1.6"/>
<polygon points="466.5,206.8 471.2,209.5 466.5,212.2" fill="#000"/>
<line x1="470.00" y1="263.80" x2="511.50" y2="263.80" stroke="#151515" stroke-width="1.3"/>
<line x1="448.00" y1="307.00" x2="454.50" y2="307.00" stroke="#000" stroke-width="1.6"/>
<polygon points="453.8,304.3 458.6,307 453.8,309.7" fill="#000"/>
<line x1="470.00" y1="337.30" x2="511.50" y2="337.30" stroke="#151515" stroke-width="1.3"/>
<text x="278.30" y="191.50" font-size="7.9" text-anchor="middle" fill="#1a1a1a" class="lt" letter-spacing="0.3">H&amp;E</text>
<text x="371.80" y="191.50" font-size="7.9" text-anchor="middle" fill="#1a1a1a" class="lt" letter-spacing="0.3">FoxP3</text>
<text x="466.60" y="191.50" font-size="7.9" text-anchor="middle" fill="#1a1a1a" class="lt" letter-spacing="0.3">600X Magnified FoxP3</text>
<text x="303.30" y="352.60" font-size="8.3" text-anchor="start" fill="#1a1a1a" class="lt">Top panels = WT</text>
<text x="399.70" y="352.60" font-size="8.2" text-anchor="start" fill="#1a1a1a" class="lt">Bottom Panels = AhR<tspan dy="-3.44" font-size="5.08">-/-</tspan></text>
</svg>
</body></html>
